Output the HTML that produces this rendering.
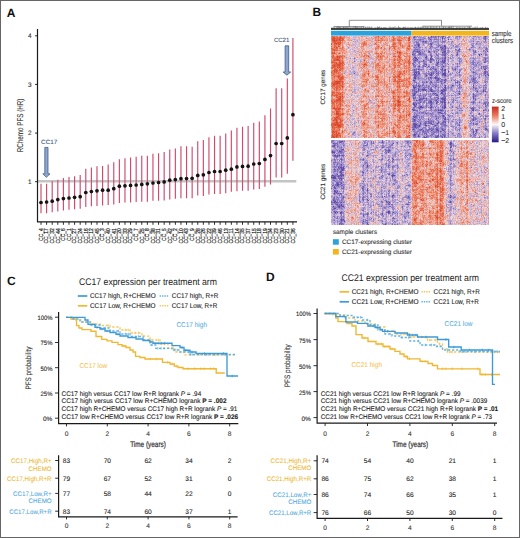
<!DOCTYPE html>
<html><head><meta charset="utf-8"><style>
html,body{margin:0;padding:0;background:#fff;}
svg{display:block;font-family:"Liberation Sans", sans-serif;} text{text-rendering:geometricPrecision;}
</style></head><body>
<svg width="520" height="538" viewBox="0 0 520 538">
<rect x="0" y="0" width="520" height="538" fill="#fff"/>
<text x="6.70" y="16.90" font-size="12.0" fill="#111" font-weight="bold">A</text>
<line x1="38" y1="181.3" x2="296.3" y2="181.3" stroke="#c4c4c4" stroke-width="2.4"/>
<path d="M41.00 183.8V213.3M46.60 183.8V213.2M52.20 181.3V212.2M57.79 179.8V211.4M63.39 178.0V210.5M68.99 177.0V209.8M74.59 176.2V209.2M80.19 175.0V208.7M85.78 168.8V207.0M91.38 167.5V206.3M96.98 166.3V206.0M102.58 166.0V205.4M108.18 164.6V205.0M113.77 162.3V204.4M119.37 159.2V203.0M124.97 158.3V202.5M130.57 157.5V202.5M136.17 156.7V202.0M141.76 155.8V201.7M147.36 155.8V201.7M152.96 153.7V200.8M158.56 153.3V200.8M164.16 152.1V200.4M169.75 149.4V199.4M175.35 148.5V198.8M180.95 146.3V198.3M186.55 146.3V198.3M192.15 146.7V198.3M197.74 141.2V195.6M203.34 140.0V196.0M208.94 137.3V194.4M214.54 135.8V194.0M220.14 135.8V194.0M225.73 133.5V193.3M231.33 130.6V191.8M236.93 127.7V191.2M242.53 126.8V190.7M248.13 126.0V190.7M253.72 122.7V189.6M259.32 121.5V189.1M264.92 115.3V186.8M270.52 108.5V184.4M276.12 88.2V177.4M281.71 88.2V177.4M287.31 78.5V173.7M292.91 38.0V160.8" stroke="#cf4a6c" stroke-width="1.15" fill="none"/>
<circle cx="41.00" cy="202.5" r="1.85" fill="#141414"/>
<circle cx="46.60" cy="202.0" r="1.85" fill="#141414"/>
<circle cx="52.20" cy="201.2" r="1.85" fill="#141414"/>
<circle cx="57.79" cy="199.6" r="1.85" fill="#141414"/>
<circle cx="63.39" cy="198.6" r="1.85" fill="#141414"/>
<circle cx="68.99" cy="198.0" r="1.85" fill="#141414"/>
<circle cx="74.59" cy="197.3" r="1.85" fill="#141414"/>
<circle cx="80.19" cy="196.7" r="1.85" fill="#141414"/>
<circle cx="85.78" cy="192.5" r="1.85" fill="#141414"/>
<circle cx="91.38" cy="191.5" r="1.85" fill="#141414"/>
<circle cx="96.98" cy="190.8" r="1.85" fill="#141414"/>
<circle cx="102.58" cy="190.2" r="1.85" fill="#141414"/>
<circle cx="108.18" cy="190.2" r="1.85" fill="#141414"/>
<circle cx="113.77" cy="188.7" r="1.85" fill="#141414"/>
<circle cx="119.37" cy="186.2" r="1.85" fill="#141414"/>
<circle cx="124.97" cy="185.8" r="1.85" fill="#141414"/>
<circle cx="130.57" cy="185.4" r="1.85" fill="#141414"/>
<circle cx="136.17" cy="185.0" r="1.85" fill="#141414"/>
<circle cx="141.76" cy="184.4" r="1.85" fill="#141414"/>
<circle cx="147.36" cy="183.8" r="1.85" fill="#141414"/>
<circle cx="152.96" cy="183.0" r="1.85" fill="#141414"/>
<circle cx="158.56" cy="182.5" r="1.85" fill="#141414"/>
<circle cx="164.16" cy="181.9" r="1.85" fill="#141414"/>
<circle cx="169.75" cy="180.2" r="1.85" fill="#141414"/>
<circle cx="175.35" cy="179.6" r="1.85" fill="#141414"/>
<circle cx="180.95" cy="178.7" r="1.85" fill="#141414"/>
<circle cx="186.55" cy="178.5" r="1.85" fill="#141414"/>
<circle cx="192.15" cy="178.3" r="1.85" fill="#141414"/>
<circle cx="197.74" cy="175.4" r="1.85" fill="#141414"/>
<circle cx="203.34" cy="174.8" r="1.85" fill="#141414"/>
<circle cx="208.94" cy="172.5" r="1.85" fill="#141414"/>
<circle cx="214.54" cy="171.5" r="1.85" fill="#141414"/>
<circle cx="220.14" cy="171.5" r="1.85" fill="#141414"/>
<circle cx="225.73" cy="170.2" r="1.85" fill="#141414"/>
<circle cx="231.33" cy="169.2" r="1.85" fill="#141414"/>
<circle cx="236.93" cy="166.9" r="1.85" fill="#141414"/>
<circle cx="242.53" cy="166.4" r="1.85" fill="#141414"/>
<circle cx="248.13" cy="166.2" r="1.85" fill="#141414"/>
<circle cx="253.72" cy="164.0" r="1.85" fill="#141414"/>
<circle cx="259.32" cy="163.5" r="1.85" fill="#141414"/>
<circle cx="264.92" cy="159.4" r="1.85" fill="#141414"/>
<circle cx="270.52" cy="155.6" r="1.85" fill="#141414"/>
<circle cx="276.12" cy="143.5" r="1.85" fill="#141414"/>
<circle cx="281.71" cy="143.5" r="1.85" fill="#141414"/>
<circle cx="287.31" cy="137.9" r="1.85" fill="#141414"/>
<circle cx="292.91" cy="114.7" r="1.85" fill="#141414"/>
<path d="M37.5 29V222.3M37 221.8H297" stroke="#1a1a1a" stroke-width="1.2" fill="none"/>
<text x="31.60" y="38.10" font-size="6.4" fill="#333" stroke="#333" stroke-width="0.1" text-anchor="end">4</text>
<text x="31.60" y="86.70" font-size="6.4" fill="#333" stroke="#333" stroke-width="0.1" text-anchor="end">3</text>
<text x="31.60" y="135.40" font-size="6.4" fill="#333" stroke="#333" stroke-width="0.1" text-anchor="end">2</text>
<text x="31.60" y="184.00" font-size="6.4" fill="#333" stroke="#333" stroke-width="0.1" text-anchor="end">1</text>
<path d="M35 35.8H37.5M35 84.4H37.5M35 133.1H37.5M35 181.7H37.5M41.00 222V224.8M46.60 222V224.8M52.20 222V224.8M57.79 222V224.8M63.39 222V224.8M68.99 222V224.8M74.59 222V224.8M80.19 222V224.8M85.78 222V224.8M91.38 222V224.8M96.98 222V224.8M102.58 222V224.8M108.18 222V224.8M113.77 222V224.8M119.37 222V224.8M124.97 222V224.8M130.57 222V224.8M136.17 222V224.8M141.76 222V224.8M147.36 222V224.8M152.96 222V224.8M158.56 222V224.8M164.16 222V224.8M169.75 222V224.8M175.35 222V224.8M180.95 222V224.8M186.55 222V224.8M192.15 222V224.8M197.74 222V224.8M203.34 222V224.8M208.94 222V224.8M214.54 222V224.8M220.14 222V224.8M225.73 222V224.8M231.33 222V224.8M236.93 222V224.8M242.53 222V224.8M248.13 222V224.8M253.72 222V224.8M259.32 222V224.8M264.92 222V224.8M270.52 222V224.8M276.12 222V224.8M281.71 222V224.8M287.31 222V224.8M292.91 222V224.8" stroke="#1a1a1a" stroke-width="0.9" fill="none"/>
<text x="42.80" y="228.30" font-size="6.0" fill="#222" stroke="#222" stroke-width="0.2" text-anchor="end" textLength="12.60" lengthAdjust="spacingAndGlyphs" transform="rotate(-90 42.80 228.30)">CC_4</text>
<text x="48.40" y="228.30" font-size="6.0" fill="#222" stroke="#222" stroke-width="0.2" text-anchor="end" textLength="15.30" lengthAdjust="spacingAndGlyphs" transform="rotate(-90 48.40 228.30)">CC_17</text>
<text x="54.00" y="228.30" font-size="6.0" fill="#222" stroke="#222" stroke-width="0.2" text-anchor="end" textLength="15.30" lengthAdjust="spacingAndGlyphs" transform="rotate(-90 54.00 228.30)">CC_32</text>
<text x="59.59" y="228.30" font-size="6.0" fill="#222" stroke="#222" stroke-width="0.2" text-anchor="end" textLength="15.30" lengthAdjust="spacingAndGlyphs" transform="rotate(-90 59.59 228.30)">CC_44</text>
<text x="65.19" y="228.30" font-size="6.0" fill="#222" stroke="#222" stroke-width="0.2" text-anchor="end" textLength="12.60" lengthAdjust="spacingAndGlyphs" transform="rotate(-90 65.19 228.30)">CC_6</text>
<text x="70.79" y="228.30" font-size="6.0" fill="#222" stroke="#222" stroke-width="0.2" text-anchor="end" textLength="12.60" lengthAdjust="spacingAndGlyphs" transform="rotate(-90 70.79 228.30)">CC_1</text>
<text x="76.39" y="228.30" font-size="6.0" fill="#222" stroke="#222" stroke-width="0.2" text-anchor="end" textLength="15.30" lengthAdjust="spacingAndGlyphs" transform="rotate(-90 76.39 228.30)">CC_27</text>
<text x="81.99" y="228.30" font-size="6.0" fill="#222" stroke="#222" stroke-width="0.2" text-anchor="end" textLength="15.30" lengthAdjust="spacingAndGlyphs" transform="rotate(-90 81.99 228.30)">CC_24</text>
<text x="87.58" y="228.30" font-size="6.0" fill="#222" stroke="#222" stroke-width="0.2" text-anchor="end" textLength="15.30" lengthAdjust="spacingAndGlyphs" transform="rotate(-90 87.58 228.30)">CC_16</text>
<text x="93.18" y="228.30" font-size="6.0" fill="#222" stroke="#222" stroke-width="0.2" text-anchor="end" textLength="15.30" lengthAdjust="spacingAndGlyphs" transform="rotate(-90 93.18 228.30)">CC_12</text>
<text x="98.78" y="228.30" font-size="6.0" fill="#222" stroke="#222" stroke-width="0.2" text-anchor="end" textLength="15.30" lengthAdjust="spacingAndGlyphs" transform="rotate(-90 98.78 228.30)">CC_45</text>
<text x="104.38" y="228.30" font-size="6.0" fill="#222" stroke="#222" stroke-width="0.2" text-anchor="end" textLength="12.60" lengthAdjust="spacingAndGlyphs" transform="rotate(-90 104.38 228.30)">CC_3</text>
<text x="109.98" y="228.30" font-size="6.0" fill="#222" stroke="#222" stroke-width="0.2" text-anchor="end" textLength="15.30" lengthAdjust="spacingAndGlyphs" transform="rotate(-90 109.98 228.30)">CC_40</text>
<text x="115.57" y="228.30" font-size="6.0" fill="#222" stroke="#222" stroke-width="0.2" text-anchor="end" textLength="15.30" lengthAdjust="spacingAndGlyphs" transform="rotate(-90 115.57 228.30)">CC_41</text>
<text x="121.17" y="228.30" font-size="6.0" fill="#222" stroke="#222" stroke-width="0.2" text-anchor="end" textLength="15.30" lengthAdjust="spacingAndGlyphs" transform="rotate(-90 121.17 228.30)">CC_20</text>
<text x="126.77" y="228.30" font-size="6.0" fill="#222" stroke="#222" stroke-width="0.2" text-anchor="end" textLength="15.30" lengthAdjust="spacingAndGlyphs" transform="rotate(-90 126.77 228.30)">CC_33</text>
<text x="132.37" y="228.30" font-size="6.0" fill="#222" stroke="#222" stroke-width="0.2" text-anchor="end" textLength="15.30" lengthAdjust="spacingAndGlyphs" transform="rotate(-90 132.37 228.30)">CC_29</text>
<text x="137.97" y="228.30" font-size="6.0" fill="#222" stroke="#222" stroke-width="0.2" text-anchor="end" textLength="12.60" lengthAdjust="spacingAndGlyphs" transform="rotate(-90 137.97 228.30)">CC_7</text>
<text x="143.56" y="228.30" font-size="6.0" fill="#222" stroke="#222" stroke-width="0.2" text-anchor="end" textLength="15.30" lengthAdjust="spacingAndGlyphs" transform="rotate(-90 143.56 228.30)">CC_25</text>
<text x="149.16" y="228.30" font-size="6.0" fill="#222" stroke="#222" stroke-width="0.2" text-anchor="end" textLength="12.60" lengthAdjust="spacingAndGlyphs" transform="rotate(-90 149.16 228.30)">CC_8</text>
<text x="154.76" y="228.30" font-size="6.0" fill="#222" stroke="#222" stroke-width="0.2" text-anchor="end" textLength="15.30" lengthAdjust="spacingAndGlyphs" transform="rotate(-90 154.76 228.30)">CC_38</text>
<text x="160.36" y="228.30" font-size="6.0" fill="#222" stroke="#222" stroke-width="0.2" text-anchor="end" textLength="15.30" lengthAdjust="spacingAndGlyphs" transform="rotate(-90 160.36 228.30)">CC_31</text>
<text x="165.96" y="228.30" font-size="6.0" fill="#222" stroke="#222" stroke-width="0.2" text-anchor="end" textLength="12.60" lengthAdjust="spacingAndGlyphs" transform="rotate(-90 165.96 228.30)">CC_5</text>
<text x="171.55" y="228.30" font-size="6.0" fill="#222" stroke="#222" stroke-width="0.2" text-anchor="end" textLength="15.30" lengthAdjust="spacingAndGlyphs" transform="rotate(-90 171.55 228.30)">CC_42</text>
<text x="177.15" y="228.30" font-size="6.0" fill="#222" stroke="#222" stroke-width="0.2" text-anchor="end" textLength="12.60" lengthAdjust="spacingAndGlyphs" transform="rotate(-90 177.15 228.30)">CC_2</text>
<text x="182.75" y="228.30" font-size="6.0" fill="#222" stroke="#222" stroke-width="0.2" text-anchor="end" textLength="15.30" lengthAdjust="spacingAndGlyphs" transform="rotate(-90 182.75 228.30)">CC_10</text>
<text x="188.35" y="228.30" font-size="6.0" fill="#222" stroke="#222" stroke-width="0.2" text-anchor="end" textLength="15.30" lengthAdjust="spacingAndGlyphs" transform="rotate(-90 188.35 228.30)">CC_43</text>
<text x="193.95" y="228.30" font-size="6.0" fill="#222" stroke="#222" stroke-width="0.2" text-anchor="end" textLength="12.60" lengthAdjust="spacingAndGlyphs" transform="rotate(-90 193.95 228.30)">CC_9</text>
<text x="199.54" y="228.30" font-size="6.0" fill="#222" stroke="#222" stroke-width="0.2" text-anchor="end" textLength="15.30" lengthAdjust="spacingAndGlyphs" transform="rotate(-90 199.54 228.30)">CC_28</text>
<text x="205.14" y="228.30" font-size="6.0" fill="#222" stroke="#222" stroke-width="0.2" text-anchor="end" textLength="15.30" lengthAdjust="spacingAndGlyphs" transform="rotate(-90 205.14 228.30)">CC_26</text>
<text x="210.74" y="228.30" font-size="6.0" fill="#222" stroke="#222" stroke-width="0.2" text-anchor="end" textLength="15.30" lengthAdjust="spacingAndGlyphs" transform="rotate(-90 210.74 228.30)">CC_22</text>
<text x="216.34" y="228.30" font-size="6.0" fill="#222" stroke="#222" stroke-width="0.2" text-anchor="end" textLength="15.30" lengthAdjust="spacingAndGlyphs" transform="rotate(-90 216.34 228.30)">CC_39</text>
<text x="221.94" y="228.30" font-size="6.0" fill="#222" stroke="#222" stroke-width="0.2" text-anchor="end" textLength="15.30" lengthAdjust="spacingAndGlyphs" transform="rotate(-90 221.94 228.30)">CC_46</text>
<text x="227.53" y="228.30" font-size="6.0" fill="#222" stroke="#222" stroke-width="0.2" text-anchor="end" textLength="15.30" lengthAdjust="spacingAndGlyphs" transform="rotate(-90 227.53 228.30)">CC_13</text>
<text x="233.13" y="228.30" font-size="6.0" fill="#222" stroke="#222" stroke-width="0.2" text-anchor="end" textLength="15.30" lengthAdjust="spacingAndGlyphs" transform="rotate(-90 233.13 228.30)">CC_11</text>
<text x="238.73" y="228.30" font-size="6.0" fill="#222" stroke="#222" stroke-width="0.2" text-anchor="end" textLength="15.30" lengthAdjust="spacingAndGlyphs" transform="rotate(-90 238.73 228.30)">CC_14</text>
<text x="244.33" y="228.30" font-size="6.0" fill="#222" stroke="#222" stroke-width="0.2" text-anchor="end" textLength="15.30" lengthAdjust="spacingAndGlyphs" transform="rotate(-90 244.33 228.30)">CC_35</text>
<text x="249.93" y="228.30" font-size="6.0" fill="#222" stroke="#222" stroke-width="0.2" text-anchor="end" textLength="15.30" lengthAdjust="spacingAndGlyphs" transform="rotate(-90 249.93 228.30)">CC_37</text>
<text x="255.52" y="228.30" font-size="6.0" fill="#222" stroke="#222" stroke-width="0.2" text-anchor="end" textLength="15.30" lengthAdjust="spacingAndGlyphs" transform="rotate(-90 255.52 228.30)">CC_15</text>
<text x="261.12" y="228.30" font-size="6.0" fill="#222" stroke="#222" stroke-width="0.2" text-anchor="end" textLength="15.30" lengthAdjust="spacingAndGlyphs" transform="rotate(-90 261.12 228.30)">CC_18</text>
<text x="266.72" y="228.30" font-size="6.0" fill="#222" stroke="#222" stroke-width="0.2" text-anchor="end" textLength="15.30" lengthAdjust="spacingAndGlyphs" transform="rotate(-90 266.72 228.30)">CC_19</text>
<text x="272.32" y="228.30" font-size="6.0" fill="#222" stroke="#222" stroke-width="0.2" text-anchor="end" textLength="15.30" lengthAdjust="spacingAndGlyphs" transform="rotate(-90 272.32 228.30)">CC_34</text>
<text x="277.92" y="228.30" font-size="6.0" fill="#222" stroke="#222" stroke-width="0.2" text-anchor="end" textLength="15.30" lengthAdjust="spacingAndGlyphs" transform="rotate(-90 277.92 228.30)">CC_23</text>
<text x="283.51" y="228.30" font-size="6.0" fill="#222" stroke="#222" stroke-width="0.2" text-anchor="end" textLength="15.30" lengthAdjust="spacingAndGlyphs" transform="rotate(-90 283.51 228.30)">CC_30</text>
<text x="289.11" y="228.30" font-size="6.0" fill="#222" stroke="#222" stroke-width="0.2" text-anchor="end" textLength="15.30" lengthAdjust="spacingAndGlyphs" transform="rotate(-90 289.11 228.30)">CC_21</text>
<text x="294.71" y="228.30" font-size="6.0" fill="#222" stroke="#222" stroke-width="0.2" text-anchor="end" textLength="15.30" lengthAdjust="spacingAndGlyphs" transform="rotate(-90 294.71 228.30)">CC_36</text>
<text x="0" y="0" font-size="8.5" fill="#333" transform="translate(23.00 125.40) rotate(-90) scale(0.7356 1)" text-anchor="middle" stroke="#333" stroke-width="0.1">RChemo PFS (HR)</text>
<text x="41.10" y="143.60" font-size="6.2" fill="#3d5580" stroke="#3d5580" stroke-width="0.1" textLength="16.20" lengthAdjust="spacingAndGlyphs">CC17</text>
<text x="273.90" y="41.60" font-size="6.0" fill="#4a5a80" stroke="#4a5a80" stroke-width="0.1" textLength="15.40" lengthAdjust="spacingAndGlyphs">CC21</text>
<path d="M44.80 147.4H48.00V173.8H50.00L46.40 177.3L42.80 173.8H44.80Z" fill="#8ea6d0" stroke="#3e5680" stroke-width="0.75"/>
<path d="M285.10 45.8H288.70V72.0H290.70L286.90 75.2L283.10 72.0H285.10Z" fill="#8ea6d0" stroke="#3e5680" stroke-width="0.75"/>
<text x="312.50" y="16.40" font-size="11.9" fill="#111" font-weight="bold">B</text>
<defs><filter id="hb" x="0" y="0" width="1" height="1"><feGaussianBlur stdDeviation="0.35"/></filter><clipPath id="hc"><rect x="331" y="36" width="158" height="189"/></clipPath></defs>
<g clip-path="url(#hc)"><g filter="url(#hb)">
<path stroke="rgb(239,153,129)" stroke-width="1" d="M331.5 40v2m0 15v1m0 8v1m0 3v1m0 5v1m0 1v1m0 6v1m0 7v1m0 3v1m1 -53v1m0 1v1m0 21v1m0 6v1m0 44v1m1 -79v1m0 2v1m0 21v1m0 9v1m0 1v1m0 30v1m0 4v1m0 1v1m1 -65v1m0 43v1m0 13v1m1 -39v1m0 2v2m0 10v1m0 6v1m0 7v2m0 6v1m1 -62v1m0 3v1m0 21v2m0 19v1m0 29v1m1 -83v1m0 15v1m0 11v1m1 -21v1m0 76v1m2 -86v2m0 4v1m0 20v1m1 -19v1m0 3v1m0 10v1m0 19v1m0 7v1m0 7v1m0 8v1m1 -73v1m0 7v1m0 2v1m0 48v1m0 12v2m0 10v2m1 -94v1m0 9v1m0 1v1m0 2v2m0 4v1m0 6v1m0 1v1m0 16v1m0 6v1m0 3v1m0 3v1m0 11v1m0 8v1m0 13v1m1 -92v1m0 9v1m0 2v1m0 21v1m0 1v1m0 4v1m0 16v2m1 -2v1m1 2v1m0 7v1m0 4v1m0 9v1m0 3v1m1 -27v2m1 -67v1m0 42v1m0 34v1m0 14v1m1 -96v1m0 1v1m0 20v1m0 11v1m1 16v1m0 14v1m1 -61v1m0 37v1m5 23v1m0 3v1m3 -47v2m0 1v1m0 16v1m1 -2v1m0 15v2m1 -57v1m0 18v1m0 3v1m0 14v1m0 1v1m0 12v2m0 7v1m0 4v1m0 10v1m0 1v1m1 -78v1m0 28v1m0 1v1m0 32v1m1 -72v2m0 10v1m0 5v1m0 3v1m0 26v1m0 2v1m0 1v1m0 9v1m0 2v1m0 9v1m0 7v1m1 -78v1m0 4v1m0 2v2m0 3v1m0 9v1m0 5v1m0 11v1m0 19v1m0 2v1m0 7v1m0 10v1m1 -76v1m0 2v1m0 1v1m0 5v1m0 4v1m0 2v1m0 3v1m0 14v1m0 19v2m0 11v1m0 6v1m1 -91v2m0 10v2m0 7v1m0 3v1m0 1v2m0 17v2m0 16v1m0 1v1m0 5v1m0 6v1m0 2v1m0 9v1m1 -100v1m0 17v1m0 52v1m0 16v1m0 6v1m1 -90v1m0 12v1m0 18v1m0 3v1m0 3v1m0 13v1m0 9v1m0 2v2m0 7v1m0 1v1m0 9v1m1 -93v1m0 15v1m0 70v1m1 -88v1m0 36v1m0 49v1m0 7v1m1 -59v1m0 6v1m0 42v1m1 -31v1m1 -60v1m0 28v1m0 69v1m1 -101v2m1 -3v1m0 43v1m0 3v1m0 20v1m0 2v1m1 -71v2m0 7v1m0 8v1m0 14v1m0 6v1m0 11v1m0 3v1m0 14v1m0 15v1m0 1v1m1 -91v2m0 5v1m0 9v1m0 11v1m0 1v1m0 1v1m0 11v1m0 7v1m0 7v1m0 23v1m1 -82v1m0 3v1m0 3v1m0 17v2m0 3v1m0 17v1m0 8v1m0 23v1m0 4v1m1 -92v1m0 7v1m0 1v1m0 10v1m0 15v1m0 8v1m0 11v2m0 24v2m0 1v1m1 -86v1m0 7v1m0 13v2m0 4v2m0 12v1m0 3v1m0 6v1m0 3v1m0 2v1m0 15v1m0 6v1m1 -71v1m0 2v1m0 17v1m0 3v1m0 19v1m0 5v1m0 4v1m0 4v1m0 7v1m0 5v2m1 -93v1m0 16v1m0 11v2m0 3v1m0 5v1m0 2v1m0 4v1m0 4v1m0 8v1m0 1v1m0 7v1m0 4v1m0 8v1m0 3v1m1 -89v1m0 14v1m0 12v1m0 2v1m0 9v1m0 11v1m0 23v1m0 17v1m1 -95v1m0 19v1m0 9v1m0 6v1m0 11v1m0 3v1m0 12v1m0 2v1m0 6v1m0 6v1m0 9v2m0 3v1m1 -99v2m0 24v1m0 48v1m0 3v1m0 5v1m1 -88v2m0 6v1m0 7v1m0 8v1m0 7v1m0 11v1m0 8v1m0 22v1m0 4v1m0 3v1m0 9v1m1 -96v1m0 15v1m0 31v1m0 1v2m0 1v1m0 8v1m0 1v1m0 16v1m0 2v1m1 -40v1m0 3v1m1 -48v1m0 12v1m0 2v1m0 6v1m0 24v1m0 5v1m0 25v1m0 7v1m1 -81v1m0 10v1m0 71v1m1 -92v1m0 23v1m0 7v1m0 18v1m0 21v1m0 10v1m0 8v1m1 -97v1m0 3v1m0 1v1m0 15v1m0 9v1m0 3v1m0 22v1m0 1v1m0 30v1m0 2v2m1 -82v1m0 2v1m0 2v1m0 16v1m0 4v1m0 21v1m0 12v2m0 5v1m0 11v2m1 -51v2m0 8v1m0 7v1m0 6v1m0 8v1m0 8v1m0 7v1m1 -89v1m0 1v1m0 4v1m0 27v2m0 8v1m0 3v1m0 4v1m0 7v2m0 8v1m1 -83v1m0 6v1m0 10v1m0 45v1m0 1v1m1 -63v1m0 5v1m0 18v1m0 25v1m0 1v1m0 13v1m0 1v1m0 8v1m0 8v1m0 4v1m1 -99v1m0 8v1m0 3v1m0 44v1m0 13v1m0 3v1m0 8v1m0 8v1m1 -84v2m0 15v1m0 25v1m0 35v1m0 5v1m1 -97v1m0 10v2m0 20v2m0 4v1m0 4v1m0 1v1m0 2v1m0 4v1m0 8v2m0 7v2m0 13v1m0 1v1m0 6v1m1 -91v2m0 1v2m0 4v1m0 11v1m0 14v1m0 6v1m0 6v1m0 13v1m0 14v2m0 9v1m1 -97v1m0 16v1m0 5v1m0 8v1m0 6v1m0 21v1m0 3v1m0 1v1m0 3v1m0 4v1m1 -68v1m0 14v1m0 1v1m0 12v1m0 30v1m0 11v1m0 5v1m1 -80v1m0 5v1m0 3v1m0 18v1m0 1v1m0 4v1m0 8v1m0 10v1m0 1v1m0 10v1m0 5v1m0 6v2m1 -85v1m0 8v1m0 16v1m0 3v1m0 3v2m0 5v2m0 6v1m0 1v1m0 5v1m0 20v1m0 6v1m0 1v1m1 -89v1m0 3v1m0 3v1m0 8v1m0 3v1m0 4v1m0 28v2m0 6v1m0 11v1m0 2v1m1 -82v1m0 2v1m0 10v1m0 11v2m0 16v2m0 38v1m0 7v1m1 -86v1m0 11v1m0 28v1m0 12v1m0 7v1m0 2v1m0 11v1m0 9v1m1 -94v1m0 53v1m0 7v1m0 6v1m0 11v1m1 -67v3m0 22v2m50 -18v1m1 -23v2m1 11v1m0 59v1m0 15v1m1 -80v1m1 -11v1m0 25v1m0 9v1m0 15v2m0 1v1m0 17v1m0 9v1m1 -71v1m0 22v4m0 11v3m0 32v1m1 -90v1m0 11v1m0 28v1m0 12v1m0 7v1m0 23v1m1 -65v1m1 -8v1m0 45v1m14 -46v1m-137 115v1m1 -25v1m0 6v1m0 55v1m2 -62v1m0 68v1m1 -40v1m1 -18v1m0 9v1m1 16v1m1 -14v1m0 32v1m1 -58v1m1 55v1m1 -21v1m0 1v1m0 1v1m0 3v1m0 10v4m0 7v1m1 -43v2m0 1v2m0 41v2m1 -85v1m0 16v1m0 22v1m0 22v1m1 -59v1m0 18v1m0 41v2m0 11v1m0 4v1m16 -16v1m3 -57v1m23 -14v1m12 7v1m0 8v1m0 16v1m0 6v1m0 3v1m0 5v1m0 2v1m0 1v1m0 5v2m0 2v2m1 -65v1m0 2v1m0 15v1m0 11v1m0 2v1m0 7v1m0 10v1m0 3v1m0 3v1m0 13v1m0 1v1m1 -57v1m0 3v1m0 26v1m0 6v1m0 5v2m0 4v1m0 8v1m1 -57v1m0 10v1m0 12v1m0 1v1m0 10v1m1 -62v1m0 1v1m0 6v1m0 26v1m0 13v1m0 7v1m0 8v1m0 10v1m0 2v1m1 -79v2m0 12v1m0 4v1m0 22v1m0 2v1m0 13v1m0 5v1m0 5v1m1 -75v1m0 4v1m0 5v1m0 4v1m0 12v1m0 1v1m0 5v1m0 3v1m0 1v2m0 14v1m0 13v1m0 6v1m1 -76v1m0 7v1m0 24v1m0 8v1m0 15v1m0 5v1m1 -72v1m0 1v1m0 6v1m0 8v1m0 22v1m0 1v1m0 2v1m0 2v1m0 1v1m0 14v1m0 6v1m1 -74v1m0 4v1m0 4v1m0 6v2m0 2v1m0 3v1m0 3v1m0 15v1m0 7v1m0 1v3m0 8v1m1 -68v1m0 29v1m0 9v1m0 20v2m0 10v2m0 1v2m0 2v1m0 2v1m1 -72v1m0 7v1m0 3v2m0 11v2m0 12v1m0 9v1m0 13v2m1 -69v1m0 5v1m0 24v1m0 1v1m0 22v1m0 17v1m1 -79v1m0 9v1m0 5v1m0 8v1m0 10v1m0 6v1m0 27v1m0 2v2m0 3v1m1 -77v1m0 20v1m0 1v1m0 9v1m0 7v1m0 4v1m0 3v1m0 9v1m0 2v1m0 3v1m1 -67v1m0 14v1m0 8v1m0 40v1m0 6v1m1 -68v1m0 22v1m1 -16v1m0 27v1m0 1v1m0 6v1m0 10v1m0 8v1m0 2v1m0 2v1m1 -78v1m0 15v1m0 15v1m0 8v1m0 16v1m0 4v1m1 -68v1m0 3v2m0 2v1m0 26v1m0 1v3m0 4v1m0 1v1m0 3v1m0 12v1m0 3v1m0 1v1m0 2v1m0 3v1m0 2v1m1 -69v1m0 5v1m0 5v1m0 4v1m0 3v1m0 2v1m0 9v1m0 3v1m0 7v1m0 10v1m0 3v1m0 8v1m1 -84v1m0 1v1m0 14v1m0 18v1m0 7v1m0 1v1m0 5v2m0 20v1m0 1v1m0 5v1m1 -84v2m0 11v1m0 3v1m0 27v2m0 8v1m0 2v1m1 -56v1m0 1v1m0 13v1m0 12v1m0 9v1m0 6v1m0 3v2m0 1v1m0 5v1m0 2v1m0 5v1m0 7v1m1 -72v1m0 27v1m0 7v1m0 6v1m0 9v1m0 8v1m1 -62v2m0 12v1m0 24v1m0 15v1m1 -63v1m0 6v1m0 3v1m0 18v1m0 4v1m0 1v1m0 5v1m0 7v1m0 10v3m0 3v1m0 4v1m1 -74v1m0 10v1m0 5v1m0 15v1m0 2v1m0 1v1m0 9v1m0 13v1m0 2v1m0 7v1m0 4v1m0 2v1m1 -78v1m0 2v1m0 16v1m0 35v1m1 -41v1m0 2v2m0 2v1m0 27v1m0 20v2m1 -66v1m0 8v1m0 5v1m0 2v1m0 8v1m0 22v1m0 12v1m1 -77v1m0 5v1m0 4v1m0 2v2m0 15v1m0 2v1m0 5v1m0 5v1m0 3v1m0 16v1m0 7v1m1 -53v1m0 17v2m0 1v1m0 4v1m1 -29v1m0 29v1m0 23v1m2 -66v2m0 39v1m0 27v1m1 -60v1m8 18v1m0 17v1m1 -42v2m0 8v1m0 12v1m0 17v1m1 -20v2m1 -1v1m1 -39v1m0 20v1m0 5v1m0 2v1m0 9v1m0 14v1m0 2v1m0 4v2m1 -66v1m0 42v1m0 1v1m0 24v1m0 10v1m1 -58v1m0 7v1m0 26v1m1 -53v1m0 12v2m0 1v1m0 2v1m0 16v1m0 24v1m0 10v1m1 -65v1m0 11v1m0 1v1m0 6v1m0 29v2m1 -68v1m0 11v1m0 2v1m0 11v1m0 1v1m0 28v1m1 -60v1m0 1v1m0 11v1m0 7v1m0 7v2m0 2v1m0 8v1m0 5v1m0 6v2m1 -32v1m0 11v1m0 9v1m1 -16v1m0 6v1m0 10v1m0 18v1m0 10v2m1 -23v1m0 2v1m0 15v1m3 -64v2m0 6v1m0 24v1m0 12v1m1 -39v1m1 26v1m1 -47v1m0 18v1m0 26v1m0 20v1m0 11v1m3 -15v1m2 -63v1m0 54v1m0 15v1m2 -5v1m0 3v1m1 -61v1m0 1v1m0 4v1m0 42v1m0 5v1m2 -4v1m0 2v1m3 -60v1m0 45v1"/>
<path stroke="rgb(202,169,194)" stroke-width="1" d="M344.5 71v2m1 -2v2m0 17v1m0 30v1m1 -77v1m0 24v1m1 -34v1m0 8v1m0 53v1m1 -6v1m3 41v1m1 -67v1m0 19v1m0 8v1m0 3v1m0 4v1m0 8v2m0 15v1m1 -74v1m1 -19v1m0 18v1m0 14v1m0 3v1m0 2v1m0 1v1m1 45v1m1 -79v1m0 3v1m0 24v1m1 -38v1m0 47v1m1 -60v1m0 12v1m0 13v1m0 6v1m0 24v1m0 8v1m0 28v1m1 -14v1m0 13v1m1 -88v1m0 23v1m0 45v1m0 10v1m0 5v1m7 -75v1m2 -22v1m0 11v2m0 12v1m0 3v1m0 46v1m1 -16v3m1 -59v1m0 20v1m0 40v1m1 -67v1m0 21v1m0 9v1m0 4v1m0 14v1m0 13v1m1 -38v1m0 29v1m0 6v1m1 -50v1m0 39v1m0 31v1m6 -2v1m1 -85v1m5 47v1m0 16v1m4 -25v1m0 10v1m0 1v2m3 -16v1m11 49v1m1 -37v1m1 -64v1m4 32v1m0 49v1m0 13v1m1 -89v1m0 3v1m0 69v1m0 13v1m7 -54v1m3 -37v1m0 4v1m0 23v1m1 2v1m0 32v2m3 -27v1m0 8v1m0 11v1m0 13v1m1 -74v1m0 24v1m0 36v1m1 -33v1m0 7v1m1 -15v1m0 45v1m1 -63v1m0 29v1m0 49v1m1 -10v1m1 -62v1m1 16v1m1 -37v1m1 50v1m4 22v1m1 -34v1m0 36v1m1 -82v1m3 38v1m3 -40v1m0 52v1m1 -39v1m0 38v1m0 6v1m0 6v1m1 -15v1m0 1v1m0 1v1m0 5v1m0 4v1m0 16v1m1 -61v1m0 50v2m1 -76v1m0 10v1m1 11v1m0 53v1m1 -80v1m0 3v1m0 33v1m1 -39v1m0 8v1m0 52v1m0 23v1m1 -80v1m0 22v1m0 2v1m0 18v1m0 1v1m2 11v1m0 18v1m1 -88v2m0 33v1m0 10v1m1 -8v1m1 -26v1m0 40v1m1 -33v1m0 18v1m0 15v1m1 -38v1m1 -11v1m0 15v1m0 24v1m0 25v1m1 -69v1m0 16v1m0 39v1m1 -64v1m0 44v1m0 46v1m1 -31v1m2 -13v1m0 22v1m1 -79v1m0 54v1m1 -43v1m0 7v1m0 2v1m1 -26v2m0 10v1m1 -15v1m0 16v1m0 15v1m0 14v1m0 6v1m1 43v1m2 -16v1m2 -62v1m0 46v1m1 -62v1m0 24v1m1 -19v1m0 2v2m0 5v1m0 56v1m0 2v1m0 1v1m0 7v2m1 -11v1m0 4v1m1 -81v1m0 1v1m0 44v1m0 2v1m1 -64v1m0 15v1m0 33v1m0 40v1m1 -83v1m0 11v1m0 10v1m0 6v1m0 6v1m0 3v1m0 50v1m1 -6v1m4 -77v1m0 39v1m0 17v1m1 -68v1m0 3v1m0 15v1m0 3v1m0 12v1m0 5v1m0 37v1m-157 90v1m1 -57v1m0 52v1m3 -12v1m1 -11v1m3 16v1m0 3v1m3 5v1m2 -48v1m0 1v1m0 2v1m0 13v1m1 -47v1m0 12v1m1 -19v1m0 59v1m1 -46v1m0 2v1m0 2v1m0 8v1m1 -8v1m0 9v1m0 3v1m0 3v1m0 20v1m0 7v1m1 -11v1m1 -63v1m0 5v1m0 65v1m1 -61v1m0 34v1m0 18v1m0 14v1m1 -81v1m1 44v1m1 -24v1m0 55v1m0 3v1m1 -9v1m1 -71v1m0 37v1m0 9v1m0 5v1m0 12v2m2 -23v1m1 -17v1m0 37v1m1 -73v1m0 27v1m0 39v1m1 -31v1m0 26v1m1 -3v1m2 -49v1m0 7v2m1 17v1m1 -2v1m0 17v1m1 -45v1m0 18v1m0 10v1m0 22v1m1 -62v1m0 20v1m0 44v1m1 -69v1m0 74v1m1 -56v1m0 16v1m0 13v1m0 21v1m1 -74v1m0 19v1m0 5v1m0 25v1m1 -15v1m0 23v1m0 10v1m1 -24v2m0 17v1m2 -48v1m0 2v1m0 5v1m0 16v2m0 8v1m1 -17v1m1 -18v1m0 26v1m1 -29v1m0 36v1m1 -18v1m0 28v1m1 -71v1m0 14v1m0 13v1m0 10v1m0 8v1m1 -43v1m0 5v1m0 22v1m1 -24v1m0 36v1m1 -37v1m0 26v1m1 -50v1m0 32v1m2 23v1m2 15v1m1 5v1m1 -73v1m0 41v1m0 8v1m0 21v1m1 -12v1m1 -49v2m0 6v1m0 20v1m2 -32v1m0 24v1m0 4v1m0 2v1m0 5v1m1 -15v1m0 36v1m1 -57v1m0 8v1m0 8v1m0 33v1m1 -24v1m0 3v1m1 -60v1m0 2v1m0 19v1m0 1v1m0 8v1m0 19v1m0 21v1m1 -37v1m0 33v1m1 -74v1m0 34v1m0 36v1m0 5v1m1 -63v1m0 17v1m2 -35v1m0 35v1m0 19v1m0 1v1m1 -30v1m0 19v1m0 9v1m1 -17v1m0 5v1m1 -4v1m0 17v1m0 2v1m1 -57v1m0 6v1m0 39v1m0 20v1m2 -35v1m1 3v1m0 22v1m1 -72v1m0 7v1m0 46v1m16 -40v1m1 29v1m3 -45v1m8 55v1m7 -8v1m0 8v1m1 -20v1m0 21v1m1 -20v1m1 -20v1m0 12v1m0 16v1m0 8v1m0 1v1m0 5v1m0 6v1m1 -4v1m1 -50v1m1 30v2m0 3v1m1 -37v1m0 36v1m1 -58v1m0 33v1m0 29v1m0 8v1m1 -66v1m0 61v1m1 -8v2m1 -13v1m0 6v1m1 -56v1m0 38v1m1 5v1m0 23v1m1 -6v1m2 -22v1m2 -26v1m1 45v1m3 -73v1m1 38v1m0 7v1m1 -34v1m0 5v2m0 29v1m1 -22v1m0 10v1m2 -46v1m0 6v1m0 45v1m0 10v1m0 16v1m1 -40v1m0 9v1m0 8v1m1 -39v1m0 55v1m1 -3v1m1 -79v1m0 19v1m0 16v1m0 6v1m0 37v1m1 -27v1m1 -56v1m0 45v1m0 23v1m0 2v1m1 -50v1m1 -18v1m0 7v1m0 10v1m0 45v1m3 -71v1m0 9v1m0 5v1m0 1v1m0 13v1m2 -20v1m0 10v1m0 35v1m0 14v1m0 2v1m1 -67v1m1 -5v1m0 4v1m0 39v1"/>
<path stroke="rgb(182,158,199)" stroke-width="1" d="M346.5 128v1m1 -10v1m1 16v1m2 -27v1m0 11v1m0 1v1m1 6v1m3 -85v1m0 9v1m0 64v1m1 -82v1m0 10v1m0 5v1m0 73v1m3 -31v1m0 10v1m3 -53v1m8 -8v1m0 8v1m2 -23v1m0 16v1m0 4v1m1 -25v1m2 62v2m36 -14v1m1 -21v1m0 22v1m1 -55v1m0 1v1m1 1v1m2 57v1m1 -62v1m0 24v1m0 24v1m0 7v1m1 -41v1m0 8v1m0 27v1m0 12v1m0 21v1m1 -49v1m0 15v1m0 5v1m0 11v1m1 -80v2m1 -3v1m1 3v1m0 64v1m1 -36v1m0 2v1m0 6v1m0 12v1m0 30v1m1 -76v1m0 53v1m0 4v1m1 -64v1m0 6v1m0 18v1m0 5v2m0 37v1m1 -32v1m1 -39v1m1 42v1m0 2v1m0 40v1m1 -80v1m0 2v1m0 6v1m0 1v1m1 10v1m1 -3v1m2 -26v1m0 17v1m0 10v1m0 14v1m0 2v1m0 1v1m1 -24v1m0 30v1m1 -34v1m0 38v1m0 5v1m1 -9v1m0 4v1m1 -78v1m0 1v1m0 7v1m0 63v1m1 -63v1m0 3v1m0 11v1m0 17v1m0 18v1m1 -12v1m1 -37v1m0 44v2m0 25v2m1 -81v1m0 8v1m0 27v1m0 32v1m1 -67v1m0 12v1m1 8v1m1 -1v1m0 55v1m1 -23v1m1 -44v1m1 -21v1m0 24v1m1 -27v1m0 11v2m0 17v1m0 7v1m0 34v1m2 -71v1m0 39v1m1 -37v1m0 5v1m0 16v1m0 26v1m0 7v1m1 -73v1m0 36v1m0 11v1m0 17v1m0 6v1m0 7v1m0 5v1m1 -60v1m1 61v1m0 1v1m1 -68v1m0 42v1m1 -61v2m0 28v1m0 17v1m0 13v1m1 -50v1m0 11v1m0 54v1m1 -72v1m0 28v1m0 20v1m0 6v1m1 -72v1m0 8v1m0 37v1m0 20v1m0 5v1m0 16v1m1 -85v1m0 20v1m0 57v2m1 -40v1m1 -26v1m0 52v1m1 -32v1m5 5v1m2 -49v1m1 5v1m0 12v1m0 44v1m1 -68v1m1 11v1m0 73v1m2 -56v1m0 47v1m1 -17v1m0 6v1m1 -74v1m0 53v1m0 2v1m0 16v1m1 -47v1m0 8v1m0 22v1m1 -64v1m0 8v1m0 11v1m0 3v1m0 11v1m0 1v1m0 2v1m0 9v2m0 2v1m1 2v1m0 7v1m1 -71v1m0 9v1m0 27v1m1 -37v1m0 2v1m0 9v1m0 71v1m1 -58v1m1 11v1m0 27v1m0 28v1m1 -41v1m0 16v1m0 7v2m0 3v1m1 -83v1m0 89v1m1 -26v1m1 -40v1m0 22v1m0 1v1m0 13v1m0 2v1m0 1v1m0 12v1m0 4v1m1 -70v1m0 16v1m0 15v1m0 10v1m-157 39v1m0 22v1m0 2v1m0 6v1m0 31v1m1 -46v1m0 12v1m0 18v1m1 -39v1m0 30v1m0 2v1m0 8v1m0 10v1m0 3v1m1 -70v1m1 23v1m0 22v1m1 12v1m1 -49v1m0 61v1m1 -74v1m0 10v1m0 56v1m1 -27v1m0 16v1m2 -20v1m3 -49v1m0 21v1m0 39v2m0 9v1m0 6v1m1 -26v1m3 -39v1m0 35v1m3 -25v1m3 23v1m5 -37v1m0 23v2m0 1v1m2 -43v1m0 65v1m1 -62v1m0 14v1m0 16v1m0 14v1m0 11v1m2 0v1m0 1v1m0 1v1m1 -56v1m0 1v1m0 3v2m0 2v1m0 10v1m0 10v1m0 11v1m1 -57v1m0 71v1m1 -38v1m0 27v1m1 -63v1m1 -7v1m0 25v1m0 37v1m0 14v1m1 -81v1m0 8v1m0 47v1m1 -43v1m0 19v1m0 45v1m1 -63v1m0 18v1m0 42v1m1 -38v1m0 24v1m0 8v1m1 -57v1m1 -17v2m0 18v1m0 4v1m0 19v1m0 23v1m1 -24v1m1 -23v1m1 -26v1m0 34v1m0 37v1m1 -72v1m0 22v1m0 8v1m0 5v1m1 -41v1m0 13v2m0 5v1m0 5v1m0 4v1m0 30v1m1 -9v1m0 20v2m1 -1v1m1 -58v1m0 3v1m0 2v1m0 29v1m0 15v1m0 4v1m1 -68v1m0 17v1m0 35v1m1 -55v1m0 25v1m0 7v1m0 26v1m1 -74v1m0 16v1m0 22v1m0 25v1m1 -40v1m0 34v1m0 2v1m1 -27v1m0 30v1m0 7v1m0 1v1m2 -72v1m0 11v1m0 12v1m0 32v1m1 -30v1m1 -31v1m0 40v1m0 23v1m0 1v1m1 -72v1m0 21v1m0 9v1m0 4v1m0 7v1m1 -27v1m0 25v1m0 3v1m1 -50v1m0 46v1m0 1v1m0 6v1m1 -49v1m1 6v1m0 10v1m0 6v1m0 12v1m1 -44v2m0 38v1m1 -32v1m0 61v1m1 -35v1m0 35v1m2 -5v1m0 1v1m1 -73v1m0 25v1m0 22v1m0 1v1m1 -41v1m0 10v1m1 -30v1m0 14v1m0 16v1m0 13v1m1 -38v1m0 10v1m0 4v1m1 -25v1m0 4v1m0 2v1m0 14v1m0 47v1m1 -30v1m1 -25v1m0 5v1m1 -26v1m0 5v1m0 67v1m0 6v1m36 -42v1m2 -11v1m1 -16v1m0 12v1m0 32v1m1 -53v1m0 21v1m0 16v1m0 6v1m0 13v2m0 6v1m1 -60v1m0 2v1m0 6v1m0 12v1m0 23v1m0 11v1m1 -66v1m0 11v1m0 14v1m1 -43v1m0 23v1m1 -20v1m0 7v1m1 -6v1m0 2v1m0 47v1m3 -59v1m0 5v1m0 1v1m7 38v1m6 -30v1m3 5v1m0 45v1m2 -69v1m0 33v1m1 -23v1m0 28v1m1 -1v1m1 -10v1m1 24v1m1 -42v1m0 11v1m0 13v1m0 23v3m1 -40v1m2 -25v1m0 51v1m1 -34v1m2 -19v1m0 33v1m1 0v2m0 27v1m0 3v1"/>
<path stroke="rgb(157,141,204)" stroke-width="1" d="M344.5 73v1m8 59v1m1 -93v1m0 25v1m1 -18v1m0 20v1m0 17v1m0 33v1m0 2v1m4 -6v1m11 -23v2m2 1v1m17 4v1m2 -54v1m22 -2v1m0 5v1m0 9v2m0 23v1m0 1v1m0 22v1m0 6v1m1 -80v1m0 2v1m0 10v1m0 9v1m0 3v1m0 2v1m0 3v1m0 1v1m0 6v2m0 6v1m0 5v1m1 -68v1m0 1v1m0 3v1m0 13v1m0 6v1m0 1v1m0 15v1m0 15v1m0 13v1m0 8v1m1 -86v1m0 3v1m0 5v1m0 2v1m0 1v1m0 10v1m0 3v1m0 5v1m0 6v1m0 7v1m0 1v1m0 4v1m0 11v1m0 1v1m0 2v1m0 2v1m0 12v1m0 1v2m0 1v1m0 3v1m1 -101v1m0 7v2m0 3v1m0 1v1m0 8v1m0 21v1m0 4v1m0 13v1m0 3v2m0 5v1m0 4v1m0 1v1m0 1v1m0 8v1m0 5v1m1 -95v1m0 2v1m0 17v1m0 1v1m0 2v1m0 13v1m0 2v1m0 1v1m0 13v1m0 9v2m0 3v1m0 6v1m0 7v1m1 -86v3m0 5v1m0 4v1m0 2v1m0 1v1m0 1v1m0 8v1m0 7v1m0 2v1m0 4v1m0 6v1m0 6v1m0 1v1m0 15v1m0 4v1m0 7v1m1 -95v1m0 4v1m0 6v1m0 2v1m0 5v1m0 5v2m0 3v2m0 4v1m0 1v1m0 20v1m0 10v1m0 2v2m0 1v1m0 5v1m0 7v1m0 1v1m1 -101v2m0 2v1m0 8v2m0 9v1m0 12v2m0 2v1m0 8v1m0 2v1m0 6v1m0 6v2m0 5v2m0 1v1m0 5v2m0 9v2m1 -96v1m0 3v1m0 8v1m0 2v1m0 1v1m0 14v1m0 7v1m0 6v2m0 3v1m0 4v3m0 2v1m0 1v1m0 5v1m0 12v1m0 1v2m1 -88v1m0 16v1m0 10v2m0 2v1m0 16v2m0 3v1m0 3v1m0 7v1m0 2v1m0 1v1m0 7v2m0 12v1m0 6v1m1 -100v1m0 1v1m0 2v1m0 10v2m0 6v1m0 1v1m0 2v2m0 2v1m0 6v1m0 2v1m0 17v1m0 11v1m0 4v1m0 7v1m0 3v1m1 -74v1m0 18v1m0 4v1m0 5v1m0 8v2m0 1v1m0 9v1m0 3v2m0 1v1m0 3v1m0 1v1m1 -66v1m0 3v1m0 2v1m0 10v1m0 1v1m0 3v1m0 14v1m0 1v1m0 3v1m0 7v1m0 2v1m0 17v1m0 5v1m1 -96v1m0 9v1m0 10v3m0 15v1m0 13v1m0 3v1m0 16v1m0 16v1m0 3v1m1 -95v1m0 18v1m0 8v1m0 11v1m0 5v1m0 12v1m0 2v1m0 8v1m0 16v1m0 2v1m0 4v1m1 -96v2m0 15v1m0 12v1m0 8v1m0 7v1m0 6v1m0 1v1m0 1v1m0 2v1m0 1v1m0 6v2m0 6v1m0 6v1m0 3v1m0 3v1m0 1v1m1 -98v2m0 2v1m0 20v1m0 14v1m0 1v2m0 3v1m0 2v1m0 8v1m0 25v2m0 3v1m0 2v1m1 -96v1m0 2v1m0 9v1m0 1v1m0 3v1m0 22v1m0 6v1m0 3v1m0 3v1m0 2v2m0 6v1m0 2v1m0 6v1m0 7v1m1 -87v1m0 3v1m0 4v1m0 3v1m0 44v1m0 18v2m0 14v1m0 1v1m0 3v1m1 -102v1m0 10v1m0 8v1m0 3v1m0 5v1m0 3v2m0 5v1m0 4v1m0 1v2m0 20v1m0 3v1m0 3v1m0 1v1m0 2v2m0 10v1m1 -90v1m0 4v1m0 3v1m0 17v1m0 8v1m0 6v1m0 9v1m0 3v1m0 2v2m0 6v1m0 1v3m0 5v1m0 2v1m0 3v1m0 4v1m1 -97v1m0 1v1m0 2v1m0 15v1m0 2v1m0 7v1m0 4v1m0 13v1m0 4v1m0 13v1m0 4v1m0 11v2m0 4v1m0 3v2m0 2v1m1 -100v1m0 12v1m0 6v1m0 5v2m0 6v1m0 1v1m0 4v1m0 5v1m0 4v1m0 3v1m0 3v1m0 2v1m0 9v1m0 2v1m0 7v1m0 1v1m1 -84v1m0 2v2m0 6v1m0 4v2m0 2v1m0 6v1m0 3v1m0 9v2m0 6v1m0 13v2m0 3v1m0 5v1m0 4v1m0 1v1m0 1v1m0 1v1m0 6v1m1 -98v1m0 8v3m0 3v1m0 2v1m0 2v1m0 8v1m0 3v1m0 4v2m0 8v1m0 3v2m0 18v3m0 4v1m0 1v1m0 6v1m0 6v1m1 -95v1m0 2v1m0 5v1m0 1v1m0 4v1m0 2v1m0 1v1m0 8v1m0 1v1m0 10v1m0 3v1m0 5v1m0 3v1m0 3v1m0 4v1m0 3v1m0 2v1m0 8v1m0 6v1m1 -57v1m0 1v1m0 3v1m0 2v1m0 32v4m0 5v1m1 -87v1m0 2v1m0 1v1m0 12v1m0 7v2m0 1v1m0 14v1m0 4v2m0 3v1m0 3v1m0 8v1m0 7v1m0 16v1m1 -85v1m0 9v1m0 3v1m0 4v1m0 7v1m0 1v1m0 21v1m0 8v2m0 6v1m0 2v1m0 9v1m0 1v1m0 5v1m0 3v1m1 -96v1m0 2v1m0 30v1m0 8v1m0 19v1m0 6v1m0 5v3m0 4v1m0 1v1m0 5v1m0 1v1m1 -99v2m0 3v1m0 2v1m0 11v2m0 6v1m0 1v1m0 11v2m0 2v1m0 8v1m0 13v1m0 22v1m1 -94v1m0 2v1m0 16v1m0 10v1m0 8v1m0 4v1m0 2v1m0 3v1m0 3v2m0 23v1m1 -56v1m0 1v1m0 13v1m0 16v1m0 5v1m0 6v1m0 19v1m0 2v1m0 1v1m0 3v1m1 -63v1m0 13v2m0 46v1m1 -62v1m0 37v1m1 -79v1m0 1v1m0 10v1m0 5v1m0 4v1m0 5v2m0 8v1m0 15v1m0 8v1m0 1v1m0 12v1m0 1v1m0 7v1m0 10v1m1 -64v1m0 12v1m0 19v1m1 -69v1m0 35v1m0 9v1m0 1v3m1 -51v1m0 3v1m0 3v2m0 9v1m0 15v1m0 4v1m0 5v1m0 2v1m0 10v1m0 6v1m0 14v1m0 10v1m1 -82v1m0 4v1m0 3v1m0 6v1m0 22v1m0 8v1m0 16v1m0 8v2m0 7v1m1 -89v1m0 13v1m0 7v3m0 6v1m0 13v1m0 21v1m0 13v1m0 5v1m0 1v1m1 -45v1m0 2v1m1 -58v2m0 8v1m0 15v1m0 2v2m0 6v1m0 9v1m0 22v1m0 15v1m0 11v1m1 -99v1m0 7v1m0 1v1m0 2v1m0 1v1m0 38v1m0 6v1m0 20v1m0 1v3m1 -87v3m0 5v1m0 1v1m0 17v1m0 3v1m0 1v1m0 3v1m0 4v1m0 2v1m0 6v1m0 2v2m0 5v1m0 6v1m0 12v1m0 1v1m0 11v1m1 -91v1m0 4v1m0 7v2m0 7v1m0 5v1m0 8v2m0 4v2m0 8v1m0 26v1m1 -87v1m0 5v1m0 12v1m0 6v1m0 18v1m0 5v1m0 2v1m0 11v1m0 2v1m0 10v1m0 4v1m0 11v3m1 -102v1m0 22v1m0 1v1m0 7v1m0 4v2m0 4v1m0 4v4m0 21v1m0 9v2m0 13v1m1 -100v1m0 21v1m0 2v1m0 13v1m0 9v1m0 17v1m0 4v3m0 11v1m6 -46v1m0 4v1m1 -34v1m0 72v1m1 -87v1m0 13v1m0 44v1m0 27v1m0 1v1m1 -90v1m0 24v1m0 1v1m0 5v2m0 5v1m0 14v1m0 16v1m0 8v1m0 2v1m0 6v1m1 -64v1m0 6v1m0 10v1m0 26v1m0 2v2m0 1v1m0 2v3m0 2v1m0 7v1m1 -89v1m0 14v1m0 4v1m0 4v1m0 3v1m0 4v2m0 17v1m0 4v1m0 19v1m0 1v1m0 8v1m0 1v1m1 -91v2m0 1v1m0 1v1m0 2v1m0 4v1m0 7v1m0 16v1m0 6v2m0 13v1m0 6v1m0 10v1m1 -87v1m0 10v1m0 3v1m0 2v1m0 4v1m0 4v3m0 10v1m0 10v1m0 19v1m0 9v1m0 1v1m0 10v1m0 5v1m1 -84v1m0 2v2m0 1v1m0 1v4m0 2v1m0 4v1m0 3v1m0 3v1m0 5v1m0 9v1m0 4v2m0 3v1m0 15v1m0 7v1m0 2v1m0 1v1m1 -93v1m0 7v1m0 17v1m0 9v1m0 6v1m0 3v2m0 12v1m0 3v2m0 22v1m1 -98v1m0 6v1m0 18v1m0 11v1m0 17v1m0 1v1m0 15v1m0 10v1m0 10v1m1 -96v1m0 29v1m0 2v1m0 15v1m0 7v1m0 3v1m0 8v1m0 5v1m0 15v1m0 7v1m1 -101v1m0 5v1m0 25v1m0 4v1m0 1v1m0 9v1m0 6v1m1 -33v1m0 23v1m0 8v1m1 -53v1m0 20v1m0 9v3m0 11v1m0 2v1m0 1v2m0 9v1m0 3v1m0 13v1m0 7v1m1 -39v1m1 -56v1m0 4v1m0 5v1m0 9v1m0 1v2m0 11v4m0 10v1m0 5v1m0 19v1m0 5v1m0 7v2m1 -87v1m0 5v1m0 2v1m0 8v1m0 7v1m0 13v2m0 46v1m0 7v1m1 -91v2m0 16v1m0 8v1m0 2v1m0 7v2m0 9v2m0 1v1m0 1v1m0 6v1m0 3v1m0 11v1m0 1v2m0 7v1m1 -94v1m0 12v1m0 11v1m0 4v1m0 3v2m0 10v1m0 2v2m0 8v1m0 1v1m0 2v1m0 2v1m0 17v1m1 -90v1m0 11v1m0 4v1m0 1v1m0 2v1m0 4v2m0 8v1m0 1v1m0 13v1m0 8v2m0 13v1m1 -55v1m0 35v1m0 7v1m0 3v1m0 5v2m0 13v2m-157 8v1m0 10v2m0 25v1m0 24v1m1 -62v2m0 30v1m0 7v2m0 2v1m0 12v1m0 1v1m0 1v1m0 9v1m1 -70v1m0 2v1m0 2v1m0 2v2m0 4v1m0 4v1m0 2v1m0 3v1m0 15v1m0 13v1m0 18v1m0 1v1m1 -69v1m0 2v1m0 3v1m0 1v1m0 1v1m0 1v1m0 5v2m0 6v1m0 24v1m0 3v1m0 2v1m0 1v1m0 3v1m0 2v2m1 -77v1m0 2v3m0 4v1m0 16v1m0 5v1m0 12v2m0 4v1m0 6v1m0 10v1m1 -78v1m0 4v1m0 4v1m0 13v1m0 2v1m0 2v1m0 5v1m0 3v2m0 6v1m0 8v1m0 3v1m0 3v1m0 6v2m1 -73v1m0 11v2m0 2v1m0 2v1m0 4v2m0 6v1m0 6v1m0 7v1m0 7v1m0 1v1m0 8v1m0 12v1m0 1v1m0 1v1m1 -84v1m0 3v1m0 3v1m0 3v2m0 1v1m0 2v1m0 2v2m0 17v1m0 5v1m0 9v1m0 5v2m0 11v1m0 4v1m1 -82v1m0 5v1m0 1v1m0 4v1m0 3v1m0 6v1m0 6v1m0 13v3m0 9v1m0 2v1m0 1v1m0 15v1m0 2v1m1 -78v1m0 2v1m0 1v2m0 7v1m0 10v1m0 9v1m0 1v1m0 15v1m0 2v2m0 6v1m0 12v1m0 2v1m1 -82v1m0 10v1m0 26v1m0 2v1m0 1v1m0 11v1m0 2v1m0 1v1m0 5v1m0 6v1m1 -77v1m0 2v2m0 2v1m0 5v1m0 2v1m0 3v1m0 2v1m0 1v1m0 7v1m0 3v1m0 3v4m0 1v1m0 8v2m0 2v2m0 1v1m0 1v1m0 3v2m0 3v1m0 2v3m1 -78v1m0 2v1m0 1v1m0 1v1m0 8v1m0 1v1m0 2v1m0 18v1m0 8v1m0 1v2m0 20v2m0 1v2m0 4v1m1 -84v1m0 3v1m0 16v1m0 22v2m0 1v1m0 14v1m3 1v1m4 -61v1m8 50v1m0 1v1m1 -36v1m0 20v1m0 13v1m0 16v1m1 -56v1m0 60v1m1 -61v1m0 5v1m0 7v1m0 20v1m0 4v1m0 1v1m0 17v1m1 -80v1m0 7v1m0 2v1m0 1v1m0 12v5m0 3v1m0 8v1m0 7v1m0 8v1m0 3v1m0 5v1m0 10v1m1 -77v2m0 11v1m0 3v2m0 5v1m0 8v2m0 2v2m0 1v1m0 5v1m0 6v1m0 2v1m0 11v1m0 1v1m0 4v1m1 -81v3m0 5v1m0 11v1m0 5v1m0 5v1m0 7v1m0 3v1m0 9v1m0 1v1m0 7v1m0 5v1m0 10v1m1 -83v1m0 19v1m0 4v2m0 23v1m0 5v1m0 2v1m0 23v2m1 -83v1m0 8v1m0 4v1m0 4v2m0 6v1m0 1v1m0 23v1m0 5v1m0 2v1m0 12v1m1 -77v1m0 6v1m0 2v1m0 1v1m0 27v1m0 16v1m0 3v1m0 19v1m1 -69v1m0 38v1m0 5v1m0 7v1m0 10v2m1 -67v1m0 27v1m0 3v2m0 6v1m0 11v2m0 12v1m1 -71v1m0 18v1m0 15v1m0 8v1m0 11v2m0 2v1m0 3v1m1 -71v1m1 11v2m0 3v1m0 10v1m0 5v1m0 9v1m0 14v1m0 1v1m0 6v1m0 2v1m0 5v2m2 -55v1m0 46v1m1 -49v2m0 46v1m1 -70v1m0 16v1m0 34v1m0 6v1m0 10v1m1 -42v1m0 17v1m0 23v2m1 -52v1m0 11v1m0 18v1m0 6v1m0 11v1m1 -75v1m0 35v1m0 35v1m0 5v1m1 -74v1m0 21v1m0 7v1m0 11v1m0 4v1m0 1v2m0 6v1m0 9v1m1 -72v1m0 22v1m0 1v1m0 1v1m0 5v1m0 27v2m0 3v1m0 2v1m0 2v2m1 -50v1m0 8v1m0 33v1m1 -70v1m0 7v1m0 2v1m0 19v1m0 11v1m0 5v2m0 2v1m0 5v1m0 18v1m1 -75v1m0 6v1m0 10v1m0 3v1m0 1v3m0 11v1m0 20v1m0 16v1m1 -80v1m0 2v1m0 3v1m0 1v1m0 14v1m0 2v1m0 10v1m0 2v1m0 8v1m0 3v1m0 6v1m0 7v1m0 4v1m0 5v1m0 1v1m1 -21v1m1 -63v1m0 3v1m0 8v1m0 1v1m0 5v1m0 9v1m0 16v1m0 3v1m0 4v1m0 6v2m0 2v1m1 -59v1m0 2v1m0 1v1m0 4v2m0 8v1m0 18v1m0 1v1m0 7v1m1 -55v1m0 3v1m0 27v1m0 1v1m0 21v1m0 8v2m0 9v1m1 -28v1m0 10v1m1 -60v1m0 20v1m0 3v1m0 25v3m0 9v1m1 -56v1m0 3v2m0 17v1m0 4v1m0 11v3m0 1v1m0 7v1m0 1v1m0 9v1m0 1v1m1 -68v1m0 9v1m0 6v2m0 2v1m0 2v1m0 1v1m0 1v1m0 12v1m0 4v1m0 6v1m0 3v2m1 -58v1m0 2v1m0 5v1m0 5v1m0 1v1m0 3v1m0 3v3m0 4v1m0 3v1m0 6v2m0 10v1m0 3v1m0 5v1m1 -63v1m0 5v1m0 15v1m0 30v1m1 -64v1m0 14v1m0 2v1m0 3v1m0 10v1m0 7v1m0 1v1m0 2v1m0 14v1m0 3v2m0 7v1m1 -65v1m1 -9v1m0 7v1m0 63v1m1 -23v1m1 -1v1m1 -22v1m0 17v1m0 5v1m0 4v1m0 11v1m2 -73v1m0 63v2m0 6v1m1 -81v1m0 3v1m0 4v1m0 1v1m0 14v1m0 20v1m0 6v2m0 19v1m0 5v1m1 -81v1m0 46v1m0 5v1m0 7v1m0 3v1m0 5v1m0 2v1m1 -67v1m0 6v1m0 1v1m0 36v1m0 10v1m0 12v1m1 -76v1m0 3v1m0 4v1m0 4v1m0 24v1m0 7v1m0 10v1m0 2v1m0 9v2m0 5v1m1 -77v1m0 7v1m0 3v1m0 3v1m0 20v1m0 1v1m0 8v1m0 3v1m0 12v1m0 9v3m1 -72v1m0 54v1m1 -55v1m17 -9v1m18 38v1m0 18v2m2 -63v1m0 14v1m0 12v1m0 29v1m0 5v1m1 -58v1m0 4v1m0 40v2m0 2v1m1 -60v1m0 13v1m0 12v2m0 11v2m0 2v1m0 2v1m0 11v1m0 5v2m0 2v1m0 4v1m0 5v2m1 -82v1m0 17v1m0 15v1m0 7v1m0 11v1m0 1v1m0 1v1m1 -57v3m0 5v1m0 1v1m0 5v1m0 25v1m1 -31v1m0 15v2m0 22v1m0 17v1m1 -50v3m0 29v1m1 -52v1m0 13v1m0 6v1m0 29v2m0 11v1m16 -61v1m3 37v1m3 5v1m0 19v1m4 -44v1m0 31v1m0 4v1m3 -40v1m0 18v1m0 3v1m1 5v1"/>
<path stroke="rgb(184,169,215)" stroke-width="1" d="M345.5 122v1m2 -61v1m0 23v1m0 15v1m0 22v1m1 -78v1m0 15v1m0 62v1m2 -79v1m0 22v1m0 8v1m0 36v1m0 2v1m1 -53v1m0 53v1m2 -87v1m0 1v1m0 4v1m0 28v1m1 -23v1m0 7v1m0 6v1m0 5v1m0 10v1m0 11v1m0 11v1m0 2v1m0 13v2m1 -81v2m0 14v1m0 12v1m0 14v1m0 1v1m0 14v1m0 14v1m0 1v1m0 7v1m0 3v1m0 1v1m2 -97v1m0 32v2m0 58v1m1 -61v1m0 9v1m0 2v1m0 46v1m0 2v1m1 -13v1m1 -38v1m9 -44v2m0 54v1m1 -57v1m0 8v2m0 1v2m1 -2v1m1 1v1m1 -19v1m0 17v1m1 22v1m0 49v1m5 -23v1m9 -50v2m0 10v1m0 32v1m0 2v1m0 4v1m0 1v1m2 -8v2m0 4v1m21 -25v1m0 17v1m1 -64v1m0 2v1m0 1v1m0 5v1m0 9v1m0 39v2m0 2v1m0 23v1m1 -97v3m0 4v1m0 10v1m0 15v1m0 40v1m0 17v1m1 -92v1m0 1v1m0 8v1m0 10v1m0 37v1m1 -64v1m0 3v1m0 56v1m0 11v1m0 2v1m1 -79v1m0 26v2m0 14v1m0 1v1m0 11v1m0 3v1m0 11v1m0 2v1m0 16v1m1 -89v1m0 15v1m0 29v1m0 17v1m0 13v1m1 -82v1m0 54v1m0 3v1m0 3v1m0 3v1m0 5v1m0 2v1m0 2v1m0 2v1m0 12v1m1 -41v2m0 19v1m1 -73v1m0 5v1m0 7v2m0 2v1m0 3v1m0 5v1m0 8v1m0 2v1m0 20v1m0 9v1m0 1v3m0 9v1m0 7v1m1 -98v1m0 18v1m0 22v1m0 7v1m0 2v1m0 19v1m0 2v2m0 9v1m0 2v1m0 2v1m1 -88v2m0 13v1m0 12v1m0 4v1m0 5v1m0 17v1m0 9v1m0 6v1m0 3v1m0 2v1m0 1v1m1 -92v1m0 13v2m0 7v1m0 10v1m0 3v1m0 5v1m0 5v1m0 6v1m0 6v1m0 13v1m0 11v1m1 -90v1m0 2v1m0 16v2m0 11v1m0 1v1m0 10v1m0 9v1m0 5v1m0 8v1m0 21v1m1 -92v1m0 8v1m0 1v1m0 2v1m0 6v1m0 22v1m0 2v1m0 10v1m0 4v1m0 7v1m0 3v1m1 -79v1m0 2v1m0 9v1m0 18v2m0 10v1m0 2v1m0 17v1m0 10v1m0 3v1m0 1v1m1 -62v1m0 16v1m0 2v2m0 10v1m0 1v1m0 6v1m0 5v1m0 11v1m1 -76v1m0 27v1m0 41v1m0 12v1m1 -66v1m0 11v2m0 3v1m0 27v1m0 3v1m0 3v1m1 -46v1m0 2v1m0 8v1m0 5v1m0 26v1m0 13v1m0 3v1m0 1v1m0 1v1m1 -85v1m0 15v1m0 17v1m0 8v1m1 -46v1m0 12v1m0 2v1m0 11v1m0 31v1m0 14v1m0 2v1m0 9v1m1 -88v1m0 2v1m0 8v1m0 1v1m0 15v1m0 2v2m0 22v1m0 2v1m0 1v1m0 6v2m1 -80v1m0 1v1m0 16v1m0 1v1m0 4v1m0 16v1m0 2v1m0 1v1m0 6v1m0 8v1m0 7v2m0 4v1m0 9v1m1 -86v1m0 10v1m0 2v1m0 5v1m0 9v1m0 6v1m0 21v2m0 2v1m0 6v1m0 7v1m0 1v1m0 10v1m1 -92v1m0 22v2m0 23v1m0 4v1m0 1v1m0 13v2m1 -70v1m0 3v1m0 20v1m0 14v1m0 3v1m0 4v1m0 12v1m0 7v2m1 -51v1m0 1v1m0 1v1m0 31v1m0 4v1m0 8v1m0 8v1m1 -86v1m0 1v1m0 15v1m0 18v1m0 13v1m0 7v1m0 1v1m0 31v1m1 -89v1m0 4v2m0 6v1m0 9v2m0 2v1m0 7v1m0 3v2m0 4v1m0 2v1m0 3v1m0 10v2m0 5v2m0 3v1m0 2v1m1 -71v1m0 12v1m0 19v1m0 8v1m0 5v1m0 2v1m0 4v1m0 7v2m0 3v1m0 12v1m1 -91v1m0 87v1m1 -77v1m0 11v1m0 2v1m0 37v1m0 4v1m0 4v1m0 7v1m1 -84v1m0 33v1m0 31v1m1 -69v1m0 1v1m0 71v1m1 -70v1m0 7v1m0 13v1m0 29v1m0 7v1m0 13v1m0 4v1m1 -63v1m0 8v1m0 1v1m0 4v2m0 11v3m0 22v1m0 7v1m1 -65v1m0 17v2m0 7v2m0 2v2m0 2v1m0 7v1m0 6v1m0 4v1m0 7v1m1 -85v2m0 9v1m0 61v1m0 6v1m0 9v2m0 1v1m1 -99v1m0 7v1m0 37v1m0 3v1m0 12v1m0 1v1m0 1v1m0 4v1m0 10v1m0 1v1m0 3v1m0 7v1m0 1v1m0 1v1m1 -94v1m0 11v1m0 4v1m0 4v2m0 28v1m0 1v1m0 1v1m0 1v1m0 2v1m0 1v1m0 5v1m0 2v1m0 8v1m0 5v1m0 1v2m0 2v1m1 -93v1m0 4v1m0 7v2m0 18v1m0 21v1m0 4v1m0 13v1m0 12v1m0 2v2m1 -101v1m0 4v2m0 5v1m0 22v1m0 4v1m0 7v1m0 2v1m0 2v1m0 6v1m0 8v2m0 9v2m0 9v1m1 -82v1m0 20v1m0 1v1m0 48v1m1 -72v1m0 6v1m0 2v1m0 5v1m0 6v1m0 4v1m0 8v1m0 8v1m0 4v1m0 6v1m0 2v3m0 2v2m0 5v1m0 4v1m0 3v1m0 5v1m1 -86v1m0 12v1m0 2v1m0 1v1m0 4v1m0 13v1m0 1v1m0 6v1m0 13v1m0 12v1m0 1v1m0 2v1m0 3v1m1 -74v1m0 13v1m0 17v1m0 5v1m0 11v1m0 3v1m0 16v1m0 1v1m1 -87v1m0 5v1m0 1v1m0 19v1m0 7v2m0 17v2m0 2v1m0 3v1m0 1v1m0 7v1m0 2v1m1 -70v1m0 1v1m0 22v1m0 20v2m0 7v1m0 1v3m1 -77v1m0 9v1m0 6v1m0 5v1m0 2v1m0 15v1m0 4v1m0 22v1m0 3v2m0 12v1m0 5v1m0 1v1m0 2v1m1 -86v1m0 7v1m0 3v1m0 15v1m0 6v1m0 2v1m0 1v1m0 15v1m0 3v1m0 8v1m0 9v1m0 4v1m0 1v1m1 -76v1m0 28v1m0 38v1m3 -21v1m2 -14v1m0 5v1m1 -26v1m1 -38v2m0 19v1m0 12v2m0 3v2m0 4v1m0 1v1m0 4v1m0 11v1m0 1v1m0 10v1m0 2v1m0 5v1m1 -81v2m0 8v1m0 8v1m0 10v1m0 1v2m0 12v2m0 2v1m0 6v1m0 11v1m0 1v1m0 14v1m1 -95v1m0 8v1m0 8v2m0 1v1m0 2v1m0 1v1m0 3v1m0 2v1m0 4v1m0 9v1m0 10v1m0 15v1m0 10v1m0 4v1m0 1v1m1 -97v1m0 3v1m0 9v1m0 4v1m0 4v1m0 5v1m0 6v1m0 8v1m0 10v1m0 1v1m0 1v1m0 35v1m1 -97v1m0 4v1m0 5v1m0 7v1m0 9v1m0 24v1m0 34v2m1 -88v1m0 2v1m0 23v1m0 2v1m0 2v1m0 1v1m0 8v1m0 12v1m0 5v1m0 12v1m0 6v1m0 1v1m0 6v1m1 -72v1m0 8v1m0 5v1m0 8v1m0 8v1m0 21v1m0 4v1m1 -84v1m0 23v1m0 4v1m0 3v2m0 44v1m0 19v1m1 -81v1m0 8v1m0 5v2m0 10v2m0 7v1m0 4v1m0 6v2m0 5v1m0 3v2m0 1v1m0 5v1m0 1v1m0 3v1m1 -89v1m0 1v1m0 12v1m0 15v1m0 12v2m0 16v2m0 2v1m0 1v1m0 9v1m1 -84v1m0 3v1m0 2v2m0 6v1m0 2v1m0 21v1m0 24v1m0 8v1m0 5v1m0 1v1m0 7v1m1 -90v1m0 7v2m0 5v1m0 15v1m0 2v1m0 14v1m0 1v1m0 16v1m0 12v2m1 -78v1m0 3v1m0 13v1m0 6v1m0 2v1m0 3v1m0 18v1m0 4v1m0 12v2m0 1v1m0 9v1m0 4v1m0 5v1m1 -48v1m1 -46v1m0 6v1m0 8v1m0 3v1m0 3v1m0 6v1m0 47v2m0 2v1m0 5v1m1 -89v1m0 1v1m0 3v1m0 17v1m0 4v1m0 10v1m0 1v1m0 11v1m0 3v1m0 2v2m0 13v1m0 5v1m0 4v1m0 2v1m1 -87v1m0 5v1m0 26v1m0 8v1m0 7v1m0 6v1m1 -67v1m0 3v2m0 4v1m0 1v1m0 8v1m0 7v1m0 7v1m0 3v1m0 1v1m0 1v1m0 7v1m0 23v1m0 5v1m1 -62v1m0 12v1m0 30v1m0 2v1m0 8v1m0 1v1m0 6v1m0 6v1m1 -100v2m0 11v1m0 6v1m0 6v1m0 14v1m0 34v1m0 5v1m0 1v1m0 7v1m-157 20v1m0 8v1m0 11v1m0 10v1m0 6v1m0 1v1m0 3v1m0 26v1m1 -76v1m0 6v1m0 9v2m0 5v1m0 12v1m0 5v2m0 1v1m0 1v1m0 12v1m0 11v1m0 3v1m1 -60v1m0 2v1m0 5v1m0 11v1m0 3v1m0 5v1m0 13v1m0 4v1m1 -75v1m0 53v1m0 8v1m0 13v1m0 5v1m1 -85v3m0 25v1m0 3v1m0 9v1m0 12v1m0 1v1m0 17v2m0 1v1m0 1v1m0 1v1m0 1v1m1 -83v1m0 4v1m0 3v1m0 11v1m0 36v1m0 9v1m0 5v2m0 2v1m1 -73v1m0 3v1m0 24v1m0 30v1m0 10v1m1 -80v1m0 2v1m0 4v1m0 23v1m0 18v1m0 2v1m1 -51v1m0 13v2m0 10v1m0 2v1m0 9v1m0 4v1m0 1v1m0 22v1m0 5v1m0 2v1m1 -77v1m0 9v1m0 52v1m0 1v1m0 3v1m0 2v1m1 -79v1m0 3v2m0 45v1m0 18v1m1 -66v1m0 11v2m0 30v1m1 -43v1m0 10v1m0 2v1m0 1v1m0 7v1m0 1v1m0 9v1m0 19v1m0 4v1m0 1v2m0 10v1m1 -77v1m0 5v1m0 4v1m0 4v1m0 2v1m0 1v1m0 6v1m0 8v1m0 4v1m0 11v1m0 22v1m1 -54v1m0 25v1m0 9v1m0 14v2m1 -41v1m0 41v1m1 -60v1m0 14v1m1 31v1m1 -11v1m1 -61v1m0 44v1m2 24v1m1 -25v1m1 10v1m2 -29v1m0 25v1m2 -43v1m1 -9v1m0 9v1m0 2v1m0 24v1m0 4v2m1 -47v1m0 19v1m0 9v1m0 8v1m0 4v2m0 2v2m0 14v1m0 10v2m1 -62v1m0 5v1m0 8v1m0 15v1m0 8v1m0 1v1m0 5v1m0 12v1m1 -80v1m0 1v1m0 7v1m0 2v1m0 9v1m0 19v1m0 5v1m0 2v1m0 6v1m0 15v3m1 -80v1m0 12v1m0 1v1m0 23v1m0 5v1m0 9v1m0 7v1m0 8v1m1 -69v1m0 15v1m0 7v2m0 2v1m0 1v1m0 13v1m0 4v1m0 30v1m1 -79v2m0 3v1m0 5v1m0 29v1m0 16v1m0 1v1m0 5v2m0 1v1m0 7v1m1 -60v1m0 19v1m0 2v1m0 16v1m0 11v1m0 4v1m1 -82v1m0 5v1m0 11v1m0 18v1m0 1v1m0 26v2m1 -62v1m0 5v1m0 3v1m0 7v1m0 14v1m0 11v1m0 1v1m0 3v1m0 9v5m0 6v1m1 -74v1m0 4v1m0 2v1m0 1v1m0 10v1m0 14v1m0 8v1m0 18v1m0 6v1m1 -76v2m0 1v1m0 5v1m0 4v1m0 9v2m0 1v1m0 1v3m0 4v1m0 4v2m0 11v1m1 -44v1m0 11v2m0 6v1m0 4v1m0 3v1m0 5v1m0 9v1m0 3v1m0 1v1m0 13v1m1 -63v1m1 -4v1m0 5v1m0 5v1m0 9v1m0 11v1m0 6v1m0 2v1m0 3v2m0 15v1m1 -63v1m0 20v1m0 43v1m1 -46v1m0 9v1m0 33v1m1 -65v1m0 21v1m0 19v1m0 4v1m1 -55v1m0 17v1m0 15v2m0 9v1m0 8v1m0 5v1m0 2v1m0 4v1m1 -76v1m0 9v1m0 7v1m0 24v2m0 12v1m0 3v1m0 6v1m0 5v1m0 7v1m1 -74v1m0 30v2m0 1v1m0 11v1m0 11v1m0 12v1m1 -76v1m0 6v1m0 22v1m0 16v1m0 2v2m0 6v2m0 1v1m1 -67v1m0 3v1m0 3v1m0 8v1m0 22v1m0 1v1m0 19v1m1 -52v1m0 1v1m0 5v1m0 11v1m0 1v1m0 8v1m0 2v1m0 2v1m0 1v2m0 10v1m0 14v1m1 -75v1m0 10v1m0 3v1m0 25v1m0 1v1m0 4v1m0 5v1m0 13v1m0 8v1m1 -79v1m0 1v1m0 4v1m0 19v1m0 2v1m0 13v1m0 5v1m0 4v1m0 24v1m1 -78v2m0 6v1m0 3v1m0 1v1m0 5v1m0 8v3m0 7v1m0 2v1m0 2v1m0 20v3m1 -67v1m0 5v2m0 2v1m0 1v1m0 9v1m0 17v1m0 1v1m0 18v1m0 7v3m0 1v1m1 -73v1m0 13v1m0 29v1m0 2v1m0 26v1m1 -81v2m0 17v1m0 8v1m0 3v1m0 6v1m0 6v1m0 7v1m0 2v1m0 4v1m0 2v1m0 10v1m1 -52v1m0 2v1m0 3v1m0 4v3m0 11v1m0 2v1m0 7v1m0 2v1m0 13v2m1 -82v1m0 1v1m0 11v1m0 7v1m0 1v2m0 5v2m0 21v1m0 7v1m0 9v1m0 5v1m1 -78v1m0 2v5m0 1v2m0 12v1m0 34v1m0 4v1m0 6v1m0 2v1m0 6v1m1 -68v1m0 8v1m0 4v1m0 9v1m0 2v1m0 18v2m1 -64v1m0 6v1m0 5v2m0 22v1m0 3v1m0 19v1m0 3v1m0 7v2m0 8v1m1 -84v1m0 6v1m0 11v1m0 14v1m0 27v1m0 6v1m0 10v1m0 2v1m1 -83v1m0 24v2m0 8v1m0 1v1m0 5v1m0 2v1m0 13v3m0 1v1m0 8v1m0 1v1m1 -74v3m0 3v1m0 2v1m0 11v1m0 6v1m0 17v1m0 14v1m0 10v2m0 4v1m0 2v1m1 -84v1m0 3v2m0 3v1m0 1v1m0 5v1m0 10v1m0 7v1m0 15v1m0 3v1m0 5v2m0 6v1m0 9v1m1 -62v1m0 4v1m0 20v1m0 15v1m0 17v1m0 2v2m1 -73v1m0 43v2m0 6v1m0 6v1m0 6v1m0 5v1m1 -82v1m0 2v1m0 3v1m0 8v1m0 42v1m0 14v1m1 -75v1m0 3v2m0 10v1m0 7v1m0 25v1m0 10v1m0 1v1m0 6v1m1 -72v4m0 12v1m0 3v1m0 3v1m0 10v1m0 19v1m0 4v1m0 2v1m0 7v1m0 9v2m1 -78v1m0 17v1m0 38v2m0 2v2m0 4v1m0 1v1m0 4v1m1 -82v2m0 11v1m0 13v1m0 19v1m0 21v1m0 9v1m0 2v1m1 -81v1m0 3v1m0 4v1m0 4v1m0 4v1m0 6v2m0 3v1m0 2v2m0 12v1m0 8v1m0 3v1m0 8v1m1 -62v1m0 2v1m0 6v1m0 14v1m0 6v1m0 6v1m0 7v1m0 1v1m0 16v2m0 2v1m1 -75v1m0 10v1m0 3v1m0 3v1m0 4v1m0 8v1m0 2v1m0 5v2m0 2v1m0 11v2m0 1v1m0 7v1m1 -65v1m0 2v1m0 8v1m0 4v1m0 24v1m0 4v2m0 17v1m1 -74v1m0 37v1m0 8v1m0 25v1m1 -72v1m0 10v1m0 25v1m0 5v1m0 30v2m1 -82v1m0 13v1m1 -14v1m16 42v1m17 -7v1m0 34v1m1 -48v2m0 11v1m0 5v1m0 1v1m0 4v1m0 5v1m0 1v1m1 -2v1m1 -42v1m0 20v2m0 1v1m0 20v1m0 15v2m1 -58v1m0 18v1m0 37v1m1 -71v1m0 2v1m0 2v1m0 7v1m0 4v1m0 2v1m0 12v1m0 12v1m1 -51v1m0 12v1m0 4v1m0 6v1m0 2v2m0 3v1m0 10v1m0 4v1m0 22v1m0 1v2m1 -71v1m0 5v1m0 19v1m0 15v1m1 -46v1m0 16v1m0 24v1m0 17v1m1 -66v1m0 27v1m0 33v2m0 3v1m1 -71v1m0 19v1m0 8v1m0 15v2m0 18v1m1 -15v1m2 -36v1m0 7v1m0 17v1m0 24v1m1 -49v1m4 33v2m1 -23v1m6 36v1m0 10v1m1 -74v1m0 24v1m0 12v1m0 13v1m0 10v1m1 -8v1m1 13v1m1 -78v1m0 5v2m0 1v1m0 6v2m0 7v1m0 35v2m0 18v1m2 -62v2m0 16v1m0 28v1m0 6v1m1 -73v1m0 6v1m0 5v1m0 35v1m0 12v1m2 -52v1m0 2v1m0 6v1m0 46v1m0 9v1m1 -49v1m0 36v1m1 -73v2m0 27v1m0 2v1m0 8v1m0 8v1m0 4v1m0 17v1m1 -64v1m2 15v1m0 18v2m0 11v1m0 14v1m0 6v1m1 -23v1m1 -50v1m0 17v1m0 13v1m0 3v1m1 -34v1m0 21v1m1 -24v1"/>
<path stroke="rgb(236,131,104)" stroke-width="1" d="M331.5 49v2m0 1v1m0 22v1m0 16v1m0 1v1m0 11v1m0 1v1m0 6v1m0 3v1m0 3v1m1 -70v1m0 3v1m0 4v2m0 5v1m0 9v1m0 3v1m0 12v2m0 8v1m0 4v1m0 16v1m1 -76v1m0 16v1m0 5v1m0 1v1m0 7v1m0 6v1m0 6v1m0 17v1m0 1v2m1 -72v1m0 4v2m0 29v1m0 2v1m0 3v1m0 19v1m1 -79v1m0 24v1m0 5v1m0 8v1m0 8v1m0 4v1m0 1v1m0 9v1m0 10v2m0 11v1m0 1v1m0 1v1m0 1v1m1 -91v1m0 31v2m0 15v1m0 14v1m1 -71v1m0 7v1m0 27v2m0 5v1m0 18v1m0 4v1m0 11v1m0 13v1m1 -77v1m0 8v1m0 21v1m0 4v1m0 1v1m0 3v1m0 10v1m0 22v1m1 -94v1m0 8v1m0 2v1m0 3v1m0 15v1m0 2v2m0 20v1m0 38v1m1 -89v1m0 13v1m0 27v1m0 8v1m0 16v1m1 -74v1m0 2v1m0 24v1m0 6v1m0 1v1m0 15v3m0 2v1m0 2v1m0 2v3m0 3v1m0 7v2m1 -73v1m0 5v2m0 5v1m0 9v1m0 10v1m0 38v1m0 7v1m1 -81v1m0 1v1m0 5v1m0 5v1m0 5v3m0 9v1m0 1v1m0 5v1m0 4v1m0 7v3m0 21v2m0 5v1m1 -95v1m0 12v1m0 2v1m0 49v1m1 1v1m0 24v1m3 -87v1m0 64v1m1 -8v1m0 11v1m0 18v1m2 -94v1m5 85v1m1 -70v1m4 -12v1m0 9v1m0 10v1m0 53v1m1 -76v1m0 34v1m0 4v1m0 18v1m0 18v1m1 -63v1m0 1v1m0 14v1m0 4v1m0 1v1m0 24v5m1 -71v1m0 15v1m0 11v1m0 15v1m0 5v2m0 7v1m0 9v1m0 12v1m0 7v2m1 -95v2m0 7v1m0 3v1m0 2v1m0 6v1m0 6v1m0 8v1m1 -42v1m0 14v1m0 6v1m0 8v1m0 13v1m0 19v1m0 27v1m0 2v1m1 -72v1m0 7v1m0 4v1m0 11v1m0 13v1m0 22v1m1 -77v1m0 10v1m0 29v1m0 28v1m0 3v1m0 11v1m6 -94v1m0 41v1m1 -49v2m0 4v1m0 2v1m0 14v1m0 5v1m0 7v1m0 6v1m0 2v1m0 30v1m1 -82v1m0 29v1m0 18v2m0 18v1m0 6v1m0 9v1m1 -83v1m0 7v1m0 29v1m0 17v1m0 8v1m0 4v1m0 1v1m0 14v1m1 -86v1m0 1v1m0 9v1m0 14v1m0 4v1m0 1v1m0 1v1m0 8v1m0 1v1m0 2v2m0 8v1m0 21v1m1 -79v1m0 35v1m0 22v1m0 6v1m0 1v1m0 2v1m0 19v1m1 -98v1m0 14v1m0 2v1m0 23v1m0 18v1m0 3v1m0 6v2m0 12v1m1 -88v1m0 18v2m0 21v1m0 12v1m0 1v1m0 3v1m0 32v1m0 3v1m1 -99v1m0 6v1m0 20v1m0 3v1m0 9v1m0 1v1m0 11v1m0 3v1m0 4v1m0 4v1m0 1v1m0 4v3m0 2v1m0 1v1m0 3v1m0 3v1m0 1v1m0 1v1m0 1v1m1 -82v1m0 10v1m0 37v1m0 17v1m1 -75v1m0 3v1m0 19v1m0 5v2m0 2v1m0 1v1m0 27v1m0 5v2m0 2v2m0 10v1m1 -1v1m1 -78v1m0 10v1m0 17v1m1 -48v1m0 16v1m0 27v1m1 47v1m1 -96v1m0 6v1m0 4v1m0 7v2m0 18v1m0 4v1m0 43v1m0 3v2m0 2v1m1 -89v1m1 74v1m1 -60v1m0 4v1m0 7v1m0 24v1m0 3v1m1 -70v1m0 4v1m0 18v3m0 2v1m0 3v1m0 6v1m0 2v1m0 10v1m0 9v1m0 11v2m0 15v1m1 -85v1m0 9v1m0 15v1m0 3v1m0 6v1m0 7v2m0 15v1m0 7v1m0 7v1m0 11v1m1 -96v1m0 19v1m0 2v1m0 7v1m0 3v1m0 1v1m0 12v1m0 1v1m0 6v1m0 22v1m1 -77v1m0 58v1m0 20v1m1 -77v1m0 2v1m0 12v1m0 3v1m0 7v1m0 5v1m0 14v1m0 8v1m0 15v1m1 -84v1m0 1v1m0 9v1m0 5v1m0 4v1m0 6v2m0 7v1m0 8v3m0 19v1m0 3v1m0 11v2m0 3v1m1 -96v2m0 4v1m0 5v1m0 10v1m0 5v1m0 15v1m0 5v1m0 3v3m0 20v1m0 3v1m0 5v1m0 2v1m0 2v1m1 -95v1m0 1v1m0 1v1m0 8v2m0 34v2m0 4v1m0 25v1m0 3v1m0 3v2m0 7v1m1 -65v1m0 4v1m0 2v1m0 28v1m1 -65v1m0 19v1m0 8v1m0 28v1m0 8v1m0 3v1m0 1v1m0 2v1m0 5v1m1 -90v1m0 17v1m0 16v1m0 8v1m0 3v2m0 5v1m0 4v1m0 4v1m0 6v2m0 4v1m0 4v1m0 7v1m0 1v1m1 -85v1m0 25v1m0 2v1m0 3v1m0 3v1m0 2v1m0 18v2m0 3v1m0 4v2m0 2v1m0 10v1m1 -63v1m0 15v1m0 7v1m0 12v2m0 13v1m1 -84v1m0 10v1m0 1v1m0 5v1m0 1v1m0 2v2m0 17v3m0 2v1m0 1v1m0 23v1m0 13v1m1 -76v1m0 4v1m0 3v1m0 10v1m0 8v1m0 11v1m0 2v1m0 1v1m0 13v1m0 1v1m0 1v1m0 6v1m0 13v1m1 -94v3m0 11v1m0 7v2m0 8v1m0 3v1m0 3v1m0 1v1m0 7v1m0 1v1m0 27v1m0 2v1m1 -47v1m0 5v1m0 18v1m0 3v2m0 5v1m0 12v1m0 4v1m0 2v1m1 -98v1m0 8v1m52 66v1m1 -61v1m0 42v1m1 -29v1m0 9v2m0 12v1m0 11v1m0 18v1m0 2v1m0 5v1m1 -65v1m0 55v1m1 -80v1m0 12v1m0 1v1m2 10v1m14 31v1m-134 58v1m2 15v1m0 12v1m4 16v1m1 -57v1m0 26v1m1 -3v1m1 -1v1m0 25v1m1 -28v1m0 33v1m54 -73v1m0 9v1m0 5v1m0 1v1m0 8v2m0 18v1m0 2v1m0 6v1m0 11v1m0 7v1m0 1v1m0 2v2m1 -80v1m0 2v1m0 2v1m0 18v1m0 13v1m0 10v1m0 2v1m0 5v1m0 10v1m1 -69v1m0 1v1m0 1v1m0 24v1m0 4v1m0 3v1m0 4v1m0 6v1m0 2v1m0 13v1m0 3v1m0 4v1m1 -60v1m0 6v1m0 1v1m0 4v1m0 30v1m1 -43v1m0 11v1m0 6v1m0 2v1m0 3v1m0 4v1m0 15v1m0 9v1m1 -82v1m0 10v1m0 3v1m0 9v1m0 9v1m0 19v1m0 5v1m0 6v1m0 7v1m0 5v1m1 -79v2m0 9v2m0 2v1m0 11v1m0 14v1m0 5v1m0 3v1m0 7v1m0 4v2m1 -43v1m0 20v1m0 2v1m0 18v1m0 8v1m1 -77v1m0 9v1m0 15v1m0 2v1m0 1v1m0 3v1m0 4v1m0 4v1m0 17v1m0 9v1m0 4v1m1 -77v2m0 22v1m0 3v1m0 13v1m1 -48v1m0 11v1m0 1v1m0 3v1m0 1v1m0 7v1m0 1v1m0 17v1m0 4v1m0 2v1m1 -59v1m0 14v1m0 4v1m0 8v1m0 1v1m0 7v1m0 3v1m0 2v1m0 4v1m0 11v1m0 6v1m0 10v1m2 -65v1m0 5v2m0 13v1m0 1v1m1 -29v1m0 3v1m0 6v1m0 9v1m0 23v1m0 6v1m1 -14v1m0 29v1m1 -48v1m0 11v1m0 27v1m1 -59v1m0 17v1m0 16v1m1 -53v1m0 1v1m0 10v1m0 6v1m0 1v1m0 11v1m0 1v1m0 3v1m0 1v1m0 4v1m0 15v1m0 15v1m1 -80v1m0 1v1m0 11v1m0 14v1m0 5v1m0 9v1m0 30v1m1 -47v1m0 18v1m0 6v2m0 21v1m1 -72v1m0 3v2m0 24v1m0 10v1m0 6v1m0 13v1m0 8v1m1 -53v1m0 9v1m0 16v1m1 -48v1m0 20v1m0 1v1m0 5v2m0 10v1m0 10v1m0 3v1m0 18v2m1 -80v1m0 24v2m0 6v1m0 9v1m0 11v2m0 12v2m0 7v1m1 -83v1m0 51v1m0 5v1m0 4v1m0 1v2m1 -61v2m0 4v1m0 2v1m0 4v1m0 2v1m0 6v1m0 12v1m0 6v1m1 -44v1m0 3v2m0 2v1m0 2v1m0 4v1m0 17v1m0 3v3m0 11v1m0 13v1m0 2v1m0 5v1m1 -82v1m0 2v1m0 12v1m0 15v2m0 7v1m0 10v2m0 1v2m0 21v1m1 -80v1m0 9v1m0 23v1m0 6v1m0 2v1m0 10v2m0 2v1m0 1v1m0 14v1m0 4v1m1 -80v1m0 3v1m0 10v2m0 23v1m0 2v1m0 7v1m0 6v1m0 1v1m1 -61v1m0 19v1m0 10v1m0 4v2m0 16v1m0 1v1m0 7v1m0 11v2m1 -46v1m0 42v1m1 -64v1m12 24v1m0 11v1m2 -26v1m0 12v1m1 -15v1m0 7v1m0 5v1m0 18v1m1 -50v1m0 49v1m1 -44v1m1 -5v1m0 57v2m0 9v1m1 -61v1m2 -19v1m1 -2v1m0 5v1m0 6v2m0 1v1m0 8v1m0 1v1m0 1v1m0 5v1m0 4v1m0 1v1m0 29v1m1 -64v1m0 18v1m1 8v1m0 2v1m1 -4v1m2 -39v1m3 20v1m0 27v1m0 9v1m8 -17v1m0 7v1"/>
<path stroke="rgb(240,162,142)" stroke-width="1" d="M331.5 55v1m0 9v1m0 11v1m0 10v1m0 2v1m0 30v1m0 4v1m0 3v1m1 -73v1m0 49v2m0 2v1m1 -63v1m0 44v1m0 1v1m1 16v1m1 -62v1m0 24v1m0 31v1m1 -51v1m1 -11v1m0 26v1m0 12v1m1 -44v1m0 20v1m0 51v1m1 -73v1m0 4v1m1 35v1m1 -4v1m0 22v1m0 20v1m0 3v1m0 1v1m1 -102v1m0 13v1m0 39v1m0 15v1m1 -48v1m0 15v1m0 4v1m0 7v1m0 4v1m0 5v1m0 9v1m0 2v1m0 2v1m0 10v1m0 5v1m0 4v1m1 -97v1m0 1v1m0 4v2m0 7v1m0 9v1m0 12v1m0 16v1m0 16v1m0 16v1m1 -95v1m0 15v1m0 59v1m0 22v1m1 -85v1m0 22v1m0 7v1m0 30v1m0 9v1m0 7v1m1 -58v1m0 36v1m0 19v1m1 -96v3m1 -3v1m0 24v1m0 7v1m0 11v1m0 6v2m0 14v1m0 7v1m1 -74v1m0 43v1m1 50v1m1 -61v1m0 51v1m4 -27v1m0 27v1m3 -91v1m0 23v1m0 35v1m2 -60v1m0 6v1m0 6v1m0 26v2m0 9v1m0 7v1m0 21v1m0 5v1m1 -89v1m0 6v1m0 3v1m0 3v2m0 6v1m0 7v1m0 6v1m0 16v1m0 6v1m0 4v2m0 2v1m0 1v1m0 21v1m1 -89v1m0 3v1m0 20v1m0 10v1m0 18v1m0 13v1m0 15v1m1 -65v1m0 2v1m0 8v1m0 1v1m0 10v1m0 18v1m0 2v1m0 3v1m0 9v1m1 -89v1m0 35v1m0 5v1m0 2v1m0 12v1m0 4v1m0 13v1m0 3v1m0 2v1m0 3v1m0 7v1m1 -101v1m0 13v1m0 26v1m0 4v1m0 4v1m0 1v1m0 7v1m0 1v1m0 17v1m0 6v1m0 2v1m1 -89v1m0 22v1m0 5v1m0 4v1m0 7v2m0 24v1m0 9v1m0 1v1m0 7v1m1 -89v1m0 11v1m0 5v2m0 5v1m0 31v1m0 3v1m0 8v1m0 23v1m1 -64v1m1 3v1m0 20v1m0 17v1m0 3v1m0 14v1m0 2v1m1 -52v1m0 22v1m0 26v1m1 -44v1m0 35v1m1 -44v1m0 1v1m0 4v1m1 -50v1m0 9v1m0 25v1m0 34v1m1 -59v2m0 5v1m0 42v1m0 3v1m0 3v2m0 3v2m0 7v3m0 2v1m1 -71v1m0 4v2m0 2v1m0 22v1m0 1v1m0 12v1m0 3v1m0 2v1m0 1v1m1 -81v1m0 2v1m0 8v1m0 3v1m0 25v1m0 3v1m0 5v2m0 13v1m0 8v1m0 2v1m0 14v1m1 -76v1m0 50v1m1 -74v1m0 31v1m0 2v1m0 16v1m0 4v1m0 13v1m0 5v1m0 9v1m0 1v1m0 8v1m1 -99v2m0 25v1m0 2v1m0 8v2m0 1v2m0 3v1m0 16v1m0 5v1m0 20v1m0 7v1m1 -74v1m0 7v1m0 5v1m0 2v1m0 3v1m0 9v1m0 16v2m0 10v1m0 2v1m1 -76v1m0 12v2m0 12v1m0 4v1m0 7v1m0 2v1m0 31v1m0 10v1m1 -93v2m0 19v1m0 4v1m0 7v1m0 5v1m0 10v1m0 1v1m0 4v1m0 14v1m0 1v1m0 14v1m0 2v1m1 -92v1m0 8v1m0 5v1m0 1v1m0 13v1m0 11v1m0 7v1m0 8v1m0 3v1m0 14v1m0 1v1m0 3v1m1 -89v1m0 18v1m0 20v1m0 12v1m0 16v1m0 20v1m1 -96v1m0 17v1m0 3v1m0 19v1m0 7v1m0 16v1m0 28v2m1 -94v1m0 9v1m0 1v1m0 3v1m0 3v1m0 13v1m0 19v1m0 26v1m0 2v1m1 -75v1m0 16v1m0 30v1m1 -51v2m0 14v1m0 3v1m0 10v1m0 4v1m0 7v2m0 5v1m0 5v1m0 10v1m0 17v1m1 -55v1m1 -47v1m0 11v1m0 7v1m0 4v1m0 3v3m0 10v1m0 4v1m0 46v1m1 -90v1m0 14v1m0 2v3m0 1v2m0 14v2m0 1v1m0 13v1m0 19v1m1 -55v1m0 2v1m0 20v1m0 26v1m0 6v1m0 1v1m1 -87v1m0 3v1m0 8v2m0 31v2m0 4v1m0 7v1m0 23v2m0 6v1m1 -85v1m0 6v1m0 8v1m0 10v1m0 1v1m0 16v1m0 34v1m0 1v1m0 6v1m1 -93v1m0 7v2m0 10v1m0 9v2m0 7v1m0 2v1m0 6v1m0 3v1m0 2v1m0 1v1m0 14v1m0 11v1m0 1v1m0 6v1m1 -101v1m0 7v1m0 9v1m0 1v1m0 21v1m0 35v1m0 2v1m0 11v1m0 5v1m1 -21v1m0 8v1m0 3v1m1 -16v1m1 -77v1m0 23v1m0 32v1m0 34v1m0 2v1m1 -95v1m0 16v1m0 11v1m0 17v1m0 2v1m0 5v1m0 19v1m0 7v2m1 -86v2m0 13v1m0 15v1m0 1v1m0 11v1m0 4v1m0 10v1m0 4v1m0 10v1m0 13v2m1 -92v1m0 7v1m0 4v2m0 10v1m0 2v1m0 1v1m0 17v1m0 4v1m0 1v1m0 7v1m0 23v1m1 -92v1m0 57v1m0 3v1m0 10v1m0 15v1m0 7v1m1 -94v1m0 4v1m0 6v1m0 16v1m0 2v1m0 8v1m0 5v1m0 27v1m0 1v1m0 1v1m1 -78v1m0 1v2m0 9v1m0 18v1m0 25v1m0 9v1m0 16v1m1 -86v1m0 8v1m0 5v1m0 5v1m0 1v1m0 7v1m0 8v1m0 25v1m0 2v1m0 1v1m0 8v1m1 -87v1m0 20v1m0 8v1m0 6v1m0 29v1m0 24v2m1 -62v1m0 62v1m1 -85v1m0 19v1m0 6v1m0 10v1m0 14v1m0 22v1m0 1v1m1 -88v1m0 7v1m0 21v1m0 12v1m0 23v1m43 -62v1m8 -5v1m0 58v1m0 14v1m0 13v1m1 -93v1m0 3v1m0 2v1m0 10v1m0 1v2m0 20v1m0 14v1m1 -57v1m0 9v1m0 49v1m0 2v2m1 -65v1m0 5v1m0 17v1m0 14v1m0 43v1m0 11v1m0 1v1m1 -97v1m0 25v1m0 3v1m0 11v1m0 14v2m0 9v1m0 24v2m1 -87v1m0 14v1m1 27v1m0 24v1m12 11v1m8 -31v1m-143 77v1m1 -2v1m1 23v1m0 18v1m1 -46v1m0 7v1m1 -6v1m1 -35v1m0 21v1m0 13v1m0 17v2m1 -33v1m0 9v1m0 8v1m0 6v1m0 5v1m1 -20v1m0 5v1m0 20v1m0 16v1m1 -67v1m0 27v1m0 1v1m1 -31v1m1 -14v2m0 16v2m0 14v1m0 4v1m0 22v1m1 -43v1m0 13v1m0 27v1m1 -40v1m0 24v1m1 -50v1m0 3v1m0 16v1m0 17v1m0 23v1m2 1v1m8 -34v1m6 21v1m18 -8v1m6 -31v1m0 12v1m0 37v1m2 -39v1m11 8v1m1 -35v1m0 24v1m0 11v1m0 12v1m0 24v2m1 -71v1m0 1v1m0 17v1m0 4v1m0 22v1m0 1v1m0 7v1m0 3v1m1 -61v1m0 24v1m1 -38v2m0 5v1m0 30v1m0 37v1m0 6v1m1 -38v1m0 3v1m0 11v1m0 4v1m0 3v1m0 3v1m1 -65v1m0 17v1m0 2v1m0 1v1m0 8v1m0 5v1m0 11v1m0 3v1m0 2v1m0 13v1m1 -83v1m0 11v1m0 28v1m0 7v2m0 4v1m0 13v1m1 -66v1m0 1v1m0 7v1m0 2v1m0 3v4m0 7v2m0 17v1m0 4v1m0 26v1m1 -72v1m0 16v1m0 31v1m1 -53v1m0 4v1m0 4v1m0 3v1m0 6v1m1 -22v1m0 8v1m0 9v1m0 4v1m0 1v2m0 5v1m0 21v2m1 -61v1m0 3v1m0 8v1m0 7v1m0 7v1m0 12v1m0 5v1m0 2v1m0 26v1m1 -63v1m0 7v1m0 26v1m0 7v1m1 -59v1m0 28v1m0 5v1m0 17v1m0 12v1m0 10v1m1 -73v1m0 31v1m0 28v1m0 3v2m1 -67v1m0 3v1m0 8v1m0 12v1m0 1v1m0 9v1m0 2v1m0 4v1m0 9v1m0 2v1m0 6v2m1 -51v1m0 10v1m0 9v1m0 7v1m0 22v1m1 -82v1m0 15v1m0 9v1m0 1v1m0 8v1m0 39v1m1 -69v1m0 17v1m0 7v1m0 9v1m0 7v1m0 1v1m0 3v1m0 21v1m0 2v1m1 -81v1m0 19v1m0 7v1m0 26v1m0 11v1m0 5v1m1 -73v1m0 17v1m0 13v1m0 3v1m0 2v1m0 9v1m0 10v1m0 3v1m0 12v1m1 -68v3m0 15v1m0 7v1m0 4v1m0 18v1m1 -64v3m0 9v1m0 5v2m0 1v1m0 5v1m0 6v1m0 3v1m0 15v1m0 16v1m1 -63v1m0 1v1m0 11v1m0 32v1m0 1v2m0 5v1m1 -67v1m0 3v1m0 63v1m0 13v1m1 -33v1m1 -51v1m0 6v1m0 2v1m0 15v1m0 1v1m0 1v1m0 9v1m0 37v1m1 -70v1m0 15v1m0 22v1m0 6v1m0 3v1m0 1v1m0 9v1m0 8v1m2 -58v1m0 47v1m0 4v1m1 -77v1m0 19v1m0 5v1m0 35v1m0 14v1m0 1v2m1 -79v2m0 8v1m0 3v3m0 1v1m0 45v1m1 -63v2m0 14v1m0 43v1m0 13v1m1 -38v2m0 33v1m2 -57v1m0 1v1m0 27v1m0 6v1m0 17v2m5 -24v1m0 28v1m3 -21v1m1 -25v1m0 23v1m1 -57v1m0 5v1m0 19v1m1 21v1m0 2v1m1 -34v1m0 26v1m1 -39v1m0 2v1m0 3v1m0 39v2m0 4v1m0 6v1m0 5v1m0 1v1m1 -73v2m0 5v1m0 13v1m0 8v1m0 4v1m0 11v1m0 2v2m0 2v1m1 -61v2m0 2v1m0 6v1m0 5v2m0 13v2m0 13v1m0 14v2m0 1v1m1 -54v1m0 9v1m0 6v1m0 4v1m0 3v1m0 5v1m1 -32v1m0 8v1m0 4v1m0 8v1m0 19v1m0 23v1m1 -85v1m0 31v1m0 7v1m0 28v1m1 -69v1m0 2v1m0 12v1m0 11v1m0 8v1m0 11v1m0 8v1m0 8v1m0 5v2m0 5v1m1 -77v2m0 44v1m0 1v1m0 14v1m0 7v2m0 1v2m0 1v1m1 -44v1m1 -29v2m0 12v1m0 7v1m0 6v1m1 21v1m1 -40v1m0 6v1m1 -23v1m0 46v1m0 3v1m0 1v1m1 -32v1m2 -31v1m0 10v1m0 1v1m0 25v1m0 19v1m2 -47v1m0 25v1m2 -37v1m0 35v1m1 38v1m0 1v1m2 -64v1m0 24v1m0 23v1m1 9v1m0 7v1m2 -85v1m0 20v1m0 8v1m1 -31v1m0 4v1m0 60v1m0 10v1m2 -64v1m0 16v1m0 7v1m0 9v1m0 1v2m0 2v1m0 26v1"/>
<path stroke="rgb(228,165,159)" stroke-width="1" d="M331.5 58v1m0 48v1m0 3v1m0 1v1m0 16v1m0 1v1m1 -17v1m1 -28v1m5 -43v1m2 3v1m0 78v1m3 -88v1m0 27v1m0 45v1m1 -55v1m0 4v1m0 7v1m1 -36v1m0 9v1m1 -16v1m0 40v1m0 16v1m1 -28v1m0 39v1m0 1v1m0 8v1m0 11v1m1 -88v1m0 46v1m0 23v1m1 -38v1m0 13v1m0 9v1m0 30v1m1 -44v1m0 37v1m1 -35v1m0 6v1m0 2v1m1 -51v1m0 68v1m4 -83v1m0 39v1m0 23v1m1 -52v1m0 7v1m0 58v1m1 -4v1m1 -81v2m0 4v1m0 40v1m1 -28v1m0 7v1m0 32v1m0 9v1m1 -71v1m0 31v1m0 7v1m0 15v1m0 8v1m0 12v1m1 -63v1m0 7v1m1 -15v1m0 9v1m0 35v1m2 -36v1m0 11v1m0 16v1m1 -20v1m1 1v1m0 35v1m0 9v1m0 4v1m0 6v1m1 -91v1m0 20v2m0 7v1m0 46v1m1 -31v1m0 21v1m0 5v1m0 3v1m1 -76v1m0 7v1m0 12v1m1 -15v1m0 1v1m0 75v1m1 -81v1m0 17v1m0 7v1m0 33v1m1 -44v1m0 15v1m0 22v1m0 21v3m1 -11v1m0 10v1m1 -80v1m0 73v1m1 -75v1m0 9v1m0 22v1m0 8v1m0 10v1m0 2v1m0 11v1m0 9v2m0 4v1m1 -94v1m0 86v1m0 6v1m2 -55v1m0 12v1m1 21v1m0 14v1m1 -88v1m0 24v1m0 8v1m1 -6v1m0 13v1m0 40v1m1 -82v1m0 50v1m1 -12v1m1 -36v1m0 17v1m0 11v1m0 11v1m0 7v1m0 8v1m0 11v1m1 -83v1m0 7v2m0 1v1m0 1v1m0 41v1m0 29v1m1 -85v1m0 18v1m0 20v1m0 16v1m2 -59v1m0 18v2m0 22v1m0 36v1m2 -75v1m0 40v1m1 -37v1m0 37v1m0 28v1m0 7v1m0 8v1m1 -80v1m0 67v1m0 11v1m1 -26v1m0 7v1m2 -84v1m0 4v1m0 6v1m0 9v1m0 24v1m0 2v1m0 7v1m0 12v1m1 -66v1m0 5v1m0 4v1m2 -5v1m1 42v1m0 4v1m1 -32v1m0 30v1m1 -38v2m0 33v1m0 30v1m1 -15v1m1 -21v1m0 17v1m1 -69v1m0 15v1m0 44v1m0 21v1m0 9v1m1 -64v1m0 33v1m1 -71v1m0 43v1m0 1v1m0 5v1m0 13v1m0 16v1m1 -66v1m0 2v1m2 -13v1m0 8v1m0 8v1m0 7v1m0 4v1m0 11v1m0 2v2m0 3v1m0 19v1m0 13v1m0 5v1m1 -101v1m0 87v1m16 -80v1m19 -7v1m0 24v1m0 65v1m1 -76v1m2 23v1m1 55v1m8 -96v1m4 60v1m0 21v1m1 -58v1m0 5v1m0 6v1m0 54v1m1 -96v1m0 66v1m1 -66v1m0 31v1m0 2v1m0 14v1m0 4v1m0 17v1m0 7v1m0 9v1m1 -83v1m0 14v1m0 6v1m1 54v1m1 -76v1m0 13v1m7 45v1m3 21v1m4 -77v1m0 19v1m0 28v1m0 11v1m0 10v1m6 -38v1m-148 96v1m6 -21v1m0 23v1m1 -47v1m0 51v1m0 16v1m1 -70v1m0 18v1m0 28v1m0 11v1m0 11v1m1 -82v1m0 21v1m0 10v1m0 23v1m2 -46v1m0 8v1m0 5v1m0 2v1m0 1v1m0 10v1m0 26v2m0 11v2m1 -9v1m0 2v1m1 -68v1m0 68v1m2 -76v1m0 1v1m0 8v1m0 5v1m0 20v1m0 2v1m0 24v1m0 1v2m0 2v1m1 -59v1m0 21v1m0 2v1m0 12v1m0 18v1m1 -68v1m0 22v1m0 33v1m0 3v1m0 4v1m2 5v1m1 -46v1m1 -1v1m0 4v1m4 -29v1m3 18v1m0 12v1m1 -25v1m0 29v1m3 -6v1m0 28v2m2 -54v1m0 14v1m0 2v1m3 4v1m2 -31v1m0 40v1m1 -17v1m7 -7v1m0 12v1m4 -33v1m8 58v1m1 -61v1m0 54v1m0 3v1m10 -38v1m1 -31v1m1 3v1m0 6v2m0 49v1m1 -70v1m0 21v1m1 29v1m1 -29v2m2 -13v1m0 30v1m1 -5v1m1 -15v1m0 1v1m0 25v1m0 14v1m0 8v1m1 -19v1m0 16v1m2 -72v1m1 14v1m0 20v1m0 18v1m1 -58v1m0 3v1m0 1v1m0 4v1m0 8v1m0 2v1m0 3v1m0 18v2m0 1v1m0 4v1m0 7v1m0 10v1m0 1v1m1 -51v1m0 30v1m0 19v1m1 -51v1m1 -18v1m0 66v1m1 -34v1m0 18v1m0 14v1m1 -72v1m0 68v1m1 -55v1m0 10v1m0 36v1m1 -65v1m1 -2v1m2 15v1m0 54v1m1 -12v1m1 -14v1m2 -23v1m0 47v2m1 -76v1m0 16v1m0 8v1m0 39v1m4 -67v1m0 46v1m0 4v1m1 -59v2m0 27v2m0 19v1m0 15v1m0 13v1m1 -70v1m0 11v1m0 33v1m1 -40v1m0 36v1m1 -58v1m0 3v1m2 60v1m0 8v1m0 2v1m3 -49v1m0 38v1m2 -6v1m1 -34v1m1 -10v1m0 4v1m0 7v1m1 -31v1m0 36v1m0 35v1m0 4v1m1 -37v1m0 4v1m1 -21v2m0 3v1m1 -6v1m0 19v1m1 -37v1m0 12v1m0 29v1m0 14v1m1 -21v1m0 9v1m0 14v2m1 -51v1m0 28v1m1 -48v1m0 43v2m0 1v1m0 6v1m0 10v1m0 2v2m1 -74v1m0 1v1m0 10v1m1 -16v1m0 14v2m0 26v1m1 -46v1m0 10v1m0 69v1m1 -85v1m0 15v1m0 40v2m1 -57v1m0 1v1m0 33v1m0 20v1m0 24v1m1 -83v1m0 15v1m0 2v1m0 2v1m0 20v1m0 9v1m0 26v1m1 -45v1m0 3v1m1 -1v1m1 -37v1m0 14v1m0 20v1m0 36v1m1 -80v1m1 28v1m0 11v1m0 27v1m1 -43v1m0 24v1m1 -42v1m0 17v2m0 29v1m0 19v1m2 -63v1m2 -12v1m2 56v1m2 -5v1m0 5v1m1 -37v1m1 0v1m1 -3v1m0 24v1m0 8v1m0 5v2"/>
<path stroke="rgb(227,149,139)" stroke-width="1" d="M331.5 54v1m0 5v1m0 75v1m4 -40v1m6 -47v1m0 21v1m2 31v1m0 14v1m1 -83v1m0 70v1m0 22v1m1 -76v1m1 48v1m5 -20v1m1 -26v1m4 46v1m1 -38v1m1 41v1m1 -63v1m0 63v1m2 -73v1m0 51v1m1 -24v2m0 1v1m0 12v1m0 36v1m1 -78v1m0 19v1m0 30v1m0 3v1m1 -69v1m0 49v1m0 4v1m0 25v1m1 -64v1m0 36v1m1 -25v1m1 64v1m2 4v1m2 -100v1m0 12v1m0 62v1m0 19v1m0 1v1m1 -51v1m1 -21v1m0 9v1m0 26v1m1 17v1m1 -61v1m0 7v1m1 -29v1m0 1v1m0 7v1m0 3v1m0 2v1m0 8v1m0 16v1m0 41v1m1 -70v1m0 11v1m0 31v1m0 14v1m1 -38v1m1 11v1m2 -32v1m0 6v1m0 17v1m0 9v1m1 -39v1m1 -19v1m0 3v1m0 19v1m0 16v1m0 29v1m0 10v1m1 -44v1m1 -43v1m0 20v1m0 52v1m0 4v1m1 -76v1m0 2v1m0 21v1m0 38v1m1 -61v1m0 24v1m0 24v1m0 1v1m0 21v1m0 7v1m0 4v1m2 -10v1m1 -83v1m0 25v1m0 44v1m0 10v1m0 10v1m1 -84v1m0 20v1m0 1v1m0 7v1m1 -3v1m0 50v1m1 -36v1m0 30v1m0 6v1m1 -65v1m1 -31v1m0 48v2m0 26v1m2 -71v1m1 -9v1m0 15v1m0 30v1m0 33v1m0 6v1m2 -60v1m0 45v1m0 15v1m1 -12v1m1 -25v1m1 -29v1m0 24v1m0 41v1m1 -35v1m0 21v1m1 -49v1m0 28v1m0 8v1m1 -9v1m0 29v1m1 -89v1m0 87v1m1 -57v1m0 9v1m0 10v1m0 9v1m0 23v1m2 -97v2m0 38v1m0 1v1m0 26v1m0 8v1m0 7v1m0 3v2m41 -35v1m11 -50v1m1 31v1m1 -41v1m0 37v1m0 17v1m1 -15v1m17 -19v1m0 19v1m-137 75v1m3 10v1m0 9v1m0 15v1m1 -31v1m0 19v1m1 27v1m1 -50v1m0 18v1m0 36v1m4 -79v1m0 33v1m0 1v1m0 6v1m1 -44v1m0 12v1m0 13v1m1 38v1m1 -59v1m21 40v1m18 17v1m1 -50v1m2 -5v1m0 8v1m12 -18v1m0 17v1m1 -4v1m0 8v1m0 1v2m0 19v1m0 23v1m1 -76v1m0 67v1m1 -24v1m0 14v1m0 8v1m2 -51v1m1 -7v1m0 27v1m1 39v1m1 -84v1m0 6v1m0 50v1m0 1v1m1 -54v1m0 72v1m1 -40v1m1 -35v1m0 61v1m1 -68v1m0 18v1m0 21v1m0 2v1m0 11v1m0 18v1m1 -52v1m0 30v1m1 -29v1m0 3v1m0 46v1m1 -44v1m0 27v1m2 -63v1m0 6v1m1 6v1m0 12v1m0 41v1m1 0v1m0 10v1m1 -38v1m2 29v1m1 -44v1m1 -12v1m0 25v1m1 6v1m1 -38v1m0 39v1m1 -28v1m0 9v1m0 8v1m0 6v1m0 4v1m0 6v1m3 -71v1m0 27v1m0 4v1m0 37v1m2 -18v1m1 23v1m2 -71v1m0 13v1m0 10v1m9 -20v1m3 -8v1m0 8v1m0 1v1m1 -1v1m0 1v1m1 -17v1m0 15v1m0 16v1m0 32v1m0 9v1m1 -4v1m0 5v1m2 -43v1m1 30v1m1 -28v1m0 6v1m0 9v1m0 14v1m1 -53v1m0 57v1m1 -71v1m1 7v1m1 -6v1m0 2v1m0 10v1m2 19v1m1 -34v1m0 5v1m0 48v1m2 -24v1m3 -14v1m0 42v1m7 -62v1m2 48v1m1 -31v1m0 15v1"/>
<path stroke="rgb(219,181,194)" stroke-width="1" d="M341.5 54v1m2 -13v1m1 47v1m1 -39v1m0 2v1m0 6v1m0 37v1m0 25v1m0 1v1m1 -74v1m0 3v2m1 -17v1m0 32v1m0 38v1m0 4v1m0 7v1m1 -73v1m0 7v1m1 30v1m1 2v1m1 -46v1m0 79v1m1 -96v1m0 2v1m0 34v1m0 19v2m0 30v1m1 -76v1m1 0v1m0 21v1m0 2v2m0 23v1m1 -58v1m1 -7v3m0 15v1m0 52v1m1 -65v1m0 40v1m0 23v1m0 13v1m1 -79v1m0 1v1m0 57v1m1 -71v1m0 1v1m0 2v1m0 25v1m0 11v1m0 19v1m0 10v1m1 -72v1m0 31v1m0 10v1m0 6v1m0 11v1m0 6v1m0 8v1m1 -57v1m0 65v1m1 -65v1m5 30v2m1 -54v2m0 19v1m1 -20v1m0 32v1m0 8v1m0 16v1m1 -52v1m1 -11v1m0 17v1m0 33v1m0 38v1m1 -86v1m0 5v1m0 21v1m0 1v1m0 1v1m0 10v1m0 30v1m0 4v1m1 -22v1m0 3v1m1 -63v1m0 3v1m0 13v1m0 3v1m0 35v1m0 12v1m0 11v1m1 -33v1m1 -43v1m0 25v1m0 14v1m1 -30v1m0 25v1m2 -2v1m0 4v1m1 -16v1m3 -43v1m0 60v1m2 -48v1m0 15v1m0 1v1m0 13v1m0 12v1m0 15v1m1 -71v1m1 21v1m0 46v1m1 -67v1m0 11v1m0 18v1m1 -13v1m1 -37v1m0 15v1m0 11v1m0 6v2m0 6v1m0 23v1m0 7v1m1 24v1m1 -13v1m2 -13v1m2 -78v1m0 2v1m0 32v1m1 -4v1m1 -20v1m3 49v1m1 -50v1m2 -11v1m0 71v1m1 -57v1m4 32v2m1 26v1m1 -45v2m0 22v1m0 13v2m0 2v1m0 6v1m9 -51v1m1 -28v1m1 1v1m5 22v1m0 8v1m3 11v1m9 -40v1m2 23v1m5 -22v1m0 9v1m0 11v1m0 29v1m1 -32v1m0 21v1m0 30v1m2 -74v1m0 27v1m0 41v1m0 8v1m1 -54v2m0 24v1m1 -73v1m0 11v2m0 60v1m0 23v1m1 -88v1m1 47v1m0 23v1m1 -65v1m0 15v1m0 4v1m0 10v1m0 12v1m0 34v2m1 -86v2m0 18v1m0 5v1m1 5v1m1 -42v1m0 59v1m1 7v1m2 -16v1m1 -51v1m0 3v1m0 30v1m0 13v1m0 18v1m0 17v1m1 -86v1m0 1v1m0 19v1m0 11v1m0 6v1m0 14v1m1 -46v1m0 6v1m0 13v1m0 9v2m0 4v1m1 21v1m1 -82v1m0 2v1m0 11v1m0 32v1m0 17v1m0 5v1m0 3v1m0 22v1m2 -97v1m0 12v1m0 4v1m0 33v1m0 10v1m0 33v1m1 -96v1m0 3v2m0 29v2m1 -10v1m0 21v1m0 42v1m1 -47v1m1 -7v1m0 15v1m1 -14v1m2 -30v1m0 49v1m1 -68v1m0 1v1m1 63v1m1 -45v1m0 7v1m0 6v1m0 60v1m1 -6v1m1 -42v1m1 -22v1m0 57v1m1 -69v1m0 44v2m1 -55v1m0 9v1m0 3v1m0 11v1m0 15v2m0 7v1m0 14v2m0 6v1m0 2v1m0 7v1m1 -82v1m0 24v1m0 2v1m5 -30v1m0 10v1m0 27v1m0 39v1m0 2v1m-157 78v1m1 -1v1m8 -24v1m5 -40v1m0 8v1m0 1v1m0 39v1m0 5v1m1 -70v1m0 18v1m0 6v1m0 12v1m1 -40v1m0 3v1m0 4v1m0 11v1m0 7v1m0 17v1m0 32v1m1 -26v1m0 14v1m1 -67v1m0 49v2m0 20v1m1 -64v1m0 3v1m0 8v1m0 4v1m0 27v1m1 -55v1m0 7v1m0 9v1m0 10v1m0 2v1m0 6v1m0 1v1m0 3v1m0 17v1m1 -11v1m1 -57v1m0 35v1m0 9v1m1 -30v1m0 7v1m1 -5v2m0 20v1m0 26v1m1 -69v1m0 8v1m0 53v1m1 -53v1m0 8v1m0 18v1m0 13v2m0 20v1m1 -55v1m1 -19v1m0 38v1m0 21v1m0 11v1m1 -69v1m0 3v1m0 16v1m0 33v1m0 2v1m1 -66v1m0 6v1m0 16v1m0 26v1m0 26v1m3 -69v1m1 -9v1m0 17v1m0 24v1m0 26v1m1 -71v1m0 9v1m0 16v1m0 1v1m0 4v1m2 -39v1m0 15v1m0 10v1m0 4v1m1 -17v1m0 62v1m1 -35v1m1 1v1m1 -26v1m0 3v1m2 -27v1m0 41v1m0 2v1m1 -17v1m0 14v1m0 34v1m1 -70v1m0 17v1m0 31v1m0 3v1m1 -57v1m0 15v1m0 5v1m1 -27v1m0 15v1m0 42v1m0 4v1m1 -23v1m1 -29v1m0 21v1m0 24v1m0 2v1m4 -11v1m0 10v1m1 -70v1m1 31v1m1 -33v1m0 10v1m0 18v1m0 5v1m0 5v1m0 7v1m0 22v1m3 -48v1m0 14v1m0 11v1m1 -58v1m0 28v1m2 -26v1m1 -4v1m2 80v1m1 -67v1m1 11v2m1 -8v1m0 19v1m0 7v1m1 -34v1m0 15v1m0 4v1m0 1v1m0 23v1m1 -22v2m0 10v1m0 2v1m0 25v1m1 -51v1m0 37v1m1 -43v2m0 5v1m0 6v1m0 38v1m1 -59v1m0 15v1m0 2v1m0 17v1m0 21v1m1 -54v1m0 29v2m0 3v1m1 -61v1m0 52v1m2 -49v1m0 39v1m1 -13v1m1 -19v1m0 20v1m1 -37v1m0 33v1m0 5v1m0 3v1m0 1v1m0 20v1m0 9v1m1 -81v1m2 44v1m6 23v1m4 0v1m4 -9v1m5 -46v1m1 -14v1m0 53v1m0 1v1m4 -39v1m6 -17v1m0 12v1m0 3v1m0 10v1m0 35v1m1 -70v1m0 1v1m0 11v1m0 19v1m0 6v1m0 7v1m1 -53v1m0 6v1m0 26v1m0 13v1m1 6v1m0 14v1m1 -35v1m0 4v1m0 1v1m0 6v1m0 6v1m0 20v1m0 3v1m1 -76v1m0 44v1m3 -36v1m0 2v1m0 26v1m1 -39v1m1 29v1m0 20v1m0 5v1m1 -46v1m0 15v1m0 6v1m0 12v1m0 6v1m0 5v1m0 6v1m1 -59v1m0 3v1m0 17v1m0 18v1m0 22v1m1 -79v1m0 54v1m1 -58v1m0 19v1m0 8v1m0 25v1m1 -56v1m0 58v1m0 12v1m0 3v1m1 -77v1m0 59v1m2 -51v1m0 20v1m0 37v1m2 -74v1m0 5v1m0 13v1m0 24v1m1 -10v1m0 37v1m3 -27v1m0 4v1m0 5v1m1 -59v1m0 16v1m0 12v1m0 25v1m0 4v1m0 6v1m0 3v1m1 -64v1m0 14v1m0 11v1m0 9v1m0 6v1m0 1v1m0 8v4m0 12v1m1 -49v1m0 12v1m0 24v1m0 7v1m2 -80v1m0 3v1m0 7v1m0 71v1m1 -46v1m1 -8v1m0 11v1m0 3v1m0 7v1m1 -57v1m0 4v1m0 37v1m0 2v1m1 19v1m1 -65v1m0 8v1m0 53v1m0 5v1m0 11v1m1 -76v2m0 23v1m0 2v1m0 10v1m0 21v1m0 1v1m0 8v1m1 -20v1m1 -8v1m0 20v1m0 2v1m1 -67v1m0 27v1m0 23v1m0 12v1m1 -49v1m0 43v1m0 8v1m1 -20v1m0 10v1m1 -59v1m0 16v1m0 12v1m0 3v1m1 -8v1m0 7v1m0 18v1m0 4v1m1 -52v1m0 1v1m0 18v1m0 30v1m0 6v1m1 -82v1m0 2v1m0 3v1m0 9v1m0 46v1m0 5v1m0 7v1"/>
<path stroke="rgb(243,199,191)" stroke-width="1" d="M334.5 97v1m4 -47v1m2 2v1m1 -2v1m0 18v1m2 43v1m0 5v1m1 -84v1m0 14v1m0 4v1m0 51v2m0 4v1m0 9v1m1 -90v1m0 9v1m0 29v1m0 15v1m0 15v1m0 9v1m1 -82v1m0 36v1m0 7v1m0 6v2m0 2v1m0 17v1m0 1v1m0 7v1m1 -73v1m0 35v2m0 6v2m0 31v1m1 -68v1m0 15v1m0 39v1m0 5v1m0 6v3m1 -84v1m0 7v1m0 7v1m0 3v1m0 28v2m0 7v1m0 10v1m0 4v1m0 6v1m1 -55v1m0 15v1m0 5v1m0 12v1m0 16v1m1 -67v1m0 4v1m0 10v1m0 9v1m0 39v1m1 -4v1m1 -77v1m0 5v1m0 65v1m1 -20v1m0 25v1m1 -73v1m0 55v1m1 -75v1m0 29v1m0 50v3m0 2v1m1 -87v1m0 16v1m0 15v1m0 11v1m0 9v1m0 22v1m1 -60v1m0 23v1m0 26v1m0 7v1m0 14v1m1 -79v1m0 16v1m0 7v2m0 13v1m0 14v1m0 9v1m0 7v1m0 2v1m0 6v1m1 -100v1m0 15v1m0 25v1m0 5v1m0 46v1m1 -71v1m0 55v1m0 7v1m0 7v1m1 -97v1m0 2v1m0 23v1m0 3v1m0 23v1m0 9v1m0 15v1m0 12v2m1 -97v1m0 2v1m0 58v1m1 -54v1m0 4v1m0 47v1m0 18v1m1 -73v1m0 3v1m0 43v1m0 5v1m1 -54v1m0 11v1m0 39v1m0 7v1m0 14v1m0 7v1m1 -56v1m0 25v1m0 8v2m0 4v1m0 20v1m1 -89v2m0 31v2m0 9v1m0 35v1m1 -53v1m0 14v1m0 11v1m0 15v1m0 12v1m1 -64v1m0 7v1m0 11v1m0 1v1m0 12v1m1 -53v1m0 18v1m0 5v2m0 39v1m1 -48v1m0 36v1m0 1v1m0 5v1m1 -78v1m0 15v1m0 18v1m0 3v1m0 2v1m0 12v1m0 2v1m0 35v1m1 -87v1m0 19v1m0 3v1m0 4v1m0 33v1m0 3v1m1 -35v2m0 8v1m0 8v1m0 30v1m0 2v1m1 1v1m1 -77v1m0 10v1m0 57v1m1 -32v1m1 -24v1m0 8v1m0 15v1m0 14v2m0 9v1m1 -41v1m0 15v1m0 1v1m0 2v1m0 12v1m0 9v1m0 1v1m0 1v1m1 -49v1m0 5v1m0 41v1m1 -94v2m0 43v1m0 7v1m0 12v1m1 -54v1m0 5v1m0 10v1m0 5v1m0 28v1m1 -12v1m0 2v1m1 -62v1m0 12v1m0 3v1m0 11v1m0 13v1m0 7v1m0 11v1m0 3v1m0 15v1m0 10v1m0 5v1m1 -91v1m0 12v1m0 3v1m0 12v1m0 2v1m1 0v1m0 8v1m0 15v1m1 -64v1m0 20v1m0 13v1m0 1v1m0 3v1m0 17v1m0 25v1m0 3v1m1 -48v1m0 23v1m0 3v1m0 10v1m1 -86v1m0 9v1m0 10v2m0 6v1m0 21v1m0 3v1m0 23v1m0 6v1m0 6v1m1 -97v1m0 40v1m0 17v2m0 10v1m0 26v1m1 -69v1m0 10v1m0 6v1m0 3v1m0 24v1m0 4v1m1 -48v1m1 -20v1m0 35v1m1 -53v2m0 49v1m0 25v1m0 4v1m1 -40v1m0 11v1m0 6v1m0 7v2m0 10v1m0 3v1m2 -53v1m2 57v1m1 -79v1m0 24v1m0 1v1m0 9v1m0 21v3m0 7v1m0 5v1m0 3v1m1 -81v1m0 26v1m0 1v1m0 3v1m0 8v1m0 29v1m1 -78v1m0 11v2m0 11v1m0 19v1m0 18v1m1 -59v1m0 6v1m0 30v1m0 34v1m1 -75v1m0 5v1m0 8v1m0 11v1m0 17v1m0 5v1m0 11v1m1 9v1m1 -71v1m0 23v1m0 27v1m1 -14v1m1 -40v1m0 34v3m0 44v1m1 -49v1m0 1v1m1 -31v1m0 5v1m0 17v1m0 37v1m1 -20v1m9 -39v1m6 -27v1m0 34v1m2 -10v1m17 13v1m3 -25v1m0 46v1m0 7v1m2 -38v1m2 -32v1m0 21v1m1 -27v1m0 71v1m3 -32v1m3 -11v1m0 48v1m2 -79v1m0 32v1m0 12v1m0 13v1m0 6v2m0 6v1m0 12v1m1 -81v1m0 2v1m0 10v1m0 3v1m0 4v1m0 37v1m0 13v1m0 8v1m1 -85v1m0 2v1m0 10v1m0 2v2m0 2v1m0 7v2m0 7v1m0 14v1m0 11v2m1 -75v1m0 8v1m0 9v1m0 13v1m0 16v1m0 25v1m0 22v1m1 -94v1m0 9v1m0 4v1m0 5v1m0 34v1m0 11v1m0 2v1m0 4v1m0 14v1m1 -64v1m0 20v1m0 12v1m0 30v1m1 -99v1m0 4v1m0 2v1m0 6v1m0 14v1m0 40v1m1 -65v1m0 5v1m0 1v1m0 18v1m0 35v1m2 17v1m3 -17v1m0 1v1m2 -58v1m5 39v1m1 -51v1m0 51v1m0 30v1m-151 62v1m0 5v1m14 -39v1m0 34v1m0 3v1m1 -46v1m0 2v1m0 3v1m0 52v2m0 6v1m1 1v1m1 -84v1m0 13v1m0 4v1m0 17v1m0 15v1m0 4v2m1 -54v2m0 1v1m0 13v2m0 15v1m0 7v1m0 16v1m0 2v1m0 2v1m0 2v1m0 7v1m1 -79v1m0 5v2m0 11v1m0 21v1m0 4v1m0 16v1m0 8v1m1 -63v1m0 10v1m0 46v1m1 -73v1m0 2v1m0 7v1m0 14v2m0 4v1m0 12v1m0 4v1m0 6v1m0 6v1m0 7v1m1 -51v1m0 7v1m0 36v1m0 15v1m1 -84v2m0 27v1m0 20v1m0 2v1m0 13v1m0 9v1m1 -72v1m0 2v1m0 37v1m1 -48v1m0 53v1m0 8v1m1 -62v1m0 25v1m0 5v1m0 6v1m0 32v1m0 2v1m1 -67v1m0 6v2m0 23v3m0 7v1m0 10v1m0 3v1m0 3v1m0 7v1m1 -14v1m1 -69v1m1 13v1m0 50v1m4 -54v1m1 1v1m0 54v1m2 -35v1m2 -24v1m1 70v1m1 -1v1m2 -71v1m2 -1v1m0 67v1m0 2v1m1 -39v1m0 32v1m0 3v1m3 -80v1m3 44v1m1 -28v1m0 40v2m12 -44v1m0 46v1m2 -63v1m0 32v1m0 19v1m0 7v1m0 11v1m2 -73v1m0 13v1m0 2v2m1 -1v2m0 27v1m0 2v1m0 14v1m0 3v2m1 -35v1m0 35v1m1 -72v1m0 19v1m0 25v1m1 -13v1m0 15v1m2 -22v1m0 3v1m4 30v1m1 -61v1m0 8v2m0 20v1m0 4v1m0 5v2m0 9v1m0 16v1m1 -68v1m0 56v1m2 -9v1m0 10v1m3 -30v1m0 20v1m0 7v2m1 -17v2m1 -18v1m0 18v1m0 10v1m0 1v1m1 -12v1m0 7v1m1 -62v2m0 34v1m1 30v1m1 -52v1m0 12v1m1 -42v1m0 73v1m1 -74v1m0 26v1m0 14v1m0 2v1m0 7v1m0 7v1m1 -60v1m0 12v1m0 2v1m0 51v1m1 -62v2m0 24v1m0 4v1m0 18v1m0 9v1m0 1v1m0 10v1m1 -84v1m0 9v1m0 6v1m0 3v1m0 21v1m0 24v1m0 2v1m0 6v1m1 -59v1m0 38v1m0 6v1m1 -64v1m0 1v1m0 12v1m0 30v1m0 11v2m1 -45v1m0 1v1m0 16v1m0 22v1m1 -43v1m0 42v1m1 -38v1m0 2v1m0 20v1m0 13v1m0 1v1m1 -30v1m0 12v1m0 1v1m0 20v1m1 -58v1m3 21v1m0 15v1m0 1v1m5 -26v1m1 -10v1m0 14v1m0 3v1m0 6v1m0 11v1m0 3v1m0 1v1m0 4v1m0 2v1m0 5v1m1 -79v1m0 32v1m0 1v1m0 21v1m0 2v1m0 20v1m1 -51v1m1 -15v1m0 1v1m0 16v1m0 3v1m0 4v1m0 8v1m0 14v1m0 12v1m2 -20v1m0 8v1m0 6v1m3 -58v1m0 7v1m0 7v1m0 20v1m0 15v1m2 -28v1m0 13v1m0 3v1m0 12v1m1 -68v1m0 30v2m0 6v1m1 -23v1m0 1v1m0 1v1m0 10v1m0 15v1m0 16v1m1 -68v3m0 2v1m0 7v1m0 5v1m0 2v1m0 1v1m0 7v1m0 21v1m0 8v1m1 5v1m1 -66v1m0 2v1m0 29v1m0 2v1m0 4v1m0 1v1m0 2v1m1 -61v1m0 21v1m0 13v1m0 35v1m1 -59v1m0 23v1m0 36v1m1 -57v2m0 7v1m0 19v1m0 6v1m0 2v1m0 22v1m1 -79v1m0 9v1m0 1v1m0 30v1m0 16v1m0 11v1m0 1v1m1 -44v1m0 17v1m0 6v1m1 -58v1m0 9v1m0 12v1m0 9v1m0 15v1m0 3v1m0 10v1m0 10v1m0 2v1m1 -62v1m0 52v1m1 -69v1m0 4v1m0 10v1m0 37v1m1 -58v1m0 32v2m0 5v1m0 8v1m0 13v1m0 6v1m0 2v1m1 -75v1m0 9v1m0 3v1m0 35v3m0 30v1m1 -78v1m0 8v1m0 22v1m0 10v1m0 10v1m0 18v1m1 -65v1m0 24v1m0 4v1m1 -42v1m0 8v1m0 13v1m0 24v1m0 4v1m0 12v1m0 2v1m0 7v1m1 -68v1m0 10v2m0 13v1m0 5v1m0 2v1m0 2v1m0 6v1m0 3v1m0 9v1m1 -38v1m1 -6v1m0 3v1m0 6v1m0 21v1m0 1v1m0 4v1m1 -68v1m0 16v1m0 58v1m0 1v1m1 -36v1m0 11v1m1 -60v1m0 21v1m0 5v1m0 6v1m0 4v1m0 8v1m0 30v1m1 -47v1m0 2v1m1 -36v1m0 4v1m0 14v1m0 31v1m1 -41v1m0 64v1m1 -65v1m0 17v1m1 -33v1m0 11v2m0 20v1m0 3v1m0 19v1m0 6v1m0 1v1m0 5v1m0 4v1m1 -37v2m1 -26v1m0 16v1m0 1v1m0 4v1m1 -40v1m0 1v1m0 33v1m0 40v1m1 -77v1m0 15v1m0 3v1m0 13v1m0 11v1m1 -14v1m0 9v1"/>
<path stroke="rgb(237,142,117)" stroke-width="1" d="M331.5 47v1m0 3v1m0 11v1m0 10v1m0 7v1m0 16v1m0 2v1m0 2v1m0 8v1m0 3v1m0 7v1m1 -84v2m0 1v1m0 13v1m0 13v1m0 2v1m0 10v1m0 7v1m0 17v1m0 2v1m0 1v1m1 -76v2m0 1v1m0 15v1m0 42v1m1 -59v1m0 26v1m0 3v1m0 53v1m1 -97v1m0 9v1m0 3v1m0 4v1m0 16v1m0 6v1m0 5v1m0 1v1m0 4v1m0 5v1m0 6v2m0 7v2m0 12v1m1 -85v1m0 6v2m0 13v1m0 11v1m1 -35v1m0 6v1m0 8v1m0 6v1m0 35v1m1 -55v1m0 4v1m0 5v1m0 9v1m0 7v1m0 10v1m0 12v1m0 16v1m1 -74v1m0 7v1m0 32v1m0 2v1m0 13v1m0 25v1m0 5v1m1 -88v1m0 41v1m0 17v1m0 6v1m1 -82v1m0 6v1m0 5v2m0 10v1m0 9v1m0 11v2m0 4v1m0 18v1m0 3v2m0 13v1m0 4v2m1 -90v1m0 26v1m0 21v1m0 16v1m0 1v1m0 5v1m0 3v1m0 10v3m0 1v1m1 -88v1m0 5v1m0 1v1m0 26v1m0 10v1m1 -57v1m0 42v1m0 2v1m0 5v1m0 20v1m0 23v1m2 -87v1m0 37v1m0 21v1m1 -1v1m0 1v1m2 -70v2m0 28v1m0 10v2m0 22v1m0 10v1m2 -20v1m5 6v1m3 -45v1m2 -29v1m0 6v1m0 4v1m0 4v1m0 1v1m0 7v1m0 5v1m0 32v1m0 17v1m0 6v1m0 4v1m1 -91v3m0 5v1m0 15v1m0 1v1m0 47v1m0 8v1m1 -66v1m0 5v1m0 3v1m0 2v2m0 1v2m0 7v1m0 11v1m0 8v1m0 14v1m0 1v1m0 4v1m0 5v1m1 -68v1m0 2v1m0 6v1m0 1v1m0 14v1m0 16v1m0 13v1m0 7v1m1 -89v1m0 7v1m0 20v2m0 6v1m0 1v1m0 26v1m0 1v2m0 5v1m0 2v2m0 6v1m1 -90v1m0 9v1m0 1v1m0 8v1m0 20v1m0 11v2m0 3v1m0 18v1m0 2v1m0 5v1m0 2v1m1 -82v1m0 27v1m0 44v2m1 -56v1m0 1v1m0 31v1m0 1v1m0 20v1m0 2v1m1 -55v1m1 57v1m1 -18v1m1 -43v1m0 9v1m2 31v1m1 -66v1m0 7v1m0 3v1m0 1v1m0 28v1m0 1v1m0 13v2m0 10v1m1 -75v1m0 4v1m0 26v1m0 50v1m1 -97v1m0 9v1m0 33v1m0 2v1m0 5v1m0 19v1m0 11v1m0 2v3m0 5v1m1 -48v1m0 14v1m0 7v1m0 2v2m0 4v1m0 2v1m0 11v2m0 3v1m1 -96v1m0 11v4m0 1v2m0 1v1m0 16v2m0 54v2m1 -96v1m0 31v1m0 10v1m0 5v1m0 12v1m0 19v1m1 -83v1m0 9v1m0 20v1m0 7v1m0 18v1m0 19v2m0 3v1m0 1v1m1 -89v1m0 12v1m0 6v2m0 9v1m0 22v1m0 4v1m0 17v1m1 -76v1m0 31v1m0 9v1m0 20v1m0 5v1m0 14v3m0 3v1m0 4v1m1 -92v1m0 2v1m0 2v1m0 13v1m0 5v3m0 1v2m0 33v1m0 2v1m0 3v2m0 12v1m2 -63v1m0 5v1m0 1v1m0 7v1m0 7v1m0 9v1m0 12v1m0 1v1m0 2v1m0 4v1m1 -87v1m0 47v1m0 44v1m0 1v2m2 -97v1m0 24v1m0 4v2m0 36v1m0 10v1m0 4v1m0 12v1m1 -32v1m1 -67v1m0 1v1m0 17v1m0 45v2m0 18v1m1 -81v1m0 2v1m0 21v2m0 23v1m0 12v1m0 5v2m0 12v1m1 -76v1m0 5v1m0 10v1m0 1v2m0 4v1m0 4v1m0 10v1m0 4v1m0 6v1m0 10v1m0 18v1m1 -101v1m0 24v1m0 8v1m0 7v1m0 15v1m0 5v1m0 1v1m1 -61v1m0 4v1m0 9v1m0 6v1m0 5v1m0 2v1m0 8v1m0 11v2m0 11v1m0 1v1m0 13v1m0 10v1m1 -71v1m0 21v1m0 3v1m0 12v1m1 -68v1m0 1v1m0 24v1m0 8v2m0 14v1m0 2v1m0 5v1m0 19v1m0 4v1m1 -62v1m0 1v1m0 2v1m0 21v1m0 6v1m0 2v1m0 18v1m0 5v1m0 9v1m1 -64v1m0 18v1m0 5v1m0 25v1m0 1v1m0 5v1m1 -84v1m0 9v1m0 4v1m0 3v1m0 2v1m0 7v1m0 1v1m0 27v1m0 7v1m0 4v1m0 1v1m1 -85v1m0 14v1m0 1v1m0 2v1m0 3v1m0 7v1m0 2v1m0 1v1m0 26v1m0 2v1m0 9v1m0 15v1m0 6v1m1 -86v1m0 26v1m0 3v1m0 1v1m0 20v1m0 12v1m0 3v1m1 -85v1m0 6v2m0 15v2m0 8v2m0 7v2m0 33v1m0 7v1m0 5v2m1 -73v3m0 1v1m0 1v1m0 10v1m0 11v1m0 12v1m0 15v1m0 3v1m1 -35v1m0 41v1m0 1v1m0 4v1m1 -98v1m0 8v1m0 4v1m0 4v1m0 3v1m0 3v1m0 2v1m0 6v2m0 22v1m0 11v1m0 18v1m0 1v1m1 -97v1m0 7v1m0 2v1m0 6v1m0 3v2m0 6v1m0 26v1m0 2v1m0 6v1m1 -65v1m0 28v1m0 1v1m0 6v2m0 2v1m0 9v1m0 1v2m0 7v1m0 5v1m0 2v1m0 7v1m1 -75v1m0 2v1m0 21v2m0 2v1m0 3v1m0 5v1m0 7v1m0 10v1m0 5v1m0 5v1m0 5v2m0 2v1m1 -60v1m0 15v1m0 17v1m0 3v1m0 6v1m0 10v1m44 -85v1m0 76v1m9 -26v1m0 8v1m0 4v1m0 7v3m0 16v2m1 -67v1m0 13v1m1 -10v1m0 9v1m0 9v1m1 -38v1m0 10v1m0 4v1m0 6v1m0 8v1m0 12v1m0 3v1m0 22v1m16 -58v1m-136 140v1m2 2v1m1 -18v1m1 -18v1m0 8v1m1 7v1m1 -18v1m0 36v1m1 -59v1m0 37v1m2 -55v1m0 60v1m2 -58v1m0 13v1m0 14v1m0 12v1m0 26v1m1 -44v1m0 14v1m0 32v1m14 -44v2m17 6v1m11 7v1m1 -43v1m11 -5v1m0 19v1m0 8v1m0 5v1m0 13v1m0 5v2m0 5v1m0 3v1m1 -71v1m0 38v1m0 2v1m0 17v2m0 5v1m0 2v1m1 -75v1m0 5v1m0 9v1m0 5v1m0 2v1m0 25v1m0 7v1m0 11v1m0 3v1m0 4v1m1 -73v1m0 9v1m0 13v1m0 1v1m0 14v1m0 3v1m0 4v1m0 7v1m0 6v1m0 8v1m1 -75v1m0 10v1m0 4v1m0 7v2m0 9v1m0 17v1m0 1v1m0 15v1m1 -65v1m0 6v2m0 14v1m0 2v1m0 4v1m0 16v1m0 9v1m0 7v1m1 -83v1m0 1v1m0 19v5m0 2v1m0 22v1m0 4v1m0 15v3m0 6v1m1 -83v1m0 3v1m0 12v1m0 10v1m0 11v1m0 5v3m1 -26v4m0 6v2m0 3v1m0 9v1m0 4v1m0 2v1m1 -55v2m0 17v1m0 3v1m0 8v1m0 2v2m0 2v2m0 2v1m0 1v1m0 7v1m0 9v1m0 15v1m1 -71v1m0 6v1m0 16v1m0 6v1m0 1v1m0 2v1m0 5v1m0 3v1m0 9v1m0 7v1m0 6v1m0 1v1m1 -85v1m0 17v1m0 10v1m0 6v1m0 8v1m0 4v1m0 7v1m0 4v1m0 3v1m0 11v2m1 -77v1m0 44v1m0 26v1m1 -69v1m0 8v1m0 27v1m0 21v1m0 4v1m0 4v1m1 -70v1m0 5v1m0 7v1m0 4v1m0 23v1m0 11v2m0 4v1m0 9v1m0 3v1m1 -66v1m0 3v1m0 3v1m0 6v1m0 10v1m0 3v1m0 20v1m1 -62v1m0 67v1m0 2v1m1 -71v1m0 2v1m0 1v1m0 3v1m0 3v3m0 4v1m0 1v1m0 22v1m0 7v1m0 4v1m0 5v2m0 4v1m1 -59v1m0 6v1m0 2v1m0 6v1m0 7v1m0 4v1m0 6v1m0 14v1m0 9v1m1 -71v1m0 1v1m0 5v1m0 11v2m0 4v1m0 8v1m0 1v2m0 26v1m1 -63v1m0 29v1m0 3v1m0 15v1m0 1v1m0 3v1m0 5v1m1 -79v1m0 13v1m0 17v1m0 3v1m0 6v2m0 6v1m0 5v1m0 8v2m0 5v1m0 7v1m1 -56v1m0 1v1m0 2v1m0 9v1m0 2v1m0 7v1m1 -45v1m0 11v1m0 5v2m0 5v1m0 18v1m0 4v1m0 14v1m0 1v1m0 2v1m0 2v1m1 -78v1m0 8v1m0 7v1m0 4v1m0 6v1m0 5v1m0 1v1m0 22v1m0 1v2m0 13v2m0 2v1m1 -84v1m0 1v1m0 7v1m0 42v1m0 13v2m1 -67v3m0 8v1m0 3v1m0 54v1m0 4v1m0 5v1m1 -79v1m0 7v1m0 1v1m0 19v1m0 11v1m0 22v1m0 6v2m0 4v1m1 -63v1m0 1v1m0 2v1m0 12v1m0 5v1m0 25v1m0 3v1m0 4v1m0 2v1m1 -57v1m0 6v1m0 11v1m0 2v1m0 12v2m0 6v1m0 12v1m1 -75v1m0 5v1m0 2v1m0 6v1m0 3v2m0 4v2m0 31v1m1 -65v1m0 5v1m0 28v1m0 1v1m0 1v2m0 8v1m0 14v3m0 5v1m0 2v1m1 -58v1m0 24v2m3 -36v1m10 37v1m0 4v1m0 1v1m3 -52v1m0 4v1m0 21v1m0 27v1m1 -62v2m0 12v1m0 1v1m0 3v1m0 9v1m0 3v1m0 2v1m0 1v3m1 -6v1m0 3v1m0 9v1m0 31v1m1 -74v1m0 2v1m0 19v1m0 31v1m1 -54v1m0 11v1m0 13v1m1 -16v1m0 1v1m1 -1v1m0 5v1m0 4v1m0 16v1m0 6v1m0 8v1m1 -39v1m0 2v1m0 14v1m0 14v1m0 6v1m2 -60v1m1 17v1m2 28v1m1 -11v1m2 -30v1m0 18v1m0 27v1m0 10v1m1 -51v1m2 39v1m4 -54v1m0 1v1m0 24v1m1 -28v1m0 37v1m2 -26v1m1 -1v1"/>
<path stroke="rgb(94,75,163)" stroke-width="1" d="M354.5 73v1m58 -20v1m0 54v1m1 -59v1m0 6v1m0 21v1m0 5v2m0 7v1m0 2v1m0 4v2m0 5v1m0 5v1m0 7v1m0 4v1m1 -93v1m0 19v1m0 11v1m0 3v2m0 1v3m0 1v1m0 6v2m0 4v3m0 8v2m0 4v1m0 6v1m0 1v2m0 2v4m0 7v2m1 -79v2m0 1v1m0 11v1m0 1v2m0 1v2m0 8v1m0 18v1m0 9v1m0 7v4m0 6v1m1 -77v1m0 13v2m0 17v2m0 7v1m0 3v1m0 19v1m1 -74v1m0 7v1m1 -16v3m0 22v1m0 1v1m0 1v1m0 11v1m0 3v2m0 44v2m1 -86v1m0 1v1m0 12v1m0 6v1m0 12v1m0 12v1m0 8v1m0 16v2m1 -75v1m0 1v1m0 44v1m0 2v1m0 3v2m0 15v1m1 -18v2m0 21v1m1 -41v1m0 17v1m1 -67v1m0 18v1m0 28v2m0 7v1m0 31v1m1 -42v1m0 47v1m1 -97v1m0 15v1m0 8v1m0 23v1m0 32v1m0 1v1m0 11v1m1 -82v2m0 6v1m0 10v1m0 6v1m0 15v1m0 14v1m0 11v1m0 8v1m0 1v1m2 -100v1m0 28v1m0 52v1m0 1v1m1 -71v1m1 -13v1m0 3v1m0 14v2m0 1v1m0 12v1m0 2v1m0 12v1m0 10v2m0 2v1m0 1v1m1 -72v1m0 7v1m0 11v2m0 1v1m0 13v3m0 6v1m0 6v3m0 9v2m0 1v1m0 1v2m0 15v1m0 6v1m1 -40v1m0 32v1m1 -32v1m2 -25v1m0 7v2m0 7v1m0 6v1m0 31v1m1 -55v1m0 1v1m0 3v1m0 17v1m0 4v1m0 1v2m0 14v1m0 10v1m0 7v1m1 -75v1m0 16v1m0 14v1m0 5v1m0 21v1m0 5v2m0 5v1m1 -75v1m0 15v2m0 18v1m0 11v1m0 11v1m0 7v1m0 4v1m1 -24v1m1 -66v1m0 62v1m0 1v1m0 18v1m1 -83v1m0 40v1m0 1v2m0 4v1m0 11v1m0 2v1m1 -77v2m0 9v1m0 3v1m0 7v2m0 6v2m0 4v1m0 15v2m0 1v1m0 4v2m0 2v1m0 4v1m0 21v1m0 7v1m1 -102v1m0 25v1m0 3v1m0 6v2m0 14v1m0 1v1m0 7v1m0 15v2m0 4v1m0 8v1m1 -86v2m0 4v2m0 2v1m0 2v1m0 1v3m0 7v1m0 1v4m0 4v1m0 1v1m0 4v1m0 1v2m0 7v6m0 1v4m0 10v1m0 16v1m1 -91v3m0 2v1m0 2v1m0 2v2m0 10v2m0 2v3m0 3v1m0 5v4m0 1v1m0 2v1m0 4v1m0 1v1m0 1v1m0 1v1m0 1v2m0 9v3m0 2v1m3 -84v1m0 31v1m4 13v1m3 -17v1m2 -16v1m0 27v1m1 -33v1m1 -2v1m0 22v1m0 11v1m0 6v1m0 1v2m0 27v1m0 2v1m12 -18v1m1 1v1m1 -39v1m0 5v2m0 5v1m0 1v1m0 6v1m0 1v3m0 3v1m0 5v3m0 8v2m0 2v1m0 7v2m2 -82v1m0 47v1m0 33v1m1 -4v2m1 -41v1m2 -38v2m0 57v1m2 -60v1m2 35v2m0 18v1m1 -49v1m0 6v1m1 -34v1m0 1v1m0 20v1m0 9v1m0 1v3m0 1v1m0 15v1m0 12v1m0 1v1m0 11v1m0 9v1m1 0v1m1 -79v1m1 23v1m-157 101v1m1 -27v2m0 22v1m0 1v1m1 -35v1m0 2v1m0 5v1m0 22v1m0 1v2m0 21v1m0 5v1m1 -62v1m0 6v1m0 2v1m0 13v1m0 6v3m0 7v2m0 2v2m0 1v1m0 7v2m0 5v1m0 2v1m1 -57v1m0 21v2m0 9v1m0 2v1m0 9v1m0 6v1m0 3v1m1 -21v1m0 9v1m1 -48v2m0 17v1m0 8v3m0 5v1m0 12v1m0 7v1m1 -46v1m0 8v1m0 7v1m0 8v1m0 12v1m1 -56v1m0 3v1m0 50v2m1 -66v1m0 8v1m0 15v1m0 3v2m0 2v1m0 2v1m0 14v1m0 18v2m1 -73v1m0 17v1m0 4v1m0 2v3m0 1v1m0 1v1m0 1v2m0 1v2m0 3v1m0 1v1m0 16v1m0 1v2m0 6v1m0 6v2m1 -80v1m0 7v1m0 5v1m0 13v2m0 3v1m0 31v1m1 -58v1m0 17v3m0 5v1m0 21v1m0 8v1m0 12v1m1 1v1m18 -34v1m1 -30v1m0 5v1m0 6v1m0 8v1m0 33v1m0 5v1m4 -67v1m0 9v2m0 22v2m0 8v1m0 14v1m0 8v1m1 -24v1m13 -34v1m1 -27v2m0 4v1m0 65v2m2 -19v1m1 27v1m1 -24v1m2 -52v1m0 1v1m0 58v3m1 -64v1m0 23v1m0 27v1m0 1v1m0 6v2m3 -55v1m0 16v2m0 18v2m1 -54v1m0 15v1m0 15v1m0 19v1m0 16v1m1 -38v1m13 28v1m1 -9v1m0 15v1m42 -71v3m0 2v1m0 2v1m0 44v1m0 1v1m0 3v2m1 -60v1"/>
<path stroke="rgb(223,85,57)" stroke-width="1" d="M331.5 124v1m1 -89v1m0 3v1m0 12v1m0 3v1m0 4v1m0 2v1m0 1v1m0 15v1m0 1v1m0 6v1m0 38v1m0 2v2m1 -99v1m0 17v2m0 5v1m0 2v1m0 1v1m0 2v1m0 21v1m0 10v1m0 19v2m0 1v1m0 6v1m0 3v1m1 -88v1m0 1v1m0 5v1m0 7v2m0 1v2m0 1v1m0 3v1m0 3v1m0 1v1m0 2v1m0 3v1m0 5v1m0 5v1m0 5v1m0 9v1m0 1v1m0 5v1m0 1v1m1 -90v1m0 1v1m0 1v2m0 22v1m0 1v1m0 13v1m0 1v1m0 16v1m0 6v2m0 9v1m0 2v1m0 8v1m1 -93v1m0 4v1m0 14v2m0 1v1m0 8v2m0 9v1m0 1v1m0 1v1m0 1v3m0 1v1m0 2v2m0 2v3m0 1v1m0 4v2m0 14v1m0 2v1m0 3v2m0 4v1m1 -101v2m0 3v1m0 17v1m0 3v2m0 4v1m0 24v1m0 3v1m0 12v1m0 3v3m0 4v1m0 11v2m1 -95v3m0 11v1m0 3v1m0 3v2m0 11v1m0 4v1m0 10v1m0 4v1m0 1v1m0 7v1m0 5v3m0 6v2m0 2v1m0 4v2m1 -94v1m0 1v1m0 10v1m0 2v1m0 13v1m0 8v1m0 2v1m0 4v1m0 6v1m0 16v1m0 2v2m0 8v1m0 1v2m0 1v1m0 3v1m0 1v1m1 -100v1m0 1v2m0 2v1m0 19v1m0 1v3m0 1v1m0 1v1m0 7v2m0 5v1m0 8v1m0 1v1m0 2v1m0 2v3m0 14v1m0 4v1m0 11v1m1 -99v1m0 24v1m0 14v2m0 44v1m1 -87v2m0 21v2m0 1v2m0 2v1m0 7v3m0 5v1m0 2v1m0 4v1m0 1v1m0 3v1m0 1v1m0 8v1m0 3v1m0 6v1m0 10v2m22 -90v1m0 16v1m0 13v1m0 59v1m1 -71v1m3 6v1m7 -29v1m1 33v1m1 -1v1m0 1v1m0 31v1m1 -72v1m0 5v1m0 9v1m0 39v1m0 8v2m0 19v1m2 -74v1m0 2v1m1 -10v1m1 53v1m0 18v1m7 -73v1m3 82v1m1 -94v1m0 1v1m0 3v1m0 1v1m0 9v1m0 20v1m0 13v2m1 -45v1m0 11v1m0 16v1m0 23v1m0 6v1m0 23v1m1 -77v1m0 19v1m0 2v2m0 24v1m0 26v1m0 3v1m2 -54v1m0 2v1m0 2v1m0 10v2m0 4v1m1 -67v1m0 14v2m0 52v1m1 -70v1m0 20v1m0 15v1m0 1v1m0 6v1m0 17v2m0 12v1m0 1v1m1 -81v1m0 2v1m0 29v1m0 27v1m0 3v1m0 10v1m1 -36v1m3 -9v1m0 18v1m3 43v1m1 -88v1m0 11v1m0 37v1m0 26v1m1 -88v1m0 5v2m0 12v1m0 18v1m0 22v1m0 11v1m0 15v1m0 2v1m0 4v1m55 -82v1m-51 150v1m1 -26v2m0 35v1m1 -59v2m0 32v1m0 10v1m0 12v1m1 -78v1m0 12v1m0 11v2m0 14v1m0 22v1m1 -67v1m0 42v1m2 -43v1m1 6v1m0 61v1m2 -67v1m0 1v1m0 6v1m0 10v1m0 35v1m1 -57v2m0 11v1m3 3v1m0 3v1m3 -18v1m0 24v1m0 13v1m0 24v1m3 -33v1m3 34v1m2 -59v3m0 9v1m0 13v2m0 1v1m0 12v1m0 7v1m0 11v1m3 -78v1m0 2v1m0 1v1m0 3v1m0 2v1m0 1v1m0 2v1m0 1v1m0 16v2m0 1v1m0 2v1m0 2v1m0 7v1m0 3v1m0 6v2m0 3v1m0 6v1m0 3v1m1 -78v1m0 14v1m0 19v1m0 26v1m1 -29v1m0 26v1m0 9v1m0 7v1m1 -1v1m18 -62v1m6 23v1m0 1v1m16 -7v1"/>
<path stroke="rgb(241,171,153)" stroke-width="1" d="M331.5 42v1m0 2v1m0 18v1m0 4v1m0 17v1m0 2v1m0 18v2m0 1v1m0 7v2m0 12v1m1 -20v1m1 -47v1m0 39v1m1 -55v1m1 35v1m0 6v1m0 4v1m2 -51v1m1 -2v1m2 -4v1m0 21v1m0 19v1m0 36v2m1 -86v1m0 2v1m0 10v1m0 29v1m0 13v1m0 8v1m0 4v1m0 17v1m1 -63v1m1 -13v1m0 9v1m0 1v1m0 16v1m0 5v1m0 10v1m0 11v1m1 -68v1m0 17v1m0 59v1m0 6v1m2 -100v1m0 6v1m0 51v1m0 2v2m0 9v1m0 5v1m0 3v1m0 9v1m1 -91v1m0 69v1m0 4v1m1 -42v1m0 25v1m0 2v1m0 4v1m0 1v1m0 2v1m0 7v1m1 -86v1m0 2v1m0 11v1m0 4v1m0 3v1m0 14v1m0 5v1m0 2v1m0 23v1m0 8v1m1 -79v1m0 47v1m1 -12v1m0 8v1m1 -23v1m0 17v1m0 7v1m3 -47v1m0 64v1m1 16v1m1 -8v1m0 7v1m1 -48v1m1 -36v1m0 1v1m0 3v1m0 41v1m0 8v2m0 28v1m1 -82v1m0 5v1m0 19v1m0 6v1m1 -42v1m0 32v1m0 30v1m0 2v1m0 14v1m1 -80v1m0 3v1m0 11v1m0 20v1m0 1v1m0 7v1m0 3v1m0 18v1m0 1v1m0 4v1m0 5v1m0 1v1m0 5v1m1 -82v1m0 15v1m0 6v1m0 30v2m0 9v1m0 6v1m1 -76v1m0 30v2m0 16v1m0 1v1m0 24v1m1 -77v1m0 13v2m0 24v1m0 8v1m0 24v1m0 7v1m1 -94v1m0 26v1m0 5v1m0 1v2m0 8v1m0 2v1m0 5v1m0 14v1m0 8v1m0 6v1m1 -86v1m0 15v2m0 22v1m0 2v1m0 7v1m0 12v2m1 -69v1m0 3v1m0 60v1m0 1v1m0 11v1m0 6v1m0 1v1m0 1v1m1 -70v1m0 12v1m1 -21v1m0 18v1m0 9v1m0 28v1m0 17v1m1 -89v1m0 69v1m0 4v2m0 6v1m1 -87v1m0 5v2m0 38v1m0 14v1m0 19v1m0 8v1m1 -66v1m0 21v1m0 33v1m1 -79v1m0 35v1m0 39v1m0 5v1m1 -81v1m0 27v1m0 1v1m0 5v1m0 6v1m0 6v2m0 15v1m1 -40v1m0 22v1m0 10v1m0 3v1m0 6v2m0 7v1m0 8v1m1 -84v1m0 1v1m0 9v1m0 9v1m0 1v1m0 28v1m0 4v1m0 4v2m0 2v1m0 12v1m0 5v1m1 -75v1m0 10v1m0 1v1m0 28v1m0 25v1m1 -92v1m0 23v1m0 2v1m0 5v1m0 13v1m0 14v1m0 2v1m0 3v1m0 18v1m0 5v1m1 -91v1m0 6v2m0 12v1m0 9v1m0 18v2m0 30v1m0 10v1m1 -101v1m0 5v1m0 6v1m0 13v2m0 1v1m0 1v1m0 37v1m0 10v1m0 5v1m0 8v1m0 2v1m1 -88v1m0 11v1m0 30v1m0 37v1m0 2v1m1 -50v1m0 12v1m0 7v1m0 3v1m0 2v1m0 19v1m0 4v1m1 -96v1m0 1v1m0 1v1m0 8v1m0 2v1m0 10v1m0 17v1m0 15v1m0 4v1m0 20v1m1 -91v1m0 30v1m0 11v1m1 -38v1m0 11v1m0 6v1m0 19v1m0 4v1m0 8v1m0 7v1m0 7v1m0 2v1m0 4v1m0 2v1m1 -84v1m0 6v1m0 9v1m0 5v1m0 2v1m0 6v1m0 1v1m0 26v1m0 12v1m0 13v1m2 -76v1m0 20v1m0 28v1m0 8v1m0 11v1m1 -63v1m0 5v1m0 4v1m0 8v1m0 11v1m0 9v1m1 -47v2m0 14v1m0 17v1m0 3v2m0 32v1m1 -84v2m0 3v2m0 11v1m0 4v1m0 2v1m0 24v1m0 3v1m0 1v2m0 4v1m0 8v1m0 13v1m1 -69v1m0 21v1m0 34v1m1 -68v1m0 29v1m0 26v1m0 11v1m1 -69v1m0 9v1m0 16v2m0 40v1m0 1v2m1 -87v1m0 3v1m0 9v1m0 1v1m0 10v1m0 11v1m0 5v1m0 19v1m0 5v1m0 18v1m1 -91v1m0 2v1m0 16v1m0 48v1m0 14v1m0 2v1m1 -86v1m0 11v1m0 34v1m0 20v1m1 15v1m1 -65v1m0 21v1m0 5v1m0 36v1m0 2v1m1 -99v1m0 4v1m0 2v1m0 13v1m0 25v1m0 5v2m0 1v1m0 11v1m1 -39v1m0 3v1m0 26v1m0 15v1m0 3v1m0 9v1m0 3v1m1 -95v1m0 22v1m0 5v1m0 22v1m0 3v1m0 9v1m0 9v1m0 20v1m0 1v1m1 -99v2m0 2v1m0 3v1m0 36v1m0 15v1m0 6v1m0 16v1m0 9v1m1 -97v1m0 7v1m0 7v1m0 10v1m0 5v1m1 -34v1m0 63v1m0 1v1m0 18v2m0 4v1m1 -91v1m0 4v1m0 13v1m0 12v1m0 3v1m0 12v1m0 26v2m0 12v1m0 1v1m1 -82v1m0 2v1m0 21v1m0 9v1m0 4v1m0 6v1m0 8v1m0 16v1m1 -73v1m0 23v1m0 31v1m0 10v1m0 2v1m1 -84v1m0 20v1m0 6v1m0 31v1m0 33v1m1 -34v1m0 24v1m0 11v1m35 -94v1m8 65v1m8 -33v1m0 23v1m0 10v1m0 21v1m1 -90v1m0 41v1m0 6v1m0 8v1m0 22v1m0 9v1m1 -93v1m0 13v2m0 5v1m0 11v2m0 4v1m0 19v3m0 7v1m0 15v2m0 5v1m1 -77v1m0 38v1m0 1v1m0 3v1m0 5v1m1 -70v2m0 5v1m0 21v1m0 26v1m1 21v1m1 -65v1m0 6v2m0 21v1m12 38v1m2 -86v1m0 29v1m0 25v1m0 2v1m0 6v1m0 12v1m0 2v2m6 -82v1m-143 128v1m0 17v1m1 11v1m1 -31v1m1 -32v1m0 7v1m1 30v1m0 13v1m1 -38v1m0 25v1m0 16v1m0 10v1m1 -46v1m0 28v1m1 -21v1m0 8v1m0 1v1m1 -46v1m0 44v1m0 31v1m2 -65v1m0 7v1m0 5v1m0 10v1m0 13v1m0 9v1m0 1v1m0 2v1m1 -65v1m0 4v1m0 14v1m0 10v1m0 16v2m0 12v1m1 -48v1m0 2v1m0 14v1m0 1v1m1 -2v1m0 4v1m0 34v1m3 -70v1m0 32v1m8 5v1m3 36v1m2 -74v1m0 47v1m0 6v2m1 -55v1m1 -2v1m0 69v1m20 -17v1m3 -37v1m1 14v1m0 22v1m3 -27v1m8 -7v1m0 42v1m1 -55v1m0 27v1m0 20v1m0 3v1m1 -61v1m0 6v1m0 50v1m0 5v1m1 -69v1m0 3v1m0 6v1m0 11v1m0 13v1m0 9v1m0 1v1m2 -53v1m0 11v1m0 8v1m0 2v1m0 39v1m1 -72v1m0 6v1m0 3v1m0 25v1m0 30v2m0 6v1m1 -72v1m0 10v1m0 9v2m0 17v1m0 15v1m0 11v3m1 -60v2m0 9v1m0 13v1m0 13v1m0 2v1m0 17v1m1 -61v1m0 24v1m0 17v1m0 12v1m1 -34v1m0 9v1m0 19v1m1 -62v1m0 58v1m1 -16v1m0 9v1m0 6v1m1 -51v2m0 8v1m0 6v1m0 3v1m0 2v1m0 24v1m1 -63v1m0 12v1m0 8v2m0 24v2m0 4v1m0 5v1m1 -61v1m0 9v1m0 16v1m0 22v1m0 1v1m0 5v1m1 -52v1m0 10v1m0 10v1m0 2v2m0 10v1m0 12v1m1 -54v1m0 3v1m0 5v1m0 3v1m0 2v1m0 40v2m1 -67v1m0 31v1m0 3v2m0 5v1m0 9v1m0 2v2m0 3v1m1 -58v2m0 19v1m0 10v1m0 6v1m0 29v1m1 -65v2m0 8v1m0 9v1m0 6v1m0 10v1m0 10v1m0 8v1m0 5v1m1 -77v1m0 5v1m0 23v1m0 7v1m0 10v1m0 22v1m0 3v1m1 -47v2m0 33v1m0 4v1m0 1v1m0 1v1m1 -74v2m0 36v1m0 7v1m0 14v2m0 8v1m1 -73v1m0 5v1m0 5v1m0 4v1m0 9v1m0 3v1m0 14v1m0 15v1m1 -61v2m0 8v1m0 26v1m0 4v1m2 -2v2m0 11v1m0 2v1m0 12v1m1 -77v1m0 2v2m0 17v1m0 6v1m0 7v1m0 17v1m0 12v1m1 -24v1m1 0v1m2 -41v1m0 7v1m0 5v1m0 9v1m0 28v1m0 2v1m0 2v1m0 16v1m1 -67v1m0 44v1m0 14v1m1 -57v2m0 1v1m0 26v1m0 28v1m0 4v1m2 -65v1m0 4v1m0 16v1m0 14v1m0 20v1m7 -37v1m2 -36v1m0 57v1m0 5v1m1 -12v1m0 17v1m1 -13v1m1 -34v1m0 8v1m0 13v1m1 -46v1m0 3v2m0 13v1m0 19v1m0 2v1m0 15v1m0 5v1m1 -64v1m0 6v1m0 14v2m0 11v1m0 2v1m0 12v1m0 2v1m0 2v1m0 4v1m1 -63v2m0 4v1m0 15v1m0 5v1m0 3v1m0 9v1m1 -53v1m0 4v1m0 22v1m0 6v1m0 3v1m0 26v1m0 15v1m1 -84v1m0 10v1m0 10v1m0 3v1m0 1v1m0 24v1m0 15v1m0 1v1m0 9v1m1 -66v1m0 4v1m0 4v1m0 11v1m1 -29v1m0 48v1m0 4v1m0 5v1m0 8v1m0 1v1m1 -19v1m0 8v1m0 4v1m1 -75v1m0 10v1m0 10v1m0 22v1m0 10v1m0 17v1m1 -76v1m0 37v1m1 -41v1m0 15v1m0 11v1m0 11v1m1 -10v1m1 -21v1m0 16v1m0 28v1m0 16v1m1 -75v1m0 14v1m0 24v1m0 9v1m1 25v1m1 -70v1m0 49v1m1 -29v1m0 19v1m1 28v1m1 -41v1m0 14v1m0 5v1m0 2v1m1 -50v1m0 64v1m3 -56v1m0 27v1m0 2v1m0 18v1m1 -55v1m0 49v1m0 1v1m1 -39v1m1 20v1m1 -42v1m0 20v1m2 -23v1m0 33v1"/>
<path stroke="rgb(242,180,165)" stroke-width="1" d="M331.5 79v2m0 8v1m0 14v1m0 11v1m2 -27v1m0 22v1m1 -4v1m0 5v1m3 -63v1m1 -19v1m1 83v1m1 10v1m1 4v1m2 -96v1m0 2v2m0 7v1m0 37v1m0 19v1m0 16v1m0 1v1m1 -73v1m0 1v1m0 20v1m0 3v1m0 3v1m0 4v1m0 5v1m0 4v2m0 28v1m1 -100v1m0 17v1m0 1v1m0 11v1m0 10v1m0 26v1m0 28v1m0 1v1m1 -100v1m0 4v1m0 28v1m0 17v1m0 34v1m1 -74v1m0 23v1m0 22v1m1 -31v1m0 6v1m0 9v1m0 14v1m0 5v1m0 4v1m0 6v1m1 -70v1m0 43v1m0 16v1m0 3v1m0 18v1m0 2v1m1 -94v1m0 40v2m1 -41v1m0 42v1m0 8v1m0 3v1m0 8v1m0 14v1m1 -81v1m0 13v1m0 22v1m0 44v1m3 -74v1m0 55v1m0 4v1m1 -81v1m0 19v1m0 14v2m0 37v1m0 1v1m0 1v1m0 15v1m1 -83v1m0 40v1m0 13v1m0 5v1m0 21v1m1 -29v1m1 -55v1m0 30v1m0 10v1m0 6v1m0 1v1m0 11v1m1 -73v1m0 5v1m0 4v1m0 2v1m0 9v1m0 32v1m0 4v1m1 -54v2m0 25v1m0 7v1m0 12v1m0 7v1m0 2v1m0 4v2m0 15v1m1 -92v1m0 12v1m0 4v1m0 33v1m0 2v1m0 2v1m0 8v1m0 14v1m0 5v1m1 -92v1m0 15v1m0 4v1m0 3v1m0 18v1m0 1v1m0 4v1m0 19v1m0 21v1m1 -90v1m0 7v1m0 1v1m0 36v2m0 11v1m1 -54v1m0 13v1m0 31v1m0 3v1m0 4v1m0 6v1m0 2v1m0 4v1m0 3v1m0 5v1m0 2v1m0 2v1m1 -98v1m0 12v2m0 2v1m0 58v1m0 2v2m0 4v1m1 -78v1m0 19v1m0 5v1m0 1v1m0 3v1m0 12v1m0 7v1m0 2v1m0 18v1m1 -84v1m0 8v1m0 18v1m0 3v1m0 8v2m0 10v1m0 19v1m0 13v1m0 9v1m0 1v1m1 -66v1m0 3v2m0 4v1m0 10v1m0 18v1m1 -29v1m0 26v1m0 1v1m0 13v2m0 5v1m1 -63v1m0 4v1m0 6v2m0 12v1m0 12v1m0 1v1m0 14v1m1 -40v1m0 44v1m0 4v1m1 -95v1m0 73v1m0 4v1m0 6v1m1 -67v1m1 -23v1m0 12v1m0 4v1m0 14v1m0 13v2m0 4v1m0 3v1m0 38v1m1 -64v1m0 38v1m0 17v1m1 -89v1m0 15v1m0 59v1m1 -77v1m0 6v3m0 33v1m0 7v1m0 15v1m0 4v1m0 13v1m1 -92v1m0 13v1m0 11v1m0 22v1m0 1v1m0 12v1m0 8v1m0 6v1m0 1v1m0 9v1m0 1v1m1 -81v1m0 24v1m0 2v1m0 6v1m0 1v1m0 27v1m1 -81v1m0 12v1m0 10v1m0 22v1m0 4v1m0 1v1m0 6v1m0 6v1m0 9v1m0 15v1m1 -83v1m0 4v1m0 6v1m0 16v1m0 31v1m0 19v1m0 3v1m1 -84v1m0 38v1m0 21v1m0 7v1m0 1v1m0 6v1m1 -92v1m0 19v1m0 3v1m0 27v1m0 9v1m0 2v2m0 16v1m0 4v1m0 9v1m1 -76v1m0 6v1m0 16v3m0 7v1m0 5v1m0 24v1m0 3v1m0 1v1m1 -91v1m0 12v1m0 3v1m0 38v1m0 1v1m0 10v1m0 17v1m1 -94v1m0 28v1m0 4v1m0 8v1m0 12v1m0 12v1m0 9v1m0 9v1m1 -90v1m0 42v1m0 16v1m0 14v1m1 -68v1m0 23v1m0 22v1m0 14v1m1 -38v1m0 23v1m1 -56v1m0 9v1m0 4v1m0 16v1m0 40v1m0 18v1m1 -93v1m0 12v1m0 47v1m0 3v1m0 7v1m0 10v2m1 -6v1m0 1v1m2 -52v1m0 47v1m1 -78v1m0 6v1m0 2v1m0 4v1m0 10v1m0 1v1m0 6v1m0 4v1m0 16v1m0 23v1m0 2v1m0 7v2m0 2v1m1 -30v1m0 4v1m1 -69v1m0 23v1m0 49v1m1 -73v1m1 2v1m1 -2v1m0 33v2m0 10v1m0 2v1m0 4v2m0 16v1m0 5v1m0 6v2m0 1v1m1 -96v1m0 6v1m0 14v1m0 28v2m0 1v1m0 12v2m0 23v1m1 -82v1m0 6v1m0 16v1m0 10v1m0 12v1m0 20v2m1 -79v1m0 7v1m0 1v1m0 57v1m0 13v1m0 10v1m1 -102v1m0 30v1m0 14v2m0 13v1m0 16v1m0 3v1m0 6v1m1 -85v1m0 4v1m0 29v1m0 11v1m1 28v2m0 8v1m1 -74v1m0 34v1m0 12v1m0 13v2m0 1v1m1 -66v1m0 64v1m1 -80v1m0 8v2m0 2v1m0 6v1m0 4v1m0 37v1m1 -47v1m0 7v1m0 17v1m0 48v1m0 2v1m42 -27v1m1 -58v2m2 51v1m6 -67v1m0 8v1m0 14v1m0 33v1m1 -60v1m0 5v1m0 32v1m0 10v1m0 10v2m0 12v1m0 9v1m0 4v1m0 3v1m1 -95v1m0 63v1m0 30v1m1 -82v1m0 15v1m0 44v1m1 -75v1m0 10v1m0 2v1m0 22v1m0 7v1m0 29v1m0 2v1m0 1v1m0 1v3m0 1v1m0 11v1m1 -93v1m0 7v1m0 9v2m0 6v1m0 39v1m0 9v1m0 10v1m1 -43v1m0 8v1m0 3v1m0 13v1m0 16v1m1 -79v1m11 3v1m0 11v1m0 38v1m0 18v1m1 -20v1m1 -48v1m0 16v1m0 15v1m0 15v1m4 6v1m-141 29v1m0 29v1m1 -28v1m0 20v1m0 25v1m0 1v1m0 14v1m1 -75v1m0 66v1m0 8v1m1 -63v2m0 3v1m0 9v1m0 19v1m0 17v1m0 7v1m1 -25v1m0 15v1m1 -54v1m0 2v2m0 36v1m1 -25v1m0 4v1m0 4v1m0 30v2m1 -70v1m0 6v1m0 6v1m0 46v1m0 5v1m0 8v1m1 -80v1m0 19v1m0 18v1m0 6v1m0 1v1m0 10v1m0 5v1m0 4v1m0 4v1m1 -44v1m0 16v1m1 -39v1m0 10v1m0 5v1m0 4v1m0 12v1m0 4v1m1 -47v3m0 37v1m0 11v1m0 9v1m1 -68v1m1 35v1m0 10v1m0 12v1m0 6v1m0 2v2m11 -43v1m3 8v1m0 39v1m2 -42v1m1 -30v1m1 5v1m0 20v1m0 27v1m1 -68v1m0 10v1m13 11v1m6 15v1m2 25v1m2 -58v1m1 5v1m0 34v1m5 1v1m4 -17v1m0 1v1m1 -15v1m0 48v1m1 -52v1m0 1v1m0 49v1m1 -62v1m0 1v1m0 4v1m1 -1v1m0 10v1m1 38v1m1 -60v1m0 44v1m1 -25v1m0 2v1m0 5v1m0 11v2m0 1v1m0 3v1m0 1v1m0 19v1m1 -70v1m0 32v1m0 17v1m1 -55v2m0 32v1m0 5v1m0 17v1m0 7v1m1 -67v1m0 4v1m0 6v1m0 7v1m0 36v1m0 8v1m1 -76v1m0 13v1m0 56v1m0 3v2m1 -29v1m0 15v1m0 7v1m1 -31v1m0 40v1m1 -71v1m0 22v2m0 7v1m0 2v1m0 7v1m0 27v1m1 -74v1m0 23v1m0 1v1m0 6v1m0 3v1m0 1v1m0 1v1m0 18v1m0 4v1m0 3v1m0 1v1m1 -72v1m0 6v1m0 17v1m0 4v1m0 12v1m0 1v1m0 19v1m0 4v1m1 -62v1m0 6v1m0 27v1m0 3v1m0 1v1m0 1v1m0 2v1m0 9v2m1 -71v1m0 43v1m0 2v1m1 -36v1m0 7v1m0 10v1m0 3v1m0 2v1m0 7v1m0 3v1m1 -42v1m0 37v1m0 2v1m0 9v2m1 -60v1m0 2v1m0 14v1m0 18v1m0 16v1m0 4v1m0 14v1m1 -76v1m0 2v2m0 2v1m0 5v1m0 2v1m0 3v1m0 16v1m0 5v1m0 7v1m0 23v1m1 -62v1m0 2v1m0 33v1m0 20v1m0 1v1m1 -71v1m0 3v1m0 5v1m0 1v1m0 8v1m0 13v1m0 1v1m0 19v1m0 8v1m0 5v1m1 -84v1m0 4v1m0 33v1m0 14v1m0 12v1m0 12v1m0 2v1m1 -64v1m0 46v1m1 -47v1m1 -23v1m0 15v1m0 4v1m0 27v1m0 1v1m0 3v1m0 13v1m0 4v1m1 -21v1m2 -46v1m0 17v1m0 17v1m0 37v1m1 -27v1m1 -32v1m0 7v1m0 1v1m0 6v1m1 -40v1m0 5v1m0 2v1m0 1v1m0 25v1m0 5v1m0 3v1m0 3v2m0 2v2m0 5v1m0 14v1m1 -81v1m0 1v1m0 6v1m0 38v1m0 1v1m0 11v1m0 7v1m2 -54v1m0 16v1m0 1v1m0 30v1m5 -19v1m0 2v1m0 11v1m0 18v1m2 -46v1m2 24v1m1 -44v1m0 3v1m0 5v1m0 11v1m1 -6v1m0 9v1m0 1v1m0 27v1m1 -59v1m0 22v1m0 5v1m0 1v1m1 -45v1m0 19v1m0 13v1m0 1v1m0 1v1m0 2v1m0 3v1m0 6v1m0 8v1m0 10v1m0 1v1m1 -55v1m0 26v1m0 10v1m0 2v1m0 12v1m1 -79v1m0 26v1m0 8v1m0 1v1m0 26v1m0 1v2m1 -33v2m0 2v1m0 6v2m0 20v1m1 -64v1m0 5v1m0 22v1m0 27v1m1 -52v1m0 54v1m0 10v2m1 -39v1m0 22v1m0 8v1m1 -77v1m0 29v1m0 23v1m0 1v1m0 14v1m1 -60v1m0 4v1m0 6v1m0 11v1m0 15v1m1 -45v2m0 18v1m0 5v1m0 37v1m0 4v1m1 -78v1m0 3v2m0 26v1m0 1v1m0 5v1m0 39v1m1 -65v1m0 14v1m1 -26v1m0 23v1m0 8v3m0 9v1m0 16v1m0 2v2m1 -45v1m0 9v2m0 7v1m0 14v1m0 5v1m1 -10v1m1 -26v1m0 11v1m0 18v1m0 1v1m2 -13v1m1 -42v1m0 6v1m0 8v1m1 -8v1m0 14v1m0 24v1m1 -60v1m0 34v1m0 18v1m2 -51v1m0 32v1m0 9v1m0 13v1m1 -58v1m0 13v1m0 7v1m0 2v1m0 4v1m0 2v1m0 4v1m0 3v1m0 14v1m2 -65v1m0 3v2m0 58v1m0 2v1m0 2v1m1 -54v1m0 18v1m0 27v1m0 2v1m2 -37v1m0 28v1"/>
<path stroke="rgb(216,167,176)" stroke-width="1" d="M344.5 62v1m0 56v1m1 -50v1m0 58v1m1 -43v1m1 -49v1m0 19v1m0 23v1m1 15v1m1 -53v1m0 23v1m0 15v1m0 12v1m0 18v1m0 9v1m0 6v1m1 -69v1m1 25v1m0 41v1m1 -92v1m0 19v1m0 18v1m0 29v1m1 -4v1m1 -28v1m0 7v1m0 8v1m1 -48v1m0 37v1m0 4v1m1 -51v1m0 45v1m0 34v1m1 -21v1m1 -40v1m0 29v1m0 26v1m1 8v1m1 -84v1m0 21v1m0 3v1m0 52v1m1 -73v1m0 31v1m0 41v1m2 -95v1m1 52v1m3 -57v1m0 86v1m1 -29v1m1 -53v1m0 6v1m0 27v1m0 5v1m0 12v1m0 27v1m0 5v1m1 -24v1m0 15v1m1 -81v1m0 26v1m0 16v1m0 11v1m0 19v1m1 -60v1m0 27v1m0 9v1m0 3v1m0 1v1m0 6v1m1 -59v1m0 18v1m0 6v1m0 2v1m0 22v1m0 26v1m0 2v1m1 -95v1m0 44v1m2 -6v1m0 5v1m0 9v1m3 29v1m3 -84v1m0 16v1m0 12v1m3 -27v1m0 1v1m0 7v1m0 30v1m0 2v1m0 14v1m0 10v1m1 -30v1m0 17v2m1 -30v1m0 12v1m0 23v1m1 -32v1m1 -33v1m0 19v1m1 -8v1m0 33v1m1 1v1m1 -51v1m0 24v1m3 40v1m1 -27v1m4 16v1m1 2v1m2 -63v1m0 77v1m2 -72v1m0 54v1m0 19v2m3 -84v1m0 68v1m2 -70v1m0 23v1m0 19v2m0 11v1m0 7v1m0 11v1m0 5v1m1 -56v1m1 -44v1m0 45v1m0 54v1m4 -100v1m6 53v1m5 -48v1m0 72v1m2 -66v1m17 -8v1m1 21v1m0 15v1m2 14v1m2 -3v1m1 -36v1m0 74v1m5 -60v1m1 35v1m2 -72v1m0 53v1m0 3v1m1 -57v1m0 55v1m1 -59v1m0 73v1m1 -43v1m1 -5v1m1 -14v1m0 31v2m1 -2v1m1 -48v1m0 5v1m0 24v1m0 34v1m1 -50v1m0 54v1m1 -44v1m2 -17v1m0 32v1m0 1v1m4 -51v1m1 93v1m1 -87v1m0 6v1m1 -8v1m3 6v1m1 -14v1m0 11v1m0 13v1m0 33v1m0 12v1m1 14v1m3 -88v1m1 67v1m1 -53v1m0 11v1m0 16v1m-143 56v1m0 16v1m0 11v1m0 22v1m2 -44v1m0 31v1m0 4v1m0 1v1m0 10v1m1 -45v1m1 13v1m1 21v1m0 9v1m1 -68v1m0 28v1m0 6v2m0 24v1m0 2v1m1 -9v1m0 2v1m1 -45v1m0 43v1m0 21v1m1 -26v1m1 -46v1m0 45v1m1 0v1m0 15v1m0 5v1m1 -12v1m1 -65v1m0 46v1m0 29v1m2 -5v1m9 -63v1m1 -1v1m0 3v1m0 18v1m2 -14v1m0 15v1m0 9v1m2 28v1m1 -83v1m0 4v1m0 28v1m0 5v2m0 2v1m0 18v1m0 7v1m1 -62v1m0 24v1m1 44v1m0 3v1m2 -79v1m0 36v1m0 3v1m1 -27v1m0 55v1m2 -68v1m1 19v1m2 38v1m3 -22v1m3 5v1m4 -38v1m1 32v1m2 -37v1m0 39v1m2 -33v1m0 21v1m0 1v1m0 23v1m1 -56v2m0 4v1m0 29v1m1 -28v1m0 19v1m3 -41v1m0 21v1m0 12v1m5 -36v1m0 31v1m0 17v1m0 9v1m1 10v1m6 -57v1m2 -8v1m1 14v1m1 1v1m3 -20v1m0 16v1m0 6v1m0 15v1m0 10v1m0 7v1m0 13v1m1 -29v1m3 -41v1m0 6v2m0 15v1m0 1v1m0 22v1m2 -21v1m2 -20v1m2 38v2m10 -66v1m1 30v1m0 22v1m1 -42v1m0 62v1m2 -68v1m0 65v1m1 -22v1m0 18v1m0 2v1m0 6v1m3 -5v1m1 -3v1m1 -28v1m1 -37v1m1 20v1m0 5v1m0 39v1m2 -51v1m0 9v1m1 -39v1m0 24v1m0 5v1m0 27v1m1 -26v1m0 6v1m0 28v1m0 10v1m1 -2v1m1 -52v1m1 34v1m1 5v1m0 9v1m1 -34v1m0 11v1m0 21v1m1 -79v1m1 3v1m1 7v1m2 4v1m0 4v1m0 46v1m1 -69v1m0 12v1m0 34v1m0 25v1m1 -72v1m0 3v1m0 21v1m1 -32v1m0 12v1m0 25v1m0 12v1m0 12v1m0 11v1m1 -66v1m1 -1v1m0 58v1m1 -69v2m1 36v1m0 2v1m1 -17v1m1 10v1m0 19v1m1 -38v1m0 21v1m0 9v1m0 4v1m1 -40v1m0 21v1m0 1v1m1 -37v1m1 -3v1m0 3v1m1 2v1m0 16v1m0 14v1m1 1v1m0 21v1m1 -55v1m0 32v1m0 2v1m1 -51v1m1 13v1m0 25v1m0 11v1m0 1v1m0 10v1m0 7v1m0 3v1"/>
<path stroke="rgb(222,131,120)" stroke-width="1" d="M331.5 36v1m0 2v1m0 63v1m0 31v1m1 -57v1m0 10v1m5 -42v1m1 20v1m1 2v1m1 -29v1m2 45v1m1 16v1m0 18v1m1 -35v1m4 11v1m13 -54v1m1 -17v1m1 99v1m1 -21v1m2 -56v1m5 24v1m2 -1v1m0 48v1m2 -59v1m1 -41v1m0 8v1m0 10v1m0 41v1m0 21v1m1 -77v1m0 40v1m0 17v1m1 -48v1m0 30v1m2 -51v1m0 85v1m1 -13v1m0 23v1m2 -88v1m1 43v1m1 -50v1m4 58v1m0 26v1m2 -62v1m0 20v1m0 32v1m2 -76v1m0 61v1m1 -57v1m1 46v1m2 17v1m0 15v1m3 -53v1m0 7v1m0 4v1m2 7v1m2 -67v1m1 -2v1m1 19v1m1 48v1m0 12v1m0 6v1m1 -90v1m0 33v1m0 46v1m0 8v1m0 3v1m2 -71v1m0 8v1m0 12v1m1 0v1m51 -30v1m1 25v1m1 11v1m1 -25v1m1 17v1m22 -45v1m-143 129v1m6 6v1m0 36v1m4 -75v1m0 50v1m0 1v1m1 -7v1m1 -31v1m55 38v1m1 -33v1m0 18v1m0 32v1m0 1v1m0 1v1m2 -77v1m0 23v1m0 24v1m0 19v1m1 -27v1m1 -22v1m1 -2v1m1 39v1m2 -65v1m0 61v1m1 -42v1m0 6v1m2 -16v1m0 24v1m0 23v1m1 -36v1m3 45v1m1 -46v1m0 23v1m1 -32v1m2 51v1m1 -7v1m1 -15v1m0 10v1m2 -50v1m0 11v1m0 30v1m1 -6v1m1 -25v1m0 10v1m1 -40v1m0 3v1m0 43v1m3 -3v1m0 23v1m1 -45v1m0 31v1m1 3v1m0 16v1m1 -61v1m2 42v1m13 -22v1m1 -17v1m0 2v1m0 17v2m0 26v1m1 -21v1m1 -1v1m3 -53v1m0 5v1m0 9v1m0 18v1m0 4v1m0 7v1m0 7v1m0 9v1m1 -61v1m4 -1v1m9 -1v1"/>
<path stroke="rgb(216,69,43)" stroke-width="1" d="M331.5 44v1m1 -6v1m0 54v1m0 32v1m0 4v1m0 3v1m1 -99v1m0 1v1m0 43v1m0 23v1m0 11v1m0 10v1m0 4v1m1 -100v5m0 1v1m0 3v1m0 1v1m0 3v1m0 6v1m0 4v1m0 5v1m0 11v2m0 23v1m0 15v1m0 7v1m0 1v1m0 2v1m1 -57v1m0 36v1m0 5v2m1 -86v1m0 2v1m0 3v1m0 15v1m0 6v1m0 10v1m0 1v1m0 27v4m0 2v1m0 1v5m0 9v1m0 1v2m1 -81v2m0 1v1m0 7v1m0 13v3m0 13v1m0 2v1m0 10v1m0 1v2m0 7v1m0 1v2m0 8v1m1 -89v1m0 12v1m0 16v1m0 4v1m0 1v1m0 15v1m0 9v1m0 3v1m0 11v2m1 -89v2m0 4v1m0 12v1m0 2v1m0 1v1m0 1v2m0 1v1m0 8v1m0 4v1m0 1v1m0 12v1m0 1v2m0 8v1m0 16v1m1 -89v1m0 2v1m0 2v1m0 19v1m0 17v1m0 11v1m0 3v2m0 1v1m0 4v1m0 2v1m0 11v1m0 1v1m0 2v2m1 -50v1m1 3v1m0 1v1m0 2v1m0 9v1m0 17v1m22 -51v1m0 58v1m4 -68v1m0 17v1m10 -39v1m0 88v1m15 -30v2m2 6v1m2 -53v1m1 23v1m0 19v1m0 3v3m0 1v2m1 -54v2m0 2v2m0 16v1m0 1v1m0 4v1m0 19v2m1 -51v1m4 43v1m2 18v1m2 -78v1m0 1v1m0 74v1m1 -79v2m0 1v1m0 21v1m0 35v2m0 14v1m0 20v1m5 84v1m1 -76v1m0 6v1m1 -12v1m0 40v1m4 -4v1m1 19v1m11 -21v1m3 6v1m1 30v1m1 -64v2m0 25v1m0 5v1m0 23v1m0 5v2m3 -56v1m0 5v1m0 1v1m0 4v1m0 6v1m0 16v1m0 9v1m1 -55v1m0 4v1m0 46v1m1 -31v1m0 10v2m25 -11v1"/>
<path stroke="rgb(237,219,228)" stroke-width="1" d="M341.5 129v1m2 -1v1m1 -85v1m0 36v1m0 5v1m1 -44v1m0 17v1m0 5v1m0 16v1m0 9v1m0 17v1m0 10v1m1 -79v1m0 13v1m0 72v1m1 -94v1m0 14v1m0 8v1m0 4v1m0 9v1m0 4v1m0 12v1m1 -50v1m0 3v1m0 28v1m0 5v1m0 5v1m0 3v1m1 -11v1m0 23v1m1 -77v1m0 4v1m0 6v1m0 20v1m0 5v1m0 6v1m0 43v1m1 -77v1m0 6v2m0 7v1m0 38v1m1 17v1m1 -82v1m0 14v1m0 6v1m0 14v1m0 6v1m0 13v1m0 1v1m0 11v1m0 5v1m0 1v1m1 -20v1m1 -10v1m0 3v1m0 19v1m1 -58v1m0 43v1m1 -63v1m0 54v1m0 3v1m0 3v1m0 23v1m1 -84v1m0 29v2m0 4v1m0 27v1m1 -43v1m0 4v1m0 11v1m0 2v1m0 4v1m0 26v1m1 -78v2m0 2v1m2 50v1m0 4v1m1 14v1m0 17v1m1 -91v1m1 1v1m2 11v1m0 50v1m2 -77v1m0 31v1m0 10v1m0 25v1m0 5v1m0 12v1m1 -63v1m0 35v1m0 31v1m1 -71v1m0 43v1m0 16v1m1 -32v2m0 31v1m1 -78v1m0 54v1m1 -47v1m0 1v1m0 22v1m0 12v1m0 1v2m0 15v1m1 23v1m2 -37v1m0 1v1m0 34v1m2 -97v1m0 8v1m0 58v1m0 19v1m1 -11v1m2 -77v1m0 36v1m5 -10v1m1 -32v1m0 3v1m0 1v1m0 11v1m0 23v1m0 30v1m2 -71v2m0 44v1m0 5v1m0 11v1m0 5v2m0 1v1m0 12v1m0 4v1m1 -92v1m0 7v1m0 48v1m0 1v1m0 17v1m1 -36v1m0 3v1m10 -2v1m0 21v1m1 -75v1m2 61v1m2 -63v1m3 34v1m1 -3v1m1 -23v1m0 57v1m5 -53v1m0 16v1m1 -15v1m3 8v1m0 6v1m0 30v1m3 0v1m0 12v1m1 -74v1m0 47v1m0 10v1m1 -67v1m0 7v1m1 62v1m7 -51v1m4 44v1m1 -35v1m7 14v1m0 1v1m0 5v1m0 4v1m0 5v1m0 25v1m1 -94v1m0 8v1m0 21v1m0 3v1m0 25v1m0 8v1m0 21v1m2 -80v1m0 20v1m0 5v1m0 1v1m0 25v1m0 21v1m1 -87v1m0 52v1m0 33v1m1 -92v1m0 39v1m0 37v1m1 -78v1m1 73v1m0 11v1m1 -75v1m0 10v1m0 32v1m0 36v1m1 -90v1m0 59v1m1 -23v1m0 24v1m0 9v1m2 -77v1m2 51v1m1 -43v1m0 7v1m0 9v1m0 4v1m0 10v1m0 40v1m1 -74v1m0 29v1m0 54v1m0 1v1m1 -72v1m0 53v1m1 -82v1m0 10v1m0 37v1m0 43v1m1 -83v1m0 2v1m0 11v2m0 50v2m2 -79v1m0 25v1m0 1v1m0 14v1m0 3v1m0 10v1m0 31v2m1 -89v1m0 4v1m0 23v1m0 9v1m0 5v1m0 11v1m0 27v1m1 -44v1m0 5v1m0 5v1m0 32v1m0 1v1m1 -80v1m0 2v1m0 28v1m2 -30v1m0 28v1m0 20v1m2 -63v1m0 84v1m1 -38v1m0 32v1m1 -77v1m0 34v1m0 27v1m2 2v1m0 20v1m1 -26v1m1 21v1m1 -76v1m0 58v1m1 -17v1m1 -23v1m0 16v1m1 20v1m0 13v1m2 -69v1m0 57v1m2 -84v1m0 78v1m0 5v1m-157 32v1m1 0v1m11 22v1m2 -26v1m0 2v2m0 55v2m1 -75v1m0 25v1m0 1v1m0 34v2m0 6v1m0 2v1m1 -58v1m0 9v1m0 21v1m0 8v1m0 1v1m1 -61v1m0 1v1m0 57v1m0 19v1m1 -57v1m0 25v1m1 25v1m2 -70v1m0 1v1m0 3v2m0 2v1m0 12v1m0 7v1m0 7v1m0 15v1m0 19v1m1 -59v1m0 8v1m0 19v1m0 17v1m1 -65v1m0 11v1m0 4v1m0 8v1m0 4v1m0 4v1m0 4v1m0 15v1m1 16v1m2 -83v1m0 4v1m1 -6v1m0 12v1m0 14v1m0 1v1m0 15v1m0 13v1m0 14v1m1 -53v2m0 40v1m0 16v1m1 -73v1m0 16v1m0 10v1m0 1v1m1 -27v1m0 6v1m0 27v1m0 4v1m1 10v1m4 -28v1m2 7v1m1 -16v1m0 15v1m0 24v1m1 -38v1m0 22v1m1 -40v1m0 54v1m0 6v1m1 -72v1m0 45v1m0 9v2m1 -10v1m1 -7v1m0 7v1m0 1v1m0 7v1m0 4v1m1 -53v1m1 -24v1m0 53v1m0 23v1m1 -79v1m0 29v1m0 1v1m0 2v1m0 14v1m0 20v1m1 -24v1m1 -42v1m0 18v1m0 3v1m0 30v1m0 10v1m0 4v1m1 -64v1m0 8v1m0 51v1m0 7v1m1 -81v1m0 28v1m1 6v1m1 -8v1m1 -34v1m3 0v1m0 28v1m0 4v1m0 19v1m0 24v1m2 -6v1m0 2v1m1 -27v2m1 -34v1m0 27v1m2 2v1m1 -46v1m0 2v1m0 55v1m0 4v1m0 4v1m1 -55v1m1 8v1m0 27v1m0 8v1m1 -29v1m0 21v1m0 7v1m1 0v1m0 4v1m1 -51v1m0 23v1m0 12v1m1 -29v1m0 21v1m0 2v1m0 21v1m1 -40v1m1 -35v1m0 5v1m0 27v1m0 4v1m0 1v1m1 -46v1m0 8v1m0 2v1m0 3v1m0 5v1m0 7v1m1 -12v1m0 28v1m1 14v1m1 -37v1m0 15v1m0 36v1m1 -69v1m0 24v1m1 -34v1m0 8v1m0 21v1m0 9v1m1 -10v1m0 20v1m2 -37v1m0 11v1m0 38v1m1 -73v1m13 14v1m1 -19v1m0 43v1m1 -42v1m0 40v1m0 11v1m1 -56v1m2 16v1m3 -11v1m0 11v1m0 20v1m1 27v1m11 -56v1m0 3v1m0 7v1m0 1v1m0 16v1m0 9v1m1 -48v1m0 11v2m0 2v1m0 6v1m0 18v1m0 22v1m0 3v1m0 3v1m1 -57v2m0 18v1m0 18v1m1 -28v1m0 14v1m0 12v1m3 -20v1m0 28v1m0 1v2m1 -80v1m0 24v1m0 20v1m0 26v1m1 -39v1m0 28v1m0 9v1m1 -73v2m0 25v1m0 8v1m1 -22v1m0 64v1m1 -74v1m0 22v1m0 3v1m0 14v1m0 10v1m0 4v1m0 1v1m0 2v1m0 6v2m1 -53v1m0 21v1m0 17v1m1 -52v1m0 44v1m0 4v1m1 -31v1m1 -33v1m0 41v1m2 -37v1m0 34v1m1 -47v1m0 44v1m0 28v1m1 -72v2m0 38v1m0 19v2m0 13v1m1 -74v1m0 32v1m2 28v1m1 -23v2m0 8v1m1 -36v1m0 49v1m2 -8v1m0 11v1m1 -73v1m0 24v1m0 17v1m1 -36v1m0 22v2m1 -28v1m0 21v1m0 4v1m0 4v1m0 21v1m0 15v1m1 -77v1m0 40v1m0 11v1m0 1v1m1 -57v1m0 11v1m0 2v1m0 9v1m0 35v1m0 4v1m1 -64v1m0 32v1m1 -28v1m0 2v1m0 6v1m0 10v1m0 11v1m0 1v1m0 2v1m0 3v1m0 21v1m1 -69v1m0 23v1m0 11v1m0 9v1m0 5v1m0 11v1m0 3v1m0 9v1m1 -82v1m0 1v2m0 2v1m0 24v1m0 2v1m0 9v1m0 17v1m0 11v1m0 6v1m1 -47v1m0 17v1m1 -55v1m0 2v1m0 19v1m0 41v1m1 -62v1m0 51v1m1 -17v1m1 -12v1m0 8v1m0 3v1m0 11v1m0 10v1m0 9v1m1 -63v1m0 10v1m0 32v1m0 23v1m1 -55v1m0 16v1m0 8v1m0 9v1m0 5v1m0 7v1m0 1v1m1 -55v1"/>
<path stroke="rgb(229,207,219)" stroke-width="1" d="M344.5 116v1m1 -78v1m0 25v1m0 9v1m0 35v1m0 20v1m1 -69v1m0 9v1m0 33v1m1 -64v1m0 3v1m0 39v1m0 1v1m0 30v1m0 8v1m1 -91v1m0 12v1m0 7v1m0 18v1m0 14v1m0 32v1m1 -76v1m0 42v1m0 26v1m1 -87v1m0 17v1m0 38v1m0 4v1m0 3v1m0 4v1m0 23v1m1 -92v1m0 9v1m0 11v1m0 5v1m0 8v2m0 11v1m0 16v2m0 3v1m0 9v1m1 -84v1m0 15v1m1 2v1m0 14v2m0 1v1m0 16v2m0 20v1m0 8v1m0 3v1m1 -34v1m0 13v1m1 -63v1m0 12v1m0 32v1m0 6v1m0 23v1m1 -65v1m0 7v1m1 -11v1m0 19v1m0 16v1m0 23v1m0 11v1m1 -78v1m0 44v1m1 -66v1m0 70v1m0 1v1m0 9v1m0 2v1m1 -85v2m0 29v1m0 29v1m0 7v1m0 11v1m0 4v2m0 9v1m1 -70v1m1 -9v1m0 51v1m4 -72v1m1 19v1m0 7v1m0 47v1m2 7v1m1 -78v1m0 13v1m0 12v1m0 55v1m1 -63v1m0 6v1m0 19v1m1 -7v1m0 33v1m1 -81v1m0 4v1m0 3v1m0 72v1m1 -84v1m0 8v1m0 73v1m1 -54v1m1 8v1m3 -38v1m0 55v1m2 7v1m2 -34v1m0 1v1m2 0v1m2 17v1m0 41v1m1 -86v1m0 16v1m1 -28v1m1 12v2m0 5v1m0 18v1m0 44v1m1 -82v1m0 9v1m0 53v2m0 15v1m10 -61v1m1 -25v1m0 7v1m0 14v1m0 33v1m3 -59v1m0 5v1m6 -9v1m0 90v1m0 6v1m1 -72v1m0 9v1m5 -39v1m0 83v1m1 -42v1m2 -19v1m2 -28v1m0 20v1m1 51v1m2 7v1m2 -79v1m0 13v1m0 7v1m0 66v1m2 -20v1m2 15v1m1 -30v1m1 -40v1m4 25v1m1 21v1m1 -51v1m0 32v1m0 16v1m0 18v1m2 -69v1m4 -14v1m1 -3v1m0 2v2m0 47v2m0 5v1m0 10v1m0 4v1m1 -77v1m0 14v1m0 9v1m0 19v1m0 23v1m0 2v2m0 17v1m1 -53v1m0 19v1m1 -60v1m0 4v1m0 33v1m0 18v1m0 2v1m0 4v1m0 2v1m0 3v1m1 -64v1m0 1v1m0 18v1m0 28v1m0 13v1m1 -62v1m0 3v1m0 6v1m0 27v1m1 -22v1m0 3v1m2 -25v1m0 11v2m0 38v1m0 7v1m0 1v1m1 -25v1m1 -48v1m0 34v1m0 38v1m2 -74v1m2 12v1m1 35v1m1 -51v1m0 2v1m0 21v1m0 24v1m0 43v1m1 -89v1m0 22v1m0 32v1m0 26v1m1 -24v1m1 -47v1m0 4v1m1 36v1m0 4v1m1 -68v1m0 12v1m0 9v1m0 9v1m0 9v1m0 6v1m0 1v1m0 9v1m0 28v1m1 -76v1m0 25v1m0 19v1m0 2v1m1 -68v1m0 2v1m0 1v1m0 25v1m0 26v1m0 1v1m0 2v2m0 1v1m1 -12v1m1 -60v1m0 62v2m1 -9v1m0 21v1m2 15v1m1 -19v1m0 1v1m1 -58v1m0 1v1m0 76v1m1 -98v1m0 67v1m1 -29v1m0 21v1m1 -22v1m0 1v1m1 -31v1m0 27v1m0 29v1m1 -2v1m1 -71v1m0 47v1m1 -32v1m0 38v1m1 -56v1m0 3v1m0 11v1m0 27v1m3 2v1m1 -38v1m0 32v1m0 1v1m0 49v1m-157 8v1m0 35v1m0 42v1m7 -64v1m6 10v1m0 18v1m1 -51v1m0 1v1m0 9v1m0 16v1m0 35v1m1 -56v1m0 12v1m0 5v1m0 49v1m0 3v1m1 -82v1m0 33v1m0 8v1m0 17v1m1 -52v1m0 30v1m1 -30v1m0 44v1m0 11v1m1 -57v1m0 50v1m0 5v1m0 2v1m0 4v1m1 -80v1m0 6v1m0 47v1m1 -51v1m0 11v1m0 3v1m0 33v1m0 5v1m1 -46v1m0 12v1m1 -25v1m0 16v1m0 5v1m0 4v1m0 41v2m2 -52v1m0 6v1m0 38v1m0 3v1m1 -64v1m0 34v1m0 12v1m0 6v1m0 4v1m1 -12v1m1 -33v1m0 34v1m0 9v1m1 -53v1m0 5v1m1 -30v1m0 26v1m0 11v1m0 23v1m0 7v1m1 -35v1m1 -22v1m0 49v1m1 5v1m1 -12v1m1 -26v1m0 15v1m0 13v1m0 1v1m0 1v1m2 -50v1m1 29v1m0 8v1m0 11v1m0 2v1m1 -54v1m0 51v1m0 1v1m1 -66v1m0 9v1m0 1v1m0 16v1m0 9v1m1 -29v1m0 1v1m0 9v1m0 15v1m1 -18v1m0 8v1m1 -37v1m0 13v1m1 -2v1m0 41v1m1 -58v1m1 1v1m0 22v1m0 37v1m0 5v1m0 4v1m1 -63v1m0 11v1m0 10v1m1 -35v1m0 15v1m0 11v1m1 37v1m3 -64v1m0 11v2m0 33v1m1 21v1m1 -77v1m0 68v1m2 -43v1m0 16v1m0 28v1m0 3v1m1 -65v1m1 -1v1m1 3v1m0 23v1m0 3v1m0 12v1m0 9v2m1 -55v1m0 41v1m2 16v1m2 -54v1m1 -8v1m0 6v1m0 24v1m0 29v1m2 -78v1m0 22v1m0 18v1m0 7v1m0 5v1m0 21v1m0 3v1m1 -48v1m0 4v1m1 -29v1m0 38v2m0 29v1m1 -20v1m0 7v1m1 -21v1m1 -52v1m0 52v1m0 24v1m0 5v1m1 -70v1m0 33v1m0 5v1m1 -14v1m0 10v1m0 30v1m1 -20v1m1 18v1m1 -78v1m0 25v1m0 45v1m1 -59v1m0 16v1m0 3v1m0 6v1m0 20v1m1 -47v1m0 40v1m1 -32v1m0 46v1m6 -72v1m4 51v1m5 -63v1m0 1v1m1 -3v1m0 2v1m0 60v1m1 -8v1m0 2v1m1 -57v1m5 29v1m4 23v1m6 -48v1m0 62v1m1 -64v1m1 -6v1m0 49v1m0 1v1m0 24v1m1 -81v1m1 2v1m0 4v2m0 3v1m0 7v1m0 11v1m0 2v1m3 32v1m1 -66v1m0 26v1m0 36v1m1 -35v1m0 8v1m0 4v1m0 23v1m0 6v1m1 -32v1m0 20v1m0 4v1m1 -77v1m0 8v1m0 2v1m0 7v1m0 15v1m1 -34v1m0 38v1m0 2v1m0 31v1m1 -74v1m0 10v1m0 50v1m1 -65v1m0 9v1m0 21v2m0 10v1m0 26v1m1 -56v1m0 10v1m0 36v1m0 13v1m4 -73v1m0 8v1m1 25v1m1 -39v1m0 76v1m3 -55v1m1 -24v1m0 19v1m0 21v1m2 -15v1m0 4v1m0 10v2m0 5v2m0 11v1m0 9v1m0 1v1m1 -57v1m0 57v1m1 -72v1m0 64v1m1 -45v1m0 15v1m0 6v1m0 2v1m0 8v1m0 2v1m0 1v1m0 4v1m0 2v1m1 -80v1m1 6v1m0 21v2m0 14v1m1 -14v1m0 16v1m0 4v1m0 17v1m1 -73v1m0 5v1m0 14v1m0 37v1m1 -51v1m0 9v1m0 23v1m0 31v1m1 -69v1m0 6v1m0 7v1m0 16v2m0 4v1m0 8v1m0 9v1m1 -26v1m1 -32v1m0 16v1m0 1v1m0 6v1m0 11v1m0 3v1m0 3v1m0 2v1m0 23v1m1 -81v1m0 5v1m0 29v1m0 8v1m0 3v1m0 2v1m0 23v1m0 2v1m1 -73v1m0 49v1m0 7v1m1 -56v1m0 13v1m0 8v1m1 -14v1m0 51v1m1 -45v1m0 15v1m0 19v1m1 -69v1m0 23v1m0 10v1"/>
<path stroke="rgb(206,192,224)" stroke-width="1" d="M344.5 123v1m1 -26v2m0 3v1m1 -33v1m1 -9v1m0 2v1m0 2v1m0 50v1m0 14v1m0 1v1m1 -87v1m0 74v1m1 -79v1m0 14v1m0 67v1m1 -89v1m0 13v1m0 3v1m0 3v1m0 7v1m0 20v1m0 22v1m0 2v1m0 4v1m0 3v2m1 -83v1m0 76v1m0 3v1m1 -25v2m0 3v1m0 20v1m0 4v1m1 -101v1m0 1v1m0 11v1m0 1v1m0 13v1m0 10v1m0 5v1m0 3v1m0 4v1m0 11v1m0 2v1m0 8v1m0 12v1m0 1v1m1 -92v1m0 7v1m0 13v1m0 6v1m0 4v1m0 21v1m0 9v1m0 6v1m0 5v1m0 9v1m1 -86v1m0 14v2m0 12v1m0 2v1m0 47v1m1 -86v1m0 1v1m0 43v1m0 9v1m0 4v1m1 -62v1m0 2v1m0 1v1m0 32v2m0 2v1m0 3v1m0 1v1m0 24v1m0 6v1m0 16v2m1 -97v1m0 4v1m0 17v1m0 23v1m0 4v1m0 36v1m1 -90v1m0 45v1m0 7v1m0 10v1m1 -66v1m0 17v1m0 10v1m0 2v1m0 6v1m0 28v1m0 17v1m4 -89v1m5 27v1m0 17v1m0 29v1m0 13v2m1 -70v1m0 25v1m0 6v1m0 28v1m1 -75v1m0 53v1m1 -64v1m0 29v1m0 43v1m1 -70v1m0 23v1m1 -24v1m0 41v1m0 16v2m0 24v1m13 -23v1m1 -36v2m0 18v1m0 9v1m0 16v1m0 3v1m0 5v1m0 4v1m2 -52v1m0 1v1m0 10v1m6 -58v1m0 71v1m0 6v1m14 -11v1m1 -71v1m0 9v3m0 7v1m0 29v1m0 6v1m0 12v1m0 10v1m0 4v1m0 7v1m1 -92v1m0 17v1m0 9v1m0 6v2m0 1v1m0 2v1m0 2v2m0 9v1m0 34v1m0 2v1m1 -92v1m0 37v1m3 -18v1m0 29v1m0 33v1m1 -51v1m0 3v1m0 14v1m0 4v1m1 -41v1m0 44v2m0 7v1m0 13v1m1 -91v1m1 40v1m0 26v1m1 -43v1m0 2v1m0 3v1m0 5v1m0 2v1m0 8v2m0 15v1m0 25v1m1 -79v1m0 4v1m0 10v2m0 44v1m0 15v1m1 -89v1m0 9v1m0 17v1m0 15v1m1 -47v1m0 21v1m0 22v1m0 34v1m1 -76v2m0 25v1m0 25v1m0 15v1m2 -81v1m0 3v1m0 2v1m0 3v1m0 2v1m0 42v1m0 35v1m1 -80v1m0 6v3m0 4v1m0 6v1m0 6v1m0 1v1m0 12v1m0 10v1m0 25v1m1 -93v1m0 25v1m0 36v1m0 26v1m1 -69v1m0 6v1m1 -9v1m1 -23v1m0 10v1m0 9v1m0 16v1m0 7v1m1 -30v1m0 11v1m0 4v1m0 12v2m0 7v1m1 -45v1m0 2v1m0 7v1m0 14v1m0 9v1m0 29v1m1 -75v2m0 13v1m0 44v1m0 21v1m1 -21v1m0 13v1m1 -84v1m0 21v1m0 73v1m1 -83v1m0 23v1m1 -30v2m0 21v1m0 1v1m0 12v1m0 6v2m0 31v1m1 -83v1m0 9v1m0 1v1m0 39v1m0 8v1m0 20v2m1 -88v1m0 13v1m0 6v1m0 15v1m1 1v1m1 -40v1m0 24v1m0 19v2m0 1v1m0 24v1m3 -76v1m0 11v1m0 8v1m0 3v1m0 28v1m0 6v1m0 28v1m0 7v2m1 -96v1m0 4v1m0 2v1m0 20v1m0 1v1m0 6v1m0 11v1m0 6v1m0 3v1m0 26v1m0 2v1m1 -88v3m0 6v1m0 8v1m0 1v1m0 42v2m1 -64v1m0 18v1m0 1v1m0 1v1m0 2v1m0 2v1m0 13v1m0 35v1m0 3v1m1 -93v1m0 21v1m0 16v1m0 29v1m0 10v1m0 12v1m0 3v1m1 -97v1m0 7v1m0 44v1m0 17v1m0 26v1m1 -99v1m0 14v1m0 22v1m0 3v1m0 1v1m0 11v1m0 3v1m0 4v2m0 12v2m0 4v2m0 3v1m1 -85v1m0 9v1m0 4v1m0 3v1m0 10v1m0 7v1m0 25v1m0 3v1m0 2v1m1 -59v1m0 16v1m0 4v1m0 1v2m0 1v1m0 5v1m0 11v1m0 12v1m0 4v1m0 2v1m0 10v1m1 -96v1m0 19v2m0 4v1m0 7v1m0 34v1m0 23v2m1 -95v1m0 19v1m0 2v1m0 20v1m0 10v1m0 1v1m0 2v1m0 3v1m0 4v1m0 11v1m0 4v1m0 5v2m1 -89v1m0 17v1m0 36v1m0 18v1m0 7v2m0 4v1m1 -85v1m0 20v2m0 18v1m0 32v1m0 9v1m1 -88v1m0 19v1m0 1v1m0 35v1m1 -66v2m0 1v1m0 4v1m0 30v2m0 2v1m0 18v1m0 22v1m0 8v1m1 -76v1m0 42v1m0 26v1m1 -87v1m0 37v1m1 -21v1m0 12v1m0 18v1m0 17v1m1 -1v1m0 11v1m3 -85v1m0 12v1m0 29v1m0 24v1m0 4v1m0 5v1m1 -30v1m0 35v1m0 2v1m1 -89v1m0 5v1m0 24v1m0 7v1m0 14v1m0 9v1m0 5v1m0 4v1m0 14v2m1 -84v1m0 5v1m0 6v1m0 13v1m0 31v1m0 3v1m1 -59v2m0 8v1m0 11v1m0 21v1m0 7v1m0 2v1m0 10v1m0 8v1m0 7v1m1 -93v1m0 24v1m0 6v1m0 1v1m0 14v1m0 7v1m0 5v1m0 5v1m0 1v1m2 -65v1m0 18v1m0 24v1m0 21v1m1 -79v1m0 4v1m0 6v1m0 19v1m1 -25v2m0 1v1m0 4v2m0 20v1m0 26v2m0 2v1m0 1v1m0 2v1m0 1v1m0 6v1m0 1v1m0 4v1m1 -81v1m0 3v2m0 27v1m0 33v1m0 19v1m1 -93v1m1 7v1m0 16v1m0 24v1m0 16v1m0 16v1m0 5v1m1 -95v1m0 3v1m0 35v1m0 10v1m0 2v1m0 2v1m0 4v1m0 2v2m0 13v1m0 17v1m1 -80v1m0 48v1m0 21v1m0 3v1m1 -80v1m0 53v1m1 -65v1m0 53v2m0 9v1m1 -44v1m0 10v1m0 20v1m0 1v1m0 6v1m0 6v2m0 1v1m0 13v1m1 -68v2m0 28v1m0 19v1m0 18v1m1 -53v1m0 38v1m0 13v2m1 -96v1m0 2v1m0 4v1m0 5v1m0 8v1m0 1v1m0 5v1m0 13v3m0 2v1m0 35v1m0 1v1m0 9v1m1 -57v2m0 18v1m0 18v1m-157 22v1m0 3v2m0 14v1m0 4v1m0 5v1m0 8v1m0 1v1m0 13v1m0 7v1m0 5v1m1 -46v1m0 20v1m0 24v1m0 7v1m1 -28v1m1 -13v1m2 -36v1m0 5v1m1 40v1m0 18v2m1 -42v1m0 21v1m0 4v1m0 12v1m0 2v1m0 6v1m2 -30v2m2 -36v1m0 53v1m2 -63v2m0 36v1m0 7v1m1 -46v1m0 10v2m0 21v1m0 25v1m0 5v1m1 -76v1m0 19v1m0 22v1m0 7v1m0 11v1m1 -42v1m0 14v1m0 40v1m1 -37v1m1 -47v1m0 26v1m1 36v1m1 -64v1m0 71v1m2 -74v1m0 17v1m1 -20v1m0 24v1m0 34v1m0 11v1m2 -44v1m0 26v1m2 -14v1m0 12v1m1 -48v1m0 8v1m0 2v1m0 1v1m0 7v1m0 1v1m0 1v1m0 2v1m0 31v1m0 5v1m1 -76v1m0 1v1m0 11v2m0 7v1m0 2v1m0 12v1m0 17v1m0 5v1m0 2v1m0 16v1m1 -73v1m0 10v1m0 32v1m0 2v1m0 1v1m1 -39v1m0 15v1m0 2v1m0 28v1m1 -55v1m0 4v1m1 12v1m0 14v1m0 7v1m0 2v1m0 4v1m0 11v1m1 -64v2m0 13v1m0 9v1m0 19v1m0 23v1m1 -75v1m0 21v2m0 4v1m0 14v1m0 21v1m0 3v1m1 -48v1m0 5v1m0 24v1m0 1v1m1 -56v1m0 11v1m0 21v2m0 3v1m0 4v1m0 4v1m0 1v1m0 19v1m1 -82v1m0 3v1m0 1v1m0 9v1m0 4v1m0 17v1m1 -35v1m0 5v1m0 4v1m0 18v1m0 32v1m0 1v1m0 4v1m0 2v1m1 -65v1m0 1v1m0 5v1m0 3v1m0 7v1m0 13v1m1 -47v1m0 1v1m0 32v1m0 27v1m0 4v1m0 2v1m1 -70v1m0 2v1m0 3v1m0 1v2m0 12v1m0 15v1m0 4v1m0 5v1m0 20v1m0 6v1m0 1v1m1 -83v1m0 7v1m0 10v1m0 6v1m0 22v1m0 21v1m1 -31v1m0 8v1m0 23v1m1 -61v1m0 7v1m0 4v1m0 18v1m0 20v1m0 6v1m0 3v1m1 -78v2m0 4v1m0 9v1m0 4v1m0 31v1m0 13v1m0 11v1m1 -58v1m0 3v1m0 2v1m0 2v1m0 1v1m0 13v1m0 9v1m0 1v1m0 15v1m0 1v1m1 -71v1m0 1v1m0 6v1m0 14v1m0 17v1m0 1v1m0 3v1m0 15v1m0 6v1m0 1v1m1 -78v1m0 3v1m0 23v1m0 27v1m0 18v1m1 -71v1m0 3v1m0 22v1m0 18v1m0 11v1m0 12v2m1 -63v1m0 56v1m0 4v1m1 -85v1m0 13v1m0 22v1m0 5v2m0 8v1m0 10v1m0 12v1m0 2v1m0 1v1m1 -60v1m0 1v1m0 1v1m0 14v1m0 9v1m0 4v1m0 11v1m0 5v2m0 5v1m1 -80v1m0 11v1m0 3v1m0 13v1m0 15v1m0 5v1m0 7v1m0 7v1m1 -71v1m0 31v1m0 15v1m0 8v1m1 -53v1m0 7v1m0 14v1m0 21v1m0 6v1m1 -30v1m0 2v1m0 47v1m2 -80v1m0 12v2m0 3v1m0 12v1m0 3v1m0 6v1m1 -22v1m0 2v1m0 1v2m0 8v1m0 13v1m0 16v1m0 11v2m1 -71v1m0 30v1m0 27v1m0 5v1m1 -67v1m0 13v1m0 6v1m0 20v1m0 10v1m0 12v1m0 4v1m0 2v1m1 -75v2m0 5v1m0 29v1m0 15v1m0 13v1m1 -78v1m0 3v1m0 18v1m0 21v1m0 5v1m0 2v1m0 3v1m0 7v3m0 10v1m1 -79v1m0 4v1m0 16v1m0 5v1m0 5v1m0 1v1m0 5v1m0 11v1m0 1v1m0 2v1m0 2v1m0 10v1m1 -42v1m0 2v1m0 1v1m0 10v1m0 8v1m0 23v1m1 -46v1m0 19v1m0 6v1m1 -60v1m0 4v1m0 5v1m0 10v1m0 4v2m0 10v1m0 15v1m0 2v1m0 1v1m0 4v1m0 1v1m0 1v1m0 2v1m1 -73v1m0 3v1m1 1v1m0 8v1m0 12v1m0 3v1m0 2v1m0 6v1m0 11v1m0 23v1m1 -84v1m0 8v2m0 10v1m0 1v1m0 1v1m0 2v1m0 3v1m0 12v1m0 17v1m1 -55v1m0 17v1m0 11v2m0 6v1m0 2v3m0 14v1m0 9v1m1 -71v1m0 6v1m0 3v1m0 5v1m0 11v1m0 13v1m0 3v1m0 5v1m1 -42v1m0 2v1m0 2v1m0 15v1m0 26v1m0 11v1m1 -77v2m0 1v1m0 12v1m0 3v1m0 43v1m1 -37v1m0 44v1m1 -62v1m0 4v2m0 9v1m0 14v2m0 19v2m0 12v1m1 -72v1m0 21v1m0 1v1m0 14v1m0 15v1m0 1v2m0 1v1m0 1v2m0 1v1m0 3v2m1 -74v1m0 32v1m0 5v1m0 13v1m0 7v1m0 6v1m0 3v1m1 -74v1m0 22v1m14 -29v1m3 17v1m0 62v1m17 -79v1m1 4v1m0 3v1m0 8v1m0 31v1m0 11v1m0 16v1m1 -70v1m1 -2v1m0 17v1m0 13v1m0 3v1m0 8v1m0 18v1m1 -73v1m0 33v1m0 8v1m0 34v1m1 -64v1m1 -14v1m0 20v1m0 9v1m0 11v1m0 8v1m0 4v1m0 9v1m1 -74v1m0 29v1m0 22v1m0 24v1m1 -72v1m0 26v1m0 5v1m0 2v1m0 1v1m0 2v1m0 8v1m0 10v1m0 7v2m1 -76v1m0 10v1m0 2v1m0 18v1m0 15v1m0 16v1m1 -64v1m0 38v1m0 7v1m0 28v1m1 -84v1m0 5v1m0 41v1m1 23v1m1 -58v1m0 38v1m0 5v1m0 3v1m0 15v2m1 -76v1m0 57v1m6 -62v2m0 14v1m0 43v1m3 1v1m0 2v1m1 -50v1m0 46v1m1 -19v1m0 15v1m0 4v1m0 1v1m1 -7v1m0 8v1m1 -64v1m0 57v1m2 -66v2m0 21v1m0 3v1m0 9v1m0 4v1m0 2v1m0 3v1m0 27v1m2 -76v1m0 5v1m0 4v3m0 5v1m0 16v1m0 23v1m0 2v1m0 1v1m0 9v1m1 -80v1m0 14v1m0 5v1m0 2v1m0 55v1m1 -79v1m0 1v1m0 8v1m0 25v1m0 25v1m0 8v1m1 -70v1m0 7v1m0 15v2m0 16v1m0 11v1m1 -50v1m0 17v2m0 24v1m0 13v1m0 12v1m1 -64v1m0 5v2m0 5v1m0 27v1m0 3v1m0 16v2m1 -75v1m1 21v1m1 -27v1m0 4v1m0 13v1m0 4v1m0 8v1m0 9v1m0 18v1m1 -46v1m0 3v1m0 20v1m0 32v1m1 -43v1m0 5v1m0 12v1m1 -35v1m0 12v1m0 1v1m0 5v1m0 5v1m0 19v1m0 3v1m0 5v1m1 -71v1m0 53v1"/>
<path stroke="rgb(205,181,208)" stroke-width="1" d="M343.5 73v1m2 8v1m0 5v1m0 19v1m1 -51v1m0 10v1m0 51v1m1 -80v1m0 5v1m0 5v1m0 13v1m0 3v1m2 -15v1m0 5v1m1 -23v1m0 9v2m0 12v2m0 28v1m0 35v1m1 -17v1m0 2v1m0 2v1m0 9v1m1 -90v2m0 6v1m0 14v1m0 2v1m0 3v2m0 13v1m0 5v1m0 16v1m1 -67v1m0 10v1m0 17v1m0 5v1m0 3v1m0 18v1m0 9v1m0 23v1m1 -102v1m0 5v1m0 24v1m0 52v1m1 -85v2m0 4v1m0 20v1m0 13v1m0 5v1m0 3v1m0 34v1m1 -54v1m0 5v1m0 13v1m1 -44v1m0 26v1m1 -35v1m0 4v1m0 3v1m0 10v1m0 1v1m0 11v1m0 8v1m0 7v1m0 34v1m0 1v1m1 -53v1m0 34v1m0 21v1m1 -56v1m0 17v1m0 22v1m0 3v1m0 3v1m0 6v1m2 -36v1m5 -52v1m0 46v1m1 4v1m1 -38v1m0 3v1m0 69v1m1 -78v1m0 5v1m0 41v1m0 13v1m1 -66v1m0 48v1m1 -53v1m0 3v1m0 43v1m0 8v1m1 -53v1m1 32v1m0 44v1m2 -2v1m1 -42v1m6 -8v2m2 -31v1m0 70v1m3 -88v1m0 8v1m0 3v1m0 52v1m0 15v1m2 -49v1m0 59v1m1 -20v1m0 1v1m5 -66v1m0 14v1m6 65v1m1 -94v1m0 91v1m7 -81v1m1 1v1m0 16v1m0 12v1m0 5v1m0 25v1m1 -59v1m0 61v1m1 -79v1m2 63v1m2 -27v1m0 10v1m2 34v1m1 -85v1m0 20v1m0 2v1m1 7v1m1 -17v1m2 -14v1m0 57v1m0 3v1m1 -38v1m0 43v1m1 -79v1m1 -1v1m0 55v1m0 25v1m0 3v1m1 -78v1m0 28v1m0 6v1m1 8v1m0 4v1m0 13v1m0 12v1m1 -75v1m0 76v1m1 -63v1m0 60v1m1 -18v1m1 -29v1m0 43v1m3 -78v1m0 7v1m2 -6v1m1 44v1m0 2v1m0 20v1m0 16v1m1 -86v1m0 3v1m1 63v1m4 -38v1m1 -46v1m0 84v2m0 8v2m1 -96v1m1 0v1m0 43v1m0 19v1m0 8v1m1 -71v1m0 14v1m0 14v1m0 8v1m0 1v1m0 12v1m1 -52v1m0 16v2m0 7v1m0 6v1m0 1v1m0 20v1m0 8v1m0 20v1m1 -93v1m0 14v1m0 7v1m0 11v1m0 6v1m1 -22v1m0 1v1m0 29v1m1 -55v1m0 7v1m0 13v1m0 3v1m0 56v1m0 14v1m1 -67v1m0 3v1m0 11v1m0 12v1m0 13v1m0 13v1m1 -75v1m0 7v1m0 14v1m0 15v1m0 10v1m1 -48v1m0 12v2m0 29v1m1 -41v1m1 3v1m0 7v1m0 2v1m0 22v1m1 -47v1m1 -9v1m0 80v1m1 -73v1m0 15v1m0 2v1m0 16v1m0 8v1m0 6v1m0 10v3m0 5v1m1 -52v1m0 7v1m0 3v1m1 -26v1m1 -10v1m0 8v1m1 -22v1m0 48v1m2 -36v1m0 14v1m0 8v1m0 9v1m0 34v1m2 -87v1m0 13v1m0 6v1m0 4v1m0 23v1m1 -33v1m0 8v1m0 21v1m0 9v1m0 14v1m0 19v1m0 5v1m1 -89v1m0 24v1m0 8v2m0 1v1m0 18v1m1 -58v1m0 34v1m0 40v1m1 -13v1m1 -53v2m0 23v1m0 18v1m0 23v1m1 -86v1m0 11v1m0 71v1m1 -78v1m0 46v2m0 1v1m1 -64v1m0 10v1m0 50v1m0 11v1m1 -66v1m0 21v1m0 3v2m0 8v1m0 7v1m0 5v1m0 15v1m0 9v1m0 9v1m1 -84v1m0 29v1m0 17v1m0 6v1m0 12v1m0 7v1m1 -71v1m0 10v2m0 29v1m0 7v2m1 -64v1m0 9v1m0 56v1m1 -59v1m0 10v1m0 21v1m0 3v1m0 22v1m0 21v1m1 -87v1m0 28v1m0 16v1m0 20v1m1 -71v1m0 18v1m0 33v1m0 12v1m0 3v1m2 -76v1m0 57v1m0 5v1m0 9v1m0 7v2m0 8v1m0 2v1m1 -99v1m0 7v1m0 72v1m0 14v2m1 -95v1m0 11v1m0 35v1m0 2v1m-157 66v1m0 8v1m0 46v1m1 -66v1m0 11v1m0 30v1m0 18v1m1 -54v1m0 33v1m3 -33v2m0 60v1m1 -65v1m1 54v1m1 -40v1m5 6v1m0 13v1m1 -10v1m1 -23v1m1 19v1m0 8v1m1 20v1m0 9v1m1 -70v1m0 2v1m0 8v1m0 52v2m1 -69v1m0 14v1m1 -24v1m0 3v1m0 53v2m0 3v1m1 -59v1m0 71v1m2 -76v1m0 4v1m0 14v1m0 16v1m0 36v1m1 -71v1m3 43v1m0 4v1m1 -60v1m0 10v1m0 24v1m1 -32v1m0 19v1m0 9v1m0 39v1m1 -72v1m0 15v1m0 12v1m0 1v1m0 42v1m1 -74v1m0 4v1m0 16v1m0 1v1m1 31v1m1 -45v1m0 8v1m0 26v2m1 -25v1m0 5v1m0 39v1m1 -59v1m0 1v1m0 27v1m2 -8v1m1 -41v1m0 25v1m0 16v1m0 3v1m0 21v1m0 9v1m1 -53v1m0 3v1m0 16v1m1 -38v1m0 29v1m0 16v1m1 -60v1m0 14v1m0 16v1m0 12v1m0 12v1m1 -5v1m0 17v1m0 9v1m1 -76v1m0 28v2m0 13v1m0 5v1m0 13v1m0 6v1m1 -58v1m0 16v1m0 13v1m0 3v1m1 -50v1m0 27v1m0 1v1m0 11v1m0 2v1m0 19v1m2 -60v1m1 -1v1m0 21v1m0 11v1m0 25v1m1 -72v1m0 29v1m0 12v1m0 8v1m0 4v1m0 18v1m1 -70v2m0 30v1m0 16v1m0 19v1m1 -59v1m0 20v1m1 -32v1m0 48v1m0 13v1m1 -61v2m0 5v1m0 59v1m1 -57v1m0 13v1m0 14v1m0 7v1m0 2v1m1 -49v1m0 9v1m0 7v1m0 11v1m1 -46v2m0 1v1m0 7v1m0 3v1m0 63v1m2 -69v1m0 44v1m1 -42v1m0 3v1m0 9v1m0 35v2m0 12v1m0 2v1m1 -83v1m0 15v1m0 21v1m0 2v1m0 8v1m0 2v1m1 -50v1m0 2v1m0 36v1m1 -42v1m0 32v1m0 9v1m0 10v1m1 -10v1m0 16v1m0 8v1m1 -74v1m0 5v1m1 49v1m1 -39v1m0 56v1m1 -77v1m0 13v1m0 4v1m0 9v1m0 9v1m0 11v1m0 22v1m1 -75v1m0 18v1m0 36v1m0 21v1m1 -70v1m0 15v1m0 3v1m0 11v1m0 3v1m0 24v1m1 -35v1m0 36v1m0 4v1m0 1v1m1 -8v1m1 -70v1m1 30v1m0 21v1m0 3v1m1 -34v1m0 3v1m0 9v1m0 7v1m0 1v1m0 15v1m1 -19v2m0 8v1m1 -40v1m0 4v1m0 7v1m0 22v1m0 2v1m0 7v1m1 -33v1m0 28v1m1 -64v1m0 15v1m0 5v1m0 5v1m0 30v1m0 11v1m1 -65v1m0 10v1m0 3v1m0 7v1m0 23v1m0 7v1m0 4v1m0 3v1m0 2v1m0 4v1m1 -75v1m0 9v1m0 12v1m16 -32v1m0 4v1m1 56v1m6 -32v1m11 29v1m1 -37v1m0 7v1m0 17v1m0 15v1m0 8v1m2 -76v1m0 17v1m0 2v1m0 44v2m0 12v1m1 -63v1m0 2v1m0 6v1m0 3v1m0 11v1m0 21v1m1 -47v1m0 48v1m1 -55v1m0 31v2m1 -34v1m0 6v1m0 10v1m1 -16v1m0 8v1m1 -18v1m0 1v1m0 26v1m1 -33v1m0 23v2m0 25v1m0 23v1m1 -84v1m0 13v1m0 3v1m0 2v2m0 3v1m0 21v1m0 5v1m0 12v1m0 1v1m1 -62v1m0 12v1m0 30v1m1 -38v1m0 3v1m1 2v1m0 47v1m3 -72v1m0 73v1m2 -70v1m0 13v1m1 24v1m0 7v1m3 1v1m0 12v1m1 -41v1m0 9v1m0 16v1m0 1v1m1 -14v1m0 9v1m0 20v1m0 9v1m1 -59v1m0 27v1m0 17v1m0 3v1m1 -56v1m0 13v1m0 7v1m1 -34v1m0 8v1m0 54v1m0 6v1m1 -81v1m0 13v1m0 45v1m2 -40v1m0 40v1m0 4v1m1 -69v1m0 24v1m0 7v1m0 43v2m1 -78v1m0 30v1m0 28v1m1 -21v1m0 40v1m1 -32v1m1 -50v1m0 9v1m0 3v1m0 1v1m0 17v2m0 2v1m0 16v1m0 2v1m0 16v1m0 2v1m1 -46v1m0 10v1m0 31v1m0 3v1m1 -35v1m0 12v1m0 15v1m0 3v1m1 -70v1m0 36v1m1 -43v1m0 40v1m0 2v1m0 10v1m0 18v1m0 1v1m1 -62v1m0 9v1m0 47v1m1 -80v1m0 9v1m0 15v1m0 12v2m1 -16v1m0 15v1m0 31v1m0 9v1"/>
<path stroke="rgb(208,146,155)" stroke-width="1" d="M331.5 98v1m0 30v1m10 -55v1m3 20v1m1 -20v1m0 11v1m1 -41v1m0 7v1m2 -16v1m3 47v1m1 -11v1m0 26v1m1 -26v1m3 39v1m1 -58v1m1 49v1m1 -61v1m1 11v1m0 36v1m1 -28v1m0 8v1m1 0v1m0 21v1m5 -48v1m0 28v1m2 -35v1m0 74v1m2 -96v1m1 24v1m0 4v1m1 -5v1m0 13v1m0 18v1m0 14v1m0 11v1m1 -62v1m1 36v1m1 -41v1m0 40v1m0 36v1m3 -77v1m0 28v1m2 -1v1m2 -5v1m2 -39v1m0 35v1m0 31v1m1 -46v1m1 -27v1m0 16v1m0 9v1m0 50v1m0 4v1m0 7v1m1 -45v1m0 2v1m1 -10v1m2 17v1m0 23v1m1 8v1m10 -4v1m3 -96v1m3 67v1m2 -46v1m0 31v1m0 16v1m0 3v1m0 13v1m0 5v1m1 -29v1m17 -63v1m1 52v1m20 -55v1m12 49v1m1 12v1m2 -54v1m1 4v1m3 42v1m10 -20v1m1 -11v1m2 25v1m0 24v1m1 -77v1m0 43v1m0 22v1m0 5v1m0 4v1m0 5v1m-151 51v1m13 -6v1m2 -29v1m1 57v1m4 -50v1m0 25v1m0 14v1m0 10v1m0 7v1m2 -45v1m0 9v1m1 16v1m2 -47v1m3 16v1m6 21v1m3 -40v1m4 -5v1m3 -12v1m0 7v1m0 6v1m0 29v1m0 1v1m0 4v1m0 23v1m0 3v1m1 -72v1m0 5v1m2 48v1m1 -6v1m4 -52v1m7 36v1m1 -47v1m0 19v1m33 -19v1m0 3v1m0 52v1m0 1v1m1 6v1m1 -15v1m7 -49v1m1 34v1m4 -15v1m7 -21v1m1 41v1m2 -38v1m1 8v1m0 48v1m0 6v1m3 -71v2m0 41v1m4 -34v1m0 63v1m2 0v1m1 -6v1m2 -73v1m0 48v1m0 6v1m0 9v1m3 -2v1m1 -39v1m1 30v1m1 1v1m1 2v1m2 -67v1m1 8v1m0 1v1m0 26v1m0 2v1m0 21v1m1 -48v1m1 -13v1m0 25v1m2 -18v1m0 37v1m1 4v1m0 18v1m1 -51v1m0 32v1m0 19v1m3 -59v1m5 60v1m3 -82v1m0 2v1m0 26v1m0 47v1"/>
<path stroke="rgb(166,136,183)" stroke-width="1" d="M348.5 47v1m3 47v1m1 -4v1m0 31v1m0 9v1m1 -30v1m5 12v1m11 -66v1m0 28v1m1 17v1m15 -59v1m28 16v1m0 40v1m0 21v1m3 -12v1m1 -18v1m0 8v1m0 12v1m1 -4v1m1 -30v1m0 3v1m1 5v1m1 39v1m1 -88v1m0 30v1m0 26v1m1 -33v1m0 44v1m1 -83v1m0 5v1m0 17v1m0 35v1m0 27v1m1 -87v1m0 67v1m0 19v1m1 -35v1m2 -8v1m0 29v1m1 -79v1m0 1v1m0 6v1m0 13v1m0 16v1m0 7v1m0 5v1m0 15v1m0 2v1m0 2v2m1 -75v1m0 74v1m0 2v1m1 -66v1m0 57v1m0 5v1m1 -13v1m1 -56v1m1 48v1m0 30v1m1 -78v1m1 -17v1m0 21v1m1 -19v1m0 61v1m1 -64v1m0 14v1m0 15v1m0 12v1m0 29v1m0 10v1m1 -67v1m1 -14v1m0 1v1m2 -6v1m0 7v1m0 65v1m1 -72v1m0 58v1m0 14v1m0 11v1m3 -54v2m0 7v1m1 -35v1m1 13v1m0 16v1m0 24v1m1 -16v1m1 -39v1m0 73v1m1 -55v1m1 -6v1m1 48v1m1 4v1m0 8v1m1 -92v1m1 44v1m0 23v1m2 -63v1m0 56v1m1 -72v1m0 5v1m0 33v1m0 24v1m0 25v1m1 -80v1m0 32v1m1 -42v1m3 -1v1m5 41v1m0 26v1m1 -22v1m0 9v1m1 -56v1m0 10v1m0 20v1m0 3v1m1 -43v1m0 7v1m0 81v1m2 -42v1m1 -17v1m0 58v1m1 -54v1m0 5v1m0 31v1m1 4v1m1 -70v1m0 17v1m0 57v1m1 -27v1m0 5v1m0 25v1m1 -47v1m0 3v1m1 26v1m2 -34v1m0 28v1m0 8v1m1 -35v1m0 1v1m1 31v1m1 -25v1m1 -33v1m0 10v1m0 2v2m0 19v1m1 -64v1m0 30v1m0 2v1m0 44v1m-157 77v1m1 -42v1m2 -6v1m2 7v1m0 3v1m0 16v1m0 18v1m1 -31v1m2 11v1m0 30v1m1 -64v1m0 37v1m0 29v1m2 -41v1m0 2v1m1 -27v1m1 -9v1m0 5v1m0 7v1m0 10v1m0 26v1m2 -32v1m0 22v1m13 -48v1m4 39v1m1 -33v1m0 11v1m0 15v1m1 -10v1m0 22v1m2 -43v1m0 22v1m1 16v1m0 12v1m2 -26v1m0 28v1m0 9v1m2 -69v1m0 51v1m3 -54v2m0 5v1m0 34v1m0 8v1m0 12v1m1 -10v1m0 8v1m0 2v1m1 -32v1m2 -13v1m0 1v1m0 17v1m0 13v1m1 -38v1m1 -17v1m0 38v1m0 22v1m1 -52v1m0 19v1m0 35v1m1 -14v1m1 -37v1m0 14v1m1 -30v1m0 39v1m0 20v1m1 -76v1m0 20v1m0 32v1m0 22v1m1 -61v1m0 40v1m2 -33v1m0 13v1m1 -22v1m0 17v1m0 21v1m2 -46v1m0 21v1m0 4v1m0 24v1m1 -53v1m2 32v1m0 27v1m1 -71v1m1 50v1m2 -13v1m0 7v1m3 -36v1m0 53v1m2 -18v1m0 13v1m1 -15v1m1 -26v1m0 6v1m0 16v1m1 -15v1m0 2v1m0 2v1m0 33v1m1 -80v1m1 13v1m1 13v1m0 27v1m1 -44v1m17 27v1m16 -17v1m2 -22v1m0 58v1m0 4v1m0 1v1m2 -57v1m0 36v1m1 -51v1m0 30v1m0 34v1m1 -58v1m0 12v2m0 40v1m1 -54v2m0 11v1m0 16v1m0 18v1m0 1v2m2 -51v1m1 36v1m4 -44v1m4 44v1m9 -54v1m5 52v1m3 -40v1m2 -8v1m0 61v1m3 -18v1m1 -24v1m1 41v1m2 -32v1"/>
<path stroke="rgb(231,180,178)" stroke-width="1" d="M331.5 128v1m1 -40v1m1 25v1m8 -9v1m2 26v1m1 -69v1m0 28v1m1 -13v1m0 34v1m1 -71v1m0 5v1m0 1v1m0 6v1m0 2v2m0 25v1m0 41v1m1 -62v1m0 28v2m0 29v1m1 -67v1m0 4v1m0 6v1m0 25v1m0 15v1m1 -57v1m0 1v1m0 9v2m1 -35v1m0 51v1m0 37v1m1 -98v1m0 12v1m0 4v1m0 42v1m0 4v1m1 -10v1m0 3v1m0 26v1m1 -26v1m1 -9v1m0 18v1m1 -48v1m0 2v1m0 34v1m0 5v1m0 18v1m1 -92v1m0 15v2m0 11v1m0 29v1m0 21v1m1 -37v1m0 9v1m0 14v1m0 2v1m0 2v1m1 -77v1m0 15v1m0 13v2m0 22v1m0 40v1m1 -85v1m0 78v1m1 -65v1m0 2v1m0 24v1m0 31v1m1 -85v1m0 11v1m0 5v1m0 78v1m1 -100v1m0 42v1m1 10v1m2 -56v1m0 70v1m0 2v1m0 8v1m1 -60v1m0 33v1m0 11v1m1 -62v1m0 6v1m0 13v1m0 10v1m0 18v1m0 17v1m0 6v1m0 9v1m1 -66v1m0 19v1m1 -49v1m0 5v1m0 10v1m0 27v1m0 19v1m0 5v1m0 2v1m0 13v1m0 8v1m1 -97v1m0 2v1m0 23v1m0 2v1m0 13v1m0 5v1m0 5v1m1 -49v1m0 28v1m0 20v1m0 3v1m0 23v1m0 7v1m1 -96v1m0 25v1m0 3v1m0 8v1m0 18v1m0 18v1m1 -72v1m0 3v2m0 5v1m0 12v1m0 3v1m0 15v1m0 8v1m0 1v1m0 2v1m0 5v2m0 2v1m0 8v1m0 8v1m1 -95v1m0 23v1m0 5v1m0 52v1m0 14v1m1 -84v1m0 6v1m0 14v1m0 27v1m0 11v1m0 21v1m1 -91v1m0 27v1m0 17v1m0 9v1m1 -53v1m0 38v1m0 18v1m1 -5v1m0 15v1m1 -47v1m0 2v2m1 -29v1m0 4v1m0 55v1m1 -68v1m1 41v1m1 -44v1m0 7v1m0 10v2m2 4v1m0 4v1m0 24v1m0 24v1m1 -51v1m0 30v1m0 27v1m1 -95v1m0 13v1m0 16v1m0 6v1m0 28v1m0 9v1m1 -70v1m0 1v1m0 29v1m0 10v1m0 1v1m0 8v1m1 -3v1m0 6v1m0 20v1m1 -63v1m0 24v1m0 46v1m1 -92v1m0 9v1m0 27v2m0 28v1m0 3v1m0 12v1m1 -74v1m0 52v2m0 9v1m1 -70v1m0 30v1m0 36v1m1 -47v1m0 44v1m1 -65v1m0 59v1m1 -62v1m0 11v1m0 1v1m0 46v1m0 2v1m0 11v1m0 5v1m1 -75v1m0 6v1m0 54v1m2 -55v1m0 43v1m2 -26v1m0 18v1m0 19v1m0 3v1m1 -10v1m1 -82v1m0 81v1m0 12v1m1 -95v1m0 15v1m0 70v1m1 -55v1m0 15v1m0 11v1m0 3v2m0 14v1m0 4v1m1 -32v1m1 -29v1m0 20v1m0 8v1m0 30v1m1 -55v1m2 -34v3m0 6v1m0 20v1m0 13v1m0 11v1m0 4v1m0 7v1m0 23v1m1 -76v2m0 38v1m0 2v1m10 -62v1m25 39v1m0 31v1m1 -73v1m5 -4v1m2 21v1m0 26v1m0 15v1m0 26v1m4 -2v1m2 -26v1m1 -2v1m1 -53v1m0 24v1m0 8v1m1 -51v1m0 99v1m1 -90v1m0 71v1m0 2v1m1 -80v1m0 85v1m1 -86v1m0 17v1m0 11v1m0 15v1m0 21v1m0 15v1m1 -74v1m0 70v1m1 -77v1m0 9v1m0 12v1m0 33v1m0 2v1m0 21v1m0 1v1m0 1v1m1 -83v1m0 45v1m9 26v1m2 -89v1m1 -4v1m0 2v1m1 -3v1m0 3v1m0 35v1m0 4v1m0 27v1m-138 70v1m1 -42v1m0 34v1m0 23v1m1 -29v1m0 6v1m0 7v1m0 10v1m1 -52v2m0 46v1m0 2v1m0 21v1m0 1v1m1 -60v1m0 9v1m0 17v1m0 24v1m0 3v1m1 -72v1m0 6v1m0 21v1m0 45v1m1 -40v1m0 6v1m0 16v1m0 9v1m0 2v1m0 1v1m1 -69v1m0 1v1m0 9v1m0 28v1m0 2v1m0 5v1m0 12v1m1 -60v1m0 5v1m0 4v1m0 21v1m1 -27v1m0 4v1m0 18v1m0 7v1m0 4v3m0 16v1m1 -76v1m0 8v1m0 20v2m0 1v1m0 7v1m1 -22v1m0 1v1m0 2v1m0 43v1m0 2v3m1 -79v1m0 11v1m0 2v1m0 33v1m0 8v1m1 -54v1m0 18v1m0 18v1m0 14v1m0 16v1m0 1v3m1 -73v1m0 13v1m0 9v1m0 32v1m0 9v1m1 -75v1m0 34v1m2 12v1m0 23v1m8 -54v1m0 19v1m1 39v1m2 -84v1m0 28v1m0 44v2m2 -8v1m0 1v1m0 4v1m1 -65v1m0 56v3m0 10v1m1 -37v1m0 1v1m0 23v1m0 6v1m1 -14v1m2 13v1m1 -10v1m7 -29v1m1 34v1m1 -30v1m2 11v1m3 -56v1m0 39v1m0 3v1m2 15v1m2 -59v1m0 26v1m0 1v1m2 -36v1m0 16v1m0 30v1m0 8v1m0 4v1m0 1v1m3 -25v1m1 -3v1m6 30v1m1 -71v1m0 52v1m2 8v1m1 -32v1m0 39v1m3 -16v1m1 23v1m1 -75v1m0 7v1m0 54v1m1 -58v1m0 15v1m0 42v1m1 -28v1m1 33v1m2 -61v1m0 10v1m0 1v1m0 3v1m0 43v1m0 1v1m3 -75v1m1 17v1m0 1v1m0 2v1m0 6v1m1 45v1m2 -65v1m0 5v1m0 2v1m0 32v2m1 -56v1m1 -3v1m0 20v1m0 1v1m0 34v1m1 -26v1m0 14v1m0 5v1m0 21v1m1 -70v1m1 -11v1m0 47v1m0 13v1m2 -30v1m1 -12v1m0 32v1m4 -49v1m0 71v1m1 -52v1m0 39v1m1 -62v1m0 22v1m0 15v1m0 16v1m0 9v1m1 -60v1m1 7v1m2 25v1m0 1v1m2 18v1m1 -41v1m0 17v1m0 2v1m0 29v1m2 -34v1m0 31v1m1 -43v1m1 26v1m0 16v1m1 -48v1m0 19v1m0 9v1m0 9v1m0 4v1m1 -80v1m0 9v1m0 12v1m0 31v1m0 14v1m0 2v1m1 -63v1m0 40v1m0 18v1m0 8v1m1 -80v1m0 5v1m0 46v1m0 13v1m0 12v1m1 -84v1m0 4v1m0 7v1m0 42v1m1 -48v2m1 -10v1m0 2v2m0 11v1m0 1v2m0 4v1m0 10v1m0 10v1m0 1v1m0 28v1m0 4v1m1 -77v1m0 25v1m0 13v1m1 -30v1m0 10v1m0 1v1m0 5v1m0 16v1m0 3v1m0 6v1m0 7v1m0 5v1m1 -71v1m0 56v1m2 -65v1m0 24v2m0 8v1m0 41v1m0 4v1m1 -27v1m0 22v1m1 -73v1m0 2v1m0 29v1m0 3v1m0 4v1m0 7v1m0 16v1m0 1v1m1 -61v1m0 2v1m0 45v2m0 8v1m1 -55v1m0 1v1m0 6v1m0 1v1m0 2v1m0 9v1m0 17v1m0 8v1m0 1v2m0 4v1m1 -61v1m0 14v1m0 20v1m0 1v1m1 -9v1m1 -17v1m0 1v1m0 14v1m0 16v1m0 12v1m1 -77v1m0 31v1m0 18v1m0 24v1m1 -34v2m1 -23v1m0 7v2m0 11v1m0 5v1m0 7v1m1 -41v1m1 -5v1m0 17v1m0 5v1m1 6v1m1 18v1m0 2v1m1 -49v1m0 8v1m0 16v1m1 -35v1m1 -14v1m0 56v1m1 -52v1m0 28v1m0 12v1m0 8v1m0 7v1m0 2v1m0 5v1m1 -65v1m0 15v1m0 32v1m1 -56v1m0 12v1m0 1v1m0 6v1"/>
<path stroke="rgb(120,103,182)" stroke-width="1" d="M354.5 58v1m0 2v1m0 70v1m58 -70v1m0 26v1m0 30v1m0 5v1m0 1v1m1 -93v1m0 15v2m0 5v1m0 2v3m0 8v1m0 10v1m0 4v1m0 2v2m0 2v1m0 4v1m0 4v3m0 8v2m0 1v1m0 1v1m0 2v3m0 5v2m1 -100v1m0 2v1m0 7v1m0 2v2m0 2v2m0 3v4m0 1v1m0 1v1m0 3v3m0 2v1m0 5v1m0 4v1m0 2v4m0 5v1m0 1v1m0 2v1m0 2v2m0 1v1m0 4v1m0 1v1m0 4v1m0 5v1m0 1v1m0 3v1m0 3v1m1 -99v1m0 5v1m0 3v1m0 1v1m0 1v1m0 5v1m0 5v2m0 4v1m0 4v1m0 2v1m0 11v1m0 1v2m0 2v2m0 3v1m0 2v1m0 4v1m0 6v1m0 1v2m0 2v1m0 11v2m1 -95v1m0 4v1m0 1v1m0 1v1m0 7v2m0 8v1m0 1v1m0 3v2m0 5v1m0 1v2m0 17v1m0 6v1m0 3v4m0 7v1m0 1v2m0 4v1m1 -98v1m0 5v1m0 1v1m0 4v1m0 2v1m0 47v1m0 9v1m0 4v1m0 5v1m0 3v1m0 1v1m0 3v1m1 -89v1m0 7v2m0 13v1m0 5v1m0 1v1m0 2v1m0 8v1m0 1v1m0 2v1m0 11v1m0 3v1m0 11v1m0 5v2m1 -83v2m0 1v1m0 6v1m0 6v1m0 7v1m0 2v1m0 14v1m0 1v1m0 5v3m0 2v1m0 2v1m0 2v1m0 5v1m0 4v1m0 11v1m0 6v1m1 -98v1m0 13v1m0 15v1m0 15v1m0 5v1m0 1v1m0 1v1m0 2v1m0 1v1m0 18v1m0 2v1m0 1v1m0 4v2m1 -62v1m0 19v1m0 8v2m0 16v1m1 -76v1m0 7v1m0 3v1m0 28v1m0 2v1m0 4v1m0 7v2m0 12v1m0 15v2m0 1v1m1 -71v1m0 3v2m0 17v1m0 2v1m0 8v2m0 4v1m0 4v1m0 4v1m0 18v2m1 -95v1m0 12v1m0 11v2m0 17v1m0 5v1m0 1v1m0 7v1m0 1v2m0 21v1m0 9v1m0 2v1m1 -95v1m0 21v1m0 9v1m0 12v1m0 1v1m0 5v1m0 25v2m0 1v1m0 6v1m0 1v1m1 -93v1m0 13v1m0 2v2m0 5v1m0 10v1m0 4v1m0 3v1m0 3v1m0 1v1m0 2v1m0 4v2m0 2v1m0 1v2m0 3v1m0 11v1m0 6v1m0 3v1m0 3v1m1 -71v1m0 62v2m1 -81v2m0 18v1m0 5v2m0 7v1m0 1v1m0 2v1m0 10v1m0 4v1m0 14v2m0 1v1m0 3v2m0 1v1m1 -95v1m0 13v1m0 20v1m0 26v1m0 1v1m0 19v2m0 4v2m1 -86v1m0 2v1m0 6v2m0 4v1m0 1v1m0 5v2m0 5v1m0 2v1m0 2v2m0 1v1m0 3v2m0 6v2m0 2v1m0 2v1m0 4v1m0 4v1m0 8v2m0 5v1m0 5v1m1 -99v1m0 5v1m0 1v2m0 8v1m0 2v1m0 3v1m0 4v1m0 1v1m0 2v1m0 4v2m0 2v1m0 5v2m0 10v1m0 3v1m0 5v1m0 4v1m0 6v2m0 5v1m0 5v1m1 -77v2m0 8v1m0 20v1m0 39v2m0 3v1m1 -99v1m0 22v1m0 6v3m0 3v2m0 17v1m0 29v2m0 3v1m0 1v2m0 1v1m0 1v1m1 -95v1m0 11v2m0 16v1m0 7v1m0 7v1m0 7v2m0 37v1m1 -97v2m0 3v1m0 28v1m0 5v1m0 23v1m0 6v1m0 1v1m0 6v1m0 18v3m1 -89v1m0 4v1m0 5v1m0 1v1m0 1v2m0 3v1m0 5v1m0 2v1m0 1v1m0 5v1m0 7v1m0 2v1m0 12v1m0 5v1m0 8v1m0 1v2m0 1v2m0 4v1m1 -82v1m0 6v1m0 1v2m0 11v3m0 2v1m0 11v1m0 2v1m0 1v1m0 2v1m0 21v1m0 3v1m0 6v1m0 1v1m1 -102v2m0 8v1m0 3v1m0 7v1m0 1v2m0 4v1m0 5v3m0 5v1m0 1v1m0 4v1m0 14v1m0 6v1m0 2v2m0 4v1m0 2v1m0 1v1m0 7v2m0 1v1m0 1v1m1 -92v1m0 64v1m1 -42v1m0 8v1m0 2v1m0 19v1m0 7v1m0 25v1m1 -89v1m0 13v1m0 7v1m0 9v1m0 1v3m0 17v2m0 21v1m0 11v1m1 -101v1m0 2v1m0 1v1m0 5v1m0 6v2m0 2v1m0 5v1m0 5v4m0 1v1m0 3v1m0 12v1m0 4v1m0 2v2m0 1v1m0 2v1m0 2v2m0 2v1m0 1v2m0 5v2m0 4v1m0 1v1m0 3v1m0 1v1m1 -96v1m0 5v1m0 1v1m0 1v2m0 1v1m0 6v1m0 32v1m0 2v2m0 2v1m0 8v1m0 7v1m0 3v2m0 10v2m1 -98v1m0 2v1m0 6v3m0 2v2m0 4v1m0 9v1m0 15v1m0 5v1m0 2v4m0 6v1m0 7v1m0 3v1m0 1v1m0 2v2m0 1v2m0 3v1m0 1v1m0 2v2m0 1v1m1 -101v1m0 7v1m0 3v2m0 1v2m0 1v2m0 2v3m0 1v1m0 7v2m0 3v1m0 3v3m0 6v1m0 6v2m0 5v1m0 1v1m0 5v1m0 1v1m0 7v1m0 2v2m0 3v1m0 2v1m0 2v1m3 -72v1m0 7v1m0 29v1m0 12v1m0 3v1m0 2v1m0 10v1m2 -76v1m1 21v1m0 6v1m1 -47v1m0 26v1m0 37v2m0 5v1m0 7v1m0 11v1m1 -49v1m0 14v1m1 -32v1m0 10v1m1 -32v1m0 18v1m0 13v1m0 17v1m1 -46v1m0 26v1m0 24v1m1 -56v2m0 9v1m0 2v1m0 14v1m0 26v1m0 3v1m0 10v1m1 -31v1m0 39v1m1 -98v1m0 11v1m0 2v1m0 9v1m0 1v1m0 7v1m0 2v1m0 7v1m0 3v2m0 17v1m0 4v1m0 13v1m0 4v2m2 -51v1m0 6v1m1 22v1m7 -62v1m0 32v1m1 30v1m0 7v1m0 1v1m1 -77v1m0 54v1m1 -58v1m0 35v1m0 25v3m0 5v1m0 3v1m0 9v1m1 -89v1m0 4v1m0 3v2m0 8v1m0 1v3m0 2v1m0 3v1m0 4v1m0 4v1m0 4v1m0 6v1m0 1v1m0 5v1m0 1v1m0 12v3m0 5v1m0 5v1m0 2v1m1 -82v1m0 19v1m0 6v2m0 1v1m0 51v1m1 -99v1m0 15v1m0 25v1m0 3v1m0 5v2m0 5v2m0 13v1m0 7v2m0 4v1m0 4v1m0 5v1m1 -93v1m0 21v1m0 22v1m0 34v2m0 4v1m0 2v1m1 -70v1m0 18v1m0 40v1m0 5v1m2 -83v1m0 29v1m0 24v1m0 11v1m0 22v1m2 -72v3m2 -19v1m0 15v2m0 19v1m0 1v1m1 -54v2m0 28v1m0 4v3m0 11v1m0 16v2m1 -67v1m0 1v2m0 8v1m0 1v1m0 2v2m0 2v1m0 1v3m0 3v3m0 7v1m0 5v1m0 1v1m0 2v1m0 1v1m0 4v2m0 6v2m0 5v1m0 6v1m0 2v1m0 2v1m1 -87v1m0 11v2m0 4v1m0 13v1m0 47v1m0 11v1m1 -57v1m0 1v1m0 29v1m0 24v1m1 -28v1m0 7v1m-157 65v1m0 11v1m0 12v2m0 1v1m1 -64v1m0 4v1m0 38v1m0 16v1m0 1v1m1 -60v1m0 5v1m0 24v1m0 3v1m0 4v1m0 13v1m0 2v1m0 6v1m1 -67v2m0 1v2m0 3v1m0 1v1m0 2v1m0 2v1m0 2v1m0 1v1m0 1v1m0 4v1m0 8v1m0 7v1m0 3v1m0 1v1m0 2v4m0 11v1m0 3v1m0 3v1m1 -78v1m0 1v1m0 10v1m0 5v1m0 4v1m0 1v1m0 1v1m0 3v2m0 7v2m0 1v1m0 2v1m0 1v1m0 7v1m0 1v2m0 9v1m1 -71v1m0 12v2m0 24v4m0 18v1m0 6v1m1 -69v2m0 1v1m0 3v1m0 12v2m0 4v1m0 1v1m0 4v1m0 5v1m0 7v1m0 2v1m0 3v1m0 2v1m0 1v1m0 2v1m0 11v2m1 -67v1m0 2v1m0 10v1m0 8v1m0 1v2m0 3v2m0 1v2m0 15v1m0 2v1m0 1v1m1 -67v2m0 7v1m0 9v1m0 7v1m0 3v1m0 2v2m0 1v2m0 4v1m0 10v1m0 5v1m0 2v2m0 17v2m1 -84v1m0 10v1m0 6v1m0 14v1m0 2v1m0 4v1m0 1v1m0 17v1m0 2v1m0 13v1m0 2v2m1 -82v1m0 4v1m0 1v4m0 2v1m0 2v1m0 1v1m0 1v1m0 2v2m0 3v1m0 1v1m0 1v1m0 5v1m0 1v1m0 5v1m0 4v2m0 4v2m0 5v1m0 1v1m0 2v1m0 1v3m0 1v2m0 2v4m1 -58v2m0 6v1m0 9v1m0 2v1m0 9v1m0 20v2m0 2v1m1 -79v1m0 9v2m0 9v1m0 3v1m0 3v1m0 3v1m0 5v1m0 1v3m0 2v1m0 4v1m0 5v1m0 13v1m0 3v1m1 -53v1m0 51v1m15 -25v1m0 3v1m3 -30v2m0 2v1m0 10v1m0 11v2m0 10v1m0 11v1m1 -78v1m0 14v1m0 12v1m0 12v5m0 2v2m0 1v2m0 1v2m0 3v1m0 5v1m0 3v1m0 1v1m0 6v1m1 -82v1m0 6v1m1 -5v1m0 17v1m1 -19v1m0 16v1m0 57v1m1 -78v2m0 7v1m0 11v1m0 2v1m0 2v1m0 17v1m0 2v1m0 8v1m0 12v1m0 6v1m0 1v1m0 1v1m1 -12v1m0 10v1m2 -31v1m1 -54v3m0 52v1m0 15v1m0 5v1m2 -77v2m0 5v1m0 20v1m0 34v1m0 13v1m5 -16v1m1 -28v1m2 -19v1m0 10v2m0 4v1m0 10v1m0 13v1m0 4v1m1 -67v1m0 4v1m0 9v1m0 2v2m0 15v1m0 1v1m0 18v2m0 4v1m0 18v1m0 1v1m1 -77v1m1 59v1m1 -59v1m0 1v1m0 71v1m1 -74v1m0 1v1m0 10v1m0 14v1m0 23v1m0 9v1m1 -11v1m0 9v1m1 -64v1m0 1v1m0 7v1m0 5v2m0 7v1m0 16v1m0 1v1m0 7v1m0 1v2m1 -56v1m0 1v1m0 13v1m0 7v1m0 16v1m0 15v1m0 6v1m1 -64v1m0 55v1m1 -32v1m0 28v1m1 -61v1m0 15v2m0 4v2m0 6v1m0 2v1m0 19v1m0 6v1m0 13v1m0 5v1m1 -51v1m0 8v1m0 33v2m1 -39v1m0 3v1m0 33v1m0 2v1m3 -80v2m0 21v1m0 2v1m0 44v1m0 10v1m5 -19v2m2 -33v1m0 40v1m1 -62v1m0 61v2m1 -45v1m0 29v1m0 7v1m1 -72v2m0 12v1m1 -15v1m0 23v1m0 19v1m0 11v1m0 4v1m0 1v1m0 8v1m1 -68v1m0 38v1m0 11v1m1 -56v1m0 11v1m39 47v1m1 -58v2m0 11v3m0 3v1m0 12v1m0 2v1m0 3v1m0 11v1m1 -55v1m0 1v4m0 3v1m0 11v1m0 32v1m2 -45v1m0 5v2m1 -1v1m0 37v1m17 -31v1"/>
<path stroke="rgb(218,193,212)" stroke-width="1" d="M344.5 121v1m1 -78v1m0 13v1m0 14v1m0 17v1m0 3v1m0 1v1m0 35v1m1 -61v1m0 4v1m0 6v1m0 15v1m0 20v1m0 10v1m1 -91v1m0 3v1m0 7v1m0 2v1m1 7v1m0 5v1m0 64v1m1 -66v1m0 55v1m1 -79v2m0 8v1m0 2v1m0 14v3m1 27v1m0 4v1m1 -67v1m0 6v1m0 4v1m0 10v1m0 7v1m0 23v2m0 8v1m0 17v1m0 1v1m0 4v1m1 -79v1m0 1v1m0 23v1m0 3v1m0 25v1m1 -78v1m0 4v1m0 1v1m0 3v1m0 3v1m0 11v1m0 2v1m0 39v2m0 4v1m0 15v1m1 -91v1m0 23v1m0 1v1m0 3v1m0 7v1m0 2v2m0 3v1m0 1v1m0 24v1m0 6v1m0 4v1m0 3v1m1 -84v1m0 5v1m0 26v1m0 8v1m0 8v1m0 29v1m0 5v1m1 -55v1m0 4v1m0 37v1m0 1v1m0 4v1m1 -85v1m0 12v1m0 16v1m0 18v1m0 10v1m0 1v1m0 11v1m1 -69v1m0 5v1m0 1v1m0 1v2m0 9v1m0 3v1m0 46v2m0 8v1m1 -92v1m0 12v1m0 59v1m1 -29v1m0 31v1m0 17v1m1 -79v1m4 27v1m1 -49v1m0 47v1m0 5v1m2 -34v1m0 3v1m0 29v1m0 26v1m1 -75v1m0 45v1m0 19v1m0 8v1m1 -68v1m0 33v1m0 5v1m0 10v1m0 6v1m0 15v1m1 -88v1m0 3v1m0 7v1m0 51v1m0 9v1m0 3v2m0 2v1m1 -86v1m0 20v1m0 58v1m1 -59v1m0 11v1m0 33v1m2 -46v1m3 34v1m4 -9v1m2 22v1m0 15v1m1 -34v1m1 -47v1m0 16v1m0 40v1m0 21v1m1 -93v1m0 3v1m0 6v1m0 1v1m0 12v1m0 3v2m0 20v1m0 1v1m0 11v1m0 16v1m2 -70v1m0 5v1m0 45v1m0 13v1m1 0v1m0 8v1m11 -62v1m3 43v1m5 19v1m1 -89v1m0 11v1m0 17v1m0 14v1m0 12v1m0 28v1m1 -72v1m0 14v1m0 3v1m0 28v1m4 -54v1m0 2v1m0 5v1m1 2v1m0 15v1m0 24v1m4 -65v1m0 2v1m0 10v1m0 2v1m0 4v1m0 9v1m0 8v1m2 -9v1m1 -7v1m1 -24v1m0 20v1m0 1v1m2 -34v1m0 18v1m0 7v1m0 4v1m0 10v1m2 -35v1m0 11v1m2 34v1m1 -40v2m1 1v1m1 -11v1m0 16v1m0 44v1m1 -48v2m0 33v1m4 -60v2m0 1v1m0 2v1m0 12v1m0 8v1m0 60v1m1 -52v1m0 44v1m1 -43v1m0 40v1m2 -76v1m3 14v2m0 2v1m0 40v1m0 1v1m0 3v1m0 17v1m1 -67v1m0 19v1m0 9v1m0 14v2m0 7v1m0 17v1m1 -79v1m1 -2v1m0 7v1m0 22v1m0 9v1m0 6v1m0 6v1m0 24v1m1 -89v1m0 1v1m0 4v1m0 10v1m1 6v1m0 10v1m2 -46v1m0 11v1m0 2v1m0 24v1m0 2v1m0 7v1m0 2v1m0 11v1m0 5v1m0 14v1m1 -81v1m0 2v1m0 6v1m0 5v1m0 45v1m0 4v1m0 20v1m1 -92v2m0 13v1m0 47v1m0 11v1m1 -78v2m0 16v1m0 2v1m0 16v1m0 8v1m0 22v1m0 4v1m0 2v1m2 9v1m1 -89v2m0 53v1m0 2v1m0 15v1m1 -65v1m0 1v1m0 13v1m0 37v1m0 12v1m0 12v1m1 -93v1m0 3v1m0 6v1m0 66v1m0 7v1m0 1v1m0 4v1m0 1v1m1 -83v1m0 57v1m0 1v1m0 19v1m1 -91v1m0 10v1m0 65v1m1 -68v1m0 33v1m0 3v1m1 -45v1m0 39v1m0 12v1m0 7v1m0 12v1m1 -38v1m1 -24v1m0 16v1m0 52v1m0 5v1m1 -99v1m0 4v1m0 7v1m0 29v1m0 4v1m0 7v1m0 2v1m0 15v1m0 14v1m1 -68v1m0 23v1m0 34v2m0 16v1m1 -70v1m0 15v1m0 5v1m1 -53v1m0 7v1m0 6v1m1 -15v1m2 1v1m0 49v2m0 13v1m1 -1v1m0 4v1m1 -57v1m0 58v1m1 -70v1m0 7v3m0 11v1m0 33v1m0 11v1m1 -62v1m0 31v1m0 15v1m0 7v1m2 -59v1m0 6v1m0 18v1m0 7v1m0 23v1m0 20v1m0 5v1m1 -76v2m0 8v1m0 13v1m0 12v1m1 -61v1m0 3v1m0 5v1m0 2v1m0 3v1m0 3v1m0 29v1m0 15v1m0 9v1m0 18v1m1 -29v1m0 13v3m0 15v1m1 -89v1m0 5v1m0 7v1m0 29v2m0 10v1m2 -6v1m0 12v1m0 23v1m1 -95v1m0 8v1m0 30v1m0 6v1m1 8v1m0 8v1m-157 84v1m1 -36v1m3 64v1m1 -9v1m0 3v1m2 -62v1m1 56v1m1 -62v1m2 -9v1m0 1v1m0 45v1m1 -1v1m1 -47v2m0 48v1m0 11v1m1 -67v1m0 2v1m0 20v1m0 18v1m0 14v2m1 -45v1m0 2v1m0 30v1m0 15v1m1 -66v1m0 33v1m0 17v1m0 10v2m1 -64v2m0 9v1m0 28v1m0 37v1m1 -47v1m0 6v1m0 20v1m0 8v1m0 1v1m1 -74v1m0 6v1m0 8v1m0 6v1m0 10v1m1 43v1m2 -80v1m0 3v1m0 2v1m0 8v1m0 52v1m1 -61v1m0 10v1m0 44v1m0 7v1m2 -74v1m0 27v1m0 17v1m0 20v1m1 -39v2m0 23v1m0 3v1m1 -44v1m0 14v1m0 24v2m1 -56v1m0 6v1m0 11v1m0 19v1m0 9v1m0 11v1m1 -56v1m0 45v1m0 27v1m1 -83v2m0 55v1m1 -42v1m0 3v1m1 -20v1m1 8v1m0 3v1m0 17v1m0 7v2m0 17v1m0 4v1m1 -56v1m0 32v1m0 14v1m1 -50v1m0 36v1m0 16v1m0 3v1m0 9v1m2 -73v1m0 28v1m0 8v1m1 -25v1m0 9v3m0 8v1m0 22v1m0 4v1m1 -22v1m0 21v1m0 1v1m0 12v1m1 -67v1m0 10v1m0 6v1m0 39v1m1 -70v1m0 43v1m0 12v1m1 -30v2m0 3v1m1 -25v1m0 2v1m0 27v1m0 29v1m0 6v1m1 -82v1m0 17v1m0 3v1m0 51v1m1 -78v1m0 1v1m0 17v1m0 37v1m1 -38v1m0 15v1m0 12v1m1 -45v2m0 9v2m0 4v1m0 9v1m0 16v1m0 4v1m0 28v1m1 -81v1m0 23v1m1 11v1m1 -7v1m0 37v1m0 3v1m1 -68v1m1 31v1m0 8v1m0 28v1m1 -63v1m0 18v1m0 2v1m1 -18v1m2 1v1m0 14v1m0 3v1m0 15v1m0 8v1m0 4v1m0 1v1m0 8v1m1 -49v1m1 32v1m1 -42v1m0 29v1m0 18v1m1 -55v1m0 7v1m0 27v1m0 18v1m1 -28v1m1 -41v1m1 -4v1m0 9v1m0 3v1m1 57v1m1 -81v1m0 32v1m0 12v1m0 5v1m0 1v1m0 1v1m0 12v1m1 -62v1m0 56v1m1 -34v1m0 19v1m0 18v1m1 -58v1m0 3v1m0 47v1m1 -63v1m0 23v1m0 3v1m0 9v1m0 23v1m0 2v1m0 13v1m1 -79v1m0 33v1m0 16v1m0 5v1m0 2v1m0 15v1m1 -55v1m0 1v1m0 11v1m0 10v2m0 1v2m1 -54v1m0 41v1m0 3v1m0 20v2m1 -68v1m0 17v1m0 5v2m0 10v1m0 5v1m0 25v1m0 10v1m1 -44v1m0 19v1m0 22v1m1 -40v1m0 1v1m0 33v1m0 2v1m1 -76v1m0 24v1m0 3v1m0 8v1m1 -17v1m0 3v1m0 5v1m0 39v1m1 -45v1m1 -25v1m0 14v1m0 27v1m0 11v1m0 11v1m1 -63v1m0 13v1m0 1v1m0 10v2m0 16v1m0 3v1m1 -54v1m1 -12v1m7 74v1m7 -76v1m0 12v1m0 40v1m1 -38v1m0 36v1m4 -38v1m1 -9v1m0 7v1m1 -11v1m0 1v1m10 -5v1m0 32v1m2 -11v1m0 49v2m1 -27v1m0 6v1m1 -53v1m0 52v1m1 -63v1m0 7v1m0 2v2m0 2v1m0 30v1m3 -47v1m0 31v1m0 13v1m0 15v1m0 3v1m0 13v1m1 -43v1m0 1v1m0 12v1m0 11v1m0 13v2m1 -59v1m0 8v1m0 2v1m0 48v1m1 -85v1m0 14v1m0 11v1m0 19v1m0 2v1m0 11v1m0 10v1m0 2v1m1 -47v1m0 45v1m1 -74v1m0 44v1m0 25v1m1 -69v1m0 3v1m0 18v1m0 38v1m0 15v1m1 -70v1m0 37v1m0 7v1m0 3v1m2 11v1m3 -17v2m0 14v1m1 -67v1m0 11v1m0 21v1m3 -41v1m0 60v1m0 13v1m1 -76v1m0 16v1m0 44v1m1 -61v1m0 27v1m1 13v1m0 10v1m1 -23v1m0 14v1m1 -51v1m0 16v1m1 -7v1m0 3v1m0 29v1m0 9v1m0 7v1m0 6v1m0 1v1m1 -57v1m0 8v1m0 18v1m0 14v1m1 -29v1m0 38v1m0 2v1m1 -13v1m0 11v1m1 -72v1m0 10v1m0 1v1m0 8v1m0 6v1m0 23v1m0 13v1m1 -72v1m0 23v1m0 28v1m0 13v1m1 -50v1m0 26v1m0 35v1m1 -80v3m0 15v1m0 26v1m0 3v1m1 -53v1m0 18v1m0 18v1m0 42v1m0 1v1m1 -77v1m0 1v1m0 2v1m0 14v1m0 32v1m1 -48v1m0 1v1m0 17v1m1 -31v1m0 55v1m0 18v1m1 -76v1m0 4v1m0 51v1m1 -59v1m0 5v1m0 8v1m0 4v1m0 49v1m0 5v1m1 -3v1"/>
<path stroke="rgb(219,205,228)" stroke-width="1" d="M344.5 74v1m2 44v1m1 -56v1m0 13v1m0 2v1m0 44v1m0 9v1m1 -35v1m1 22v1m1 -79v1m0 7v1m0 3v1m0 46v1m0 30v1m1 -89v1m0 21v1m0 34v1m0 13v1m0 9v1m1 -94v1m1 43v1m0 6v1m0 1v1m0 3v1m0 3v1m0 10v1m0 14v2m0 10v1m1 -58v1m0 14v1m0 5v1m0 16v1m0 18v1m1 -68v1m0 10v1m0 3v1m0 14v1m1 -50v1m0 22v1m0 2v1m0 1v1m0 8v1m0 3v1m0 7v1m0 23v1m0 10v2m0 1v1m1 -93v1m0 6v1m0 10v1m0 2v2m0 2v1m0 5v1m0 14v1m0 7v1m0 27v1m0 7v1m1 -96v1m0 19v1m0 10v1m0 24v1m0 1v1m0 29v2m1 -70v1m0 20v1m0 14v1m0 40v1m1 -66v1m0 14v1m0 1v2m0 5v1m0 13v1m0 2v1m0 15v1m1 -42v1m1 1v1m5 -41v1m0 3v1m3 -6v1m0 13v1m0 40v1m1 -37v1m1 -33v1m0 23v1m0 33v1m0 24v1m1 -5v1m1 -71v1m0 5v1m0 12v1m0 32v1m0 1v1m0 4v1m0 4v1m0 3v1m0 11v1m5 -82v1m2 43v1m6 19v1m0 1v1m1 -39v1m0 20v1m0 28v1m0 14v1m2 -36v1m0 16v1m0 8v1m0 8v1m2 -12v1m4 -8v1m6 -63v1m0 19v1m9 -37v1m0 2v1m0 8v1m0 1v1m0 10v1m0 21v1m0 5v1m0 7v1m0 12v1m0 6v1m1 -86v1m0 30v1m0 33v1m0 12v1m3 -33v1m1 -30v1m0 12v1m1 -31v1m0 25v1m2 28v1m1 -21v1m0 19v1m1 -45v1m0 13v1m0 41v1m0 32v1m1 -74v1m0 61v1m1 -81v2m0 29v1m2 -10v1m0 2v1m0 19v1m0 17v1m1 -66v1m0 7v1m0 43v1m0 20v1m1 -56v1m0 29v1m0 2v1m0 5v1m0 9v1m1 -56v1m1 1v1m0 11v1m1 -6v1m0 51v1m2 -78v1m0 8v2m0 6v1m0 30v1m1 -27v1m0 2v1m0 39v1m1 -61v1m0 28v1m0 1v1m1 -37v1m0 79v1m2 -68v1m2 -12v1m0 24v1m0 6v1m0 14v1m0 7v1m0 4v1m0 32v1m1 -60v2m1 -35v1m5 7v1m0 9v1m0 8v2m0 10v1m0 26v1m0 4v1m0 2v1m0 4v1m1 -3v1m0 1v3m0 2v1m1 -21v1m1 -70v1m0 20v3m0 15v1m0 16v1m0 28v1m1 -82v1m0 10v1m0 8v1m0 49v1m0 15v2m1 -79v1m0 13v1m0 52v1m0 9v1m0 1v1m1 -57v1m0 17v1m0 3v1m0 17v1m1 -66v1m0 1v1m0 4v1m0 15v1m0 21v1m0 36v1m1 -95v2m0 39v1m0 4v1m0 12v1m0 9v1m0 9v1m0 8v1m0 1v1m1 -67v1m0 26v1m0 29v1m0 12v1m1 -84v1m0 11v1m0 20v1m0 4v1m0 30v1m0 17v2m1 -41v1m0 20v1m1 -62v1m0 2v1m0 2v1m0 4v1m0 18v1m0 9v1m0 1v1m0 5v1m0 21v1m0 3v1m1 -89v1m0 56v1m0 16v1m1 -73v1m0 10v1m0 1v1m0 14v2m0 31v1m1 -42v1m0 2v1m1 -10v1m0 62v3m0 5v1m1 -20v1m0 18v1m1 -58v1m0 37v1m1 -25v1m0 13v1m0 8v1m1 -3v1m0 2v1m1 -73v1m0 2v1m0 25v1m0 2v1m0 13v1m0 4v2m0 23v1m0 2v1m1 -82v1m0 38v1m0 5v1m0 1v1m0 8v1m0 31v1m1 -86v1m0 7v1m0 9v1m0 9v1m0 2v1m0 25v1m0 2v1m0 11v1m0 2v1m0 1v1m0 5v1m1 -85v1m0 4v1m0 1v1m0 25v1m0 11v1m0 48v1m1 -39v1m0 1v1m1 -43v1m0 10v1m0 51v1m2 -70v1m0 7v2m0 68v1m1 -81v1m1 0v1m0 28v1m0 2v1m0 46v1m0 1v1m1 -89v1m0 18v1m0 37v1m0 2v1m1 -2v1m0 4v1m0 19v1m1 -85v1m0 10v2m0 19v1m0 16v1m0 6v1m0 2v1m0 23v1m0 7v1m1 -73v1m0 15v1m0 3v1m0 2v1m0 15v1m1 -54v2m0 24v1m0 5v2m0 1v2m0 1v1m0 4v1m0 9v1m0 13v1m0 7v1m0 13v1m1 0v1m1 -73v1m0 58v1m0 7v1m0 5v1m1 -54v1m0 12v1m1 34v1m1 -76v1m0 12v1m0 20v1m0 5v1m0 15v1m1 -67v1m0 41v1m0 35v1m1 -61v1m0 1v1m0 2v1m0 10v1m0 5v1m0 5v1m0 21v1m-157 39v2m0 34v1m0 3v1m0 10v1m0 12v1m1 -71v1m0 24v1m1 -17v1m0 59v1m2 -60v1m1 -18v1m0 81v2m1 -15v1m1 -32v1m0 30v1m1 -22v1m0 20v1m0 3v1m1 -58v1m0 2v1m0 29v1m1 1v1m1 -3v1m0 23v1m1 -36v1m1 -17v1m0 28v2m0 18v1m1 -36v1m0 7v1m0 37v1m1 -75v1m0 28v1m1 -11v1m0 14v1m0 22v1m1 -19v1m1 -47v2m0 7v1m0 39v1m0 27v1m0 2v1m1 -77v1m2 10v1m1 11v1m0 31v1m1 -14v1m2 -42v1m0 35v1m0 36v1m2 -22v1m1 -49v1m0 15v2m0 38v1m1 -64v1m0 5v1m0 22v1m0 17v1m0 23v1m1 -66v1m0 38v1m0 25v1m1 -40v1m0 27v1m0 7v1m1 -62v1m0 9v1m1 -8v1m0 55v1m1 -67v1m0 49v1m0 21v1m1 -66v2m0 21v1m0 10v1m0 2v1m0 8v1m0 7v1m0 6v1m1 -65v2m0 61v1m1 -69v1m0 25v1m0 7v1m0 2v1m1 -33v2m0 27v1m0 4v1m0 12v2m0 9v1m0 3v1m1 -65v1m0 13v1m0 27v1m1 -41v1m0 10v1m0 10v1m0 8v1m1 -34v1m0 1v1m0 19v1m0 6v1m0 30v1m1 -59v1m0 19v1m0 39v1m1 -39v1m0 1v1m0 1v1m0 10v1m0 10v1m0 7v1m0 9v1m2 -72v1m0 5v1m0 30v1m0 2v1m0 33v1m1 -76v1m0 13v1m0 8v1m0 28v1m0 5v1m0 8v1m0 4v1m1 -60v1m0 5v2m0 13v1m0 9v1m0 1v1m0 33v1m1 -80v1m0 5v1m0 2v1m0 3v1m0 1v1m0 6v1m0 14v1m0 26v1m0 1v1m0 1v1m0 11v1m1 -72v1m0 5v1m0 8v1m0 17v1m1 21v1m0 1v1m0 7v1m1 -30v1m1 -40v1m0 3v1m0 8v1m0 11v1m0 3v1m0 17v1m1 -53v1m0 6v1m0 14v1m0 11v1m0 4v1m0 5v1m0 5v1m0 3v1m0 11v2m0 7v1m1 -29v2m2 -38v1m0 2v1m0 2v1m0 25v1m0 30v1m1 -67v1m0 4v1m0 18v1m0 1v1m0 1v1m0 39v1m1 -43v1m0 6v1m0 29v2m0 2v1m1 -27v1m1 -36v1m0 18v2m0 1v1m0 27v2m0 1v1m0 4v1m1 -29v1m0 32v1m1 -60v1m0 22v1m1 -44v2m0 19v1m0 3v1m0 23v1m0 5v1m1 -31v1m1 -22v1m0 53v1m0 8v1m2 -49v1m0 26v1m0 11v1m0 19v1m1 -81v1m0 1v2m0 10v1m0 1v1m0 6v1m0 6v1m0 2v1m0 2v1m0 1v1m0 13v2m0 26v1m1 -28v1m0 5v1m1 -59v1m0 14v1m0 11v1m0 5v1m0 9v1m0 2v1m0 19v2m0 8v1m1 -63v1m0 37v1m1 -44v1m0 3v1m0 5v1m0 7v1m0 16v1m0 8v2m0 16v1m0 6v1m1 -73v1m0 2v2m0 17v1m0 7v1m0 14v1m0 10v1m0 2v1m1 -60v1m0 15v1m0 33v1m0 6v1m0 3v1m1 -52v1m0 10v1m0 8v1m0 22v1m0 17v1m0 2v1m1 -45v1m0 8v1m0 3v1m0 2v1m0 6v1m0 16v2m1 -44v1m0 44v1m1 -34v1m1 -44v1m0 34v1m0 2v1m0 4v1m0 4v1m1 -49v1m0 21v1m0 23v1m0 4v1m0 11v1m7 -59v1m0 56v2m9 -64v1m0 7v1m0 60v1m1 -9v1m6 -52v1m0 46v1m4 -6v1m6 -44v1m1 25v2m0 5v1m0 7v1m1 -56v1m0 4v1m0 32v2m0 7v1m1 -20v1m0 1v1m0 22v1m0 16v1m1 -67v1m0 21v1m0 8v1m0 9v1m0 2v1m0 3v1m0 7v1m1 -44v1m0 15v1m0 3v1m1 14v1m0 24v2m1 -66v2m0 67v1m1 -67v1m0 19v2m0 1v1m0 30v1m1 -63v1m0 13v1m0 25v1m0 11v1m0 2v1m0 12v1m1 -68v1m0 7v1m0 4v1m0 7v1m0 14v1m0 18v1m0 15v1m1 -79v1m0 1v1m0 19v1m0 3v1m0 32v1m1 -52v2m0 41v1m1 -28v1m1 -19v1m0 21v1m0 25v1m1 -46v1m0 56v1m4 4v1m1 -26v1m1 0v1m0 3v1m4 -19v1m0 7v1m0 11v1m1 -20v1m0 26v1m1 -58v1m0 1v1m0 19v1m0 8v1m0 45v1m1 -53v1m0 32v1m0 18v1m1 -52v1m0 12v1m0 31v1m1 -76v1m0 8v1m0 12v1m0 1v1m0 56v1m1 -66v1m1 16v1m0 18v1m0 9v1m1 -57v1m0 1v1m0 21v1m0 38v1m1 -47v2m0 26v1m0 30v1m1 -58v1m0 1v1m0 37v1m0 8v1m1 -48v1m0 6v1m0 15v1m1 -40v1m0 30v1m0 18v1m1 -58v1m0 20v1m0 3v1m0 4v1m0 8v1m0 1v1m2 -46v2m0 2v1m0 33v1m0 27v1m1 -59v1m0 14v1m0 53v1m1 -69v1m0 30v1m1 -43v1m0 2v2m0 2v1m0 10v1m0 14v1m0 1v1m0 1v1m0 4v1m0 11v1m0 9v1m0 4v1m0 14v1m1 -26v1"/>
<path stroke="rgb(141,124,194)" stroke-width="1" d="M350.5 58v1m3 51v1m0 21v3m59 -83v1m0 32v1m0 3v1m0 1v1m0 1v1m0 1v1m0 22v1m0 6v1m0 4v1m1 -93v1m0 13v1m0 2v1m0 6v1m0 3v1m0 2v2m0 1v1m0 4v1m0 1v1m0 8v2m0 6v1m0 20v1m0 2v1m0 4v1m0 5v1m0 4v1m1 -95v1m0 2v1m0 3v1m0 3v1m0 2v1m0 25v1m0 2v1m0 11v1m0 4v1m0 5v1m0 3v1m0 2v1m0 12v1m0 1v3m0 3v1m1 -101v1m0 11v1m0 6v2m0 4v2m0 6v2m0 10v2m0 2v2m0 2v1m0 2v1m0 3v1m0 6v2m0 8v1m0 4v1m0 2v2m0 9v1m1 -92v1m0 1v2m0 12v1m0 10v1m0 1v1m0 3v1m0 3v1m0 7v2m0 1v1m0 15v1m0 17v1m0 2v1m0 5v1m0 1v1m1 -96v1m0 5v1m0 4v1m0 9v2m0 9v2m0 1v2m0 1v1m0 13v1m0 15v1m0 3v1m0 6v1m0 4v1m0 2v1m0 9v1m1 -100v1m0 1v1m0 1v2m0 7v1m0 2v2m0 2v2m0 3v1m0 5v1m0 6v1m0 2v2m0 3v1m0 11v1m0 4v1m0 1v1m0 12v1m0 5v2m0 4v2m0 1v2m0 2v1m1 -99v1m0 2v2m0 5v1m0 2v2m0 1v1m0 9v2m0 1v1m0 1v2m0 5v1m0 3v1m0 6v1m0 4v1m0 7v1m0 2v2m0 2v1m0 1v1m0 1v2m0 2v1m0 2v1m0 3v1m0 3v1m0 5v1m0 1v3m1 -95v1m0 6v1m0 38v1m0 1v2m0 11v1m0 6v2m0 15v2m1 -88v1m0 14v1m0 6v1m0 39v1m0 10v2m0 3v2m0 11v1m1 -92v1m0 2v1m0 8v2m0 8v1m0 5v1m0 13v1m0 2v1m0 3v1m0 11v1m0 12v1m0 5v1m0 12v3m1 -98v1m0 1v1m0 2v1m0 1v1m0 8v1m0 9v1m0 5v1m0 12v2m0 1v1m0 2v1m0 5v2m0 5v1m0 4v1m0 6v1m0 1v1m0 1v1m0 5v1m0 3v1m0 8v2m1 -97v1m0 12v1m0 6v2m0 2v2m0 6v1m0 12v2m0 14v1m0 19v1m0 2v1m0 1v1m0 3v2m0 1v1m1 -88v1m0 6v1m0 3v1m0 2v1m0 1v1m0 12v1m0 21v1m0 13v2m0 13v2m0 1v1m0 1v1m1 -91v2m0 28v3m0 3v1m0 7v2m0 2v1m0 11v1m0 1v1m0 2v1m0 13v1m0 1v1m0 2v1m0 3v1m0 1v1m1 -60v1m0 1v1m0 6v1m0 30v1m0 7v1m0 1v1m0 11v2m1 -99v2m0 4v1m0 5v1m0 9v1m0 12v2m0 4v1m0 7v1m0 6v1m0 6v1m0 16v1m0 17v1m1 -89v1m0 17v1m0 2v1m0 4v2m0 3v1m0 6v1m0 2v1m0 6v1m0 4v1m0 1v1m0 16v2m0 5v1m1 -91v1m0 7v2m0 1v1m0 3v1m0 19v1m0 10v1m0 9v2m0 9v1m0 5v1m0 8v3m0 6v1m0 2v1m1 -93v3m0 7v1m0 4v1m0 5v2m0 14v1m0 2v1m0 15v1m0 2v1m0 1v1m0 4v1m0 2v1m0 1v1m0 2v1m0 6v1m0 3v1m0 2v1m0 1v1m0 2v1m0 2v2m1 -100v1m0 4v2m0 2v1m0 25v4m0 7v1m0 2v1m0 3v1m0 2v2m0 4v1m0 2v2m0 3v1m0 4v2m0 1v1m0 5v1m0 6v1m0 3v2m0 1v1m1 -99v1m0 22v1m0 10v1m0 2v1m0 9v1m0 1v1m0 3v1m0 10v1m0 5v1m0 8v1m0 7v1m0 9v1m0 1v1m1 -100v1m0 33v1m0 6v1m0 3v1m0 7v2m0 5v2m0 1v1m0 9v1m0 14v2m0 4v1m1 -93v1m0 8v1m0 7v1m0 11v1m0 13v1m0 1v1m0 2v2m0 2v1m0 3v1m0 1v1m0 1v1m0 10v1m0 4v1m0 3v1m0 6v1m0 1v2m0 1v2m1 -97v1m0 1v2m0 7v1m0 3v1m0 1v1m0 1v1m0 7v1m0 6v1m0 5v1m0 2v1m0 1v1m0 2v2m0 7v1m0 5v1m0 1v1m0 4v1m0 10v1m0 1v1m0 3v1m0 8v1m0 2v1m1 -97v1m0 9v1m0 8v1m0 13v3m0 16v1m0 6v1m0 13v1m0 7v1m0 6v1m0 3v1m1 -93v1m0 2v4m0 7v1m0 2v1m0 6v2m0 10v1m0 12v3m0 1v1m0 3v2m0 2v1m0 6v1m0 8v2m0 8v1m0 1v2m0 3v1m0 3v1m1 -102v1m0 41v2m1 -43v1m0 7v1m0 12v1m0 2v1m0 10v1m0 18v1m0 1v1m0 4v1m0 1v1m0 1v1m0 3v1m0 6v1m0 2v1m0 6v2m0 2v1m0 4v1m0 3v1m1 -101v1m0 5v1m0 3v1m0 1v1m0 1v1m0 11v1m0 1v1m0 1v2m0 2v1m0 9v1m0 8v1m0 1v1m0 7v1m0 9v1m0 1v1m0 11v1m0 2v1m0 1v2m0 1v1m0 3v1m1 -96v1m0 5v1m0 2v2m0 2v1m0 3v1m0 1v1m0 2v2m0 1v3m0 12v2m0 1v2m0 2v1m0 1v1m0 4v1m0 9v1m0 3v1m0 2v1m0 2v1m0 9v1m0 1v1m1 -79v1m0 1v1m0 2v1m0 1v1m0 3v2m0 2v1m0 6v1m0 4v1m0 12v1m0 1v1m0 2v1m0 1v2m0 3v1m0 1v1m0 4v2m0 4v1m0 3v1m0 6v2m0 2v1m1 -87v1m0 4v1m0 9v1m0 5v1m0 2v1m0 4v1m0 5v1m0 1v1m0 33v1m0 1v1m0 4v1m0 5v1m0 3v1m0 2v1m1 -98v1m0 3v2m0 23v2m0 24v2m0 1v1m0 4v1m0 10v1m0 1v1m0 1v1m0 5v1m0 2v1m0 2v2m0 6v1m0 1v1m1 -84v1m0 71v1m1 -89v1m0 12v1m0 1v1m0 10v1m0 55v1m1 -83v1m0 3v1m0 6v1m0 1v3m0 4v1m0 1v1m0 1v1m0 8v1m0 4v1m0 2v1m0 7v3m0 31v2m0 7v1m0 1v1m0 2v3m1 -101v2m0 78v1m1 -44v2m0 29v1m0 10v1m1 -74v1m0 11v1m0 31v1m0 2v1m0 5v1m0 30v1m1 -72v1m0 1v1m0 11v1m0 3v1m0 12v1m0 8v1m0 5v2m0 7v1m0 4v1m1 -71v1m0 18v1m0 21v1m0 6v1m0 4v2m0 1v2m0 16v1m0 6v1m2 -81v1m0 23v1m0 4v1m0 3v1m0 1v1m0 1v1m0 8v1m0 2v1m0 17v1m0 5v1m0 4v1m0 2v3m0 7v1m1 -102v1m0 9v1m0 2v1m0 4v1m0 17v1m0 54v1m1 -92v1m0 9v1m0 3v2m0 3v1m0 8v1m0 2v1m0 5v1m0 11v2m0 10v1m0 4v1m0 10v1m0 11v1m0 4v1m0 4v2m1 -46v1m0 33v1m0 3v1m1 -80v1m0 7v3m0 1v1m0 3v1m0 2v2m0 4v1m0 5v1m0 3v1m0 2v1m0 1v1m0 6v1m0 8v1m0 10v1m0 1v2m0 12v2m1 -77v1m0 11v1m0 32v1m0 4v1m0 19v1m1 -69v1m0 8v1m0 66v1m6 -30v1m2 7v1m1 -67v1m0 8v1m0 16v1m0 5v2m0 24v1m0 20v1m0 1v1m0 3v3m1 -75v1m0 15v2m0 31v1m0 10v1m0 6v1m0 5v1m1 -89v1m0 13v2m0 1v1m0 14v2m0 21v1m0 13v1m0 3v1m0 16v1m1 -102v1m0 1v2m0 3v1m0 9v2m0 3v1m0 2v1m0 6v2m0 3v1m0 1v1m0 1v1m0 2v1m0 2v2m0 3v1m0 10v1m0 6v2m0 7v1m0 13v1m0 4v3m1 -79v1m0 3v1m0 15v1m0 2v1m0 1v1m0 10v3m0 1v1m0 2v2m0 4v1m0 9v1m0 1v1m0 15v2m1 -87v1m0 15v1m0 5v1m0 1v1m0 4v2m0 10v1m0 6v1m0 1v1m0 16v1m0 19v1m1 -74v1m0 8v1m0 7v1m0 3v1m0 4v1m0 4v1m0 22v2m0 1v1m1 -81v1m0 48v1m0 33v1m0 5v1m1 -90v1m0 12v1m0 7v1m0 51v1m1 -51v1m0 10v1m0 11v1m0 20v1m0 1v1m0 10v2m0 4v1m0 8v1m1 -94v1m0 49v1m0 22v1m1 -2v1m0 20v1m2 -100v2m0 12v1m0 16v1m0 19v1m0 14v2m0 11v1m1 -79v2m0 2v1m0 14v2m0 2v1m0 6v1m0 5v1m0 15v1m0 19v1m0 7v2m0 14v1m1 -94v1m0 10v2m0 3v1m0 12v1m0 8v3m0 6v1m0 1v1m0 14v1m0 4v1m0 4v1m0 4v1m0 4v1m0 3v2m0 5v2m1 -91v1m0 2v1m0 7v1m0 2v1m0 4v1m0 4v1m0 2v1m0 6v1m0 3v1m0 1v1m0 14v1m0 2v1m0 1v1m0 2v1m0 15v1m1 -79v2m0 8v1m0 2v1m0 9v1m0 1v1m0 25v1m0 3v1m0 1v1m0 10v1m0 13v1m1 -57v1m0 28v1m-157 37v2m0 17v1m0 14v1m0 36v1m1 -73v1m0 4v1m0 4v1m0 2v1m0 22v1m0 1v1m0 1v1m0 26v1m0 1v2m1 -71v2m0 13v2m0 5v2m0 2v1m0 2v1m0 2v1m0 6v1m0 3v2m0 4v1m0 3v1m0 3v2m0 8v2m0 2v1m0 4v1m1 -77v1m0 1v1m0 15v1m0 1v1m0 7v1m0 1v1m0 4v1m0 20v1m0 6v1m0 3v1m0 1v1m0 4v1m0 2v1m1 -74v1m0 3v1m0 5v1m0 4v3m0 4v1m0 3v1m0 10v1m0 22v1m0 2v1m0 3v1m1 -63v1m0 3v1m0 1v1m0 9v2m0 6v3m0 2v1m0 7v1m0 3v2m0 1v1m0 2v1m0 2v1m0 3v1m0 3v1m0 10v1m1 -77v1m0 2v1m0 1v1m0 3v1m0 7v1m0 2v1m0 7v1m0 1v1m0 2v1m0 5v1m0 4v1m0 5v1m0 1v1m0 4v1m0 1v1m0 1v1m0 2v1m0 2v1m0 1v1m0 4v1m0 4v1m1 -76v1m0 21v3m0 27v2m1 -57v1m0 3v1m0 4v1m0 1v1m0 1v1m0 6v1m0 1v3m0 1v1m0 7v1m0 3v2m0 8v1m0 1v2m0 13v1m1 -56v1m0 1v1m0 8v3m0 1v1m0 1v1m0 2v1m0 2v1m0 3v1m0 2v1m0 10v1m0 8v2m0 1v2m0 12v1m1 -75v1m0 1v1m0 4v1m0 3v1m0 3v1m0 15v1m0 9v1m0 7v3m0 9v1m1 -58v3m0 6v1m0 12v1m0 5v1m0 18v1m0 3v1m0 3v1m0 5v2m0 8v1m0 2v1m1 -83v2m0 6v1m0 1v1m0 1v1m0 9v1m0 7v1m0 3v1m0 5v1m0 6v1m0 8v2m0 4v2m0 1v1m0 4v2m0 10v1m1 -84v1m0 13v1m0 10v1m0 34v1m0 5v1m0 3v1m2 -18v1m13 -1v1m0 3v2m0 1v1m1 -43v1m0 25v1m0 15v2m0 10v1m1 -1v1m1 -67v1m0 6v1m0 4v1m0 23v1m0 3v1m0 1v2m0 2v1m0 3v1m0 25v1m1 -78v1m0 1v1m0 1v1m0 7v1m0 7v1m0 11v1m0 12v1m0 6v1m0 9v2m0 3v1m0 5v2m1 -80v1m0 1v1m0 1v1m0 2v1m0 36v1m0 11v1m0 9v1m1 -68v1m0 21v1m0 30v1m0 20v1m0 4v3m1 -67v2m0 10v1m0 45v2m0 7v1m1 -78v1m0 17v1m0 20v2m0 6v2m0 2v2m0 4v1m0 9v1m0 2v2m0 1v1m0 2v1m1 -67v1m0 10v1m0 11v1m0 25v1m0 9v1m1 -50v1m1 30v1m0 16v1m1 -70v1m0 26v1m0 13v1m0 8v2m2 -55v1m0 20v1m0 15v1m0 33v1m2 -37v1m1 -30v1m0 48v1m1 -50v1m1 18v1m0 15v1m0 10v1m0 2v1m0 17v1m0 5v1m1 -79v1m0 16v1m1 -11v1m1 -8v1m0 12v1m0 4v1m0 7v1m0 3v1m0 5v1m0 11v2m0 1v1m0 8v1m0 10v1m0 6v1m1 -75v1m0 4v1m0 4v1m0 12v1m0 3v1m0 19v1m0 7v1m0 6v1m0 2v1m1 -70v2m0 1v2m0 39v1m0 12v1m0 15v2m0 7v1m1 -79v1m0 41v1m0 19v1m0 15v1m1 -75v1m0 2v1m0 10v1m0 35v1m0 6v2m1 -69v1m0 6v1m0 5v1m0 11v1m0 28v2m0 4v1m0 3v1m0 1v1m0 7v1m0 8v1m1 -77v1m0 2v2m0 21v1m0 37v1m1 -65v2m0 11v1m0 3v1m0 2v1m0 27v1m0 6v1m1 -62v1m0 2v1m0 1v2m0 11v1m0 1v1m0 5v1m0 16v1m0 7v1m0 2v2m0 6v1m0 6v1m1 -66v2m0 68v1m1 -72v2m1 -3v1m0 1v1m0 1v1m0 7v1m0 3v1m0 2v1m0 5v1m0 3v1m0 5v1m0 26v4m0 3v3m0 5v2m0 1v1m1 -62v1m0 2v3m0 5v1m0 2v1m0 17v1m0 7v1m0 4v1m0 1v1m1 -56v1m0 11v1m0 28v1m0 28v1m1 -73v4m0 19v1m0 3v2m0 32v1m0 8v1m0 1v1m1 -83v1m0 39v1m1 -24v1m0 6v1m0 19v3m0 2v1m0 10v1m0 17v1m1 -66v1m0 11v1m0 17v1m0 1v1m1 -2v1m0 14v1m2 -56v1m0 67v1m1 -56v1m0 15v1m0 23v1m0 8v1m1 -12v1m1 -52v1m0 70v1m1 -65v1m0 3v1m0 46v1m0 16v1m1 -81v1m0 14v1m0 28v1m0 11v1m1 -55v1m0 30v2m0 21v2m0 10v1m0 1v2m1 -71v1m0 1v1m0 18v1m0 34v1m0 2v1m0 13v1m0 8v1m1 -76v1m0 3v1m0 44v1m0 3v1m0 1v1m1 -59v1m0 8v2m0 15v1m0 12v1m0 16v1m38 -38v1m0 3v1m0 26v1m1 -54v1m1 4v2m0 21v1m0 3v2m0 1v2m0 3v1m0 3v1m0 2v1m0 18v1m0 13v1m1 -64v1m0 15v1m0 3v1m0 20v2m2 -59v3m0 6v1m0 9v1m0 2v1m0 17v1m0 12v2m0 9v1m2 -63v1m3 15v1m7 41v1m6 -1v1m2 0v1m1 -45v1m0 10v1m10 19v1m0 4v1m0 23v1m3 -54v1"/>
<path stroke="rgb(233,120,92)" stroke-width="1" d="M331.5 37v2m0 17v1m0 2v1m0 8v1m0 2v1m0 1v1m0 9v2m0 11v1m1 -56v2m0 7v1m0 4v2m0 9v1m0 5v2m0 4v1m0 8v1m0 11v2m0 4v1m0 5v1m0 6v1m0 1v1m0 1v1m1 -87v1m0 11v1m0 9v1m0 2v1m0 10v1m0 2v2m0 14v1m0 7v1m0 4v2m0 8v1m0 2v1m1 -82v1m0 24v1m0 16v1m0 2v1m0 6v1m0 2v1m0 8v1m0 2v1m0 17v1m0 4v1m1 -88v1m0 4v1m0 4v1m0 50v1m0 20v1m0 15v1m1 -101v1m0 16v1m0 18v1m0 6v1m0 12v1m0 8v1m0 1v2m0 1v1m0 7v1m0 10v1m0 2v1m1 -75v1m0 13v1m0 5v1m0 1v1m0 2v1m0 8v2m0 2v1m0 2v1m0 22v1m0 8v1m0 1v1m0 1v2m0 3v1m1 -101v2m0 2v1m0 38v1m0 6v2m0 3v1m0 12v1m0 1v1m0 14v1m0 13v2m1 -97v1m0 8v1m0 8v1m0 14v1m0 5v1m0 9v1m0 4v1m0 6v1m0 9v1m0 3v1m0 4v1m0 1v1m0 4v1m0 5v1m0 1v1m1 -84v1m0 5v1m0 12v1m0 1v1m0 1v1m0 6v1m0 23v1m0 3v1m0 4v1m0 16v1m0 3v1m1 -101v1m0 10v1m0 8v1m0 2v1m0 4v1m0 16v1m0 12v1m0 23v1m0 2v2m1 -82v1m0 2v1m0 2v2m0 23v2m0 13v1m0 10v1m0 1v1m0 2v1m0 6v1m0 3v1m0 5v1m0 1v1m0 12v1m1 -100v1m0 2v1m0 35v1m0 7v1m0 12v1m1 -62v1m0 27v1m2 40v1m1 8v1m1 -4v1m0 22v1m1 -29v1m12 4v1m1 -37v1m0 9v1m0 15v1m1 -56v1m0 20v1m0 33v1m0 15v1m0 7v1m0 9v1m1 -92v1m0 8v1m0 5v1m0 3v1m0 11v2m0 8v1m0 23v1m0 10v1m0 9v1m0 6v1m1 -48v1m0 5v1m0 11v1m0 23v1m0 3v1m1 -99v1m0 4v2m0 11v1m0 22v2m0 33v1m0 20v1m1 -81v1m0 24v1m1 -26v1m0 19v1m0 3v1m0 10v2m0 4v1m0 5v1m0 4v1m1 -35v1m3 2v1m3 -40v1m0 15v1m0 11v1m0 1v1m0 48v1m0 4v2m1 -83v1m0 7v1m0 3v1m0 11v1m0 10v1m0 3v1m0 31v1m1 -65v1m0 10v1m0 5v1m0 2v1m0 16v1m0 46v1m1 -95v3m0 7v1m0 11v2m0 4v2m0 3v2m0 11v2m0 6v1m0 3v1m0 5v1m0 14v1m0 1v1m0 2v2m0 8v1m0 2v1m1 -68v1m0 1v2m1 -29v1m0 5v1m0 16v1m0 4v1m0 40v1m0 6v1m0 2v1m1 -82v1m0 7v1m0 7v2m0 24v1m0 18v1m0 12v1m1 -63v1m0 2v1m0 12v1m0 27v1m0 5v1m0 3v1m0 12v1m0 4v1m1 -89v1m0 18v1m0 45v1m0 11v2m0 1v1m1 -80v1m0 2v1m0 11v1m0 3v1m0 9v1m0 17v1m0 11v1m0 14v1m0 2v1m0 14v1m0 4v1m1 -2v1m1 -49v2m0 40v2m0 5v1m1 -79v1m0 44v1m2 -56v2m0 1v1m0 15v1m0 13v2m0 9v1m0 21v1m0 21v1m2 -89v1m0 45v1m1 -57v1m0 2v2m0 3v1m0 46v2m1 -48v1m0 1v1m0 2v1m0 3v1m0 9v1m0 3v1m0 5v1m0 26v1m0 2v2m0 1v3m0 1v1m1 -74v1m0 1v1m0 21v1m0 1v1m0 3v1m0 7v1m0 16v1m0 10v2m0 3v1m0 1v1m0 15v1m0 6v1m1 -97v1m0 10v1m0 1v1m0 1v1m0 8v1m0 15v1m0 21v1m0 2v1m0 21v1m1 -50v2m0 22v1m1 -45v1m0 5v1m0 8v1m0 2v1m0 10v1m0 1v1m0 4v1m0 1v1m0 3v1m0 15v1m0 1v1m0 4v1m0 11v1m1 -97v1m0 4v1m0 4v2m0 2v1m0 8v1m0 6v1m0 1v1m0 7v2m0 5v1m0 2v1m0 19v1m0 16v1m0 9v1m1 -94v2m0 12v1m0 7v1m0 9v1m0 4v1m0 1v1m0 2v1m0 12v1m0 3v1m0 5v1m0 2v1m0 6v1m0 5v1m0 11v1m0 2v1m1 -78v1m0 3v1m0 32v1m0 14v1m0 7v1m0 16v1m1 -100v1m0 14v1m0 10v1m0 15v1m0 35v2m1 -80v1m0 6v1m1 33v1m0 16v1m0 15v1m0 3v1m1 -50v2m0 13v1m0 8v1m0 3v1m0 1v1m0 10v1m0 8v1m0 13v1m1 -76v1m0 3v2m0 4v1m0 13v1m0 15v1m1 -45v2m0 11v2m0 17v1m0 9v1m0 1v1m0 12v1m0 2v1m0 1v1m0 4v2m0 9v2m0 3v2m1 -90v1m0 5v1m0 8v1m0 15v1m0 1v1m1 -36v1m0 16v1m0 4v3m0 35v1m0 27v1m0 3v1m1 -95v1m0 4v2m0 3v1m0 1v1m0 10v1m0 2v1m0 1v1m0 5v1m0 3v1m0 11v1m0 2v1m0 3v1m0 1v1m0 13v1m1 -54v1m53 20v1m0 20v1m1 8v2m1 -61v1m1 -8v1m0 44v1m0 33v1m2 -8v1m-121 91v1m6 5v1m2 -61v1m19 -7v1m38 -2v1m0 10v1m0 3v1m0 5v2m0 1v1m0 12v2m0 34v1m1 -85v1m0 8v1m0 5v1m0 22v1m0 1v2m0 9v1m0 3v1m0 12v1m0 15v1m1 -82v1m0 17v1m0 5v1m0 1v1m0 4v1m0 1v1m0 2v1m0 6v1m0 3v1m0 3v1m0 2v2m0 6v1m0 18v1m1 -81v1m0 8v1m0 1v1m0 8v1m0 3v2m0 15v1m0 3v1m0 7v2m0 2v1m0 1v1m0 1v1m0 9v1m0 6v1m1 -79v1m0 2v1m0 11v1m0 1v1m0 14v2m0 8v1m0 2v1m0 10v1m0 16v1m0 1v1m1 -77v1m0 14v1m0 3v1m0 3v1m0 1v1m0 3v1m0 21v1m0 3v1m1 -55v1m0 30v2m0 16v1m0 30v1m1 -83v1m0 29v1m0 2v1m0 1v3m0 18v1m0 12v1m1 -70v1m0 1v2m0 5v1m0 6v1m0 3v1m0 13v1m0 3v1m0 13v1m0 25v3m1 -78v1m0 10v1m0 32v1m0 1v2m0 10v1m0 18v2m1 -83v2m0 2v1m0 14v1m0 1v1m0 3v1m0 23v1m0 12v1m0 5v1m1 -68v1m0 10v1m0 12v1m0 4v1m0 14v1m0 2v1m0 3v1m0 1v1m0 12v1m0 3v1m0 4v2m0 2v1m1 -19v1m0 11v1m1 -27v1m0 15v1m1 -43v1m0 15v1m0 9v2m0 8v1m0 6v1m0 5v1m1 -26v1m1 -14v1m0 17v1m1 -52v1m0 23v1m0 10v1m0 11v1m0 6v1m0 14v2m1 -57v1m0 36v1m0 23v1m0 1v1m0 3v1m1 -61v1m0 29v1m0 4v1m0 23v1m1 -82v2m0 30v1m0 34v1m1 -39v1m0 1v1m0 20v1m0 19v1m1 -65v1m0 21v1m0 44v1m1 -76v1m0 8v1m0 7v1m0 6v1m0 4v1m0 8v2m0 1v1m0 1v2m0 28v1m0 4v1m1 -64v1m0 2v1m0 5v1m0 1v1m0 15v1m0 9v4m0 1v1m0 9v1m0 3v1m0 3v1m0 2v2m1 -76v1m0 2v2m0 3v1m0 12v2m0 8v1m0 19v1m0 25v1m1 -42v1m0 30v2m0 4v1m1 -77v1m0 15v1m0 10v1m0 2v1m0 7v1m0 25v1m1 -63v1m0 4v1m0 6v1m0 45v1m0 12v1m0 2v1m1 -76v3m0 2v2m0 2v1m0 5v3m0 3v1m0 8v1m0 3v1m0 5v1m0 6v1m0 16v1m0 2v1m0 3v3m0 6v1m1 -74v1m0 10v1m0 3v2m0 8v1m0 9v1m0 7v1m0 6v1m0 1v1m0 8v1m0 1v1m1 -63v1m0 12v1m0 13v1m0 14v1m0 4v1m0 14v1m0 10v1m1 -1v1m3 -9v1m13 -52v1m0 1v1m0 13v1m0 8v1m1 -26v2m1 -9v1m0 5v2m0 1v1m0 55v1m1 -1v1m1 -75v1m0 5v1m0 9v1m1 43v1m1 -61v1m0 6v2m0 7v2m0 7v1m0 1v2m0 2v1m0 1v1m0 36v1m1 -72v1m0 13v1m0 1v2m0 8v2m0 4v1m0 3v1m0 2v1m0 15v1m0 6v2m1 -57v1m1 67v1m1 -69v1m0 43v1m2 -57v1m4 57v1"/>
<path stroke="rgb(195,181,221)" stroke-width="1" d="M344.5 107v1m1 -34v1m2 -18v1m0 24v1m3 -29v1m0 9v1m0 5v1m0 36v2m0 22v1m1 -60v1m0 1v1m0 46v1m1 -64v1m0 9v1m0 3v1m0 14v1m0 27v2m0 3v1m1 -74v2m0 2v1m0 6v1m0 9v3m0 35v1m0 5v1m0 5v1m0 4v1m0 11v1m1 -99v1m0 3v1m0 28v1m0 4v1m0 12v1m0 10v1m0 21v1m0 5v1m0 6v1m1 -97v2m0 10v2m0 5v1m0 13v1m0 3v1m0 14v1m0 14v1m0 30v1m1 -86v1m1 12v1m0 36v1m0 30v1m1 -91v1m0 54v1m0 8v1m0 2v1m0 13v1m1 -66v1m0 29v1m1 5v1m1 -35v1m8 -24v1m0 20v1m0 28v1m0 5v1m0 8v1m0 10v1m0 5v1m2 -59v2m1 6v1m0 1v1m0 30v1m1 -14v1m0 42v1m1 -50v1m0 16v1m14 -52v1m0 10v1m0 37v1m0 6v1m0 9v1m0 10v1m2 -86v1m0 10v1m0 21v1m0 16v1m21 -49v1m0 52v1m0 20v1m1 -80v1m0 1v1m0 9v1m0 5v1m0 5v1m0 2v1m0 20v1m0 27v1m0 2v1m0 13v1m1 -84v1m0 27v1m0 24v1m0 4v1m0 5v1m0 20v1m1 -23v1m1 -72v1m0 2v1m0 20v1m0 19v1m1 -5v1m0 13v1m0 26v1m1 -60v1m0 26v1m0 47v1m1 -102v1m0 22v1m1 -19v1m0 18v1m1 -18v1m0 1v2m0 12v1m0 11v1m0 9v1m0 2v1m0 52v1m1 -91v1m0 12v1m0 5v1m0 15v1m0 36v1m0 6v1m0 5v2m0 1v1m1 -90v1m0 3v1m0 11v1m0 51v1m0 8v1m1 -68v1m0 53v1m0 22v1m1 -95v1m0 4v1m0 3v2m0 34v1m0 7v1m0 22v1m0 3v1m1 -80v1m0 8v1m0 15v1m0 49v1m0 2v1m0 15v1m0 1v1m1 -84v1m0 34v1m0 38v1m1 -86v1m0 6v2m0 1v1m0 11v3m0 16v1m0 4v1m0 7v1m0 5v1m0 4v1m0 11v1m0 2v1m0 3v1m1 -87v1m0 7v1m0 8v1m0 46v1m0 1v1m0 21v1m0 4v1m1 -87v1m0 1v1m0 5v1m0 25v1m0 33v2m0 1v1m0 18v1m1 -75v1m0 2v1m0 19v1m0 24v1m0 21v1m0 3v1m1 -41v1m0 14v1m0 6v1m1 -82v1m0 6v1m0 19v1m0 31v1m0 3v1m0 9v1m0 6v1m0 6v1m1 -88v1m0 5v1m0 3v1m0 4v3m0 24v1m0 34v1m0 19v1m0 1v1m1 -95v1m0 5v1m0 4v1m0 46v1m0 1v1m0 3v1m0 7v1m0 6v1m1 -71v1m0 2v1m0 3v1m0 15v1m0 16v1m0 11v1m0 28v1m1 -88v1m0 41v1m0 45v1m1 -98v1m0 95v1m1 -86v1m0 34v1m1 -34v1m0 9v2m0 1v1m0 11v1m0 18v2m0 5v1m0 5v2m0 9v1m0 8v1m0 5v2m1 -69v1m0 3v1m0 3v1m1 -37v1m0 1v2m0 54v1m0 17v1m0 3v1m1 -33v1m0 9v1m1 -25v1m0 5v1m0 24v1m1 -67v1m1 46v1m0 24v1m0 5v1m1 -66v1m0 1v1m0 1v1m0 2v1m0 6v1m0 9v1m0 27v1m0 10v1m0 4v1m0 1v1m1 -83v1m0 14v1m0 4v1m0 10v1m0 19v2m0 9v1m0 35v1m1 -95v2m0 29v1m0 3v1m0 13v1m0 32v1m1 -86v1m0 8v1m0 17v1m0 14v1m0 6v1m0 1v1m0 2v1m0 24v1m0 11v1m0 6v1m1 -100v1m0 2v1m0 1v1m0 33v1m0 2v1m0 10v1m0 2v2m0 1v1m0 12v1m0 9v1m1 -62v2m0 1v1m0 10v1m0 7v1m0 12v1m0 6v1m1 -50v1m0 12v1m0 45v2m0 9v1m0 8v1m1 -95v1m0 28v2m0 5v1m0 1v1m0 12v1m0 35v1m0 11v1m1 -71v1m0 19v1m0 5v1m0 29v1m1 -78v1m0 10v1m0 29v2m0 3v1m0 10v2m0 30v1m1 -79v1m0 8v1m0 7v1m0 2v1m0 15v1m0 13v1m0 27v1m1 -95v1m0 7v2m0 7v1m0 12v1m0 1v1m0 11v1m0 4v1m0 29v1m0 1v1m1 -85v1m0 2v1m0 20v1m0 1v2m0 36v1m0 3v1m0 1v1m0 1v1m0 5v2m0 1v1m0 2v1m0 15v1m1 -99v1m0 7v1m0 20v1m0 11v1m0 34v1m1 -48v1m0 20v1m0 5v1m0 6v1m0 6v1m0 19v1m1 -93v1m0 14v2m0 18v1m0 1v1m0 3v1m0 9v1m0 13v1m0 25v2m0 4v1m1 -76v2m0 64v1m3 -77v1m1 -14v1m1 44v1m1 12v1m1 -21v1m0 3v1m0 33v1m0 4v1m0 16v3m1 -93v1m0 5v1m0 21v1m0 5v1m0 19v1m0 1v2m0 1v1m0 10v2m0 3v1m0 2v1m0 6v1m1 -88v1m0 7v1m0 8v1m0 30v1m0 13v1m0 16v1m0 15v1m1 -101v1m0 13v1m0 1v1m0 5v1m0 9v2m0 16v1m0 2v1m0 7v1m0 1v1m0 21v1m0 12v1m1 -66v1m0 21v1m0 12v1m0 15v1m0 6v1m1 -90v1m0 5v2m0 16v1m0 7v1m0 17v1m0 20v1m0 11v1m0 10v1m1 -89v1m0 2v1m0 4v1m0 2v1m0 10v1m0 33v1m0 2v2m0 20v1m0 5v1m1 -97v1m0 14v1m0 9v1m0 1v1m0 5v1m0 8v1m0 7v1m1 -23v2m0 3v1m0 8v1m0 4v1m0 3v1m0 15v1m0 24v1m0 4v1m1 -96v1m0 8v1m0 7v1m0 3v1m0 11v1m0 3v1m0 4v1m0 4v1m0 11v1m0 5v1m0 15v1m0 10v1m1 -95v1m0 22v1m0 6v1m0 4v1m0 11v1m0 1v1m0 9v1m0 4v1m0 14v2m0 13v1m0 3v2m1 -99v1m0 3v1m0 14v1m0 1v1m0 3v1m0 8v1m0 5v1m0 23v1m0 11v1m0 1v1m0 1v1m0 4v1m0 5v1m0 2v2m0 4v1m1 -99v1m0 10v1m0 4v1m0 9v1m0 16v1m0 6v1m0 11v2m0 5v1m0 13v1m0 10v1m0 1v1m1 -69v1m1 -28v1m0 1v1m0 3v1m0 2v1m0 14v1m0 5v2m0 10v1m0 1v1m0 14v1m0 1v1m1 -48v1m0 22v3m0 43v1m0 11v1m1 -90v1m0 64v1m1 -23v1m0 5v1m0 15v1m0 5v1m0 7v1m0 5v1m0 4v1m1 -96v1m0 2v1m0 14v1m0 33v1m0 4v1m0 10v1m0 7v1m0 5v1m0 8v1m1 -35v1m0 1v1m0 23v2m0 11v1m-157 7v1m0 3v1m0 3v1m0 11v2m0 3v1m0 2v1m0 36v1m0 6v1m0 2v1m1 -77v1m0 11v1m0 5v1m0 6v1m0 2v1m0 8v1m0 5v1m0 9v1m0 7v1m0 6v1m0 5v1m0 4v1m1 -76v1m0 72v1m0 1v1m1 -42v1m0 22v1m0 15v1m1 -57v1m0 17v1m0 30v1m0 4v1m1 -74v1m0 5v1m0 19v1m0 21v1m0 26v1m1 -55v1m0 21v1m1 -33v1m0 7v1m0 7v1m0 14v3m0 18v1m0 2v1m0 7v1m0 1v2m1 -26v1m1 -56v1m0 18v1m0 24v2m0 9v2m2 10v1m2 -68v1m0 28v1m0 3v1m0 1v1m0 24v1m0 5v1m0 4v1m0 9v1m1 -82v1m0 1v1m0 21v1m0 25v1m0 14v1m1 -28v1m0 1v1m0 20v1m0 2v1m0 12v1m1 -68v1m0 23v1m0 3v1m1 24v1m1 -55v1m0 6v2m0 24v2m0 13v1m0 3v1m1 -1v1m1 -62v1m1 1v1m0 55v1m0 5v1m1 -61v1m0 64v1m1 -63v1m0 4v1m0 42v1m4 -52v1m1 -2v1m0 6v1m0 1v2m0 9v1m0 5v1m0 45v3m1 -60v1m0 25v2m0 3v1m0 6v2m0 11v1m0 4v2m1 -72v1m0 10v1m0 5v2m0 6v1m0 11v1m0 1v1m0 35v1m1 -83v1m0 4v1m0 2v1m0 9v1m0 10v1m0 14v1m0 18v1m0 11v2m1 -54v1m0 16v1m0 37v1m1 -79v1m0 30v1m0 31v1m0 16v1m1 -62v1m0 14v1m0 11v1m0 20v1m1 -67v1m0 1v1m0 3v1m0 21v1m0 21v1m0 3v1m0 4v1m1 -42v1m0 14v1m0 5v1m0 27v1m1 -67v1m0 20v1m0 31v2m0 26v1m1 -81v1m0 8v1m0 25v1m0 22v2m0 1v1m0 12v1m0 6v1m1 -77v1m0 10v1m0 3v1m0 10v1m0 16v2m0 8v2m0 9v1m0 8v1m1 -82v1m0 41v1m0 15v1m0 5v1m0 2v1m0 3v1m0 8v1m1 -76v1m0 14v1m0 10v1m1 -22v1m0 6v1m0 5v1m0 1v2m0 14v1m0 3v1m0 4v1m0 16v1m1 -61v1m0 1v1m0 19v1m0 18v1m0 13v1m0 15v1m1 -75v1m0 11v1m1 5v2m0 4v1m0 13v1m0 11v1m0 5v2m1 -27v1m0 9v1m0 6v1m0 5v1m0 2v1m1 -58v1m0 4v2m0 2v1m0 6v1m0 9v1m0 7v1m0 4v1m0 13v1m0 1v1m0 5v1m0 7v1m1 -74v2m0 52v1m0 17v1m1 -73v2m0 26v1m0 2v1m0 15v3m0 2v1m0 8v1m0 19v1m1 -82v1m0 13v1m0 10v1m0 14v1m0 3v1m0 23v1m0 2v1m1 -47v1m0 1v1m0 26v1m0 3v2m1 -44v3m0 4v1m0 2v1m0 1v1m0 10v1m0 2v1m0 18v1m0 3v1m0 5v1m0 1v1m1 -66v1m0 4v1m0 4v3m0 7v1m0 8v1m0 3v1m0 3v1m0 15v1m0 3v1m1 -64v1m0 5v1m0 32v1m0 16v1m0 16v2m1 -71v1m0 9v1m0 2v1m0 8v1m0 13v1m0 2v1m1 -46v1m0 7v1m0 17v1m0 23v1m0 1v1m0 7v1m0 4v1m0 4v1m0 5v1m0 5v1m1 -78v1m0 32v1m0 5v2m0 6v1m0 16v1m0 6v1m1 -74v1m0 16v1m0 9v1m0 5v1m0 23v1m0 6v1m0 6v1m0 4v1m0 4v1m1 -85v1m0 34v1m0 1v1m0 6v1m0 4v2m0 4v1m0 9v1m1 -55v1m0 3v1m0 8v1m0 9v1m0 10v2m0 6v1m0 3v1m0 16v1m0 4v1m1 -70v1m0 2v1m0 27v1m0 12v1m1 -46v1m0 2v1m0 29v1m0 21v1m1 -63v1m0 9v1m0 10v1m0 13v1m0 4v1m0 5v1m0 25v1m1 -73v1m0 7v1m0 9v1m0 3v1m0 9v1m0 35v1m0 6v1m1 -64v1m0 3v1m0 7v1m0 1v1m0 15v1m0 6v1m0 21v1m0 9v1m1 -84v1m0 10v1m0 3v1m0 19v1m0 8v2m1 -43v1m0 5v1m0 34v1m0 27v1m1 -64v1m0 13v1m0 2v1m0 16v1m0 4v1m0 2v2m0 6v1m0 19v1m1 -2v1m1 -78v1m0 7v1m0 24v1m0 6v1m0 18v1m1 -50v1m0 1v1m0 3v1m0 28v1m0 13v2m0 9v1m0 6v1m1 -74v1m0 6v1m0 9v1m0 1v1m0 47v1m1 -71v1m0 2v1m0 11v1m0 16v1m0 8v1m0 4v1m0 16v1m0 4v1m1 -62v1m0 10v1m0 2v1m0 14v1m0 40v1m1 -72v2m0 7v1m0 7v1m0 1v1m0 5v1m0 1v1m0 18v1m0 16v1m1 -66v1m0 7v1m0 15v1m0 13v1m1 -18v2m0 2v1m0 3v1m0 7v1m0 9v1m0 16v1m1 -63v1m0 1v1m0 1v1m0 3v1m0 7v1m0 2v1m0 1v3m0 21v1m0 11v1m0 1v1m0 9v1m1 -68v1m0 6v1m0 1v2m0 9v1m0 29v1m1 -51v1m0 2v1m0 43v1m0 1v1m21 -33v1m13 -21v1m0 20v1m1 -14v1m0 1v2m0 23v1m0 19v1m0 9v1m2 -66v2m0 6v1m0 33v1m0 20v1m0 5v1m0 7v1m1 -83v1m0 2v1m0 8v1m0 10v1m0 1v1m0 8v1m0 1v1m0 3v1m0 1v1m0 10v1m0 3v1m0 6v1m1 -67v1m0 31v1m0 30v1m0 1v1m0 10v1m1 -36v1m0 4v1m0 27v1m1 -69v1m0 5v1m0 15v1m0 35v1m1 -63v1m0 4v1m0 25v1m0 6v1m0 2v1m0 5v1m0 2v1m0 19v1m1 -72v1m0 29v1m0 11v1m0 11v1m0 2v3m1 -30v1m0 21v1m0 1v1m0 16v1m1 -23v1m2 -46v1m0 65v1m1 -72v1m2 75v1m7 -21v1m1 8v1m1 4v1m0 2v1m1 -52v1m0 30v1m0 2v1m0 21v1m0 5v1m1 -76v1m0 23v1m0 22v1m1 -26v1m0 21v1m1 -48v1m0 22v1m0 15v1m0 9v1m2 -25v1m1 -29v1m0 3v1m0 8v1m0 7v1m0 47v1m1 8v1m1 -82v1m0 9v1m0 9v1m0 29v1m0 11v1m0 3v1m1 -52v1m0 2v1m0 47v1m0 1v2m0 1v1m1 -66v1m0 4v1m0 3v1m0 18v2m0 23v1m0 8v1m1 -7v1m1 -31v1m1 -26v1m0 1v1m0 15v1m0 30v1m0 5v1m0 3v1m0 5v1m0 6v1m0 2v3m1 -76v1m0 25v1m1 -29v1m0 23v1m0 4v1m0 21v1m1 -49v1m0 64v1"/>
<path stroke="rgb(242,211,209)" stroke-width="1" d="M341.5 46v1m0 44v1m2 -38v1m0 19v1m0 32v1m0 28v1m1 -93v1m0 1v1m0 51v1m0 26v1m1 -80v2m0 11v1m0 1v1m0 4v1m0 9v1m0 25v1m0 1v1m0 2v1m0 1v1m0 9v1m0 14v1m1 -94v1m0 23v1m0 13v1m0 18v1m0 4v1m1 -54v1m0 20v1m0 1v1m0 5v1m0 4v1m0 5v1m0 1v1m0 15v1m1 -73v1m0 8v1m0 9v1m0 4v1m0 18v1m0 4v2m0 30v1m0 3v1m0 14v1m1 -94v1m0 10v1m0 13v1m0 24v1m0 2v1m0 14v1m0 5v1m0 4v1m1 -45v1m0 23v2m0 10v1m0 9v1m0 10v1m1 -98v1m0 5v1m0 3v1m0 17v1m0 16v1m0 13v2m0 14v1m0 20v1m1 -98v1m0 48v1m0 10v1m0 24v1m1 -82v1m0 12v1m0 54v1m2 -62v1m0 56v1m0 12v1m1 -73v1m0 12v1m0 24v1m0 6v1m0 3v1m0 8v1m0 12v1m0 14v2m1 -97v1m0 13v1m0 7v1m0 10v1m0 41v1m0 3v1m0 7v1m0 1v1m1 -60v1m0 18v1m0 6v1m0 19v1m0 11v1m1 -78v1m0 25v1m0 8v1m0 21v2m0 5v1m0 1v1m0 1v1m0 1v1m1 -36v1m0 28v1m0 2v1m1 -43v1m0 20v1m0 1v1m0 14v1m1 -58v1m0 29v1m0 47v1m0 2v1m1 -81v1m0 33v2m0 13v1m1 -67v2m1 39v1m0 8v1m2 -51v1m0 48v1m0 26v1m0 20v1m1 -72v1m0 30v1m0 20v1m1 -69v1m0 47v1m0 10v1m1 -70v1m0 15v1m0 20v1m0 16v1m0 27v1m0 11v1m1 -96v1m0 17v1m0 35v2m0 7v1m0 12v1m0 9v1m0 1v1m0 7v1m1 -86v1m0 8v1m0 8v1m1 -29v1m0 14v2m0 24v1m0 37v1m0 8v1m1 -67v1m0 5v1m0 1v1m0 7v1m0 16v1m0 1v1m0 6v1m0 26v1m0 4v1m1 -89v2m0 8v1m0 31v1m0 16v1m2 -8v1m3 -54v1m0 1v1m0 51v1m1 -53v1m0 18v1m0 63v1m1 -42v1m1 -48v1m0 15v2m0 34v1m0 34v1m0 3v1m2 -92v1m0 5v1m0 15v1m0 15v1m0 11v1m0 6v1m0 26v1m0 1v1m0 8v1m1 -71v1m0 11v1m0 33v1m0 9v1m0 14v1m2 -99v1m0 16v1m0 40v1m0 20v2m0 7v1m0 1v2m2 -95v1m0 8v1m0 12v1m0 20v1m0 40v1m1 14v1m1 -89v1m0 26v1m0 11v1m0 15v1m2 34v1m2 -68v1m0 17v1m0 34v1m0 7v1m3 -64v1m2 -20v1m0 15v1m1 -23v1m0 43v1m1 -39v1m0 49v1m1 36v1m1 -48v1m2 -49v1m0 22v1m0 12v1m0 24v1m4 -56v1m0 29v1m0 2v1m0 27v1m1 4v1m13 -69v1m2 63v1m0 7v1m2 -62v1m4 39v1m1 -32v1m5 -15v2m0 53v1m7 -68v1m0 72v1m0 17v1m1 -30v1m0 3v1m1 -23v1m1 -30v1m0 1v1m0 5v1m0 20v1m0 21v1m0 18v1m0 8v1m1 -74v1m0 8v1m0 28v1m2 -50v1m2 74v1m4 -48v3m2 -40v1m0 7v1m1 -10v2m0 6v1m0 35v2m1 -15v1m0 4v1m1 -34v1m0 31v1m0 8v1m0 12v1m0 15v1m0 9v1m0 2v1m1 -84v1m0 19v1m0 23v1m0 48v1m1 -95v1m0 4v1m0 1v1m0 14v1m0 8v1m0 49v1m0 8v1m1 -86v1m0 38v1m0 50v1m1 -89v1m0 63v1m0 2v1m0 3v1m0 2v1m0 1v1m0 9v1m1 -97v1m0 20v1m0 10v2m0 7v1m0 25v1m0 3v1m0 3v1m0 5v1m0 9v1m1 -41v1m1 -53v1m2 88v1m2 -15v1m3 -36v1m0 37v1m0 19v1m3 -27v1m0 2v1m2 -77v1m0 47v1m0 15v1m6 -48v1m0 73v1m-156 66v1m13 -17v2m0 11v1m0 17v1m0 3v1m0 4v2m1 -73v1m0 4v1m0 23v1m0 14v1m1 -29v1m0 25v2m0 24v1m1 -34v1m0 3v1m0 14v1m0 15v1m1 -47v1m0 4v1m1 -33v1m0 24v2m0 3v2m0 7v2m0 3v2m0 12v2m1 -57v1m1 5v1m0 11v1m1 -15v1m0 3v1m0 64v1m1 -50v1m0 30v1m0 1v1m0 9v1m2 -60v1m0 2v1m0 3v1m0 1v1m0 11v1m0 42v1m1 -66v1m0 12v1m0 17v2m0 4v2m0 11v1m0 4v1m0 4v1m1 -62v1m0 14v1m1 -29v1m0 4v1m0 34v1m0 8v1m0 22v1m1 -59v1m0 23v1m0 27v1m1 -58v1m0 1v1m0 16v1m0 4v1m0 32v1m4 -25v1m0 20v1m0 6v1m1 -54v1m0 23v1m0 29v1m3 -48v1m0 21v1m1 -29v1m0 63v1m1 -34v1m1 -40v1m0 7v1m0 4v1m0 36v1m0 2v1m0 15v1m1 -28v1m1 -48v1m0 12v1m0 4v1m0 3v1m1 -10v1m1 0v1m0 11v1m0 14v1m0 18v2m1 -50v1m0 31v1m0 27v1m0 3v1m2 -58v1m1 -11v1m0 28v1m0 34v1m3 -67v1m0 41v1m1 -15v1m1 -20v1m3 8v1m3 31v2m0 18v1m5 -73v1m2 -6v1m0 2v1m0 31v1m0 32v1m1 -74v1m0 7v1m0 4v1m0 24v1m0 29v1m1 -34v1m0 3v1m0 1v1m0 34v1m1 -77v1m0 29v1m0 39v1m1 -41v1m0 2v1m0 16v1m1 -34v1m0 14v2m0 9v1m1 1v1m2 -6v1m4 -2v1m1 -20v1m0 3v1m0 1v1m0 1v1m0 9v1m0 21v1m0 3v1m0 5v1m0 3v1m0 2v2m2 -9v1m4 -11v1m0 7v1m1 -10v1m0 4v1m1 -46v1m0 58v1m1 -15v1m1 13v1m3 -24v1m1 -44v1m0 2v1m0 11v1m0 23v1m0 4v1m0 17v1m1 -70v1m2 -5v1m0 10v1m0 25v1m0 3v1m0 41v1m1 -24v1m1 -56v1m0 59v1m1 -3v1m0 2v1m1 -5v1m1 -58v1m1 53v1m1 3v1m3 -39v1m0 29v1m0 5v1m0 4v2m5 -8v1m1 -45v1m0 7v1m0 1v1m0 8v1m0 20v1m0 22v1m1 -79v1m0 23v1m0 7v1m0 1v1m0 27v1m0 1v1m0 13v1m0 2v1m1 -80v1m0 14v1m0 21v1m1 -36v1m0 2v1m0 22v1m0 1v1m0 4v1m0 23v1m0 19v1m1 -84v1m0 4v1m0 67v1m0 3v1m1 -33v1m2 8v1m0 22v1m1 -37v1m0 27v1m0 7v1m1 -13v1m1 -59v1m0 20v1m0 42v1m0 4v1m1 -42v2m0 3v3m0 9v1m0 28v1m1 -79v1m0 8v1m0 24v1m0 7v1m0 1v1m1 -47v1m0 33v1m0 1v1m0 11v1m0 5v1m0 9v1m0 9v1m0 8v1m1 -53v1m0 9v3m0 4v1m0 11v1m1 -60v1m0 7v1m0 1v1m0 53v1m0 12v1m1 -68v1m0 25v1m2 -37v1m0 77v1m1 -75v1m0 47v1m0 7v1m1 -21v1m0 3v1m0 3v2m0 1v1m1 -40v1m0 26v1m0 1v1m0 13v1m0 2v2m1 -44v1m0 65v1m2 -77v2m0 11v1m0 40v1m0 12v1m0 1v1m1 -63v1m0 1v1m0 6v1m0 7v1m0 28v1m0 14v1m0 1v1m0 1v1m1 -70v1m0 38v1m1 -49v1m0 40v1m1 -29v1m0 2v1m0 25v1m0 18v1m0 3v1m1 -14v1m0 14v1m0 5v1m1 -53v1m0 52v1m1 -54v1m0 2v1m0 48v1m0 1v1m0 2v1m0 1v1m1 -68v1m0 22v1m0 1v1m0 4v1m0 5v1m0 5v1m0 7v1m0 18v1m1 -45v1m1 -29v1m0 4v1m0 41v1m0 6v1m0 6v1m1 -53v1m0 18v1m0 14v1m0 3v1m1 -39v1m0 10v1m0 12v1m0 4v1m0 23v1m0 1v1m0 4v1m1 -59v1m1 -20v1m0 9v1m0 5v1m0 8v1m0 33v1m0 5v1m0 2v1m0 3v1m1 -74v1m0 24v1m0 16v1m1 -45v1m0 21v1m0 46v1m0 5v1m1 -65v1m0 28v1m0 22v1m0 4v1m0 6v1m1 -58v1m0 5v1m0 7v1m0 14v1m0 5v1m0 12v1m1 -55v1m0 35v1m0 3v1m0 6v1m0 21v1m1 -82v1m0 26v1"/>
<path stroke="rgb(230,192,196)" stroke-width="1" d="M343.5 135v1m1 -89v1m0 17v1m0 4v1m0 33v1m0 10v1m0 2v1m0 9v1m0 4v1m1 -91v1m0 40v1m0 2v1m0 28v2m0 5v1m1 -78v1m0 15v1m0 17v1m0 7v1m0 8v1m0 4v1m0 4v1m0 10v1m0 7v1m0 9v1m1 -76v1m0 31v1m1 -36v1m0 8v1m0 2v2m0 3v1m0 2v1m0 8v1m0 4v2m0 3v1m0 30v1m1 -88v1m0 4v1m0 5v1m0 2v1m0 37v1m0 9v2m0 21v1m1 -90v1m0 53v1m0 1v1m0 9v1m0 32v1m1 -101v1m0 7v1m0 8v1m0 1v1m0 3v1m0 1v1m0 6v1m0 6v1m0 15v1m1 -54v1m0 9v1m0 7v1m0 4v1m0 2v1m0 11v1m0 9v1m0 3v1m1 -48v1m0 19v1m0 1v1m0 31v1m0 29v1m1 -42v1m0 11v1m0 5v1m0 10v2m0 20v1m1 -71v1m0 11v1m0 20v2m0 8v1m0 3v2m0 14v1m1 -68v3m0 11v1m0 8v1m0 19v1m0 29v1m1 -78v1m0 28v1m0 15v1m0 12v1m1 -80v1m0 15v1m0 21v1m1 -21v1m0 33v1m0 39v1m1 -82v1m0 18v1m0 34v1m0 2v1m0 30v1m1 -101v1m0 20v1m0 20v2m0 36v1m1 -48v1m0 66v1m1 -88v1m0 82v1m2 -97v1m0 1v1m0 30v1m2 -23v1m0 36v1m0 9v1m0 34v1m0 4v2m2 -48v1m0 6v1m0 1v1m0 18v1m0 10v1m1 -93v1m0 1v1m0 28v1m0 17v2m0 1v1m0 17v1m0 5v1m0 7v1m1 -82v1m0 2v2m0 15v1m0 32v2m1 -49v1m0 4v1m0 4v1m0 48v1m1 -31v1m0 16v1m0 2v1m0 25v1m0 10v1m1 -78v1m0 23v1m0 6v1m0 22v1m1 18v1m2 -67v1m0 25v1m0 46v1m1 -74v1m1 -13v1m1 -5v1m1 41v1m0 42v1m1 -19v1m1 -65v1m0 36v1m0 6v1m1 -2v1m1 -46v1m0 6v1m0 10v1m0 6v1m0 2v1m0 14v1m0 9v1m0 6v1m1 -59v1m0 24v1m0 56v1m1 -84v1m0 2v1m0 1v1m1 4v1m0 7v1m0 5v1m0 4v1m0 4v1m0 35v1m0 5v1m1 -14v1m0 4v1m1 -70v1m0 45v1m0 28v1m1 -80v1m0 22v1m0 20v2m0 9v1m0 3v1m0 13v1m0 5v1m0 14v1m1 -50v1m0 46v1m2 -18v1m1 -6v1m1 -52v1m0 48v1m0 1v1m5 -43v1m1 -2v1m0 43v1m0 23v1m3 -96v1m0 8v1m0 57v1m2 -13v1m4 -50v1m0 10v1m0 3v1m0 12v1m0 1v1m0 24v1m0 10v1m0 13v1m1 -30v2m15 -53v1m1 4v1m0 55v1m11 -42v1m4 -29v1m3 60v1m1 -41v1m2 50v1m1 -47v2m1 1v1m0 57v1m1 -89v1m0 68v1m2 -68v1m0 4v1m0 74v1m2 -79v2m2 -3v1m0 25v1m0 2v1m0 45v1m2 -65v1m0 44v1m0 25v1m1 -70v1m0 9v1m0 32v1m1 -53v1m0 14v1m0 2v2m0 6v2m0 2v1m0 6v1m0 24v1m0 18v1m1 -65v1m0 6v1m0 46v1m1 -65v1m0 12v1m0 24v1m0 26v1m0 3v1m1 -36v1m0 48v1m1 -96v1m0 15v1m0 19v1m0 19v1m0 1v1m0 3v1m0 14v1m1 -61v1m0 27v1m0 14v1m0 6v1m0 4v1m0 11v1m1 -60v1m0 39v1m0 29v1m1 -72v1m1 8v1m0 17v1m1 35v1m3 -91v1m1 89v1m1 -28v1m1 6v1m0 17v1m1 -87v1m0 9v1m0 65v1m3 13v1m1 -87v1m0 4v1m0 12v1m0 13v1m0 32v1m0 20v1m2 -88v1m2 -1v1m0 20v1m2 -10v1m0 56v1m0 21v1m-157 81v1m13 -44v1m1 -25v1m0 31v1m0 1v1m0 23v1m0 3v1m0 12v1m1 -79v1m0 9v1m0 20v1m0 19v1m0 1v1m0 18v1m1 -65v1m0 31v1m0 26v1m1 -61v2m0 10v1m0 3v1m0 11v1m0 8v1m0 17v1m1 -63v1m0 14v1m0 7v2m0 47v1m1 -48v1m0 24v1m0 4v1m0 14v1m0 4v1m1 -71v1m1 -9v1m0 4v1m0 30v1m0 12v1m0 1v1m0 14v1m0 1v1m1 -47v1m0 2v1m0 28v1m0 4v1m0 4v1m1 -65v1m0 1v1m0 12v1m0 14v1m0 13v1m0 8v1m0 8v1m0 5v1m0 7v1m0 2v1m1 -78v1m0 3v1m0 12v1m0 36v1m0 24v1m1 -73v1m0 15v1m0 17v2m0 22v1m0 11v1m1 -76v1m0 7v1m0 10v1m0 3v1m0 12v1m0 11v1m0 1v1m1 -36v1m0 4v1m0 20v1m0 1v1m1 -22v1m0 11v1m2 -26v1m0 47v1m0 18v1m1 -83v1m0 36v1m2 -3v1m1 -1v1m1 -24v1m1 28v1m1 -25v2m1 -2v1m0 16v1m0 8v1m0 9v1m0 19v1m2 -58v1m1 -1v1m0 14v1m0 3v1m0 11v1m0 5v1m0 1v1m0 1v1m0 13v1m2 -73v1m0 13v1m0 2v1m0 22v1m0 19v1m0 22v1m1 -61v1m0 36v1m0 1v1m0 4v1m0 12v1m1 -60v1m0 11v1m1 -24v1m0 27v1m1 8v1m1 -25v1m0 46v1m1 -54v1m0 57v1m8 2v1m3 -65v1m0 35v1m2 -45v1m0 40v1m2 1v1m1 -33v1m0 20v1m2 -6v1m0 29v1m1 -58v1m0 22v1m1 -15v1m1 8v1m0 3v1m0 2v1m0 14v1m0 5v1m2 -52v1m0 12v1m0 3v2m0 28v1m1 -30v2m0 5v1m0 41v1m2 -39v1m1 21v1m2 -16v1m1 -13v1m0 3v1m0 33v1m1 -35v1m0 17v1m0 32v1m1 -80v1m0 74v1m7 -17v1m0 16v1m1 -35v1m1 -17v2m3 -17v1m0 40v1m0 14v1m1 -60v1m0 3v1m0 20v1m1 -31v1m0 10v1m1 19v1m0 48v1m1 -80v1m0 5v1m0 4v1m0 9v1m0 28v1m0 13v1m0 10v1m4 -75v1m0 74v1m1 -72v1m0 73v1m1 -2v1m2 -75v1m0 12v1m0 4v1m7 0v1m1 -11v2m0 55v1m1 -64v1m0 4v1m0 12v1m0 30v1m0 5v1m1 -66v1m0 33v1m1 -32v1m0 10v1m0 32v1m0 11v1m0 10v1m0 8v1m2 -82v1m0 6v1m2 17v1m1 0v1m1 57v1m1 -64v1m0 14v1m0 10v1m0 4v1m0 22v1m0 2v1m0 3v1m1 -54v1m0 34v1m0 5v1m0 6v1m1 -53v1m0 2v1m0 9v1m0 17v2m0 17v1m1 -76v1m0 1v1m0 41v4m0 6v1m0 15v1m1 -19v1m0 29v1m1 -75v2m0 17v1m0 1v1m0 5v1m0 2v1m0 6v2m0 1v1m0 28v1m1 -59v1m0 56v2m1 -29v1m0 28v1m0 5v1m1 -84v1m0 70v1m1 -63v1m0 17v1m0 35v1m1 -55v1m0 46v1m1 -11v1m0 8v1m0 18v1m1 -23v1m0 29v1m2 -81v1m0 15v1m0 5v1m0 18v1m0 16v1m0 21v1m1 -48v1m0 31v1m0 2v1m0 2v2m2 -75v1m0 2v2m1 -1v1m0 14v1m0 1v1m0 22v1m0 2v1m0 5v1m0 23v1m1 -64v1m0 11v1m0 1v1m0 6v1m0 6v1m0 20v1m0 2v1m1 -55v1m0 24v1m0 3v1m1 -42v1m0 2v1m0 2v1m0 1v2m0 22v1m0 39v1m1 -63v1m0 2v1m0 21v1m1 -23v1m0 7v1m0 4v1m0 37v1m0 3v1m0 14v1m1 -78v1m0 11v1m0 3v1m0 44v1m0 6v1m0 1v2m1 -26v1m0 3v1m0 7v1m0 11v1m1 -77v1m0 9v1m0 16v1m0 4v1m0 28v1m0 10v1m0 1v1m1 -68v1m0 44v1m0 4v1m1 -33v1m0 27v1m0 1v1m0 4v1m1 -57v1m0 30v2m0 19v1m0 4v1m0 15v1m1 -58v1m0 15v1m0 15v1m0 5v1m0 11v1m1 -64v1m0 25v1m0 4v1m0 2v1m0 2v1m0 27v1m1 -25v2m0 4v1m1 -37v2m0 38v1m0 2v1m0 3v1m1 -42v1m0 8v1m0 5v1m0 9v1m0 5v1m0 8v1m0 1v1"/>
<path stroke="rgb(242,189,177)" stroke-width="1" d="M331.5 117v1m0 15v1m2 -24v1m2 -59v1m0 2v1m3 -7v1m1 1v1m1 80v1m1 -92v1m0 3v1m0 6v1m0 75v1m0 1v1m1 -24v1m1 -5v2m0 18v1m1 -63v1m0 13v1m0 2v1m0 8v1m0 3v1m0 16v1m0 1v1m0 9v1m0 3v1m0 1v1m1 -87v1m0 1v1m0 6v2m0 16v1m0 12v2m0 3v1m0 6v1m0 19v1m0 11v1m0 6v1m1 -92v1m0 1v1m0 7v1m0 2v1m0 28v1m0 26v1m0 19v1m0 7v1m1 -102v1m0 1v1m0 14v1m0 63v1m0 5v1m0 9v1m1 -88v1m0 5v1m0 36v1m0 1v1m0 12v1m0 10v1m0 8v1m1 -82v1m0 32v1m0 6v1m0 38v1m0 12v1m1 -90v1m0 41v1m1 -50v1m0 23v1m0 13v1m0 3v1m0 2v1m0 1v1m0 30v1m0 9v1m1 -88v1m0 11v1m0 2v1m0 23v1m0 2v1m2 -29v1m0 1v1m1 39v1m1 -49v2m0 7v1m0 23v2m0 9v1m0 22v1m0 1v1m1 -81v1m0 16v1m0 1v1m1 8v1m0 14v1m1 -14v1m0 29v1m1 -62v1m0 55v1m0 37v1m0 5v1m1 -96v1m0 31v2m0 14v2m0 13v1m0 10v1m0 13v1m0 5v1m1 -76v1m0 11v1m0 15v1m0 11v1m0 19v1m0 8v1m1 -92v1m0 29v1m0 23v1m0 38v1m1 -63v1m0 27v2m0 3v1m0 23v1m1 -89v1m0 1v1m0 15v1m0 28v1m0 12v1m0 4v1m1 -56v1m0 26v1m0 17v1m0 8v1m0 31v1m1 -93v1m0 3v1m0 41v1m0 13v1m1 -66v1m0 3v1m0 1v1m0 4v1m0 32v1m0 5v2m0 11v1m0 13v1m0 4v1m0 11v1m0 4v1m1 -96v2m0 79v1m1 -75v1m0 1v1m0 21v1m0 3v1m0 2v1m0 4v1m0 12v1m0 17v3m0 19v1m1 -73v1m0 3v1m0 11v1m0 5v1m0 30v1m1 -70v1m0 31v1m0 47v1m0 4v2m1 -79v1m0 3v1m0 28v1m1 -52v1m0 31v1m0 9v1m0 2v1m0 35v1m0 5v2m1 -26v1m0 4v1m0 17v2m0 5v1m1 -13v1m0 2v1m0 6v1m1 -38v1m0 26v1m0 2v1m1 -27v1m1 -50v1m0 4v1m0 24v1m0 13v1m0 26v1m0 11v1m1 -72v1m0 8v1m0 21v1m0 3v1m0 1v1m0 10v2m0 18v1m1 -55v1m0 29v1m0 4v1m0 6v1m1 -73v1m0 2v1m0 24v1m0 1v1m1 -38v1m0 14v1m0 6v1m0 4v1m0 8v1m0 1v1m0 5v1m0 12v1m0 4v2m0 26v1m1 -86v1m0 8v1m0 8v1m0 33v1m0 4v1m1 -55v1m0 27v1m0 1v1m0 31v1m0 9v1m1 -82v1m0 30v1m0 7v1m0 3v1m0 19v1m0 7v1m0 10v1m1 -73v1m0 13v1m0 22v1m0 14v1m0 12v2m0 8v1m1 -12v1m0 1v1m0 21v2m1 -99v1m0 5v1m0 13v1m0 4v1m0 9v1m0 2v1m0 17v1m0 4v1m0 1v1m0 15v1m1 -75v1m0 80v2m0 2v1m0 2v1m1 -79v1m0 10v1m0 10v1m0 18v1m0 14v1m0 5v1m1 -33v1m0 11v1m0 21v1m0 7v1m1 -76v1m0 36v1m0 1v1m1 27v1m0 8v1m1 -85v1m0 79v1m0 15v1m1 -81v1m0 4v1m0 15v1m0 32v1m0 15v1m2 -15v1m1 -69v1m1 38v1m0 22v1m0 3v1m0 12v1m1 -78v1m0 7v1m0 4v1m0 1v1m0 36v1m0 12v1m0 15v1m0 6v1m1 -99v1m0 17v2m0 1v1m0 65v2m0 3v1m0 6v1m1 -94v1m0 6v1m0 7v1m0 18v2m0 19v1m0 27v1m1 -79v2m0 19v1m0 17v1m0 16v1m1 -57v1m0 14v1m0 13v1m0 12v1m0 25v1m0 10v1m1 -89v1m0 35v1m0 13v1m1 -18v1m0 1v1m0 26v1m0 5v1m0 1v1m0 13v1m0 10v1m1 -83v1m0 77v1m1 -11v1m1 -42v2m0 28v1m1 -74v1m0 30v1m0 17v1m0 20v1m1 25v1m27 -50v1m7 21v1m3 -14v1m5 -54v1m0 2v2m0 60v1m1 -65v1m2 64v1m4 -10v1m0 18v1m1 -31v1m0 8v1m0 1v1m1 -35v1m0 19v1m0 3v1m0 15v1m0 21v1m0 2v1m1 -73v1m0 1v1m0 15v1m0 50v1m1 -71v1m0 9v1m0 10v1m0 27v2m0 11v1m0 4v1m0 2v2m1 -89v1m0 17v1m0 2v1m0 10v2m0 3v1m0 11v1m0 2v1m0 2v1m0 18v1m0 12v1m0 5v1m0 2v2m1 -88v1m0 3v1m0 8v1m0 65v1m1 -75v1m0 9v1m0 2v1m0 2v1m0 22v1m0 26v1m0 2v1m0 9v2m4 -6v1m2 -86v1m0 71v1m7 10v1m1 -31v1m0 14v1m0 13v1m0 2v1m1 -47v1m5 -38v1m-150 170v1m7 -59v1m0 54v1m0 4v1m1 -78v1m0 17v1m0 25v1m0 1v1m0 3v1m0 1v1m0 17v1m1 -71v1m0 11v1m0 3v2m0 14v1m0 2v1m0 23v1m0 11v1m1 -69v1m0 3v1m0 3v1m0 18v1m0 3v1m0 14v1m1 -33v1m0 14v1m1 -25v1m0 16v1m0 12v2m0 43v1m1 -25v1m1 -60v1m0 22v2m0 13v1m0 5v1m0 4v2m0 4v1m0 25v1m1 -60v1m0 10v2m0 2v2m0 2v1m0 11v1m0 2v1m0 13v1m0 4v1m1 -72v1m0 8v1m0 23v1m0 4v2m0 8v1m1 -37v1m0 14v1m0 13v1m0 14v2m0 4v1m2 -65v1m0 2v1m0 5v2m0 10v1m0 17v1m0 12v1m0 17v1m0 11v1m1 -75v1m0 12v1m0 6v1m0 2v1m0 7v1m0 28v1m0 9v1m1 3v1m7 -45v1m3 -7v1m1 4v1m2 -15v1m0 15v1m0 10v1m0 9v1m2 -62v1m0 31v1m0 31v1m1 -24v1m0 15v1m0 7v1m0 17v1m1 -51v1m0 48v1m1 -66v1m0 20v1m0 8v1m3 -33v1m0 6v1m0 10v1m0 23v1m7 -41v1m1 28v1m2 -19v1m0 18v1m1 -2v1m7 10v1m0 7v1m1 -60v1m1 21v1m0 6v1m0 13v1m0 6v1m0 9v1m1 -18v1m6 -12v1m2 39v1m1 -7v1m1 -39v1m0 6v1m0 6v1m0 13v1m0 5v1m0 1v1m0 12v1m1 -78v1m0 23v1m0 20v1m0 8v1m0 6v1m1 -49v1m0 3v1m0 23v1m0 3v1m0 5v1m1 -12v1m1 0v1m0 21v1m1 -2v1m1 -62v2m0 26v1m0 42v1m1 -69v1m0 43v1m0 13v1m0 11v1m1 -71v1m0 1v1m0 42v1m0 4v1m0 2v2m0 15v1m1 -67v1m1 7v1m0 11v1m0 25v1m0 2v1m0 7v1m0 4v1m0 1v1m1 -53v2m0 9v1m1 -30v1m0 1v1m0 62v1m1 -74v1m0 4v1m0 8v1m0 3v2m0 5v1m0 11v1m0 31v2m1 -69v1m0 1v2m0 9v1m0 4v2m0 15v1m0 14v1m0 12v1m0 1v1m1 -34v1m0 2v1m0 4v1m0 2v1m0 5v1m0 8v1m0 13v1m0 6v1m0 1v1m1 -76v1m0 19v3m0 14v1m0 15v1m0 12v1m1 -73v1m0 5v1m0 22v1m0 13v1m0 6v1m0 16v1m0 3v1m1 -73v1m0 2v2m0 23v1m0 34v1m1 -62v1m0 5v1m0 49v1m0 3v1m1 -59v1m0 37v1m0 11v1m0 12v1m1 -67v1m0 9v1m0 8v1m0 20v1m0 18v1m0 7v1m0 3v1m1 -52v1m0 34v1m0 1v2m1 -52v1m0 7v2m0 52v1m0 1v1m0 4v1m0 2v1m1 -68v1m0 6v2m0 46v1m1 -71v1m0 9v2m2 10v1m0 1v1m0 13v1m0 22v1m0 18v2m1 -55v1m0 5v1m0 18v1m2 -10v1m0 9v1m0 8v1m1 -28v1m1 -36v1m0 26v1m0 36v1m1 -27v1m0 5v1m0 8v1m0 17v1m1 -56v1m0 20v1m0 6v1m0 13v1m0 9v1m0 1v1m0 11v1m1 -80v1m0 71v1m0 3v1m1 -79v2m0 4v1m0 2v1m0 18v1m0 8v1m0 8v1m0 2v1m0 22v2m0 4v1m0 4v1m1 -13v1m1 -52v1m0 29v1m3 26v1m3 -63v1m0 58v1m1 -68v1m0 4v1m0 2v2m0 34v1m0 6v1m1 -52v1m0 5v1m0 4v1m0 4v1m0 5v1m0 7v1m0 24v1m0 7v1m0 7v2m1 -55v1m0 38v1m1 -42v1m0 16v1m0 16v1m0 15v2m0 8v1m1 -79v1m0 3v1m0 17v1m0 5v1m0 20v1m0 15v1m1 -43v1m0 23v1m0 13v1m1 -61v1m0 19v1m0 1v1m0 1v1m0 13v1m0 1v1m0 1v2m0 10v2m0 2v1m0 9v2m1 -54v1m0 7v1m0 21v1m0 6v2m0 3v1m0 10v1m0 2v1m1 -58v1m0 46v1m0 5v1m0 5v1m1 -74v1m0 12v1m0 20v1m0 28v1m0 4v1m1 -26v1m0 6v1m1 16v1m1 -66v1m0 9v1m0 1v2m0 7v2m0 5v1m0 3v1m0 20v1m1 -57v1m0 15v1m0 5v2m0 18v1m1 -28v1m0 10v1m0 27v1m0 15v1m1 -61v1m0 6v1m0 4v1m0 31v1m1 -62v1m0 6v1m0 71v2m1 -73v1m0 39v1m0 12v1m0 9v1m1 -39v1m1 -22v1m0 7v1m0 9v1m0 6v1m0 23v1m0 12v1m0 3v1m1 -59v1m0 7v1m0 18v1m0 1v1m0 11v1m2 -16v2m0 7v1m1 -43v1m1 0v1m0 1v1m0 7v1m0 15v1m0 14v1m1 -32v1m0 56v1m1 -61v3m0 44v1m0 11v1m1 -63v1m0 4v2m0 17v1m0 12v1m0 7v1m0 7v1m1 -42v1m0 33v1m1 -63v1m0 10v1m0 3v1m0 2v1m0 2v1m0 25v1m0 3v2m0 8v1m0 6v1m1 -70v2m0 10v1m0 7v1m0 12v1m0 12v1m0 15v1m0 7v1m0 12v1m1 -33v1m1 -38v1"/>
<path stroke="rgb(171,156,211)" stroke-width="1" d="M347.5 94v1m0 2v1m3 -27v1m0 2v1m0 40v1m1 -43v1m0 41v1m1 -3v1m1 -43v2m0 18v1m0 27v1m1 -60v1m0 29v2m0 26v1m0 12v1m0 1v1m1 -62v1m0 61v1m2 -95v1m0 55v1m1 -46v1m0 37v1m0 30v1m0 1v1m2 -63v2m13 -26v1m17 40v1m21 11v1m0 5v1m0 31v1m1 -83v1m0 9v1m0 8v1m0 7v1m0 1v2m0 4v1m0 2v1m0 8v1m0 4v1m0 5v2m0 5v1m0 1v1m0 3v1m0 3v1m0 2v2m0 3v1m0 5v1m1 -99v1m0 5v1m0 6v1m0 6v1m0 10v2m0 12v1m0 29v1m0 1v1m0 1v1m0 14v1m0 6v1m1 -92v1m0 1v1m0 19v1m0 10v1m0 4v1m0 11v1m0 21v1m1 -75v1m0 1v1m0 7v1m0 13v1m0 31v1m0 28v1m1 -91v1m0 8v1m0 6v1m0 21v1m0 17v1m0 3v1m0 1v1m0 6v1m0 10v1m0 15v2m1 -97v1m0 6v2m0 5v3m0 11v1m0 4v1m0 2v1m0 1v2m0 5v1m0 4v1m0 1v1m0 4v2m0 2v1m0 7v1m0 4v1m0 5v1m0 7v2m0 3v3m1 -96v1m0 20v1m0 8v1m0 23v1m0 1v1m0 15v1m0 10v1m1 -68v2m0 1v1m0 17v1m0 1v2m0 1v1m0 8v1m0 19v1m0 10v2m0 7v1m1 -83v1m0 5v1m0 2v1m0 3v1m0 3v1m0 9v2m0 2v1m0 15v1m0 21v1m0 9v1m0 4v2m1 -99v1m0 14v2m0 5v1m0 8v1m0 9v1m0 1v1m0 7v1m0 21v1m0 10v1m0 1v1m0 4v1m1 -90v1m0 1v1m0 2v1m0 11v2m0 11v1m0 2v1m0 7v1m0 14v1m0 1v2m0 4v1m0 1v1m0 10v1m0 5v1m1 -77v1m0 6v1m0 4v1m0 14v1m0 6v1m0 11v1m0 12v2m0 13v4m0 2v1m0 3v1m0 4v2m1 -86v1m0 2v1m0 2v1m0 2v1m0 15v2m0 3v2m0 21v1m0 2v1m0 3v1m0 2v1m0 7v1m0 6v2m0 5v1m1 -100v2m0 5v1m0 12v1m0 23v3m0 5v1m0 10v1m0 1v1m0 5v1m1 -60v1m0 2v1m0 2v1m0 5v1m0 5v2m0 2v1m0 6v1m0 6v1m0 10v1m0 13v1m0 1v1m0 3v1m0 3v2m0 3v1m0 3v1m1 -86v1m0 12v1m0 1v2m0 25v2m0 12v1m0 5v2m0 3v1m0 3v2m0 9v1m1 -90v1m0 12v1m0 14v1m0 15v1m0 9v1m0 1v2m0 1v1m0 3v1m0 10v1m0 3v1m0 2v1m0 8v1m1 -84v1m0 6v1m0 10v1m0 5v1m0 20v1m0 5v2m0 23v1m0 11v1m0 3v2m1 -101v1m0 5v1m0 6v1m0 6v1m0 16v1m0 40v1m0 21v1m1 -89v1m0 3v1m0 15v1m0 1v1m0 9v1m0 2v1m0 1v2m0 7v1m0 23v1m1 -80v1m0 4v1m0 10v1m0 7v1m0 3v1m0 10v1m0 13v1m0 11v1m0 12v1m0 4v1m0 4v1m0 9v1m1 -99v3m0 1v1m0 20v1m0 11v1m0 10v1m0 4v1m0 1v1m0 3v1m0 1v1m0 3v1m0 12v1m0 12v1m1 -87v1m0 2v2m0 1v1m0 4v1m0 6v1m0 4v1m0 2v1m0 1v1m0 7v2m0 2v1m0 17v1m0 2v1m0 3v1m0 6v2m0 3v1m0 5v1m0 7v2m1 -95v1m0 1v1m0 2v1m0 1v2m0 15v2m0 3v1m0 9v1m0 1v1m0 5v1m0 18v1m0 9v1m0 11v1m1 -57v1m0 12v1m0 1v1m0 2v1m0 15v1m0 2v1m1 -72v1m0 1v2m0 6v1m0 8v1m0 1v1m0 5v1m0 3v1m0 9v1m0 5v1m0 4v1m0 3v1m0 3v1m0 3v1m0 2v1m0 5v1m0 3v1m0 1v1m0 1v2m0 3v1m1 -50v1m0 8v1m0 6v1m1 -50v1m0 1v1m0 2v1m0 4v1m0 7v1m0 1v1m0 1v1m0 14v2m0 4v1m0 3v1m0 17v1m0 1v1m0 5v1m0 1v1m0 1v1m0 6v2m0 6v1m1 -99v1m0 1v1m0 18v1m0 4v1m0 8v1m0 8v1m0 4v1m0 9v1m0 1v1m0 5v1m0 11v2m0 10v2m0 2v1m0 3v1m1 -101v1m0 7v1m0 5v1m0 5v1m0 1v1m0 12v1m0 1v2m0 8v1m0 1v2m0 9v1m0 8v2m0 14v1m0 7v1m0 1v1m1 -77v1m0 25v1m0 5v1m0 6v1m0 25v1m0 9v1m1 -63v1m0 6v1m0 5v1m0 3v1m0 17v1m0 6v1m0 14v1m0 4v1m0 4v2m1 -98v1m0 2v1m0 20v2m0 2v1m0 14v1m0 2v1m0 22v1m0 4v1m0 8v1m0 3v2m0 3v1m1 -95v2m0 27v1m0 9v1m0 52v1m1 -50v1m0 3v1m0 1v1m0 31v1m1 -78v1m0 8v1m0 14v1m0 7v1m0 12v2m0 26v1m0 1v1m0 7v1m0 7v1m0 1v1m0 1v1m1 -94v1m0 8v1m0 4v1m0 10v1m0 4v1m0 7v1m0 12v1m0 18v1m0 8v1m0 3v1m0 2v1m0 1v1m1 -86v1m0 23v1m0 30v1m0 12v1m0 1v1m1 -70v1m0 2v1m0 38v1m0 16v1m0 8v1m0 5v2m0 2v1m1 -82v1m0 6v1m0 31v1m0 18v2m0 5v1m0 1v1m0 4v1m0 2v1m0 3v1m1 -89v1m0 5v1m0 1v1m0 1v1m0 7v1m0 9v1m0 1v1m0 10v1m0 1v1m0 3v2m0 2v3m0 1v1m0 5v1m0 22v1m0 6v1m0 1v2m1 -76v1m0 1v2m0 20v2m0 2v1m0 11v1m0 7v1m0 10v1m0 1v1m0 13v1m1 -32v1m1 -64v1m0 59v2m0 18v1m0 3v1m0 1v1m0 2v1m1 -88v1m0 14v1m0 12v1m0 1v1m0 11v1m0 4v1m0 7v1m0 1v1m0 4v1m0 1v1m0 9v1m0 24v1m1 -82v1m0 1v1m0 9v1m0 22v1m0 3v1m0 5v1m0 2v1m0 1v1m0 4v1m0 12v1m0 3v2m0 7v1m1 -102v1m0 2v1m0 6v1m0 5v1m0 7v1m0 24v1m0 8v2m0 31v1m0 6v2m1 -90v1m0 29v1m0 31v1m0 12v1m0 4v2m1 -66v1m0 8v1m0 4v1m0 14v1m0 2v1m0 18v1m0 5v1m0 2v1m0 4v1m0 6v1m0 2v1m1 -34v1m0 7v2m5 -6v1m1 -73v1m0 42v1m0 19v1m1 25v1m1 -67v1m0 6v1m0 12v1m0 14v1m0 29v1m0 1v1m1 -86v2m0 17v1m0 1v1m0 2v1m0 36v1m0 7v1m0 13v3m1 -87v2m0 1v1m0 23v2m0 6v1m0 12v1m0 12v1m0 5v1m0 2v1m0 5v1m0 7v1m0 8v1m0 2v1m1 -96v1m0 2v1m0 4v1m0 21v1m0 3v1m0 10v1m0 1v2m0 4v1m0 8v2m0 7v1m0 5v1m0 6v1m0 4v1m1 -91v1m0 14v1m0 3v1m0 14v1m0 25v1m0 12v2m0 10v1m0 11v1m1 -101v1m0 12v1m0 2v1m0 15v1m0 4v1m0 15v1m0 8v2m0 8v1m1 -71v1m0 4v1m0 2v1m0 27v1m0 7v2m0 1v1m0 3v1m0 2v1m0 15v1m0 10v1m0 1v1m1 -86v1m0 1v1m0 1v1m0 16v1m0 7v1m0 7v1m0 7v1m0 6v1m0 3v2m0 30v1m0 8v1m1 -93v1m0 1v1m0 13v1m0 2v1m0 19v1m0 6v2m0 5v2m0 7v1m0 4v1m0 8v1m0 3v1m0 14v1m1 -102v1m0 24v1m0 3v2m0 10v1m0 32v1m0 6v1m1 -77v1m0 2v1m0 3v1m0 8v2m0 1v4m0 1v1m0 2v1m0 1v1m0 10v1m0 2v1m0 3v1m0 2v1m0 2v1m0 10v1m0 13v1m1 -76v1m0 8v1m0 9v3m0 2v1m0 33v1m0 11v1m0 4v1m1 -73v1m0 1v1m0 14v1m0 20v1m0 5v1m0 2v1m0 24v1m2 -81v1m0 4v1m0 8v2m0 3v1m0 3v1m0 30v1m0 6v1m0 1v1m0 4v1m0 1v1m0 1v1m0 1v1m0 3v1m0 11v1m0 3v1m1 -83v1m0 8v1m0 19v1m0 6v1m0 13v1m0 7v1m0 17v1m1 -86v1m0 2v1m0 32v1m0 19v1m0 15v1m0 2v1m0 3v1m0 12v1m1 -98v3m0 12v1m0 4v1m0 1v2m0 4v1m0 7v1m0 1v1m0 3v1m0 3v1m0 9v1m0 3v1m0 17v1m0 14v1m1 -95v1m0 17v1m0 13v1m0 10v2m0 14v1m0 1v1m0 8v1m1 -50v3m0 16v2m0 26v1m0 17v1m0 3v1m0 5v1m-157 28v2m0 18v1m0 4v2m0 12v1m0 5v1m0 1v2m0 11v1m1 -63v2m0 6v1m0 2v1m0 17v1m0 7v1m0 3v1m0 5v1m0 10v1m0 1v1m0 1v1m1 -80v1m0 6v1m0 20v1m0 2v1m0 7v1m0 6v1m0 15v2m0 6v2m0 5v1m1 -72v1m0 23v1m0 6v1m0 4v2m0 3v1m1 -44v1m0 16v2m0 14v1m0 6v1m0 2v1m0 8v1m0 10v2m0 10v1m1 -78v1m0 14v1m0 8v1m0 8v1m0 9v1m0 1v1m0 16v1m0 1v1m0 5v1m1 -75v1m0 8v1m0 28v2m0 7v1m0 25v1m1 -72v1m0 1v1m0 2v1m0 3v1m0 12v1m0 6v1m0 8v1m0 11v1m0 2v1m0 4v1m0 7v1m0 2v1m0 7v1m1 -75v1m0 3v1m0 11v2m0 33v1m0 2v1m0 3v1m0 13v1m0 2v1m1 -81v1m0 4v1m0 15v1m0 1v1m0 21v1m0 3v1m0 20v1m0 3v1m0 2v1m1 -62v1m0 6v1m0 25v1m1 -48v1m0 11v1m0 7v1m0 1v1m0 1v1m0 4v1m0 8v1m0 6v1m0 3v3m0 9v1m0 3v1m1 -68v1m0 10v1m0 8v1m0 4v1m0 11v1m0 7v1m0 9v1m0 4v2m0 7v1m0 11v1m1 -75v1m0 21v1m0 16v1m0 9v1m0 9v1m0 1v1m0 7v4m1 -26v1m2 -29v1m2 -14v1m0 33v2m0 24v1m4 -64v1m6 3v1m0 38v1m0 8v1m0 14v1m1 -66v1m0 5v1m0 12v2m0 13v1m0 9v1m0 25v1m1 -52v1m0 11v1m0 1v1m0 2v1m0 5v1m0 14v1m0 2v1m0 1v1m0 2v2m1 -76v1m0 6v1m0 2v1m0 8v1m0 4v1m0 5v1m0 6v1m0 11v1m0 14v1m0 1v1m0 3v2m0 6v1m0 2v1m1 -82v2m0 2v1m0 16v1m0 9v1m0 1v2m0 5v1m0 23v1m0 9v1m0 6v1m1 -73v1m0 8v1m0 27v1m0 1v1m0 4v1m0 11v1m0 6v1m0 1v1m0 1v1m0 2v2m1 -52v1m0 5v1m0 9v2m0 9v1m1 -58v1m0 1v1m0 18v1m0 4v1m0 1v1m0 31v1m1 -62v1m0 5v1m0 5v2m0 5v1m0 7v1m0 6v1m0 7v1m0 2v1m0 7v1m0 3v1m0 20v1m1 -80v1m0 13v1m0 10v1m0 1v2m0 19v1m0 3v1m0 12v2m0 5v1m0 4v1m0 1v2m1 -70v1m1 -9v1m0 3v1m0 52v1m0 2v2m1 -60v2m0 3v1m0 35v1m0 15v1m0 5v1m0 1v1m0 3v1m0 4v1m1 -68v1m0 58v1m1 -66v1m0 12v1m0 1v1m0 7v1m0 2v1m0 6v1m0 9v1m0 1v1m0 11v1m0 6v1m1 -68v1m0 53v1m1 -28v1m0 6v1m1 -33v2m0 23v1m0 10v1m0 9v1m1 -37v1m0 11v1m0 13v1m0 13v1m0 7v1m1 -64v1m0 1v2m0 37v1m0 12v1m0 5v1m0 9v2m1 -43v1m0 33v1m1 -34v1m0 10v1m0 9v1m0 2v1m0 7v1m0 10v1m1 -71v1m0 2v1m0 1v1m0 12v2m0 3v1m0 8v1m0 9v1m0 2v1m0 6v1m0 9v1m0 12v1m1 -75v1m0 3v1m0 4v1m0 3v1m0 13v1m0 6v2m0 1v1m0 3v1m0 1v1m0 2v1m0 4v1m0 10v2m0 2v1m0 6v1m1 -77v1m0 29v1m0 3v1m0 12v1m0 8v1m0 8v1m0 1v2m1 -63v1m0 16v1m0 4v1m0 36v1m0 7v1m0 3v1m1 -51v1m0 3v1m0 1v1m0 3v1m0 1v1m0 5v2m0 8v1m0 2v1m0 1v1m0 4v1m0 12v2m0 1v1m1 -61v1m0 8v2m0 1v1m0 2v1m0 1v1m0 1v1m0 4v1m0 4v1m0 1v1m0 11v1m0 1v2m0 4v1m0 1v1m1 -64v1m0 12v1m0 1v1m0 9v2m0 18v1m0 5v1m0 3v1m1 -68v2m0 14v1m0 4v1m0 6v1m0 27v1m0 1v1m0 24v1m1 -84v1m0 1v1m0 2v1m0 2v1m0 7v1m0 1v1m0 5v1m0 1v1m0 10v2m0 6v1m0 3v1m0 9v1m1 -57v1m0 4v1m0 3v1m0 7v1m0 40v1m0 14v1m0 2v1m1 -48v2m0 2v1m0 28v1m0 9v1m0 8v1m1 -85v3m0 11v1m0 30v1m0 12v1m0 16v1m1 -75v2m0 12v1m0 2v1m0 9v2m0 2v1m0 33v1m0 4v1m0 7v1m1 -67v1m0 2v1m0 3v1m0 9v2m0 6v1m0 20v1m0 4v1m0 1v1m0 4v1m0 10v1m1 -77v1m0 4v1m0 17v2m0 1v1m0 20v1m0 2v1m0 12v1m0 2v1m1 -62v1m0 1v1m0 6v1m0 11v1m0 15v1m0 4v1m0 8v1m0 8v1m0 6v1m0 1v1m1 -77v1m0 2v1m0 5v2m0 2v1m0 2v1m0 1v1m0 7v1m0 1v1m0 39v1m0 3v2m0 1v1m1 -70v1m0 37v1m1 -21v1m0 16v1m0 27v1m2 -70v1m0 5v1m0 56v1m0 11v1m1 -79v1m0 4v1m0 5v1m0 2v1m0 20v1m0 1v2m0 8v1m0 21v1m0 5v1m1 -42v1m0 30v1m0 8v1m0 6v1m1 -73v1m0 5v1m0 39v1m0 18v1m0 2v1m0 1v1m1 -81v1m0 6v1m0 6v1m0 17v1m0 10v1m0 2v2m0 23v1m0 1v3m1 -76v1m0 9v1m0 2v1m0 1v1m0 3v1m0 2v1m0 3v1m0 47v2m1 -76v1m0 4v1m0 5v1m0 9v1m0 2v2m0 29v1m0 7v1m0 9v2m1 -75v1m0 5v1m0 3v1m0 2v1m0 4v1m0 1v1m0 5v1m0 10v1m0 3v2m0 7v1m0 4v1m0 9v1m0 5v1m0 2v1m1 -75v4m0 10v1m0 3v1m0 6v1m0 8v1m0 16v1m0 2v1m0 1v1m0 3v1m1 -60v1m0 26v1m0 17v1m0 2v1m0 2v1m0 3v2m1 -56v1m0 1v1m0 13v1m0 42v1m0 5v1m17 -64v1m18 24v1m0 30v1m0 8v2m1 -7v1m1 -38v2m0 1v1m0 3v1m0 20v1m0 1v1m0 4v1m0 8v1m1 -53v1m0 41v1m0 18v1m1 -65v1m0 6v1m0 29v2m0 9v1m0 9v1m0 9v1m1 -85v1m0 9v1m0 1v1m0 5v1m0 7v1m0 5v1m0 15v1m0 14v1m0 5v2m0 2v1m1 -31v1m0 13v2m1 -56v1m0 10v1m0 1v1m0 4v1m0 3v1m0 1v1m0 6v1m0 21v1m0 4v2m0 6v1m1 -50v1m0 6v1m1 -8v1m0 4v1m0 40v2m0 6v1m1 -70v1m2 15v1m0 1v1m0 4v1m0 40v1m0 6v1m1 -8v1m12 -45v1m0 43v1m3 -27v1m0 12v1m0 23v1m2 -79v1m0 41v1m0 8v1m0 20v1m1 -41v1m0 7v2m0 30v1m2 -30v1m0 5v1m0 8v1m2 3v1m0 19v1m1 -37v1m2 -22v1m0 3v2m0 8v1m0 35v2m1 -68v1m0 70v1m2 -68v1m0 40v2"/>
<path stroke="rgb(227,98,69)" stroke-width="1" d="M331.5 43v1m0 4v1m0 13v1m0 9v1m0 27v2m0 23v1m0 11v1m1 -100v1m0 9v2m0 2v1m0 40v1m0 7v3m0 19v4m0 1v1m0 1v1m1 -92v1m0 1v1m0 11v1m0 6v1m0 5v1m0 7v1m0 8v1m0 1v1m0 9v1m0 6v1m0 29v1m0 2v1m1 -94v1m0 1v1m0 17v3m0 9v1m0 11v1m0 5v1m0 9v1m0 3v1m0 6v1m0 4v1m0 1v1m0 1v2m0 4v2m0 1v1m0 3v2m1 -96v1m0 4v1m0 11v1m0 1v1m0 3v2m0 3v3m0 11v1m0 3v1m0 7v1m0 14v1m0 9v1m0 2v1m0 9v1m0 2v1m1 -96v1m0 6v1m0 1v1m0 5v1m0 1v1m0 5v2m0 2v1m0 18v1m0 6v1m0 2v1m0 12v1m0 5v1m0 1v1m0 6v1m0 8v1m1 -96v2m0 2v1m0 3v2m0 9v1m0 7v1m0 4v1m0 4v1m0 7v1m0 1v3m0 3v1m0 8v2m0 2v5m0 10v2m0 4v1m1 -88v2m0 17v1m0 7v1m0 1v1m0 3v2m0 11v1m0 24v3m0 4v2m0 16v1m1 -93v1m0 2v1m0 11v1m0 2v1m0 1v1m0 2v1m0 2v1m0 5v1m0 2v1m0 5v1m0 1v1m0 10v1m0 2v2m0 1v2m0 4v1m0 3v1m0 3v1m0 1v1m0 2v1m1 -82v1m0 14v1m0 12v1m0 7v1m0 2v1m0 1v1m0 1v1m0 3v1m0 12v1m0 4v1m0 7v2m0 2v1m0 2v1m0 1v1m0 3v1m0 7v1m1 -96v1m0 15v1m0 11v1m0 12v1m0 3v2m0 14v1m0 12v1m0 6v1m1 -82v1m0 6v1m0 8v1m0 1v1m0 4v1m0 3v1m0 11v1m0 2v1m0 12v1m0 1v1m0 26v1m0 5v1m1 -92v1m0 22v2m0 14v1m0 34v1m1 -58v1m18 66v1m1 -81v2m0 77v1m0 1v1m1 -70v1m0 10v1m0 39v1m0 1v1m0 15v1m0 6v1m1 -53v1m0 9v1m0 15v1m1 -42v1m0 16v1m2 -9v1m7 5v1m1 -27v1m1 22v1m1 -22v1m0 7v2m0 12v1m0 4v1m0 31v1m1 -50v1m1 -9v1m0 14v1m0 41v1m1 -77v1m0 15v1m0 63v1m1 -5v1m1 -47v1m1 32v1m0 16v1m5 -53v1m0 10v1m0 3v1m0 29v1m0 21v1m3 -88v1m1 -10v1m0 1v1m0 41v1m0 11v1m0 9v1m0 23v2m0 1v3m1 -90v2m0 1v2m0 8v1m0 2v1m0 7v1m0 11v3m0 10v1m0 37v1m0 2v1m1 -69v1m0 40v1m0 1v1m0 15v1m0 6v1m2 -81v1m0 8v1m0 4v1m0 10v1m0 4v2m0 22v1m0 4v1m0 14v1m0 1v1m0 9v1m1 -81v1m0 4v1m0 2v1m0 9v1m0 3v1m0 1v2m0 14v1m0 5v1m0 6v1m0 9v1m0 15v2m1 -79v1m0 2v1m0 2v1m0 5v2m0 2v1m0 9v1m0 1v1m0 9v1m0 13v1m0 5v1m1 -73v1m0 7v1m0 1v1m0 1v1m0 14v1m0 1v1m0 2v1m0 1v1m0 24v1m0 10v1m0 1v1m1 -78v1m1 5v1m0 13v1m0 13v1m1 -4v1m0 12v1m0 26v1m1 -49v1m0 1v1m0 4v2m0 60v1m2 -62v1m0 7v1m0 12v2m0 11v1m0 31v1m1 -90v1m0 51v1m1 -62v1m0 6v1m0 1v1m0 11v1m0 2v1m0 17v1m0 53v1m1 -76v1m0 2v3m0 1v1m0 14v1m0 1v1m0 12v1m0 27v2m0 3v1m1 -30v1m53 -5v1m1 29v1m1 -1v2m-117 69v1m4 18v1m60 -42v2m0 1v2m0 2v1m1 -28v1m1 -12v1m0 3v1m0 23v1m0 7v1m0 24v2m0 10v1m1 -79v1m0 5v1m0 3v1m0 3v1m0 3v1m0 1v1m0 13v1m0 11v1m0 13v1m0 17v1m0 1v1m1 -68v2m0 1v3m0 10v2m0 9v1m0 37v1m1 -78v1m1 14v1m0 20v2m1 -3v1m1 -6v1m0 17v1m0 9v1m0 23v1m1 -44v1m0 19v1m1 -45v1m0 22v1m0 5v1m0 12v1m0 9v1m1 -66v1m0 10v1m0 8v1m0 35v2m0 9v1m3 -24v1m1 -24v1m1 8v1m1 0v1m0 6v1m0 40v1m1 -82v1m0 12v1m0 26v1m0 29v1m0 5v1m2 -42v1m1 -35v1m0 1v1m0 34v2m0 9v1m2 -6v1m0 5v1m1 -39v2m0 30v1m0 30v1m1 -71v1m0 6v1m0 7v1m0 2v1m0 7v3m0 1v4m0 2v1m0 2v1m0 3v1m0 12v1m0 9v1m0 2v2m0 5v1m1 -37v1m1 -26v1m0 47v1m0 7v1m1 -68v1m0 1v1m0 5v1m0 1v1m0 4v1m0 4v1m0 1v1m0 2v1m0 1v1m0 10v2m0 1v2m0 5v1m0 5v1m0 3v2m0 13v1m1 -78v1m0 8v1m0 14v1m0 2v1m0 17v1m0 6v1m0 1v1m0 9v1m0 9v1m1 -77v1m0 3v1m0 2v1m0 1v1m0 26v1m0 5v3m0 5v1m0 3v1m0 9v1m0 4v2m1 -22v1m0 19v1m4 -61v1m14 -6v1m1 34v1m4 -32v1m0 15v1m0 11v1m1 -40v1m0 10v1m0 23v1m0 8v1m0 17v1m3 -51v1m5 0v1m0 37v1"/>
<path stroke="rgb(232,201,207)" stroke-width="1" d="M331.5 81v1m2 15v1m10 23v1m1 -23v1m0 34v1m1 -75v1m0 3v1m0 28v1m0 21v1m0 11v1m1 -60v1m0 12v1m0 4v1m1 -27v1m0 40v1m0 25v1m1 -78v1m0 5v1m0 2v1m0 3v1m1 -5v1m0 20v1m0 46v1m1 -66v1m0 20v1m0 28v1m0 6v1m1 -79v1m0 18v1m0 46v1m0 10v1m1 -69v1m0 42v1m0 7v1m0 6v1m0 8v1m1 -72v1m0 46v1m0 34v1m1 -83v1m0 5v1m0 11v1m0 11v1m1 -24v1m0 31v1m0 21v1m0 11v1m0 7v1m1 -61v1m0 30v1m0 3v1m1 -41v1m0 5v1m0 17v1m0 7v1m0 5v1m0 4v1m1 -63v1m0 11v1m0 6v1m0 9v1m0 13v1m0 13v1m0 35v1m1 -60v1m0 50v1m1 -71v1m0 22v1m0 38v1m1 -50v1m1 46v1m1 -21v1m2 -51v1m0 20v1m2 -27v1m0 5v1m0 3v1m1 0v1m0 30v1m0 27v1m1 -65v1m0 11v1m0 72v1m1 -94v1m0 2v1m0 23v1m0 11v1m0 18v1m1 -52v1m0 24v1m0 6v1m0 49v2m1 -53v1m0 20v1m0 12v1m0 11v1m0 7v1m0 2v1m1 -87v1m0 20v1m0 21v1m0 11v1m0 7v1m1 -67v1m0 1v1m0 19v1m0 19v1m0 47v1m1 -48v1m4 -40v1m0 33v1m1 47v1m1 -59v1m4 -21v2m0 46v1m0 5v1m1 -64v1m0 47v1m1 -17v1m0 34v1m1 -76v1m0 20v1m0 40v1m1 -2v1m1 -62v1m0 11v1m0 20v1m0 6v1m0 3v1m0 25v1m1 -53v1m0 1v1m0 16v1m0 2v1m0 1v1m0 4v1m1 -28v1m4 35v1m1 -54v1m5 48v1m1 16v1m2 -58v1m0 70v1m0 2v1m0 10v1m5 -29v1m1 -37v1m0 39v1m1 -70v1m0 1v1m0 3v1m5 47v1m4 -5v1m3 -26v1m1 2v1m2 -1v1m0 56v1m1 -82v1m1 -11v1m4 9v1m6 37v1m2 3v1m2 -46v1m3 -8v1m0 30v2m0 3v1m0 59v1m1 -89v1m0 59v1m2 -41v1m0 46v1m0 10v1m0 5v1m1 -61v1m0 1v1m0 21v1m0 3v1m1 -27v1m0 48v1m3 -66v1m0 3v2m0 5v1m0 32v1m0 19v1m0 10v1m0 1v1m1 -42v1m2 -12v1m1 10v1m0 9v1m1 -23v1m1 -37v1m0 71v2m0 2v1m1 -43v2m0 15v1m0 3v1m1 -62v2m0 16v1m0 2v1m0 8v1m0 28v1m0 4v1m0 3v1m0 13v1m0 14v1m1 -87v1m0 2v1m0 34v1m0 25v1m0 7v1m1 -33v1m0 31v1m0 11v1m2 -54v1m0 4v1m0 32v1m1 -73v1m0 28v1m0 26v1m1 -44v1m0 39v2m0 17v1m0 13v1m3 -38v1m1 -42v1m2 74v1m2 -88v1m0 27v1m1 -31v1m0 11v1m0 35v1m1 39v1m2 -46v1m0 1v1m0 2v1m0 36v2m1 -46v1m1 -8v1m0 1v1m2 17v1m0 31v1m0 7v1m1 -89v1m2 -5v1m0 79v1m1 -73v1m0 38v1m0 19v1m-157 49v1m0 66v1m2 -1v1m2 -72v1m9 2v1m1 33v1m0 1v1m0 8v1m1 -58v1m0 30v1m0 9v1m0 35v1m1 -71v1m0 8v1m0 13v1m0 4v1m0 34v1m0 2v1m1 -43v1m0 28v1m1 -23v1m0 18v1m0 5v1m1 -59v1m0 64v1m1 -65v1m0 41v2m1 -25v2m0 4v1m0 11v1m0 18v1m0 8v1m1 -71v1m0 2v1m0 12v1m0 18v1m0 13v1m0 21v1m1 -61v1m0 2v1m0 12v1m1 -4v1m1 36v2m0 10v1m1 -60v1m0 14v1m0 18v1m1 -52v1m0 6v1m0 6v1m0 19v1m1 11v1m0 22v1m0 1v1m1 -66v1m0 33v1m0 20v1m1 -61v1m0 25v1m0 8v1m0 14v1m1 -38v1m2 -4v1m1 -1v1m4 22v1m0 20v2m2 -7v1m0 31v1m1 -71v1m0 29v1m0 4v1m0 5v1m0 22v1m1 -79v1m0 65v1m1 -42v2m0 4v1m0 11v2m0 5v1m0 4v1m0 25v1m1 -68v1m2 -1v1m0 5v1m0 2v1m0 16v1m0 25v1m2 -52v1m0 6v1m0 23v1m0 13v1m1 -53v1m0 74v1m3 -44v1m0 22v1m2 -20v1m2 -24v1m0 10v1m0 8v1m0 2v1m0 2v1m1 -8v1m0 5v1m2 31v1m1 -49v1m0 13v1m0 4v1m1 -2v1m1 0v2m1 -22v1m1 -25v1m0 1v1m0 10v1m1 15v1m1 31v1m1 -54v1m0 29v1m0 30v1m1 -39v1m0 30v1m0 1v1m1 -50v1m0 5v1m0 52v1m1 -68v1m0 9v2m0 8v1m1 -26v1m1 54v2m0 15v1m1 -77v1m0 29v1m2 8v1m1 40v1m4 -43v1m10 32v1m4 -75v1m1 5v1m0 2v1m2 49v1m0 1v2m1 -48v1m1 53v1m2 -6v1m6 -55v1m6 -10v1m0 6v1m0 3v1m0 16v1m0 33v1m1 5v1m0 2v2m1 -63v2m0 11v1m0 8v1m0 3v1m0 6v1m1 -4v1m0 17v1m1 -38v1m0 51v1m4 -52v1m0 48v1m0 1v1m0 1v1m1 6v1m1 -76v1m0 7v1m0 16v1m0 12v1m1 32v1m1 -78v1m1 80v1m1 -84v1m0 17v1m0 15v1m0 2v1m0 25v1m0 9v1m0 3v1m1 -73v1m0 15v1m0 22v1m0 25v1m0 1v1m1 -72v1m0 52v1m1 -7v1m1 -43v1m0 57v1m1 -30v1m0 19v1m1 -38v1m0 30v1m0 24v1m1 -65v1m0 23v1m0 11v1m1 -37v1m0 68v1m1 -61v1m0 37v1m1 -51v1m0 35v1m0 3v1m0 24v2m0 2v1m1 -61v1m0 29v2m0 16v1m1 -57v1m0 35v1m0 7v1m1 -53v1m0 10v1m0 40v1m2 23v1m1 -70v1m0 14v1m0 14v1m0 29v2m1 -63v1m0 8v1m0 29v1m0 17v1m1 8v1m0 2v1m1 -56v1m0 15v1m0 21v1m0 4v1m0 6v1m1 -63v1m0 33v1m0 8v1m0 30v1m1 -78v1m0 22v1m0 14v1m0 12v1m1 -16v1m0 11v1m1 -32v1m0 16v1m0 6v1m1 -46v1m0 1v1m0 3v1m0 26v1m0 4v1m0 10v1m0 7v2m0 11v1m1 -72v1m0 1v1m0 64v1m1 -49v1m0 19v1m0 14v1m0 20v1m1 -61v1m0 8v1m1 -13v1m0 3v1m0 6v1m0 22v1m0 15v1m1 -16v1m0 13v1m0 11v1m0 3v1m1 -71v1m0 14v1m0 13v1"/>
<path stroke="rgb(191,152,181)" stroke-width="1" d="M344.5 122v1m3 1v1m1 0v1m2 -12v1m0 1v1m2 -68v1m0 17v1m1 31v1m1 -61v1m0 95v1m1 -43v1m1 -20v1m1 -24v1m1 83v1m1 -82v1m1 7v1m0 53v1m7 -49v1m1 -16v1m1 34v1m3 -38v1m0 78v1m1 -67v1m1 25v1m2 16v1m15 -19v1m19 -49v2m0 48v1m0 28v2m1 9v1m9 -65v1m0 68v1m2 -2v1m2 -93v1m1 33v1m4 -16v1m0 1v1m0 28v1m0 12v1m0 10v1m2 -47v1m6 36v1m3 25v1m6 -59v1m0 19v1m1 -49v1m0 34v1m0 27v1m2 -62v1m1 67v1m0 5v1m2 -16v1m2 -25v1m3 29v1m1 -42v1m2 -24v1m0 40v1m2 -4v1m0 30v1m7 10v1m1 -44v1m0 17v1m1 -41v1m3 19v1m1 -28v1m2 16v1m1 -33v1m0 44v1m0 3v1m0 8v1m0 15v1m1 -80v1m1 5v1m0 88v1m2 -62v1m2 -21v1m0 72v1m3 -5v1m0 13v1m1 -96v1m0 3v2m0 21v1m0 42v1m-157 52v1m0 32v1m2 -37v1m0 20v1m2 -34v1m1 19v1m0 1v1m8 -22v1m0 7v1m0 1v1m0 28v1m0 23v1m1 -63v1m0 30v1m0 1v1m2 -39v1m1 56v1m0 3v1m1 -64v1m0 45v1m0 17v1m2 -52v1m0 1v1m3 26v1m0 14v1m0 11v1m0 9v1m2 -59v1m0 6v1m2 -15v1m1 44v1m1 -57v1m0 12v1m1 -4v1m0 29v1m3 -11v1m0 9v1m0 16v1m1 -30v1m0 32v2m1 -39v1m0 22v1m0 3v1m2 17v1m2 -63v1m0 9v1m1 13v1m1 -18v1m1 -17v1m1 29v1m1 -35v1m0 18v1m0 7v1m0 17v1m0 17v1m0 8v1m1 -49v1m0 18v1m0 14v1m0 10v1m2 -59v1m0 14v1m1 37v1m0 11v1m1 -12v1m1 -43v1m4 -25v1m7 49v1m2 28v1m2 -40v1m1 -1v1m0 2v1m0 24v1m1 -31v1m0 21v1m0 8v1m2 -17v1m0 19v1m2 -43v1m0 45v1m1 -55v1m1 42v1m2 -64v1m0 66v1m1 -42v1m2 11v1m1 -42v1m0 22v1m0 9v1m2 -20v1m0 45v1m35 -30v1m0 11v1m0 4v1m1 -48v1m0 63v1m1 -55v1m0 14v1m0 2v1m0 2v1m0 6v1m0 8v1m1 0v1m1 -17v1m0 18v1m1 -43v1m0 33v1m0 15v1m1 -60v1m0 36v1m1 -39v1m0 10v1m0 53v1m3 -46v1m2 -20v1m4 30v1m1 3v1m5 7v1m2 14v1m2 -4v1m1 -41v1m0 53v1m1 -44v1m1 27v1m1 -50v1m0 2v1m0 9v1m0 11v1m0 9v1m0 6v1m0 7v1m0 5v1m0 5v1m2 -65v1m0 6v1m0 69v1m1 -82v1m1 42v1m0 22v1m0 9v1m2 -30v1m1 -48v1m0 15v1m0 48v1m2 7v1m1 -16v1m1 -55v1m0 13v1m0 22v1m0 26v1m0 6v1m0 2v1"/>
<path stroke="rgb(230,110,81)" stroke-width="1" d="M331.5 46v1m0 6v1m0 7v1m0 5v1m0 18v1m0 8v1m1 -59v1m0 13v1m0 9v1m0 6v1m0 2v1m0 3v1m0 5v2m0 3v1m0 4v1m0 3v1m0 8v1m0 1v1m0 1v1m0 24v1m0 3v1m1 -96v1m0 6v2m0 1v1m0 4v1m0 1v1m0 4v1m0 8v1m0 7v2m0 3v1m0 1v1m0 4v1m0 6v1m0 6v1m0 4v1m0 12v1m0 1v4m0 3v1m1 -90v2m0 12v1m0 8v1m0 4v1m0 3v1m0 15v1m0 2v1m0 2v1m0 4v2m0 3v1m0 1v1m0 18v1m1 -86v1m0 2v1m0 1v1m0 2v1m0 3v1m0 1v1m0 2v2m0 8v1m0 2v1m0 18v1m0 22v1m0 9v1m0 6v2m1 -100v1m0 1v1m0 7v1m0 2v1m0 7v1m0 8v1m0 2v1m0 6v1m0 8v1m0 44v1m1 -90v1m0 8v1m0 12v1m0 21v1m0 8v1m0 15v1m0 16v1m0 3v1m1 -87v1m0 11v1m0 5v1m0 3v1m0 6v2m0 2v1m0 7v1m0 7v1m0 1v2m0 3v2m0 1v1m0 14v1m0 8v1m0 1v1m0 3v1m1 -98v1m0 39v1m0 7v1m0 3v1m0 2v1m0 13v2m0 2v1m0 7v1m0 11v1m1 -83v1m0 6v1m0 1v1m0 2v2m0 5v1m0 7v1m0 11v1m0 1v1m0 19v1m0 3v1m0 20v1m1 -73v1m0 1v1m0 1v1m0 2v1m0 10v1m0 15v1m0 2v1m0 20v1m0 4v2m1 -90v1m0 3v1m0 13v1m0 1v1m0 2v1m0 5v1m0 3v1m0 4v1m0 9v1m0 3v1m0 12v1m0 2v1m0 2v1m0 16v2m1 -89v1m0 26v1m0 11v1m0 4v1m0 3v1m0 27v1m1 15v1m17 -30v1m1 -38v1m0 49v1m1 -70v1m0 10v1m0 8v1m0 9v1m0 5v1m0 14v1m0 33v1m1 -90v2m0 13v1m0 8v1m0 15v1m0 23v1m0 1v1m0 14v1m1 -79v1m0 18v1m0 42v1m1 -42v1m0 16v1m0 20v2m0 3v1m0 4v1m0 17v1m1 -29v1m1 14v1m7 -79v1m0 7v2m0 25v1m0 20v1m0 21v1m1 -77v1m0 1v1m0 20v1m0 10v1m0 12v1m0 6v1m1 -44v1m0 2v1m0 6v1m0 1v1m0 9v1m0 19v1m1 -48v1m0 4v1m0 26v2m0 25v1m0 5v1m0 13v1m0 7v2m1 -97v1m0 65v1m1 -48v1m0 11v1m0 65v1m1 -85v1m0 17v1m0 30v1m1 -66v1m0 2v1m0 15v1m0 46v1m0 1v1m1 12v1m1 -83v1m0 11v1m0 16v1m0 1v1m0 13v2m2 18v1m0 30v1m1 -49v1m0 48v1m2 -98v1m0 52v1m0 2v1m0 8v1m0 15v1m0 11v1m3 -37v1m1 -52v2m0 40v1m0 13v1m1 -60v1m0 2v1m0 6v1m0 3v1m0 4v1m0 4v1m0 1v2m0 5v1m0 1v1m0 21v1m0 1v2m0 6v1m0 17v1m0 6v1m1 -89v2m0 1v1m0 12v1m0 6v2m0 13v1m0 14v1m0 1v1m0 16v1m0 17v1m1 -53v1m0 43v1m1 -87v2m0 17v2m0 15v1m0 1v1m0 2v1m0 9v1m0 5v1m0 5v3m0 21v1m0 5v1m1 -94v1m0 12v1m0 20v2m0 8v1m0 2v1m0 5v1m0 6v1m0 6v1m0 15v1m0 8v1m0 3v1m1 -100v1m0 2v1m0 4v1m0 6v1m0 2v1m0 3v1m0 8v1m0 16v1m0 6v1m0 6v2m0 3v1m0 3v2m0 1v1m0 1v1m0 11v1m0 2v1m0 5v1m0 1v2m1 -95v1m0 1v1m0 9v1m0 3v2m0 3v1m0 7v1m0 9v1m0 7v1m0 12v2m0 32v1m1 -78v1m0 13v1m0 22v1m1 -50v1m0 32v2m0 4v1m1 -7v1m0 20v1m0 3v1m0 13v1m1 -83v1m0 15v1m0 2v1m0 2v1m0 18v1m0 1v1m0 4v1m1 -24v1m1 5v1m0 3v1m0 10v1m0 2v1m0 3v2m0 3v1m0 12v1m0 7v2m0 8v1m0 1v1m1 -43v2m0 4v2m0 31v1m0 2v1m0 8v1m1 -52v1m0 13v1m0 10v1m0 2v1m0 21v1m1 -101v1m0 5v1m0 1v1m0 11v3m0 2v1m0 8v1m0 3v1m0 8v1m0 8v1m0 13v1m0 5v1m54 -74v1m3 21v1m-111 117v1m0 2v1m3 -40v1m42 9v1m12 32v1m1 -39v1m0 8v1m0 8v1m0 1v1m0 6v1m0 3v1m0 2v1m0 6v2m0 20v1m1 -72v1m0 3v1m0 6v2m0 2v2m0 3v1m0 1v1m0 9v1m0 12v1m1 -43v1m0 7v1m0 4v2m0 18v1m0 3v5m0 7v1m0 19v2m0 7v1m1 -82v1m0 5v1m0 1v1m0 13v1m0 1v1m0 6v1m0 9v1m0 12v1m0 1v1m0 1v2m0 5v1m0 1v1m0 3v1m0 2v1m0 7v1m1 -78v1m0 32v1m0 10v1m1 -45v1m0 21v1m0 11v1m1 -37v1m0 22v1m0 15v1m0 10v1m1 -37v1m0 37v1m0 1v1m0 10v1m1 -52v1m0 15v1m0 5v1m0 28v3m0 13v1m1 -77v2m0 4v1m0 31v1m0 2v1m0 2v1m0 1v2m0 14v1m0 10v1m1 -74v1m0 6v1m0 17v2m0 4v1m0 25v1m2 -3v1m1 -38v1m0 5v1m0 9v1m1 -22v1m0 12v1m0 14v1m0 1v1m2 -39v1m0 26v1m0 5v1m0 28v2m1 -69v1m0 15v1m0 4v1m0 3v1m0 22v1m0 18v1m1 -75v1m0 21v1m0 6v2m0 23v1m0 2v1m1 -57v1m0 14v1m0 11v1m0 3v1m0 21v1m0 2v1m0 14v1m1 -44v1m0 24v1m0 12v1m1 -30v1m1 -38v1m0 15v1m0 28v1m0 28v1m1 -60v1m0 10v1m0 4v3m0 3v1m0 1v1m0 4v1m0 11v1m0 13v1m1 -71v1m0 2v1m0 10v1m0 3v1m0 6v2m0 1v2m0 8v1m0 9v1m0 2v1m0 6v2m0 8v1m0 2v2m0 5v1m0 2v2m1 -68v1m0 24v1m1 -23v1m0 9v1m0 12v2m0 21v1m1 -67v1m0 12v1m0 14v1m0 21v1m0 12v1m0 1v1m0 7v1m0 1v1m0 4v1m1 -80v1m0 10v3m0 16v1m0 5v3m0 8v1m0 3v1m0 1v1m0 10v1m1 -63v1m0 1v1m0 1v1m0 4v1m0 2v1m0 6v1m0 20v1m0 11v2m0 8v1m0 1v1m0 11v1m0 2v2m1 -60v2m0 20v1m0 1v3m0 23v2m1 -43v1m17 -27v1m0 13v1m0 4v1m2 25v1m1 -51v1m1 64v1m1 -41v1m0 18v1m0 22v1m1 -59v1m0 5v1m0 4v1m0 5v1m0 12v1m0 10v1m0 2v1m0 3v3m0 19v1m15 -38v1m1 -28v1"/>
</g></g>
<rect x="331" y="138" width="158" height="2" fill="#fff"/>
<rect x="331" y="30.8" width="80.5" height="4.8" fill="#2ba2dc"/>
<rect x="411.5" y="30.8" width="77.5" height="4.8" fill="#f2b51d"/>
<path d="M349.3 26.6V20.3H441.5V25.8M333.5 26.6H364.5M422.3 26.2H472" stroke="#555" stroke-width="0.65" fill="none"/>
<path d="M331.5 28.6V27.7M332.8 28.6V27.5M334.1 28.6V26.9M334.8 28.6V28.2M336.4 28.6V27.7M337.2 28.6V26.2M338.4 28.6V26.5M339.6 28.6V26.9M340.4 28.6V26.9M342.0 28.6V27.2M343.5 28.6V26.9M344.2 28.6V26.7M345.5 28.6V27.6M346.1 28.6V26.5M347.3 28.6V26.8M348.9 28.6V26.8M350.6 28.6V27.4M352.2 28.6V27.3M353.9 28.6V26.4M354.6 28.6V27.9M355.5 28.6V26.3M356.6 28.6V26.9M357.6 28.6V27.2M358.6 28.6V27.5M360.0 28.6V27.0M361.6 28.6V26.8M363.4 28.6V26.5M365.1 28.6V26.9M365.9 28.6V26.5M367.7 28.6V26.4M369.0 28.6V26.8M369.8 28.6V26.5M371.1 28.6V27.6M371.8 28.6V26.5M373.6 28.6V28.0M375.1 28.6V27.4M375.9 28.6V27.6M377.4 28.6V26.5M378.1 28.6V27.0M378.8 28.6V26.8M379.8 28.6V26.4M381.5 28.6V27.2M383.3 28.6V27.6M384.0 28.6V27.0M384.7 28.6V27.8M385.7 28.6V27.0M386.5 28.6V28.1M388.2 28.6V27.6M389.9 28.6V26.4M391.0 28.6V27.3M392.2 28.6V26.9M393.5 28.6V27.1M394.9 28.6V26.3M396.1 28.6V27.3M397.5 28.6V27.7M398.5 28.6V26.2M399.7 28.6V27.1M400.3 28.6V27.4M401.6 28.6V28.2M403.0 28.6V26.9M403.6 28.6V26.9M404.8 28.6V26.8M405.8 28.6V26.8M407.3 28.6V28.2M408.0 28.6V26.8M409.7 28.6V27.7M410.9 28.6V27.0M411.9 28.6V27.5M412.8 28.6V27.5M414.2 28.6V27.6M415.2 28.6V26.7M415.8 28.6V27.1M417.3 28.6V27.6M418.2 28.6V26.6M419.1 28.6V27.8M420.2 28.6V26.8M420.9 28.6V27.6M421.9 28.6V26.5M423.1 28.6V26.5M423.9 28.6V27.5M425.2 28.6V26.4M426.4 28.6V27.7M427.1 28.6V27.1M428.0 28.6V26.6M429.6 28.6V27.8M430.5 28.6V26.6M431.9 28.6V26.6M432.9 28.6V27.9M433.8 28.6V26.6M434.8 28.6V27.5M435.9 28.6V27.4M436.9 28.6V26.4M437.7 28.6V28.2M439.5 28.6V26.4M441.2 28.6V27.3M443.0 28.6V26.3M443.9 28.6V26.7M445.5 28.6V26.9M446.7 28.6V27.6M447.7 28.6V27.7M448.4 28.6V27.0M449.3 28.6V26.6M450.0 28.6V26.4M451.4 28.6V26.4M453.1 28.6V26.4M454.4 28.6V28.2M455.9 28.6V27.9M456.8 28.6V26.9M458.1 28.6V27.4M459.8 28.6V27.0M460.8 28.6V27.7M462.4 28.6V27.2M464.0 28.6V27.5M464.8 28.6V27.1M466.4 28.6V27.9M467.9 28.6V26.4M469.5 28.6V26.6M470.1 28.6V26.9M471.7 28.6V28.1M472.7 28.6V27.7M473.9 28.6V27.4M475.1 28.6V26.6M475.7 28.6V28.1M476.4 28.6V28.0M477.1 28.6V26.3M478.7 28.6V28.0M479.9 28.6V27.6M480.9 28.6V27.5M482.3 28.6V27.0M483.3 28.6V27.8M484.3 28.6V28.0M485.6 28.6V26.8M486.6 28.6V28.0M487.5 28.6V27.5" stroke="#444" stroke-width="0.55" fill="none"/>
<rect x="331" y="27.9" width="158" height="2.1" fill="#262626" opacity="0.85"/>
<text x="491.80" y="35.50" font-size="7.4" fill="#333" stroke="#333" stroke-width="0.1" textLength="19.70" lengthAdjust="spacingAndGlyphs">sample</text>
<text x="491.80" y="42.70" font-size="7.4" fill="#333" stroke="#333" stroke-width="0.1" textLength="21.30" lengthAdjust="spacingAndGlyphs">clusters</text>
<text x="324.60" y="87.10" font-size="6.4" fill="#333" stroke="#333" stroke-width="0.1" text-anchor="middle" textLength="34.70" lengthAdjust="spacingAndGlyphs" transform="rotate(-90 324.60 87.10)">CC17 genes</text>
<text x="324.60" y="181.60" font-size="6.4" fill="#333" stroke="#333" stroke-width="0.1" text-anchor="middle" textLength="35.70" lengthAdjust="spacingAndGlyphs" transform="rotate(-90 324.60 181.60)">CC21 genes</text>
<defs><linearGradient id="cb" x1="0" y1="0" x2="0" y2="1"><stop offset="0" stop-color="#c62a1e"/><stop offset="0.25" stop-color="#ea7a5e"/><stop offset="0.5" stop-color="#fbf7f8"/><stop offset="0.75" stop-color="#8479c4"/><stop offset="1" stop-color="#271a80"/></linearGradient></defs>
<rect x="491.9" y="106.6" width="6.7" height="35.7" fill="url(#cb)"/>
<text x="491.90" y="103.40" font-size="7.0" fill="#333" stroke="#333" stroke-width="0.1" textLength="19.80" lengthAdjust="spacingAndGlyphs">z-score</text>
<text x="501.20" y="110.80" font-size="7.0" fill="#333" stroke="#333" stroke-width="0.1">2</text>
<text x="501.20" y="118.50" font-size="7.0" fill="#333" stroke="#333" stroke-width="0.1">1</text>
<text x="501.20" y="126.60" font-size="7.0" fill="#333" stroke="#333" stroke-width="0.1">0</text>
<text x="501.20" y="135.10" font-size="7.0" fill="#333" stroke="#333" stroke-width="0.1">−1</text>
<text x="501.20" y="143.40" font-size="7.0" fill="#333" stroke="#333" stroke-width="0.1">−2</text>
<text x="332.90" y="233.70" font-size="6.6" fill="#333" stroke="#333" stroke-width="0.1" textLength="44.20" lengthAdjust="spacingAndGlyphs">sample clusters</text>
<rect x="332.9" y="239.2" width="5.9" height="5.5" fill="#2ba2dc"/>
<rect x="332.9" y="249" width="5.9" height="5.6" fill="#f2b51d"/>
<text x="342.00" y="243.80" font-size="6.4" fill="#333" stroke="#333" stroke-width="0.1" textLength="70.00" lengthAdjust="spacingAndGlyphs">CC17-expressing cluster</text>
<text x="342.00" y="253.70" font-size="6.4" fill="#333" stroke="#333" stroke-width="0.1" textLength="70.00" lengthAdjust="spacingAndGlyphs">CC21-expressing cluster</text>
<text x="6.90" y="285.10" font-size="12.0" fill="#111" font-weight="bold">C</text>
<text x="79.00" y="285.00" font-size="9.6" fill="#222" textLength="138.00" lengthAdjust="spacingAndGlyphs">CC17 expression per treatment arm</text>
<path d="M77.8 296.0h9.5" stroke="#3d9ad6" stroke-width="1.7"/>
<path d="M77.8 305.8h9.5" stroke="#f0b72f" stroke-width="1.7"/>
<text x="89.90" y="298.10" font-size="6.9" fill="#222" stroke="#222" stroke-width="0.1" textLength="65.70" lengthAdjust="spacingAndGlyphs">CC17 high, R+CHEMO</text>
<text x="171.80" y="298.10" font-size="6.9" fill="#222" stroke="#222" stroke-width="0.1" textLength="46.60" lengthAdjust="spacingAndGlyphs">CC17 high, R+R</text>
<text x="89.90" y="307.90" font-size="6.9" fill="#222" stroke="#222" stroke-width="0.1" textLength="65.70" lengthAdjust="spacingAndGlyphs">CC17 Low, R+CHEMO</text>
<text x="171.80" y="307.90" font-size="6.9" fill="#222" stroke="#222" stroke-width="0.1" textLength="45.60" lengthAdjust="spacingAndGlyphs">CC17 Low, R+R</text>
<path d="M159.6 296.0h9.5" stroke="#62b2e2" stroke-width="1.5" stroke-dasharray="1.4 1"/>
<path d="M159.6 305.8h9.5" stroke="#f5c65a" stroke-width="1.5" stroke-dasharray="1.4 1"/>
<text x="52.40" y="320.10" font-size="6.3" fill="#222" stroke="#222" stroke-width="0.1" text-anchor="end" textLength="15.00" lengthAdjust="spacingAndGlyphs">100%</text>
<text x="52.40" y="345.40" font-size="6.3" fill="#222" stroke="#222" stroke-width="0.1" text-anchor="end" textLength="11.80" lengthAdjust="spacingAndGlyphs">75%</text>
<text x="52.40" y="370.60" font-size="6.3" fill="#222" stroke="#222" stroke-width="0.1" text-anchor="end" textLength="11.80" lengthAdjust="spacingAndGlyphs">50%</text>
<text x="52.40" y="395.90" font-size="6.3" fill="#222" stroke="#222" stroke-width="0.1" text-anchor="end" textLength="11.80" lengthAdjust="spacingAndGlyphs">25%</text>
<text x="52.40" y="421.10" font-size="6.3" fill="#222" stroke="#222" stroke-width="0.1" text-anchor="end" textLength="9.40" lengthAdjust="spacingAndGlyphs">0%</text>
<text x="31.40" y="368.00" font-size="7.9" fill="#333" stroke="#333" stroke-width="0.1" text-anchor="middle" textLength="43.00" lengthAdjust="spacingAndGlyphs" transform="rotate(-90 31.40 368.00)">PFS probability</text>
<path d="M58.6 312.0V424.20000000000005M58.0 423.6H238.3" stroke="#1a1a1a" stroke-width="1.2" fill="none"/>
<text x="66.50" y="435.90" font-size="6.6" fill="#333" stroke="#333" stroke-width="0.1" text-anchor="middle">0</text>
<text x="107.30" y="435.90" font-size="6.6" fill="#333" stroke="#333" stroke-width="0.1" text-anchor="middle">2</text>
<text x="148.10" y="435.90" font-size="6.6" fill="#333" stroke="#333" stroke-width="0.1" text-anchor="middle">4</text>
<text x="188.90" y="435.90" font-size="6.6" fill="#333" stroke="#333" stroke-width="0.1" text-anchor="middle">6</text>
<text x="229.70" y="435.90" font-size="6.6" fill="#333" stroke="#333" stroke-width="0.1" text-anchor="middle">8</text>
<path d="M55.0 317.2H58.6M55.0 342.5H58.6M55.0 367.7H58.6M55.0 393.0H58.6M55.0 418.2H58.6M66.5 423.6v2.8M107.3 423.6v2.8M148.1 423.6v2.8M188.9 423.6v2.8M229.7 423.6v2.8" stroke="#1a1a1a" stroke-width="0.9" fill="none"/>
<text x="130.20" y="446.80" font-size="8.1" fill="#333" stroke="#333" stroke-width="0.22" textLength="35.70" lengthAdjust="spacingAndGlyphs">Time (years)</text>
<path d="M66.0 317.3H71.0V319.0H76.5V319.0H76.5V325.6H79.0V325.6H79.0V328.0H82.0V328.0H82.0V329.6H91.0V329.6H91.0V331.2H96.0V331.2H96.0V336.5H101.8V336.5H101.8V339.4H107.0V339.4H107.0V340.8H112.0V340.8H112.0V342.3H118.0V342.3H118.0V344.6H122.0V344.6H122.0V346.0H126.0V346.0H126.0V347.5H130.0V347.5H130.0V350.0H133.0V350.0H133.0V352.0H135.6V352.0H135.6V356.3H140.0V356.3H140.0V357.5H145.0V357.5H145.0V359.0H162.5V359.0H162.5V362.4H170.0V362.4H170.0V364.0H174.3V364.0H174.3V366.1H178.0V366.1H178.0V367.5H183.0V367.5H183.0V368.7H216.2V368.7H216.2V373.0H224.8V373.0" stroke="#f0b72f" stroke-width="1.35" fill="none"/>
<path d="M124.0 344.7v2.6M150.2 357.7v2.6M156.6 357.7v2.6M167.7 361.1v2.6M172.0 362.7v2.6M176.3 364.8v2.6M188.2 367.4v2.6M194.6 367.4v2.6M201.0 367.4v2.6M204.2 367.4v2.6M210.6 367.4v2.6M213.8 367.4v2.6" stroke="#f0b72f" stroke-width="0.8" fill="none"/>
<path d="M66.0 317.3H74.0V317.3H74.0V320.0H82.0V320.0H82.0V322.0H92.0V322.0H92.0V324.0H100.0V324.0H100.0V325.5H110.0V325.5H110.0V327.0H120.0V327.0H120.0V330.0H130.0V330.0H130.0V333.0H142.0V333.0H142.0V336.2H150.0V336.2H150.0V340.0H160.0V340.0H160.0V344.0H168.0V344.0H168.0V348.0H175.0V348.0H175.0V352.0H185.0V352.0H185.0V354.8H236.0V354.8" stroke="#f5c65a" stroke-width="1.3" fill="none" stroke-dasharray="2.2 1.8"/>
<path d="M94.0 322.7v2.6M108.4 324.2v2.6M125.2 328.7v2.6M128.4 328.7v2.6M132.0 331.7v2.6M135.2 331.7v2.6M138.4 331.7v2.6M144.0 334.9v2.6M152.0 338.7v2.6M158.4 338.7v2.6M162.0 342.7v2.6M173.2 346.7v2.6M183.4 350.7v2.6M190.2 353.5v2.6M199.8 353.5v2.6M206.2 353.5v2.6M212.6 353.5v2.6M215.8 353.5v2.6M219.0 353.5v2.6M225.4 353.5v2.6" stroke="#f5c65a" stroke-width="0.8" fill="none"/>
<path d="M66.0 317.3H72.0V317.3H72.0V319.0H80.0V319.0H80.0V322.0H90.0V322.0H90.0V325.0H100.0V325.0H100.0V328.0H110.0V328.0H110.0V331.0H120.0V331.0H120.0V334.0H130.0V334.0H130.0V336.5H143.0V336.5H143.0V340.0H150.0V340.0H150.0V345.0H155.8V345.0H155.8V348.3H172.0V348.3H172.0V350.0H180.0V350.0H180.0V352.0H190.0V352.0H190.0V354.5H236.0V354.5" stroke="#62b2e2" stroke-width="1.3" fill="none" stroke-dasharray="2.2 1.8"/>
<path d="M92.0 323.7v2.6M95.2 323.7v2.6M105.2 326.7v2.6M118.4 329.7v2.6M125.2 332.7v2.6M128.4 332.7v2.6M138.4 335.2v2.6M148.2 338.7v2.6M152.0 343.7v2.6M157.8 347.0v2.6M161.0 347.0v2.6M164.2 347.0v2.6M174.0 348.7v2.6M177.2 348.7v2.6M188.4 350.7v2.6M192.0 353.2v2.6M204.8 353.2v2.6M208.0 353.2v2.6M214.4 353.2v2.6M224.0 353.2v2.6" stroke="#62b2e2" stroke-width="0.8" fill="none"/>
<path d="M66.0 317.3H85.0V317.3H85.0V320.0H88.0V320.0H88.0V324.4H95.0V324.4H95.0V327.3H100.0V327.3H100.0V329.0H105.0V329.0H105.0V331.0H110.0V331.0H110.0V332.5H116.0V332.5H116.0V334.2H120.0V334.2H120.0V336.0H128.0V336.0H128.0V337.5H136.0V337.5H136.0V339.0H143.0V339.0H143.0V340.5H150.0V340.5H150.0V342.0H153.0V342.0H153.0V343.2H172.0V343.2H172.0V345.6H180.0V345.6H180.0V347.5H184.0V347.5H184.0V350.2H190.0V350.2H190.0V352.0H196.0V352.0H196.0V353.5H227.0V353.5H227.0V376.0H238.0V376.0" stroke="#3d9ad6" stroke-width="1.35" fill="none"/>
<path d="M97.0 326.0v2.6M102.0 327.7v2.6M107.0 329.7v2.6M118.0 332.9v2.6M155.0 341.9v2.6M158.2 341.9v2.6M161.4 341.9v2.6M164.6 341.9v2.6M182.0 346.2v2.6M186.0 348.9v2.6M192.0 350.7v2.6M204.4 352.2v2.6M223.6 352.2v2.6M232.2 374.7v2.6" stroke="#3d9ad6" stroke-width="0.8" fill="none"/>
<text x="176.40" y="327.40" font-size="7.0" fill="#62b2e2" stroke="#62b2e2" stroke-width="0.1" textLength="30.60" lengthAdjust="spacingAndGlyphs">CC17 high</text>
<text x="79.50" y="367.80" font-size="7.0" fill="#f5c65a" stroke="#f5c65a" stroke-width="0.1" textLength="27.60" lengthAdjust="spacingAndGlyphs">CC17 low</text>
<text x="61.60" y="395.60" font-size="6.7" fill="#222" stroke="#222" stroke-width="0.1" textLength="139.60" lengthAdjust="spacingAndGlyphs">CC17 high versus CC17 low R+R logrank <tspan font-style="italic">P</tspan> = .94</text>
<text x="61.60" y="403.40" font-size="6.7" fill="#222" stroke="#222" stroke-width="0.1" textLength="164.90" lengthAdjust="spacingAndGlyphs">CC17 high versus CC17 low R+CHEMO logrank <tspan font-weight="bold">P = .002</tspan></text>
<text x="61.60" y="411.10" font-size="6.7" fill="#222" stroke="#222" stroke-width="0.1" textLength="175.70" lengthAdjust="spacingAndGlyphs">CC17 high R+CHEMO versus CC17 high R+R logrank <tspan font-style="italic">P</tspan> = .91</text>
<text x="61.60" y="418.90" font-size="6.7" fill="#222" stroke="#222" stroke-width="0.1" textLength="176.50" lengthAdjust="spacingAndGlyphs">CC17 low R+CHEMO versus CC17 low R+R logrank <tspan font-weight="bold">P = .026</tspan></text>
<path d="M58.6 455.3V517.4M58.0 516.8H237.6" stroke="#1a1a1a" stroke-width="1.2" fill="none"/>
<text x="51.60" y="462.80" font-size="6.6" fill="#eeb52a" stroke="#eeb52a" stroke-width="0.05" text-anchor="end" textLength="40.70" lengthAdjust="spacingAndGlyphs">CC17,High,R+</text>
<text x="51.60" y="470.50" font-size="6.6" fill="#eeb52a" stroke="#eeb52a" stroke-width="0.05" text-anchor="end" textLength="23.00" lengthAdjust="spacingAndGlyphs">CHEMO</text>
<text x="66.50" y="462.80" font-size="6.6" fill="#222" stroke="#222" stroke-width="0.1" text-anchor="middle">83</text>
<text x="107.30" y="462.80" font-size="6.6" fill="#222" stroke="#222" stroke-width="0.1" text-anchor="middle">70</text>
<text x="148.10" y="462.80" font-size="6.6" fill="#222" stroke="#222" stroke-width="0.1" text-anchor="middle">62</text>
<text x="188.90" y="462.80" font-size="6.6" fill="#222" stroke="#222" stroke-width="0.1" text-anchor="middle">34</text>
<text x="229.70" y="462.80" font-size="6.6" fill="#222" stroke="#222" stroke-width="0.1" text-anchor="middle">2</text>
<text x="51.60" y="480.50" font-size="6.6" fill="#eeb52a" stroke="#eeb52a" stroke-width="0.05" text-anchor="end" textLength="44.60" lengthAdjust="spacingAndGlyphs">CC17,High,R+R</text>
<text x="66.50" y="480.50" font-size="6.6" fill="#222" stroke="#222" stroke-width="0.1" text-anchor="middle">79</text>
<text x="107.30" y="480.50" font-size="6.6" fill="#222" stroke="#222" stroke-width="0.1" text-anchor="middle">67</text>
<text x="148.10" y="480.50" font-size="6.6" fill="#222" stroke="#222" stroke-width="0.1" text-anchor="middle">52</text>
<text x="188.90" y="480.50" font-size="6.6" fill="#222" stroke="#222" stroke-width="0.1" text-anchor="middle">31</text>
<text x="229.70" y="480.50" font-size="6.6" fill="#222" stroke="#222" stroke-width="0.1" text-anchor="middle">0</text>
<text x="51.60" y="495.70" font-size="6.6" fill="#4aa6dc" stroke="#4aa6dc" stroke-width="0.05" text-anchor="end" textLength="38.50" lengthAdjust="spacingAndGlyphs">CC17,Low,R+</text>
<text x="51.60" y="503.20" font-size="6.6" fill="#4aa6dc" stroke="#4aa6dc" stroke-width="0.05" text-anchor="end" textLength="23.00" lengthAdjust="spacingAndGlyphs">CHEMO</text>
<text x="66.50" y="495.70" font-size="6.6" fill="#222" stroke="#222" stroke-width="0.1" text-anchor="middle">77</text>
<text x="107.30" y="495.70" font-size="6.6" fill="#222" stroke="#222" stroke-width="0.1" text-anchor="middle">58</text>
<text x="148.10" y="495.70" font-size="6.6" fill="#222" stroke="#222" stroke-width="0.1" text-anchor="middle">44</text>
<text x="188.90" y="495.70" font-size="6.6" fill="#222" stroke="#222" stroke-width="0.1" text-anchor="middle">22</text>
<text x="229.70" y="495.70" font-size="6.6" fill="#222" stroke="#222" stroke-width="0.1" text-anchor="middle">0</text>
<text x="51.60" y="513.50" font-size="6.6" fill="#4aa6dc" stroke="#4aa6dc" stroke-width="0.05" text-anchor="end" textLength="42.30" lengthAdjust="spacingAndGlyphs">CC17,Low,R+R</text>
<text x="66.50" y="513.50" font-size="6.6" fill="#222" stroke="#222" stroke-width="0.1" text-anchor="middle">83</text>
<text x="107.30" y="513.50" font-size="6.6" fill="#222" stroke="#222" stroke-width="0.1" text-anchor="middle">74</text>
<text x="148.10" y="513.50" font-size="6.6" fill="#222" stroke="#222" stroke-width="0.1" text-anchor="middle">60</text>
<text x="188.90" y="513.50" font-size="6.6" fill="#222" stroke="#222" stroke-width="0.1" text-anchor="middle">37</text>
<text x="229.70" y="513.50" font-size="6.6" fill="#222" stroke="#222" stroke-width="0.1" text-anchor="middle">1</text>
<text x="66.50" y="527.60" font-size="6.6" fill="#333" stroke="#333" stroke-width="0.1" text-anchor="middle">0</text>
<text x="107.30" y="527.60" font-size="6.6" fill="#333" stroke="#333" stroke-width="0.1" text-anchor="middle">2</text>
<text x="148.10" y="527.60" font-size="6.6" fill="#333" stroke="#333" stroke-width="0.1" text-anchor="middle">4</text>
<text x="188.90" y="527.60" font-size="6.6" fill="#333" stroke="#333" stroke-width="0.1" text-anchor="middle">6</text>
<text x="229.70" y="527.60" font-size="6.6" fill="#333" stroke="#333" stroke-width="0.1" text-anchor="middle">8</text>
<path d="M55.2 460.5H58.6M55.2 478.2H58.6M55.2 493.4H58.6M55.2 511.2H58.6M66.5 516.8v2.6M107.3 516.8v2.6M148.1 516.8v2.6M188.9 516.8v2.6M229.7 516.8v2.6" stroke="#1a1a1a" stroke-width="0.9" fill="none"/>
<text x="265.90" y="280.60" font-size="12.0" fill="#111" font-weight="bold">D</text>
<text x="341.50" y="280.90" font-size="9.6" fill="#222" textLength="137.50" lengthAdjust="spacingAndGlyphs">CC21 expression per treatment arm</text>
<path d="M339.6 291.8h9.5" stroke="#f0b72f" stroke-width="1.7"/>
<path d="M339.6 301.8h9.5" stroke="#3d9ad6" stroke-width="1.7"/>
<text x="351.70" y="293.90" font-size="6.9" fill="#222" stroke="#222" stroke-width="0.1" textLength="66.80" lengthAdjust="spacingAndGlyphs">CC21 high, R+CHEMO</text>
<text x="433.60" y="293.90" font-size="6.9" fill="#222" stroke="#222" stroke-width="0.1" textLength="46.20" lengthAdjust="spacingAndGlyphs">CC21 high, R+R</text>
<text x="351.70" y="303.90" font-size="6.9" fill="#222" stroke="#222" stroke-width="0.1" textLength="66.80" lengthAdjust="spacingAndGlyphs">CC21 Low, R+CHEMO</text>
<text x="433.60" y="303.90" font-size="6.9" fill="#222" stroke="#222" stroke-width="0.1" textLength="45.20" lengthAdjust="spacingAndGlyphs">CC21 Low, R+R</text>
<path d="M421.40000000000003 291.8h9.5" stroke="#f5c65a" stroke-width="1.5" stroke-dasharray="1.4 1"/>
<path d="M421.40000000000003 301.8h9.5" stroke="#62b2e2" stroke-width="1.5" stroke-dasharray="1.4 1"/>
<text x="310.90" y="316.40" font-size="6.3" fill="#222" stroke="#222" stroke-width="0.1" text-anchor="end" textLength="15.00" lengthAdjust="spacingAndGlyphs">100%</text>
<text x="310.90" y="342.50" font-size="6.3" fill="#222" stroke="#222" stroke-width="0.1" text-anchor="end" textLength="11.80" lengthAdjust="spacingAndGlyphs">75%</text>
<text x="310.90" y="368.60" font-size="6.3" fill="#222" stroke="#222" stroke-width="0.1" text-anchor="end" textLength="11.80" lengthAdjust="spacingAndGlyphs">50%</text>
<text x="310.90" y="394.50" font-size="6.3" fill="#222" stroke="#222" stroke-width="0.1" text-anchor="end" textLength="11.80" lengthAdjust="spacingAndGlyphs">25%</text>
<text x="310.90" y="420.50" font-size="6.3" fill="#222" stroke="#222" stroke-width="0.1" text-anchor="end" textLength="9.40" lengthAdjust="spacingAndGlyphs">0%</text>
<text x="289.90" y="365.70" font-size="7.9" fill="#333" stroke="#333" stroke-width="0.1" text-anchor="middle" textLength="43.00" lengthAdjust="spacingAndGlyphs" transform="rotate(-90 289.90 365.70)">PFS probability</text>
<path d="M317.1 308.5V423.8M316.5 423.2H497.0" stroke="#1a1a1a" stroke-width="1.2" fill="none"/>
<text x="325.10" y="435.50" font-size="6.6" fill="#333" stroke="#333" stroke-width="0.1" text-anchor="middle">0</text>
<text x="367.50" y="435.50" font-size="6.6" fill="#333" stroke="#333" stroke-width="0.1" text-anchor="middle">2</text>
<text x="409.90" y="435.50" font-size="6.6" fill="#333" stroke="#333" stroke-width="0.1" text-anchor="middle">4</text>
<text x="452.30" y="435.50" font-size="6.6" fill="#333" stroke="#333" stroke-width="0.1" text-anchor="middle">6</text>
<text x="494.70" y="435.50" font-size="6.6" fill="#333" stroke="#333" stroke-width="0.1" text-anchor="middle">8</text>
<path d="M313.5 313.5H317.1M313.5 339.6H317.1M313.5 365.7H317.1M313.5 391.6H317.1M313.5 417.6H317.1M325.1 423.2v2.8M367.5 423.2v2.8M409.9 423.2v2.8M452.3 423.2v2.8M494.7 423.2v2.8" stroke="#1a1a1a" stroke-width="0.9" fill="none"/>
<text x="392.50" y="446.80" font-size="8.1" fill="#333" stroke="#333" stroke-width="0.22" textLength="35.70" lengthAdjust="spacingAndGlyphs">Time (years)</text>
<path d="M324.6 313.5H333.0V313.5H333.0V315.0H345.0V315.0H345.0V318.0H355.0V318.0H355.0V321.0H365.0V321.0H365.0V324.0H375.0V324.0H375.0V327.0H385.0V327.0H385.0V331.0H395.0V331.0H395.0V334.0H410.0V334.0H410.0V337.0H427.5V337.0H427.5V340.0H437.5V340.0H437.5V343.8H442.5V343.8H442.5V348.8H447.5V348.8H447.5V352.0H500.0V352.0" stroke="#f5c65a" stroke-width="1.3" fill="none" stroke-dasharray="2.2 1.8"/>
<path d="M370.2 322.7v2.6M387.0 329.7v2.6M393.4 329.7v2.6M403.4 332.7v2.6M406.6 332.7v2.6M412.0 335.7v2.6M421.6 335.7v2.6M429.5 338.7v2.6M435.9 338.7v2.6M439.5 342.5v2.6M449.5 350.7v2.6M452.7 350.7v2.6M462.3 350.7v2.6M475.1 350.7v2.6M491.1 350.7v2.6M494.3 350.7v2.6M497.5 350.7v2.6" stroke="#f5c65a" stroke-width="0.8" fill="none"/>
<path d="M324.6 313.5H340.0V313.5H340.0V315.5H352.0V315.5H352.0V317.3H362.0V317.3H362.0V320.0H370.0V320.0H370.0V325.0H378.0V325.0H378.0V330.0H385.0V330.0H385.0V334.0H392.0V334.0H392.0V336.0H400.0V336.0H400.0V337.5H410.0V337.5H410.0V341.0H420.0V341.0H420.0V345.0H435.0V345.0H435.0V346.3H442.5V346.3H442.5V350.0H460.0V350.0H460.0V351.5H500.0V351.5" stroke="#62b2e2" stroke-width="1.3" fill="none" stroke-dasharray="2.2 1.8"/>
<path d="M354.0 316.0v2.6M357.2 316.0v2.6M360.4 316.0v2.6M367.2 318.7v2.6M375.2 323.7v2.6M380.0 328.7v2.6M390.2 332.7v2.6M402.0 336.2v2.6M408.4 336.2v2.6M418.4 339.7v2.6M425.2 343.7v2.6M431.6 343.7v2.6M437.0 345.0v2.6M440.2 345.0v2.6M447.7 348.7v2.6M462.0 350.2v2.6M465.2 350.2v2.6M474.8 350.2v2.6M487.6 350.2v2.6M494.0 350.2v2.6M497.2 350.2v2.6" stroke="#62b2e2" stroke-width="0.8" fill="none"/>
<path d="M324.6 313.5H335.8V313.5H335.8V318.0H338.0V318.0H338.0V321.6H347.0V321.6H347.0V323.5H352.0V323.5H352.0V326.0H356.0V326.0H356.0V334.6H362.0V334.6H362.0V338.0H368.0V338.0H368.0V341.5H376.0V341.5H376.0V344.0H383.0V344.0H383.0V346.5H390.0V346.5H390.0V349.0H395.0V349.0H395.0V351.3H400.0V351.3H400.0V354.0H404.0V354.0H404.0V356.5H407.5V356.5H407.5V358.8H420.0V358.8H420.0V361.3H428.0V361.3H428.0V363.5H432.5V363.5H432.5V365.5H437.5V365.5H437.5V368.8H480.0V368.8H480.0V374.5H500.0V374.5" stroke="#f0b72f" stroke-width="1.35" fill="none"/>
<path d="M364.0 336.7v2.6M378.0 342.7v2.6M381.2 342.7v2.6M385.0 345.2v2.6M388.2 345.2v2.6M392.0 347.7v2.6M406.0 355.2v2.6M409.5 357.5v2.6M422.0 360.0v2.6M425.2 360.0v2.6M442.7 367.5v2.6M445.9 367.5v2.6M452.3 367.5v2.6M461.9 367.5v2.6M477.9 367.5v2.6M482.0 373.2v2.6M485.2 373.2v2.6M491.6 373.2v2.6" stroke="#f0b72f" stroke-width="0.8" fill="none"/>
<path d="M324.6 313.5H335.8V313.5H335.8V316.6H345.9V316.6H345.9V322.0H357.5V322.0H357.5V323.4H367.9V323.4H367.9V326.0H375.0V326.0H375.0V327.5H380.0V327.5H380.0V329.4H382.5V329.4H382.5V331.3H395.0V331.3H395.0V333.0H407.5V333.0H407.5V335.0H417.5V335.0H417.5V337.0H437.5V337.0H437.5V339.5H448.7V339.5H448.7V347.0H461.2V347.0H461.2V350.0H492.5V350.0H492.5V384.3H495.0V384.3" stroke="#3d9ad6" stroke-width="1.35" fill="none"/>
<path d="M373.1 324.7v2.6M377.0 326.2v2.6M384.5 330.0v2.6M387.7 330.0v2.6M409.5 333.7v2.6M412.7 333.7v2.6M415.9 333.7v2.6M425.9 335.7v2.6M445.9 338.2v2.6M453.9 345.7v2.6M469.6 348.7v2.6M482.4 348.7v2.6M488.8 348.7v2.6" stroke="#3d9ad6" stroke-width="0.8" fill="none"/>
<text x="444.50" y="326.20" font-size="7.0" fill="#62b2e2" stroke="#62b2e2" stroke-width="0.1" textLength="28.00" lengthAdjust="spacingAndGlyphs">CC21 low</text>
<text x="351.40" y="366.50" font-size="7.0" fill="#f5c65a" stroke="#f5c65a" stroke-width="0.1" textLength="30.60" lengthAdjust="spacingAndGlyphs">CC21 high</text>
<text x="320.70" y="395.80" font-size="6.7" fill="#222" stroke="#222" stroke-width="0.1" textLength="139.80" lengthAdjust="spacingAndGlyphs">CC21 high versus CC21 low R+R logrank <tspan font-style="italic">P</tspan> = .99</text>
<text x="320.70" y="403.40" font-size="6.7" fill="#222" stroke="#222" stroke-width="0.1" textLength="166.60" lengthAdjust="spacingAndGlyphs">CC21 high versus CC21 low R+CHEMO logrank <tspan font-style="italic">P</tspan> = .0039</text>
<text x="320.70" y="411.20" font-size="6.7" fill="#222" stroke="#222" stroke-width="0.1" textLength="177.50" lengthAdjust="spacingAndGlyphs">CC21 high R+CHEMO versus CC21 high R+R logrank <tspan font-weight="bold">P = .01</tspan></text>
<text x="320.70" y="418.50" font-size="6.7" fill="#222" stroke="#222" stroke-width="0.1" textLength="171.30" lengthAdjust="spacingAndGlyphs">CC21 low R+CHEMO versus CC21 low R+R logrank <tspan font-style="italic">P</tspan> = .73</text>
<path d="M317.1 455.3V519.0M316.5 518.4H502.5" stroke="#1a1a1a" stroke-width="1.2" fill="none"/>
<text x="311.30" y="463.10" font-size="6.6" fill="#eeb52a" stroke="#eeb52a" stroke-width="0.05" text-anchor="end" textLength="40.70" lengthAdjust="spacingAndGlyphs">CC21,High,R+</text>
<text x="311.30" y="470.30" font-size="6.6" fill="#eeb52a" stroke="#eeb52a" stroke-width="0.05" text-anchor="end" textLength="23.00" lengthAdjust="spacingAndGlyphs">CHEMO</text>
<text x="325.10" y="463.10" font-size="6.6" fill="#222" stroke="#222" stroke-width="0.1" text-anchor="middle">74</text>
<text x="367.50" y="463.10" font-size="6.6" fill="#222" stroke="#222" stroke-width="0.1" text-anchor="middle">54</text>
<text x="409.90" y="463.10" font-size="6.6" fill="#222" stroke="#222" stroke-width="0.1" text-anchor="middle">40</text>
<text x="452.30" y="463.10" font-size="6.6" fill="#222" stroke="#222" stroke-width="0.1" text-anchor="middle">21</text>
<text x="494.70" y="463.10" font-size="6.6" fill="#222" stroke="#222" stroke-width="0.1" text-anchor="middle">1</text>
<text x="311.30" y="481.10" font-size="6.6" fill="#eeb52a" stroke="#eeb52a" stroke-width="0.05" text-anchor="end" textLength="44.60" lengthAdjust="spacingAndGlyphs">CC21,High,R+R</text>
<text x="325.10" y="481.10" font-size="6.6" fill="#222" stroke="#222" stroke-width="0.1" text-anchor="middle">86</text>
<text x="367.50" y="481.10" font-size="6.6" fill="#222" stroke="#222" stroke-width="0.1" text-anchor="middle">75</text>
<text x="409.90" y="481.10" font-size="6.6" fill="#222" stroke="#222" stroke-width="0.1" text-anchor="middle">62</text>
<text x="452.30" y="481.10" font-size="6.6" fill="#222" stroke="#222" stroke-width="0.1" text-anchor="middle">38</text>
<text x="494.70" y="481.10" font-size="6.6" fill="#222" stroke="#222" stroke-width="0.1" text-anchor="middle">1</text>
<text x="311.30" y="496.80" font-size="6.6" fill="#4aa6dc" stroke="#4aa6dc" stroke-width="0.05" text-anchor="end" textLength="38.50" lengthAdjust="spacingAndGlyphs">CC21,Low,R+</text>
<text x="311.30" y="504.10" font-size="6.6" fill="#4aa6dc" stroke="#4aa6dc" stroke-width="0.05" text-anchor="end" textLength="23.00" lengthAdjust="spacingAndGlyphs">CHEMO</text>
<text x="325.10" y="496.80" font-size="6.6" fill="#222" stroke="#222" stroke-width="0.1" text-anchor="middle">86</text>
<text x="367.50" y="496.80" font-size="6.6" fill="#222" stroke="#222" stroke-width="0.1" text-anchor="middle">74</text>
<text x="409.90" y="496.80" font-size="6.6" fill="#222" stroke="#222" stroke-width="0.1" text-anchor="middle">66</text>
<text x="452.30" y="496.80" font-size="6.6" fill="#222" stroke="#222" stroke-width="0.1" text-anchor="middle">35</text>
<text x="494.70" y="496.80" font-size="6.6" fill="#222" stroke="#222" stroke-width="0.1" text-anchor="middle">1</text>
<text x="311.30" y="514.90" font-size="6.6" fill="#4aa6dc" stroke="#4aa6dc" stroke-width="0.05" text-anchor="end" textLength="42.30" lengthAdjust="spacingAndGlyphs">CC21,Low,R+R</text>
<text x="325.10" y="514.90" font-size="6.6" fill="#222" stroke="#222" stroke-width="0.1" text-anchor="middle">76</text>
<text x="367.50" y="514.90" font-size="6.6" fill="#222" stroke="#222" stroke-width="0.1" text-anchor="middle">66</text>
<text x="409.90" y="514.90" font-size="6.6" fill="#222" stroke="#222" stroke-width="0.1" text-anchor="middle">50</text>
<text x="452.30" y="514.90" font-size="6.6" fill="#222" stroke="#222" stroke-width="0.1" text-anchor="middle">30</text>
<text x="494.70" y="514.90" font-size="6.6" fill="#222" stroke="#222" stroke-width="0.1" text-anchor="middle">0</text>
<text x="325.10" y="529.70" font-size="6.6" fill="#333" stroke="#333" stroke-width="0.1" text-anchor="middle">0</text>
<text x="367.50" y="529.70" font-size="6.6" fill="#333" stroke="#333" stroke-width="0.1" text-anchor="middle">2</text>
<text x="409.90" y="529.70" font-size="6.6" fill="#333" stroke="#333" stroke-width="0.1" text-anchor="middle">4</text>
<text x="452.30" y="529.70" font-size="6.6" fill="#333" stroke="#333" stroke-width="0.1" text-anchor="middle">6</text>
<text x="494.70" y="529.70" font-size="6.6" fill="#333" stroke="#333" stroke-width="0.1" text-anchor="middle">8</text>
<path d="M313.70000000000005 460.8H317.1M313.70000000000005 478.8H317.1M313.70000000000005 494.5H317.1M313.70000000000005 512.6H317.1M325.1 518.4v2.6M367.5 518.4v2.6M409.9 518.4v2.6M452.3 518.4v2.6M494.7 518.4v2.6" stroke="#1a1a1a" stroke-width="0.9" fill="none"/>
<rect x="0.5" y="0.5" width="519" height="537" fill="none" stroke="#666" stroke-width="1"/>
</svg>
</body></html>
